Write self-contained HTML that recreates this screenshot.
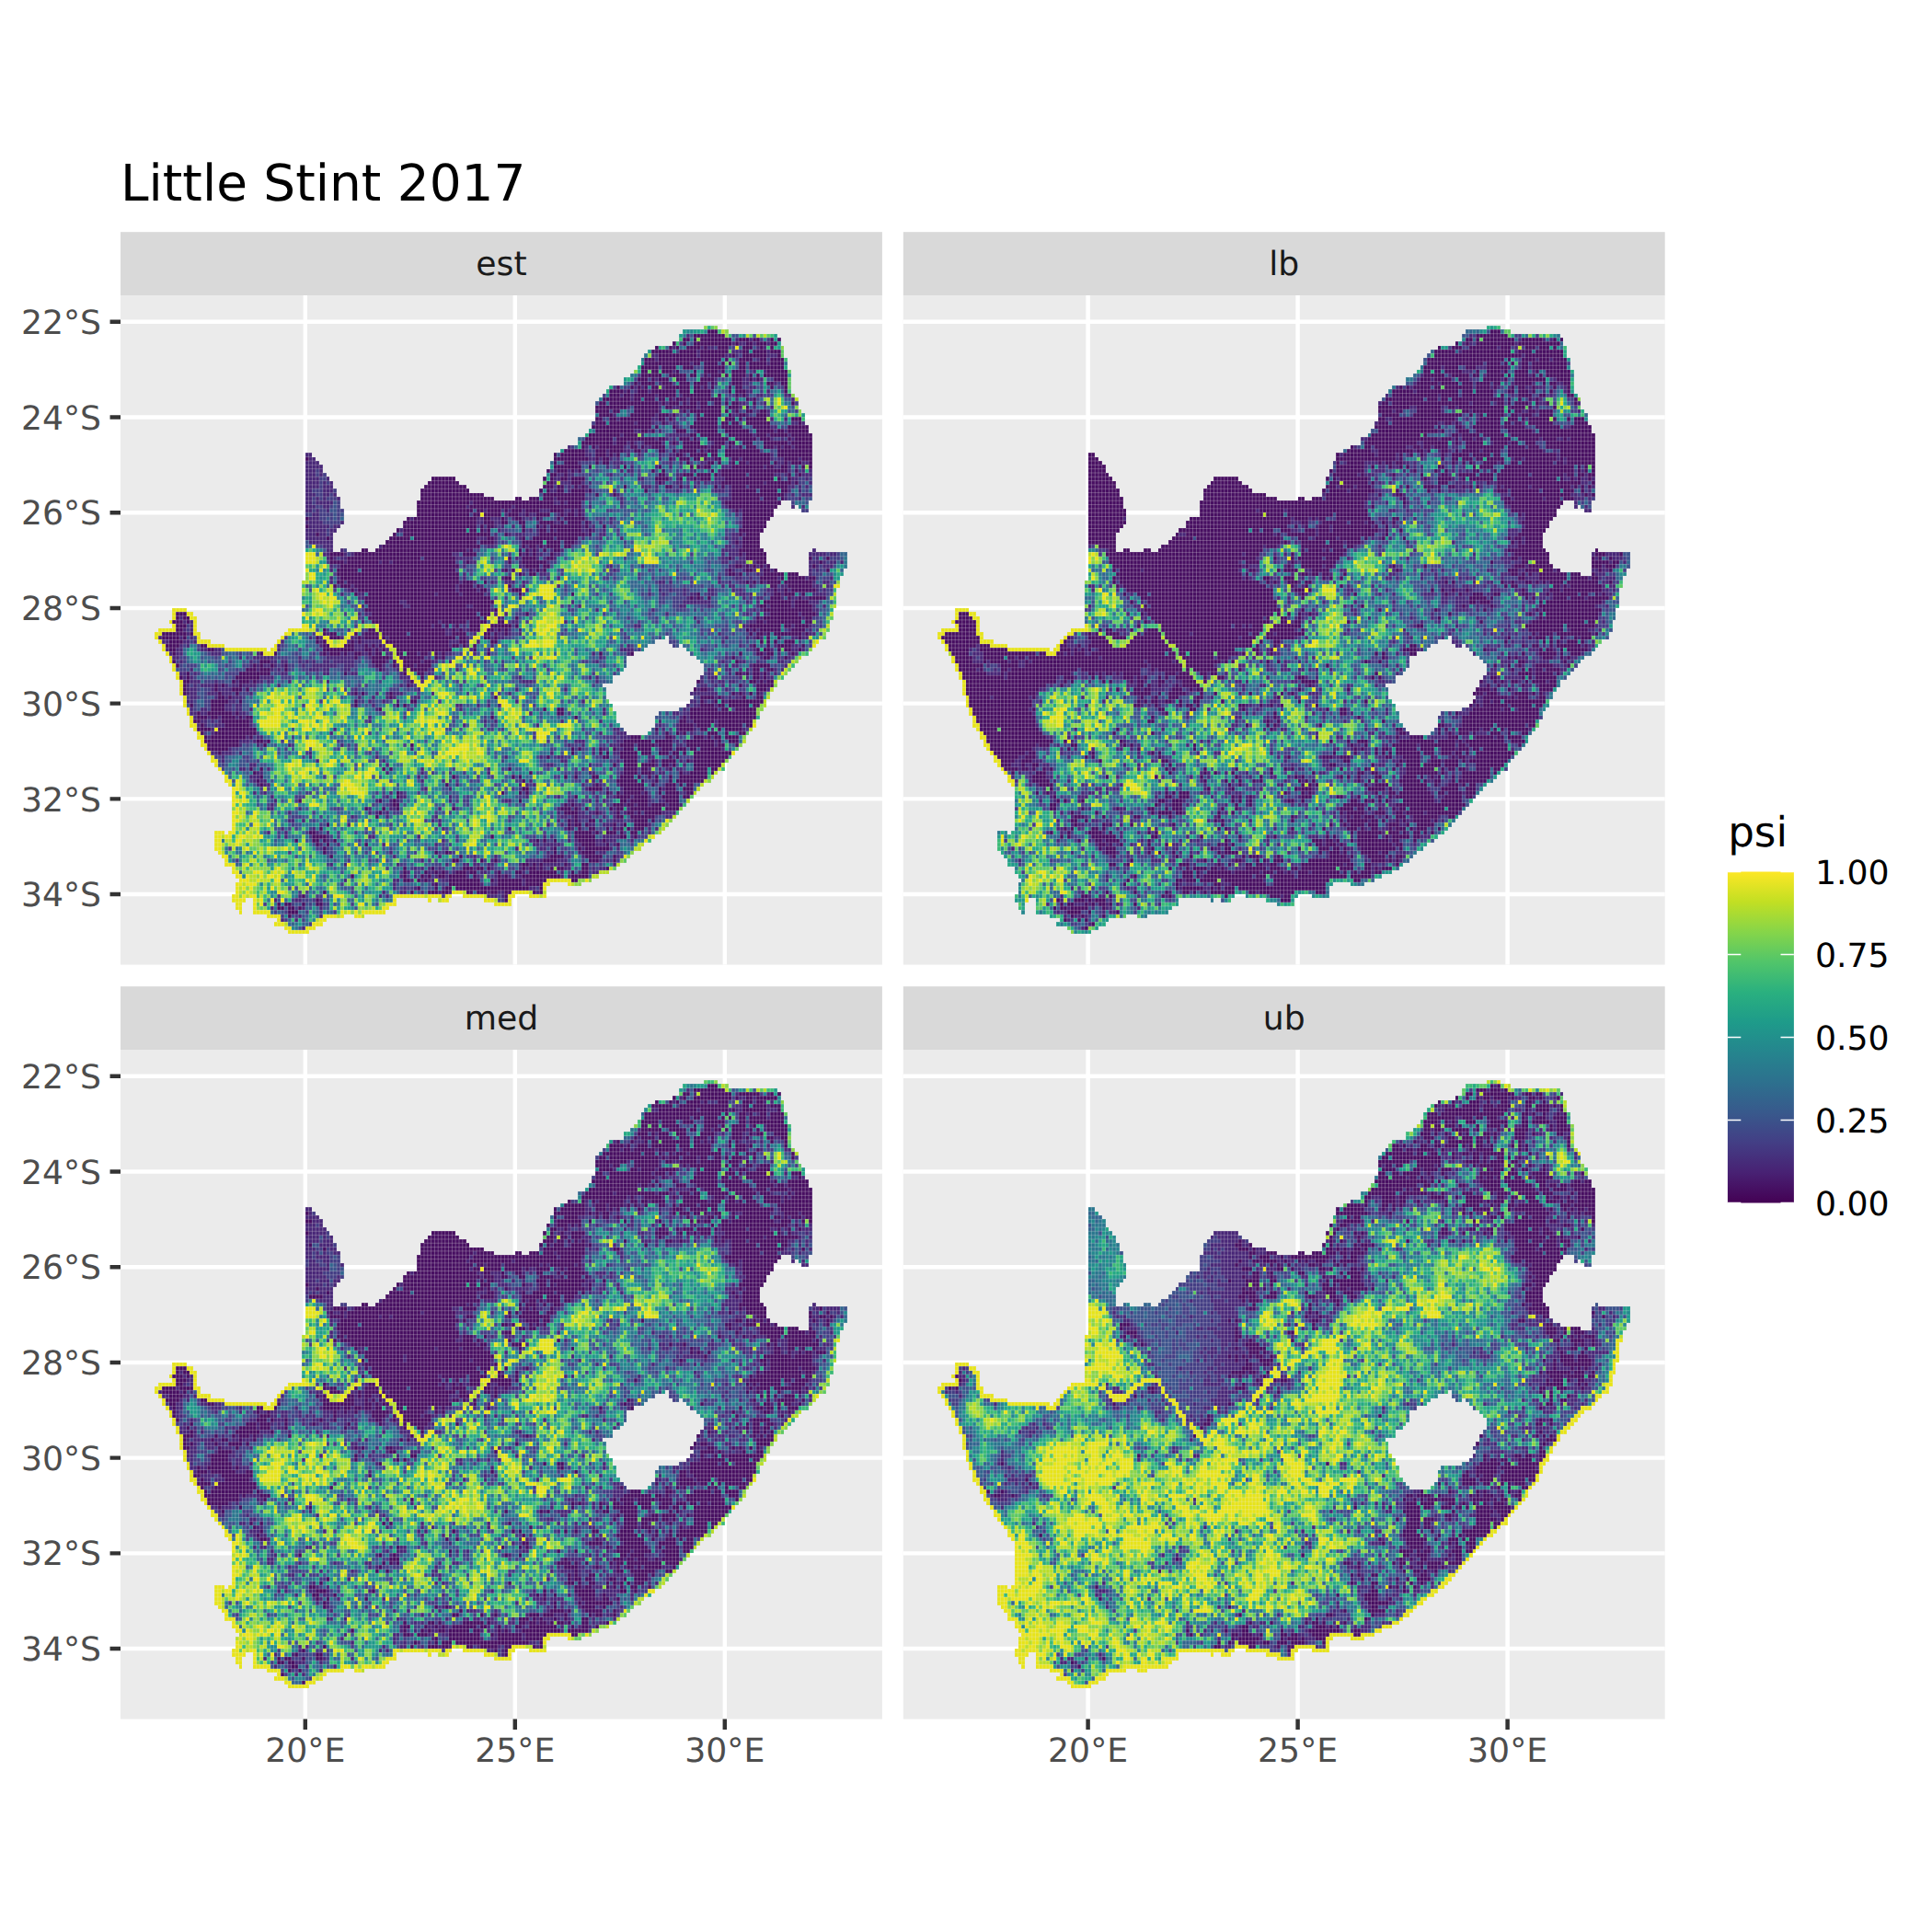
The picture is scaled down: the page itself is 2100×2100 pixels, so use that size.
<!DOCTYPE html>
<html><head><meta charset="utf-8"><title>Little Stint 2017</title>
<style>html,body{margin:0;padding:0;background:#fff}svg{display:block}text{font-family:'DejaVu Sans','Liberation Sans',sans-serif;text-rendering:geometricPrecision}</style></head>
<body>
<svg width="2100" height="2100" viewBox="0 0 2100 2100">
<rect x="0" y="0" width="2100" height="2100" fill="#fff"/>
<text x="131" y="218" font-size="54.9" fill="#000">Little Stint 2017</text>
<rect x="131.0" y="252.2" width="827.9" height="68.8" fill="#d9d9d9"/>
<text x="545.0" y="299.2" font-size="36.2" fill="#1a1a1a" text-anchor="middle">est</text>
<rect x="131.0" y="321.0" width="827.9" height="727.6" fill="#ebebeb"/>
<path d="M131.0 349.75h827.9M131.0 453.47h827.9M131.0 557.19h827.9M131.0 660.91h827.9M131.0 764.63h827.9M131.0 868.35h827.9M131.0 972.07h827.9M331.80 321.0v727.6M559.80 321.0v727.6M787.80 321.0v727.6" stroke="#fff" stroke-width="4.45" fill="none"/>
<defs><path id="mk" d="M162 1h4v1h-4zM156 2h13v1h-13zM155 3h28v1h-28zM155 4h29v1h-29zM153 5h31v1h-31zM148 6h37v1h-37zM146 7h39v1h-39zM145 8h40v1h-40zM144 9h42v1h-42zM144 10h42v1h-42zM143 11h43v1h-43zM142 12h45v1h-45zM141 13h46v1h-46zM139 14h48v1h-48zM139 15h48v1h-48zM135 16h52v1h-52zM134 17h53v1h-53zM133 18h55v1h-55zM132 19h57v1h-57zM131 20h58v1h-58zM131 21h58v1h-58zM131 22h59v1h-59zM131 23h60v1h-60zM131 24h60v1h-60zM130 25h61v1h-61zM130 26h62v1h-62zM129 27h63v1h-63zM128 28h65v1h-65zM126 29h67v1h-67zM126 30h67v1h-67zM123 31h70v1h-70zM121 32h72v1h-72zM48 33h2v1h-2zM119 33h74v1h-74zM48 34h3v1h-3zM119 34h74v1h-74zM48 35h4v1h-4zM118 35h75v1h-75zM48 36h5v1h-5zM118 36h75v1h-75zM48 37h5v1h-5zM117 37h76v1h-76zM48 38h6v1h-6zM117 38h76v1h-76zM48 39h7v1h-7zM84 39h7v1h-7zM116 39h77v1h-77zM48 40h8v1h-8zM83 40h9v1h-9zM116 40h77v1h-77zM48 41h8v1h-8zM82 41h12v1h-12zM116 41h77v1h-77zM48 42h9v1h-9zM81 42h14v1h-14zM115 42h78v1h-78zM48 43h9v1h-9zM81 43h18v1h-18zM115 43h78v1h-78zM48 44h10v1h-10zM81 44h21v1h-21zM108 44h2v1h-2zM112 44h81v1h-81zM48 45h10v1h-10zM80 45h104v1h-104zM187 45h5v1h-5zM48 46h10v1h-10zM80 46h103v1h-103zM187 46h1v1h-1zM189 46h3v1h-3zM48 47h11v1h-11zM80 47h102v1h-102zM190 47h2v1h-2zM48 48h11v1h-11zM80 48h102v1h-102zM48 49h11v1h-11zM77 49h104v1h-104zM48 50h11v1h-11zM76 50h104v1h-104zM48 51h10v1h-10zM76 51h104v1h-104zM48 52h9v1h-9zM74 52h105v1h-105zM48 53h8v1h-8zM73 53h105v1h-105zM48 54h8v1h-8zM72 54h106v1h-106zM48 55h8v1h-8zM71 55h107v1h-107zM48 56h8v1h-8zM69 56h109v1h-109zM48 57h8v1h-8zM58 57h2v1h-2zM64 57h2v1h-2zM68 57h111v1h-111zM193 57h1v1h-1zM48 58h132v1h-132zM192 58h11v1h-11zM48 59h132v1h-132zM192 59h11v1h-11zM48 60h132v1h-132zM192 60h11v1h-11zM48 61h133v1h-133zM192 61h11v1h-11zM48 62h135v1h-135zM192 62h10v1h-10zM48 63h141v1h-141zM192 63h10v1h-10zM48 64h153v1h-153zM47 65h154v1h-154zM47 66h154v1h-154zM47 67h153v1h-153zM47 68h153v1h-153zM47 69h153v1h-153zM47 70h153v1h-153zM47 71h153v1h-153zM10 72h4v1h-4zM47 72h152v1h-152zM10 73h6v1h-6zM47 73h152v1h-152zM10 74h7v1h-7zM47 74h152v1h-152zM9 75h8v1h-8zM47 75h151v1h-151zM10 76h7v1h-7zM47 76h151v1h-151zM6 77h11v1h-11zM43 77h155v1h-155zM5 78h13v1h-13zM42 78h155v1h-155zM5 79h13v1h-13zM41 79h110v1h-110zM152 79h45v1h-45zM6 80h15v1h-15zM40 80h108v1h-108zM152 80h43v1h-43zM7 81h18v1h-18zM39 81h107v1h-107zM153 81h2v1h-2zM156 81h38v1h-38zM7 82h30v1h-30zM38 82h107v1h-107zM157 82h36v1h-36zM8 83h134v1h-134zM158 83h34v1h-34zM9 84h131v1h-131zM160 84h30v1h-30zM9 85h131v1h-131zM161 85h28v1h-28zM10 86h130v1h-130zM162 86h26v1h-26zM10 87h129v1h-129zM162 87h25v1h-25zM11 88h127v1h-127zM162 88h24v1h-24zM11 89h125v1h-125zM161 89h24v1h-24zM12 90h124v1h-124zM160 90h23v1h-23zM12 91h121v1h-121zM160 91h23v1h-23zM12 92h122v1h-122zM159 92h23v1h-23zM12 93h122v1h-122zM158 93h23v1h-23zM13 94h121v1h-121zM159 94h22v1h-22zM13 95h122v1h-122zM158 95h22v1h-22zM13 96h123v1h-123zM157 96h23v1h-23zM14 97h122v1h-122zM155 97h24v1h-24zM14 98h123v1h-123zM149 98h29v1h-29zM15 99h122v1h-122zM148 99h30v1h-30zM15 100h122v1h-122zM148 100h29v1h-29zM15 101h123v1h-123zM148 101h29v1h-29zM16 102h123v1h-123zM147 102h29v1h-29zM17 103h123v1h-123zM146 103h29v1h-29zM17 104h157v1h-157zM18 105h156v1h-156zM18 106h155v1h-155zM19 107h153v1h-153zM20 108h151v1h-151zM21 109h149v1h-149zM21 110h148v1h-148zM22 111h146v1h-146zM23 112h145v1h-145zM24 113h142v1h-142zM25 114h140v1h-140zM25 115h139v1h-139zM26 116h136v1h-136zM27 117h134v1h-134zM27 118h133v1h-133zM27 119h132v1h-132zM27 120h131v1h-131zM27 121h130v1h-130zM27 122h129v1h-129zM27 123h128v1h-128zM27 124h127v1h-127zM27 125h126v1h-126zM27 126h125v1h-125zM27 127h124v1h-124zM22 128h3v1h-3zM26 128h124v1h-124zM22 129h126v1h-126zM22 130h125v1h-125zM22 131h123v1h-123zM22 132h122v1h-122zM23 133h119v1h-119zM24 134h117v1h-117zM25 135h115v1h-115zM25 136h113v1h-113zM27 137h110v1h-110zM27 138h108v1h-108zM28 139h104v1h-104zM29 140h101v1h-101zM28 141h90v1h-90zM123 141h4v1h-4zM28 142h89v1h-89zM28 143h89v1h-89zM27 144h63v1h-63zM93 144h15v1h-15zM112 144h5v1h-5zM27 145h4v1h-4zM33 145h41v1h-41zM83 145h1v1h-1zM86 145h3v1h-3zM99 145h8v1h-8zM28 146h2v1h-2zM33 146h41v1h-41zM102 146h5v1h-5zM28 147h2v1h-2zM33 147h39v1h-39zM29 148h1v1h-1zM33 148h38v1h-38zM37 149h22v1h-22zM62 149h3v1h-3zM40 150h14v1h-14zM39 151h14v1h-14zM42 152h9v1h-9zM43 153h6v1h-6z"/><clipPath id="cp"><use href="#mk"/></clipPath><g id="sm" clip-path="url(#cp)" stroke="#ebebeb" fill="none"><path stroke-opacity=".3" stroke-width=".24" d="M0 0v162M1 0v162M2 0v162M3 0v162M4 0v162M5 0v162M6 0v162M7 0v162M8 0v162M9 0v162M10 0v162M11 0v162M12 0v162M13 0v162M14 0v162M15 0v162M16 0v162M17 0v162M18 0v162M19 0v162M20 0v162M21 0v162M22 0v162M23 0v162M24 0v162M25 0v162M26 0v162M27 0v162M28 0v162M29 0v162M30 0v162M31 0v162M32 0v162M33 0v162M34 0v162M35 0v162M36 0v162M37 0v162M38 0v162M39 0v162M40 0v162M41 0v162M42 0v162M43 0v162M44 0v162M45 0v162M46 0v162M47 0v162M48 0v162M49 0v162M50 0v162M51 0v162M52 0v162M53 0v162M54 0v162M55 0v162M56 0v162M57 0v162M58 0v162M59 0v162M60 0v162M61 0v162M62 0v162M63 0v162M64 0v162M65 0v162M66 0v162M67 0v162M68 0v162M69 0v162M70 0v162M71 0v162M72 0v162M73 0v162M74 0v162M75 0v162M76 0v162M77 0v162M78 0v162M79 0v162M80 0v162M81 0v162M82 0v162M83 0v162M84 0v162M85 0v162M86 0v162M87 0v162M88 0v162M89 0v162M90 0v162M91 0v162M92 0v162M93 0v162M94 0v162M95 0v162M96 0v162M97 0v162M98 0v162M99 0v162M100 0v162M101 0v162M102 0v162M103 0v162M104 0v162M105 0v162M106 0v162M107 0v162M108 0v162M109 0v162M110 0v162M111 0v162M112 0v162M113 0v162M114 0v162M115 0v162M116 0v162M117 0v162M118 0v162M119 0v162M120 0v162M121 0v162M122 0v162M123 0v162M124 0v162M125 0v162M126 0v162M127 0v162M128 0v162M129 0v162M130 0v162M131 0v162M132 0v162M133 0v162M134 0v162M135 0v162M136 0v162M137 0v162M138 0v162M139 0v162M140 0v162M141 0v162M142 0v162M143 0v162M144 0v162M145 0v162M146 0v162M147 0v162M148 0v162M149 0v162M150 0v162M151 0v162M152 0v162M153 0v162M154 0v162M155 0v162M156 0v162M157 0v162M158 0v162M159 0v162M160 0v162M161 0v162M162 0v162M163 0v162M164 0v162M165 0v162M166 0v162M167 0v162M168 0v162M169 0v162M170 0v162M171 0v162M172 0v162M173 0v162M174 0v162M175 0v162M176 0v162M177 0v162M178 0v162M179 0v162M180 0v162M181 0v162M182 0v162M183 0v162M184 0v162M185 0v162M186 0v162M187 0v162M188 0v162M189 0v162M190 0v162M191 0v162M192 0v162M193 0v162M194 0v162M195 0v162M196 0v162M197 0v162M198 0v162M199 0v162M200 0v162M201 0v162M202 0v162M203 0v162M204 0v162M205 0v162M206 0v162M207 0v162M208 0v162M209 0v162M210 0v162"/><path stroke-opacity=".3" stroke-width=".21" d="M0 0h210M0 1h210M0 2h210M0 3h210M0 4h210M0 5h210M0 6h210M0 7h210M0 8h210M0 9h210M0 10h210M0 11h210M0 12h210M0 13h210M0 14h210M0 15h210M0 16h210M0 17h210M0 18h210M0 19h210M0 20h210M0 21h210M0 22h210M0 23h210M0 24h210M0 25h210M0 26h210M0 27h210M0 28h210M0 29h210M0 30h210M0 31h210M0 32h210M0 33h210M0 34h210M0 35h210M0 36h210M0 37h210M0 38h210M0 39h210M0 40h210M0 41h210M0 42h210M0 43h210M0 44h210M0 45h210M0 46h210M0 47h210M0 48h210M0 49h210M0 50h210M0 51h210M0 52h210M0 53h210M0 54h210M0 55h210M0 56h210M0 57h210M0 58h210M0 59h210M0 60h210M0 61h210M0 62h210M0 63h210M0 64h210M0 65h210M0 66h210M0 67h210M0 68h210M0 69h210M0 70h210M0 71h210M0 72h210M0 73h210M0 74h210M0 75h210M0 76h210M0 77h210M0 78h210M0 79h210M0 80h210M0 81h210M0 82h210M0 83h210M0 84h210M0 85h210M0 86h210M0 87h210M0 88h210M0 89h210M0 90h210M0 91h210M0 92h210M0 93h210M0 94h210M0 95h210M0 96h210M0 97h210M0 98h210M0 99h210M0 100h210M0 101h210M0 102h210M0 103h210M0 104h210M0 105h210M0 106h210M0 107h210M0 108h210M0 109h210M0 110h210M0 111h210M0 112h210M0 113h210M0 114h210M0 115h210M0 116h210M0 117h210M0 118h210M0 119h210M0 120h210M0 121h210M0 122h210M0 123h210M0 124h210M0 125h210M0 126h210M0 127h210M0 128h210M0 129h210M0 130h210M0 131h210M0 132h210M0 133h210M0 134h210M0 135h210M0 136h210M0 137h210M0 138h210M0 139h210M0 140h210M0 141h210M0 142h210M0 143h210M0 144h210M0 145h210M0 146h210M0 147h210M0 148h210M0 149h210M0 150h210M0 151h210M0 152h210M0 153h210M0 154h210M0 155h210M0 156h210M0 157h210M0 158h210M0 159h210M0 160h210M0 161h210M0 162h210"/></g></defs><g transform="translate(149.40 349.75) scale(3.8000 4.3217)">
<g fill="none" stroke-width="1" shape-rendering="crispEdges">
<use href="#mk" fill="#470e61"/>
<path stroke="#482677" d="M157 3.5h1m13 1h1m3 0h1m-6 1h1m1 0h2m2 0h1m3 0h1m-28 1h1m7 0h1m1 0h2m12 0h1m1 0h1m-20 1h1m9 0h3m7 0h1m-34 1h2m11 0h1m7 0h2m1 0h1m8 0h3m-35 1h1m28 0h1m-20 1h1m21 0h1m-28 2h1m12 0h1m9 0h1m2 0h1m-17 1h1m-16 1h1m16 0h1m7 0h2m1 0h1m1 0h1m-36 1h1m5 0h1m15 0h1m7 0h2m7 0h1m-41 1h1m1 0h1m5 0h1m10 0h1m13 0h2m-38 1h1m2 0h1m3 0h1m27 0h2m4 0h1m-43 1h1m2 0h1m6 0h1m6 0h1m16 0h1m1 0h1m2 0h2m6 0h2m-46 1h1m11 0h1m3 0h1m10 0h1m2 0h1m3 0h1m11 0h1m-39 1h1m1 0h1m5 0h1m2 0h1m11 0h2m5 0h1m-40 1h1m8 0h1m3 0h2m5 0h1m11 0h1m3 0h1m4 0h1m-33 1h1m5 0h1m14 0h1m6 0h1m2 0h1m-45 1h1m11 0h1m3 0h1m4 0h1m12 0h2m2 0h1m5 0h1m-44 1h1m9 0h2m4 0h1m27 0h1m3 0h1m-44 1h1m4 0h1m3 0h1m1 0h1m33 0h2m1 0h1m-37 1h1m26 0h2m-41 1h2m2 0h1m2 0h1m9 0h1m22 0h1m2 0h1m-48 1h1m5 0h1m7 0h6m18 0h1m3 0h1m5 0h1m-39 1h1m2 0h1m1 0h1m6 0h1m20 0h1m2 0h1m2 0h1m-52 1h1m3 0h1m1 0h1m1 0h1m5 0h1m1 0h1m1 0h1m9 0h1m21 0h1m-64 1h1m4 0h1m2 0h1m7 0h1m5 0h2m16 0h1m6 0h2m10 0h1m1 0h1m2 0h1m-60 1h1m5 0h1m4 0h2m4 0h1m16 0h1m-115 1h2m78 0h2m4 0h1m1 0h1m3 0h1m2 0h1m5 0h1m2 0h2m2 0h1m24 0h1m-133 1h2m78 0h2m1 0h1m2 0h1m1 0h1m11 0h1m3 0h1m9 0h2m7 0h1m8 0h1m1 0h2m4 0h1m-142 1h4m74 0h1m9 0h3m13 0h1m2 0h1m5 0h2m6 0h1m4 0h1m8 0h2m1 0h1m3 0h2m-144 1h5m81 0h1m2 0h1m3 0h1m6 0h1m3 0h1m8 0h1m5 0h3m9 0h1m2 0h2m2 0h1m1 0h1m-141 1h3m1 0h1m66 0h1m3 0h1m1 0h1m12 0h1m1 0h2m16 0h2m6 0h1m19 0h1m3 0h1m1 0h1m-145 1h3m1 0h1m67 0h2m1 0h2m10 0h1m18 0h2m10 0h1m15 0h2m1 0h1m2 0h1m1 0h3m-145 1h4m2 0h1m64 0h2m2 0h1m19 0h2m9 0h1m2 0h2m1 0h1m4 0h3m19 0h2m2 0h1m-144 1h4m1 0h1m1 0h1m63 0h1m1 0h3m3 0h1m1 0h1m18 0h1m1 0h1m3 0h2m4 0h1m1 0h1m2 0h2m12 0h1m7 0h1m4 0h1m-145 1h4m1 0h3m67 0h1m2 0h1m1 0h1m15 0h3m1 0h1m8 0h1m1 0h1m9 0h1m16 0h2m1 0h1m1 0h1m-144 1h2m3 0h3m62 0h2m3 0h1m4 0h1m7 0h1m11 0h1m5 0h1m10 0h3m1 0h1m16 0h1m2 0h1m-142 1h3m2 0h2m1 0h1m80 0h1m31 0h1m15 0h1m1 0h1m2 0h3m-145 1h2m1 0h1m1 0h1m3 0h1m61 0h1m18 0h1m28 0h3m15 0h1m3 0h1m-142 1h2m1 0h5m39 0h1m23 0h2m1 0h1m15 0h1m28 0h1m-120 1h3m2 0h2m39 0h1m12 0h1m21 0h1m38 0h1m18 0h1m2 0h1m-143 1h2m1 0h1m2 0h1m44 0h1m6 0h1m3 0h1m4 0h3m4 0h2m1 0h1m1 0h1m42 0h1m1 0h1m-123 1h2m53 0h1m3 0h2m1 0h2m6 0h1m1 0h1m2 0h1m1 0h1m43 0h1m-123 1h3m26 0h1m18 0h2m2 0h3m1 0h1m1 0h1m2 0h1m1 0h1m2 0h1m19 0h1m-88 1h5m5 0h1m38 0h2m3 0h2m15 0h2m8 0h1m2 0h1m2 0h1m36 0h1m-124 1h6m1 0h2m44 0h1m1 0h1m2 0h1m7 0h1m11 0h1m2 0h1m-83 1h6m1 0h2m18 0h1m23 0h1m3 0h1m8 0h1m1 0h1m4 0h1m7 0h2m1 0h1m2 0h1m-86 1h3m1 0h2m1 0h1m46 0h1m3 0h1m1 0h3m3 0h1m13 0h1m3 0h2m36 0h2m1 0h1m-126 1h6m1 0h1m41 0h3m2 0h1m6 0h1m17 0h1m4 0h1m5 0h1m29 0h1m1 0h2m-123 1h7m46 0h1m22 0h1m44 0h1m1 0h1m-120 1h3m13 0h1m30 0h2m9 0h1m2 0h1m1 0h1m51 0h2m1 0h2m-119 1h2m2 0h1m35 0h1m17 0h1m1 0h1m3 0h1m2 0h1m45 0h5m21 0h1m-141 1h2m4 0h1m1 0h1m28 0h2m18 0h1m1 0h1m1 0h2m3 0h2m46 0h1m1 0h3m1 0h1m18 0h5m1 0h2m-146 1h1m1 0h1m1 0h2m31 0h5m12 0h1m5 0h1m1 0h1m2 0h1m47 0h2m1 0h1m1 0h2m20 0h1m-136 1h1m9 0h1m2 0h1m20 0h1m1 0h2m12 0h1m7 0h1m49 0h2m2 0h3m2 0h1m15 0h3m1 0h1m1 0h2m1 0h1m-147 1h1m1 0h1m35 0h1m15 0h2m24 0h1m8 0h1m24 0h2m2 0h1m1 0h1m1 0h1m1 0h1m12 0h1m1 0h1m1 0h3m-144 1h1m48 0h1m8 0h1m1 0h1m20 0h1m31 0h1m1 0h1m2 0h1m2 0h1m1 0h1m2 0h1m10 0h1m1 0h1m-102 1h1m16 0h1m4 0h2m51 0h1m2 0h1m2 0h1m2 0h2m13 0h1m-138 1h1m1 0h1m35 0h1m10 0h1m12 0h1m2 0h1m45 0h1m4 0h2m2 0h1m7 0h1m7 0h1m6 0h1m-144 1h1m36 0h1m3 0h1m4 0h1m3 0h3m2 0h1m38 0h2m1 0h1m13 0h1m2 0h1m2 0h2m1 0h1m3 0h1m13 0h1m2 0h2m-137 1h1m29 0h1m6 0h1m11 0h1m9 0h1m46 0h1m1 0h2m4 0h1m8 0h2m7 0h2m2 0h1m-138 1h1m1 0h1m28 0h1m5 0h1m13 0h1m37 0h1m2 0h1m3 0h1m6 0h2m5 0h1m1 0h1m7 0h2m1 0h2m1 0h1m7 0h1m1 0h1m-139 1h1m4 0h2m20 0h1m6 0h1m7 0h1m45 0h1m3 0h1m5 0h1m1 0h2m3 0h2m7 0h2m1 0h1m3 0h1m1 0h1m2 0h1m8 0h4m-134 1h2m44 0h1m47 0h1m1 0h1m1 0h1m11 0h1m1 0h1m1 0h2m5 0h1m2 0h2m1 0h2m-117 1h2m47 0h1m31 0h8m10 0h1m2 0h1m9 0h1m4 0h3m-131 1h1m11 0h2m16 0h2m30 0h1m28 0h2m6 0h1m13 0h1m2 0h1m6 0h1m5 0h1m2 0h1m-96 1h1m29 0h1m15 0h1m28 0h1m1 0h1m14 0h2m-132 1h1m1 0h2m35 0h1m2 0h1m45 0h1m22 0h1m2 0h1m1 0h2m8 0h1m4 0h1m-183 1h1m90 0h2m54 0h1m18 0h1m11 0h1m-178 1h1m1 0h1m48 0h1m21 0h1m20 0h2m13 0h1m37 0h1m14 0h2m2 0h1m-165 1h1m68 0h1m5 0h1m2 0h1m48 0h2m29 0h2m12 0h1m4 0h1m-180 1h1m1 0h1m72 0h2m1 0h1m1 0h2m7 0h1m1 0h1m1 0h1m2 0h1m65 0h1m1 0h1m8 0h1m5 0h1m-179 1h1m39 0h1m9 0h1m23 0h2m6 0h1m6 0h2m1 0h1m2 0h1m56 0h1m12 0h1m10 0h1m1 0h2m-188 1h1m5 0h1m2 0h1m33 0h1m2 0h1m5 0h1m2 0h2m1 0h1m6 0h1m22 0h1m6 0h1m1 0h2m63 0h1m5 0h1m1 0h1m1 0h1m8 0h2m1 0h2m-185 1h2m4 0h2m1 0h1m24 0h1m10 0h1m7 0h1m1 0h1m1 0h6m19 0h3m2 0h1m2 0h1m69 0h1m-156 1h1m1 0h1m25 0h1m11 0h1m9 0h3m1 0h1m1 0h1m1 0h1m18 0h1m4 0h1m6 0h1m38 0h1m31 0h1m2 0h1m6 0h1m4 0h2m-181 1h1m2 0h2m5 0h2m2 0h2m16 0h1m21 0h3m2 0h1m1 0h1m1 0h1m23 0h1m4 0h1m37 0h4m19 0h1m14 0h1m4 0h1m5 0h2m1 0h1m-182 1h1m1 0h2m8 0h3m10 0h1m17 0h1m1 0h1m3 0h1m1 0h2m2 0h2m1 0h1m3 0h2m7 0h1m2 0h1m2 0h1m1 0h2m6 0h1m33 0h1m9 0h1m38 0h1m3 0h1m2 0h1m1 0h1m-179 1h2m17 0h1m3 0h6m7 0h1m7 0h8m4 0h1m5 0h1m10 0h1m2 0h1m45 0h1m35 0h1m9 0h1m4 0h1m2 0h1m-175 1h1m19 0h1m5 0h2m1 0h2m3 0h1m1 0h1m1 0h1m2 0h2m1 0h6m9 0h1m9 0h1m2 0h2m3 0h1m41 0h1m35 0h1m4 0h2m3 0h1m5 0h2m-153 1h1m1 0h1m1 0h2m1 0h1m1 0h1m5 0h1m2 0h7m2 0h3m5 0h1m2 0h1m3 0h1m4 0h1m88 0h1m1 0h2m3 0h1m9 0h1m-171 1h1m18 0h1m3 0h1m1 0h1m8 0h3m1 0h2m4 0h2m9 0h1m3 0h1m8 0h2m6 0h1m71 0h1m4 0h2m2 0h1m1 0h1m4 0h1m2 0h1m1 0h1m-173 1h2m2 0h1m24 0h2m10 0h2m6 0h2m12 0h1m7 0h1m79 0h1m5 0h1m3 0h1m4 0h1m1 0h1m1 0h1m-170 1h1m1 0h1m19 0h4m36 0h3m7 0h1m23 0h1m19 0h1m1 0h1m29 0h1m1 0h3m6 0h1m1 0h1m3 0h1m1 0h2m-167 1h3m4 0h1m5 0h1m3 0h1m1 0h2m1 0h1m5 0h1m10 0h1m22 0h1m3 0h1m28 0h3m18 0h1m29 0h1m2 0h1m1 0h2m1 0h2m6 0h1m1 0h1m-166 1h1m1 0h1m1 0h4m1 0h1m1 0h1m1 0h2m1 0h4m6 0h1m34 0h1m2 0h1m82 0h2m2 0h1m1 0h1m-154 1h3m4 0h1m1 0h4m35 0h1m17 0h1m27 0h1m13 0h1m37 0h1m2 0h2m3 0h1m11 0h1m-167 1h3m3 0h3m1 0h3m5 0h1m28 0h1m6 0h1m2 0h1m1 0h3m8 0h1m21 0h1m51 0h8m5 0h1m1 0h1m4 0h1m-164 1h2m5 0h1m2 0h1m1 0h3m33 0h1m3 0h1m3 0h1m1 0h1m5 0h2m84 0h1m1 0h1m1 0h1m1 0h2m-159 1h2m10 0h2m38 0h1m3 0h1m3 0h1m33 0h1m18 0h1m30 0h2m2 0h1m1 0h1m3 0h1m-144 1h2m1 0h2m37 0h1m23 0h2m4 0h1m2 0h1m2 0h1m53 0h1m1 0h2m4 0h1m-151 1h1m2 0h2m5 0h2m1 0h2m2 0h1m35 0h1m23 0h1m40 0h1m22 0h1m-142 1h2m1 0h2m7 0h1m1 0h2m81 0h1m20 0h1m19 0h2m1 0h2m-142 1h1m3 0h1m2 0h1m4 0h1m1 0h1m35 0h1m88 0h1m1 0h1m-140 1h2m1 0h1m1 0h1m8 0h1m33 0h1m32 0h1m2 0h1m18 0h1m10 0h1m16 0h1m7 0h2m6 0h1m-149 1h1m1 0h1m2 0h3m7 0h1m60 0h1m20 0h1m34 0h1m4 0h1m4 0h1m5 0h1m-145 1h1m34 0h1m79 0h2m12 0h1m3 0h1m4 0h1m4 0h1m8 0h1m-153 1h1m33 0h1m76 0h1m4 0h3m8 0h1m6 0h1m2 0h1m-139 1h1m10 0h1m2 0h2m100 0h1m1 0h3m12 0h1m8 0h1m-134 1h3m1 0h1m2 0h1m88 0h3m9 0h2m15 0h1m1 0h1m8 0h1m-137 1h1m4 0h1m8 0h1m14 0h1m64 0h1m3 0h1m7 0h3m10 0h1m5 0h2m9 0h1m-140 1h1m51 0h1m51 0h1m2 0h1m3 0h2m10 0h1m17 0h1m-147 1h2m1 0h3m2 0h1m19 0h1m68 0h1m11 0h1m5 0h2m-114 1h1m24 0h1m18 0h1m36 0h1m9 0h1m4 0h2m24 0h2m-124 1h1m26 0h1m18 0h1m50 0h2m14 0h1m8 0h1m1 0h1m6 0h1m2 0h1m-127 1h2m37 0h1m45 0h2m10 0h1m18 0h1m3 0h1m3 0h1m-128 1h2m6 0h1m43 0h1m18 0h1m19 0h1m6 0h1m7 0h1m10 0h1m2 0h1m1 0h1m2 0h2m-122 1h2m35 0h1m9 0h1m18 0h1m24 0h1m3 0h2m7 0h1m8 0h1m1 0h2m5 0h2m-126 1h3m45 0h1m-48 1h1m1 0h2m44 0h1m5 0h1m24 0h1m15 0h1m1 0h1m1 0h1m14 0h1m-114 1h1m1 0h2m53 0h1m17 0h1m1 0h1m1 0h1m13 0h1m2 0h1m1 0h1m4 0h1m-56 1h1m6 0h1m38 0h1m5 0h1m3 0h1m11 0h1m-118 1h1m2 0h1m35 0h1m2 0h1m54 0h1m4 0h1m2 0h1m5 0h1m11 0h1m-119 1h1m32 0h1m3 0h2m12 0h1m21 0h1m8 0h1m10 0h1m2 0h1m1 0h1m4 0h1m4 0h1m-108 1h1m28 0h1m3 0h1m1 0h1m14 0h1m15 0h2m16 0h2m4 0h1m1 0h1m1 0h1m6 0h1m5 0h1m2 0h2m-113 1h1m33 0h1m50 0h1m1 0h2m12 0h1m2 0h1m3 0h1m4 0h1m3 0h1m-119 1h2m7 0h1m19 0h1m5 0h2m12 0h1m33 0h1m5 0h1m4 0h1m4 0h1m3 0h1m-98 1h1m22 0h1m1 0h1m2 0h1m48 0h1m5 0h2m1 0h2m1 0h1m3 0h1m2 0h1m2 0h1m7 0h4m-93 1h1m9 0h1m13 0h1m35 0h2m1 0h1m1 0h4m3 0h1m2 0h1m14 0h2m-110 1h2m2 0h1m36 0h1m1 0h1m33 0h1m3 0h1m1 0h1m5 0h1m3 0h3m2 0h1m-82 1h1m25 0h1m30 0h1m3 0h1m2 0h1m4 0h2m2 0h3m2 0h1m7 0h1m-106 1h1m8 0h1m36 0h1m34 0h1m1 0h1m12 0h1m8 0h1m1 0h1m-112 1h1m4 0h1m8 0h1m2 0h1m75 0h1m13 0h1m1 0h1m-105 1h1m11 0h1m11 0h2m12 0h1m35 0h1m1 0h1m14 0h5m3 0h1m-88 1h1m32 0h1m24 0h2m9 0h1m1 0h1m5 0h2m1 0h3m4 0h1m-90 1h1m4 0h1m12 0h1m14 0h1m27 0h2m1 0h5m4 0h2m4 0h3m2 0h1m-29 1h1m6 0h2m1 0h1m8 0h1m7 0h1m1 0h1m-66 1h1m16 0h1m27 0h1m3 0h1m4 0h1m5 0h2m-61 1h1m12 0h1m9 0h1m5 0h1m14 0h1m5 0h1m3 0h1m9 0h1m-57 1h1m14 0h1m4 0h1m9 0h5m4 0h3m9 0h1m1 0h1m-80 1h1m3 0h1m14 0h1m13 0h1m4 0h2m1 0h2m2 0h2m7 0h1m2 0h1m1 0h1m1 0h5m2 0h1m12 0h1m-58 1h1m1 0h1m1 0h1m2 0h1m9 0h1m4 0h1m7 0h1m1 0h1m2 0h1m1 0h1m5 0h2m6 0h1m1 0h2m-57 1h1m5 0h2m1 0h1m1 0h1m1 0h1m3 0h1m3 0h2m2 0h1m7 0h1m10 0h1m4 0h1m3 0h2m-57 1h1m3 0h1m2 0h1m2 0h1m2 0h1m5 0h1m2 0h1m4 0h1m1 0h1m1 0h1m1 0h2m11 0h1m1 0h1m-65 1h1m13 0h2m3 0h1m2 0h1m1 0h2m2 0h2m13 0h1m7 0h1m-38 1h1m10 0h1m13 0h1m2 0h2m7 0h1m-38 1h1m2 0h1m2 0h1m7 0h1m24 0h2m-44 1h1m4 0h2m4 0h1m4 0h1m2 0h1m10 0h1m2 0h2m9 0h1m-69 1h1m22 0h1m1 0h1m28 0h3m1 0h1m-66 1h1m5 0h2m5 0h1m-15 2h1m8 0h1m4 0h1m-7 2h1m5 0h1m-12 1h1m3 0h1m1 2h1"/>
<path stroke="#433d84" d="M178 4.5h1m1 0h1m-26 1h1m9 1h1m4 0h1m-17 1h1m17 1h1m-2 1h1m4 0h1m3 0h1m-22 2h2m14 1h1m-33 1h1m17 0h1m12 0h1m-33 1h1m3 0h1m20 0h1m13 0h1m-41 1h1m11 0h1m9 0h1m5 0h1m5 0h1m2 0h1m4 0h1m-48 1h1m2 0h2m22 0h1m9 0h2m3 0h1m4 0h2m-44 1h1m22 0h1m3 0h1m9 0h1m-46 1h1m35 0h2m9 0h2m-5 1h1m-23 1h1m8 0h1m9 0h1m3 0h1m9 0h1m-10 1h1m-45 1h1m21 0h1m14 0h1m3 0h1m11 0h1m-35 1h2m3 0h1m15 0h1m-43 1h1m17 0h1m3 0h2m2 0h1m-30 1h1m17 0h2m2 0h1m1 0h1m0 1h1m28 0h1m-32 1h1m4 0h1m16 0h1m-25 1h1m-16 1h1m15 0h1m5 0h1m18 0h1m4 0h2m1 0h1m-43 1h1m19 0h1m4 0h1m-45 1h1m15 0h1m2 0h1m8 0h2m14 0h1m-40 1h2m10 0h1m2 0h1m6 0h1m2 0h1m5 0h1m17 0h1m2 0h1m-52 1h1m13 0h1m5 0h1m-15 1h1m6 0h1m25 0h1m12 0h1m-56 1h3m2 0h1m2 0h1m3 0h1m1 0h1m8 0h2m6 0h1m-23 1h1m18 0h1m-105 1h1m79 0h1m11 0h1m10 0h1m1 0h1m32 0h1m-139 1h1m1 0h1m72 0h2m1 0h1m4 0h1m4 0h1m1 0h1m1 0h1m4 0h1m2 0h1m32 0h1m-133 1h2m84 0h1m13 0h1m31 0h1m4 0h2m1 0h1m-141 1h1m1 0h1m79 0h1m9 0h1m8 0h1m3 0h1m1 0h1m3 0h2m24 0h2m-139 1h1m66 0h1m2 0h1m1 0h1m28 0h2m1 0h1m3 0h1m5 0h1m1 0h1m5 0h1m-125 1h3m3 0h1m73 0h1m20 0h3m1 0h1m1 0h1m6 0h1m3 0h1m22 0h1m-141 1h2m2 0h1m73 0h1m5 0h1m50 0h1m2 0h1m-140 1h1m1 0h1m1 0h3m71 0h2m7 0h1m28 0h1m11 0h1m7 0h3m2 0h1m-142 1h1m6 0h1m69 0h1m1 0h1m57 0h1m-137 1h2m2 0h1m1 0h1m69 0h1m10 0h1m28 0h1m-118 1h1m1 0h2m3 0h2m45 0h1m29 0h2m33 0h1m20 0h2m-144 1h2m2 0h4m1 0h1m37 0h1m23 0h1m52 0h1m-121 1h2m1 0h1m1 0h1m53 0h1m7 0h1m1 0h1m6 0h1m2 0h3m2 0h1m35 0h1m-120 1h5m56 0h1m12 0h1m43 0h1m-117 1h1m41 0h1m1 0h1m3 0h1m13 0h1m11 0h1m6 0h1m35 0h1m-119 1h1m49 0h2m5 0h1m5 0h1m14 0h1m4 0h1m30 0h1m1 0h1m-117 1h1m52 0h1m3 0h3m23 0h1m30 0h2m-62 1h1m3 0h1m6 0h1m9 0h1m1 0h1m37 0h1m2 0h1m-76 1h1m6 0h1m4 0h1m16 0h1m12 0h1m29 0h1m-119 1h2m46 0h1m2 0h1m6 0h1m14 0h1m6 0h1m38 0h1m-112 1h1m36 0h2m-38 1h1m45 0h1m9 0h2m13 0h1m26 0h1m38 0h1m2 0h1m-144 1h1m23 0h1m19 0h1m7 0h1m29 0h1m26 0h1m26 0h1m2 0h1m1 0h3m-147 1h1m36 0h1m13 0h1m12 0h2m38 0h1m4 0h1m6 0h1m26 0h1m-142 1h1m48 0h2m8 0h1m18 0h1m60 0h1m-105 1h1m2 0h2m6 0h1m3 0h1m3 0h2m9 0h1m13 0h1m1 0h1m8 0h1m2 0h1m4 0h1m8 0h1m7 0h2m20 0h1m1 0h2m-141 1h1m38 0h1m10 0h1m10 0h1m3 0h1m13 0h1m7 0h1m22 0h1m8 0h2m16 0h3m-98 1h2m15 0h1m17 0h2m1 0h1m6 0h1m3 0h1m2 0h1m1 0h1m1 0h1m1 0h1m1 0h1m11 0h1m2 0h2m1 0h2m16 0h1m1 0h2m-139 1h1m42 0h1m8 0h1m36 0h1m9 0h1m8 0h2m2 0h1m5 0h1m-121 1h1m38 0h1m25 0h1m26 0h4m3 0h1m1 0h1m2 0h1m2 0h1m11 0h1m6 0h1m11 0h1m2 0h1m-143 1h1m2 0h1m40 0h1m5 0h1m15 0h1m23 0h1m3 0h2m1 0h3m1 0h1m7 0h1m5 0h1m1 0h1m5 0h1m15 0h1m1 0h2m-100 1h1m10 0h1m20 0h1m3 0h1m8 0h1m4 0h1m1 0h1m2 0h2m1 0h1m4 0h1m2 0h1m5 0h1m2 0h1m5 0h1m8 0h1m7 0h1m-96 1h1m2 0h1m43 0h2m2 0h4m-97 1h1m74 0h1m13 0h2m2 0h3m19 0h1m-75 1h1m19 0h1m1 0h1m29 0h2m6 0h2m1 0h1m5 0h1m1 0h1m-109 1h1m44 0h1m13 0h2m10 0h1m18 0h3m2 0h1m1 0h1m10 0h1m1 0h2m1 0h1m-119 1h1m48 0h3m22 0h1m12 0h1m26 0h1m1 0h1m-113 1h2m75 0h1m7 0h1m18 0h1m8 0h1m16 0h2m-101 1h1m11 0h1m4 0h1m12 0h1m18 0h1m4 0h1m22 0h2m1 0h1m20 0h1m-182 1h1m47 0h1m24 0h1m4 0h1m14 0h1m60 0h1m24 0h1m1 0h1m-182 1h1m39 0h1m5 0h1m3 0h2m56 0h1m15 0h1m22 0h1m1 0h1m3 0h2m3 0h1m12 0h1m5 0h1m2 0h1m-145 1h1m44 0h1m5 0h1m5 0h2m12 0h1m17 0h1m11 0h1m9 0h1m1 0h1m3 0h1m2 0h1m3 0h1m1 0h1m-161 1h1m25 0h1m52 0h1m9 0h2m32 0h2m8 0h1m17 0h1m7 0h1m-161 1h1m136 0h2m18 0h1m1 0h1m14 0h1m2 0h1m-180 1h1m3 0h1m23 0h1m50 0h1m45 0h1m2 0h1m11 0h1m8 0h1m2 0h1m2 0h1m4 0h1m4 0h1m10 0h1m2 0h1m-176 1h1m28 0h1m4 0h1m91 0h1m18 0h1m11 0h2m-156 1h1m8 0h1m2 0h1m12 0h1m4 0h1m39 0h1m1 0h1m75 0h1m1 0h1m5 0h1m-165 1h2m8 0h1m8 0h1m7 0h4m6 0h1m3 0h1m9 0h1m1 0h1m16 0h1m24 0h1m4 0h1m20 0h1m35 0h1m1 0h2m8 0h1m2 0h1m2 0h1m-177 1h1m1 0h1m12 0h1m6 0h2m12 0h1m1 0h1m5 0h1m6 0h2m2 0h1m20 0h1m11 0h1m2 0h1m1 0h1m22 0h2m1 0h1m35 0h1m1 0h1m9 0h2m5 0h2m-175 1h1m1 0h3m8 0h1m4 0h2m8 0h1m2 0h2m1 0h1m1 0h2m7 0h2m3 0h1m3 0h1m5 0h1m31 0h1m11 0h1m16 0h1m30 0h1m1 0h1m15 0h1m1 0h1m-173 1h2m9 0h1m4 0h1m10 0h1m1 0h1m1 0h1m3 0h2m3 0h1m5 0h1m3 0h1m5 0h1m2 0h1m1 0h1m30 0h1m8 0h1m3 0h1m19 0h1m26 0h1m10 0h1m-161 1h1m1 0h1m7 0h4m10 0h2m7 0h1m2 0h1m8 0h1m10 0h1m10 0h1m1 0h1m45 0h1m5 0h1m25 0h1m1 0h1m10 0h1m-160 1h1m8 0h1m1 0h1m13 0h3m5 0h1m1 0h1m18 0h1m15 0h1m12 0h1m8 0h1m58 0h5m-153 1h3m1 0h2m13 0h1m30 0h1m6 0h1m14 0h1m1 0h1m15 0h1m3 0h1m49 0h1m1 0h1m5 0h1m1 0h1m-159 1h1m1 0h1m8 0h1m36 0h1m1 0h1m10 0h1m2 0h1m12 0h1m5 0h1m12 0h1m18 0h1m29 0h1m3 0h1m4 0h1m3 0h2m1 0h1m-160 1h1m1 0h2m9 0h1m2 0h1m22 0h1m2 0h1m1 0h1m10 0h3m2 0h1m1 0h1m89 0h1m2 0h2m-155 1h1m7 0h1m1 0h3m31 0h1m1 0h1m14 0h1m13 0h1m6 0h1m1 0h1m65 0h1m-156 1h1m2 0h1m1 0h1m10 0h1m47 0h1m34 0h1m45 0h2m7 0h1m1 0h1m5 0h1m-161 1h1m2 0h2m7 0h1m23 0h1m10 0h2m2 0h1m3 0h1m14 0h1m13 0h1m59 0h1m2 0h1m-148 1h1m2 0h2m6 0h1m19 0h1m13 0h1m11 0h1m3 0h1m1 0h1m33 0h1m44 0h1m-143 1h1m3 0h1m6 0h1m49 0h2m50 0h1m27 0h1m8 0h1m3 0h1m-140 1h1m38 0h1m30 0h1m21 0h1m27 0h1m3 0h1m-80 1h1m22 0h1m53 0h1m-134 1h1m1 0h1m42 0h1m24 0h1m-71 1h2m77 0h1m1 0h1m33 0h1m12 0h1m1 0h1m-62 1h1m10 0h2m2 0h1m22 0h1m24 0h1m7 0h1m13 0h1m-156 1h1m14 0h1m31 0h1m46 0h1m14 0h1m7 0h1m13 0h1m1 0h1m6 0h1m1 0h1m-129 1h1m10 0h1m68 0h1m6 0h1m12 0h3m1 0h1m8 0h5m4 0h1m2 0h1m5 0h1m-133 1h1m8 0h1m15 0h1m59 0h1m4 0h1m11 0h1m1 0h1m16 0h1m-123 1h1m3 0h1m8 0h1m15 0h1m1 0h1m13 0h1m45 0h1m1 0h2m6 0h2m8 0h1m13 0h1m-130 1h2m6 0h1m6 0h1m14 0h1m4 0h1m55 0h1m6 0h1m1 0h1m6 0h1m-108 1h1m20 0h1m17 0h1m1 0h1m83 0h1m-131 1h2m6 0h2m15 0h1m68 0h1m2 0h1m2 0h2m7 0h2m3 0h2m15 0h1m1 0h4m-136 1h1m7 0h1m2 0h1m69 0h1m30 0h2m1 0h1m17 0h1m-133 1h1m91 0h1m5 0h1m8 0h2m4 0h1m-114 1h1m65 0h1m13 0h1m12 0h1m7 0h1m11 0h1m5 0h1m12 0h1m-73 1h1m4 0h1m3 0h1m28 0h1m3 0h1m10 0h1m5 0h1m8 0h1m-100 1h1m28 0h1m8 0h1m5 0h1m3 0h1m17 0h2m14 0h1m1 0h1m7 0h1m1 0h1m2 0h1m-119 1h1m56 0h1m1 0h1m3 0h1m1 0h1m10 0h2m15 0h2m18 0h2m4 0h1m-50 1h1m9 0h1m20 0h1m14 0h1m1 0h1m-116 1h1m1 0h1m43 0h1m25 0h1m1 0h1m35 0h1m-111 1h1m12 0h2m18 0h1m1 0h1m5 0h1m3 0h1m29 0h1m12 0h1m8 0h1m13 0h1m1 0h1m6 0h1m-111 1h3m22 0h1m20 0h1m2 0h1m14 0h2m8 0h1m3 0h1m4 0h1m6 0h1m12 0h2m-105 1h1m29 0h1m15 0h1m1 0h2m9 0h1m20 0h1m1 0h2m5 0h1m12 0h1m-111 1h1m29 0h1m3 0h1m18 0h1m3 0h1m15 0h1m10 0h1m5 0h1m3 0h2m1 0h2m-80 1h2m33 0h1m32 0h1m-75 1h1m19 0h1m2 0h2m10 0h1m3 0h1m31 0h1m11 0h1m1 0h1m2 0h1m5 0h1m-101 1h3m5 0h1m9 0h1m43 0h1m11 0h1m1 0h1m2 0h1m7 0h1m16 0h1m-99 1h1m31 0h1m23 0h1m15 0h1m4 0h2m5 0h2m4 0h1m8 0h1m-106 1h1m7 0h1m19 0h1m64 0h1m-95 1h1m1 0h1m3 0h1m35 0h1m2 0h1m26 0h1m11 0h1m4 0h1m8 0h1m-102 1h1m7 0h1m3 0h1m4 0h1m4 0h1m2 0h1m1 0h1m48 0h1m6 0h1m8 0h1m6 0h1m-100 1h1m8 0h1m5 0h1m1 0h1m33 0h1m19 0h1m1 0h1m9 0h1m19 0h3m-91 1h1m7 0h1m27 0h1m23 0h1m1 0h2m-32 1h1m1 0h1m25 0h1m5 0h1m13 0h1m5 0h1m-116 1h1m24 0h2m1 0h2m10 0h1m5 0h1m10 0h1m1 0h1m1 0h2m25 0h1m6 0h2m2 0h1m-83 1h1m10 0h2m6 0h1m2 0h1m2 0h1m10 0h1m6 0h2m2 0h1m23 0h1m3 0h1m4 0h1m7 0h1m5 0h2m-62 1h1m16 0h2m20 0h1m5 0h1m11 0h1m3 0h1m-111 1h1m31 0h1m5 0h1m1 0h1m14 0h1m15 0h1m3 0h1m23 0h1m5 0h1m1 0h1m1 0h1m-84 1h1m20 0h2m8 0h2m34 0h1m8 0h1m1 0h1m-62 1h1m6 0h1m1 0h1m4 0h1m1 0h1m2 0h1m1 0h1m9 0h1m3 0h2m9 0h1m11 0h1m1 0h1m-57 1h1m3 0h2m19 0h1m4 0h2m22 0h1m-53 1h1m6 0h1m13 0h1m1 0h2m-16 1h1m-29 1h1m28 0h1m-27 1h1m13 0h1m1 0h2m4 0h1m30 0h1m-69 1h1m1 0h1m12 0h1m-22 1h1m10 0h2m34 0h1m15 0h1m-60 1h1m2 0h2m1 0h1m52 0h2m-69 1h1m7 0h1m4 0h1m3 0h2m6 0h1m-17 1h1m-7 1h1m2 0h1m5 0h1m3 0h1m3 0h1m-16 1h1m3 0h1m-4 1h1m4 0h1m1 1h1"/>
<path stroke="#3b528b" d="M158 3.5h1m11 0h2m4 0h1m-19 2h1m10 1h1m6 0h1m-11 4h1m4 0h1m-23 1h1m11 0h1m9 0h1m2 0h1m-20 1h3m-7 1h1m5 1h3m6 0h1m13 0h1m-33 1h1m16 1h1m2 0h1m8 0h1m-11 1h1m16 0h1m-21 1h1m3 0h1m6 0h2m2 0h1m-32 1h1m20 0h1m15 0h2m-56 1h1m45 0h1m-37 1h1m26 0h1m6 0h1m11 0h1m-48 1h1m32 0h1m12 0h1m-47 1h1m35 0h1m-43 1h1m38 0h1m-17 1h1m14 0h1m8 0h2m2 0h1m-36 1h1m6 0h1m8 0h1m8 0h1m9 0h1m-38 1h1m1 0h1m-24 2h1m49 1h1m-1 1h1m-30 1h1m3 0h1m29 0h1m-63 1h1m18 0h1m2 0h1m4 0h1m3 0h1m5 0h1m24 0h1m-39 1h1m-24 1h1m8 0h1m9 0h1m12 0h1m6 0h1m-34 1h1m3 0h1m3 0h1m7 0h1m-26 1h1m8 0h1m2 0h1m1 0h1m15 0h1m3 0h1m8 0h1m1 0h1m23 0h1m-63 1h1m2 0h1m7 0h2m8 0h1m27 0h1m-47 1h1m1 0h1m4 0h1m9 0h2m38 0h1m-58 1h1m2 0h2m12 0h2m5 0h1m-24 1h1m7 0h1m9 0h1m14 0h1m25 0h1m1 0h1m1 0h1m-71 1h1m8 0h2m1 0h1m4 0h1m1 0h1m4 0h2m12 0h1m16 0h1m12 0h1m-76 1h1m12 0h1m1 0h1m7 0h1m7 0h1m19 0h3m-39 1h1m8 0h1m1 0h2m3 0h2m2 0h2m40 0h1m-137 1h1m76 0h1m5 0h1m2 0h1m2 0h1m45 0h1m-136 1h1m82 0h1m-85 1h2m39 0h1m39 0h2m1 0h4m2 0h1m-90 1h1m1 0h1m80 0h1m15 0h1m13 0h1m-116 1h1m1 0h1m49 0h1m6 0h1m4 0h1m19 0h1m2 0h1m29 0h1m-66 1h1m1 0h1m13 0h1m7 0h1m2 0h2m1 0h2m5 0h1m24 0h1m-60 1h1m25 0h1m9 0h1m-40 1h2m5 0h1m17 0h1m37 0h1m-96 1h2m25 0h1m29 0h1m13 0h1m-43 1h1m22 0h1m3 0h1m3 0h1m-87 1h1m54 0h1m1 0h1m1 0h2m12 0h1m10 0h1m8 0h1m-94 1h1m49 0h1m26 0h1m13 0h1m25 0h1m-113 1h1m61 0h1m1 0h1m6 0h1m6 0h2m8 0h1m11 0h1m-62 1h1m11 0h1m16 0h1m-26 1h1m25 0h1m39 0h1m1 0h1m6 0h1m29 0h1m-101 1h1m5 0h1m57 0h2m2 0h1m-78 1h1m1 0h3m21 0h1m18 0h1m3 0h1m5 0h1m6 0h1m8 0h1m3 0h2m30 0h1m-80 1h1m12 0h1m7 0h1m5 0h1m14 0h1m1 0h1m2 0h1m-60 1h1m2 0h1m22 0h1m1 0h1m7 0h1m2 0h1m7 0h2m2 0h1m4 0h1m2 0h1m29 0h2m-107 1h1m7 0h3m6 0h1m6 0h1m32 0h1m1 0h1m3 0h1m1 0h1m10 0h2m25 0h1m-96 1h1m44 0h1m8 0h1m8 0h1m6 0h1m24 0h1m2 0h2m-152 1h1m51 0h1m6 0h1m1 0h1m19 0h1m1 0h1m14 0h1m6 0h1m1 0h1m1 0h1m1 0h2m2 0h1m8 0h2m-125 1h1m83 0h1m10 0h1m13 0h3m5 0h2m10 0h1m-119 1h1m61 0h1m22 0h1m1 0h1m4 0h1m24 0h2m19 0h1m-140 1h1m85 0h2m4 0h2m21 0h1m4 0h2m4 0h1m11 0h1m-135 1h1m51 0h1m23 0h1m24 0h2m29 0h1m-148 1h1m12 0h2m41 0h1m20 0h1m16 0h1m6 0h1m9 0h2m4 0h1m10 0h1m17 0h1m-133 1h2m48 0h1m33 0h1m1 0h1m4 0h1m3 0h1m5 0h1m31 0h2m-133 1h1m32 0h1m14 0h2m10 0h1m12 0h1m9 0h1m5 0h1m8 0h1m4 0h1m28 0h1m-99 1h1m8 0h1m1 0h1m2 0h1m15 0h1m17 0h2m12 0h2m33 0h1m-134 1h1m37 0h1m40 0h1m5 0h1m20 0h1m1 0h1m23 0h1m-101 1h1m40 0h1m4 0h2m8 0h1m2 0h1m5 0h1m1 0h1m3 0h3m3 0h1m22 0h1m-144 1h1m5 0h2m48 0h1m17 0h1m16 0h1m9 0h1m1 0h1m7 0h1m2 0h1m5 0h1m1 0h1m-126 1h1m9 0h1m18 0h1m44 0h1m15 0h1m13 0h1m11 0h1m3 0h2m3 0h1m21 0h1m-182 1h1m35 0h1m40 0h1m15 0h1m2 0h1m24 0h1m11 0h1m4 0h1m9 0h1m2 0h1m6 0h1m11 0h1m-77 1h1m26 0h1m3 0h1m14 0h1m14 0h2m5 0h1m6 0h1m-142 1h1m2 0h1m2 0h1m2 0h1m102 0h1m6 0h1m1 0h1m3 0h1m23 0h1m-168 1h1m16 0h1m10 0h1m46 0h1m25 0h1m16 0h1m20 0h2m26 0h1m-173 1h1m4 0h2m2 0h1m2 0h1m8 0h1m3 0h1m1 0h1m2 0h1m41 0h1m5 0h1m1 0h1m1 0h2m22 0h1m10 0h1m1 0h2m18 0h1m7 0h1m-149 1h1m2 0h1m1 0h1m2 0h1m5 0h1m10 0h3m4 0h1m1 0h1m35 0h2m40 0h1m34 0h3m9 0h1m-158 1h1m1 0h2m6 0h1m13 0h2m5 0h2m12 0h1m31 0h1m2 0h1m7 0h1m23 0h1m6 0h1m29 0h1m5 0h1m-163 1h1m9 0h1m2 0h1m44 0h1m12 0h1m6 0h2m6 0h1m32 0h1m3 0h1m25 0h1m9 0h1m8 0h1m1 0h1m-173 1h1m2 0h1m9 0h1m1 0h2m1 0h2m13 0h1m1 0h1m9 0h2m3 0h1m10 0h1m26 0h2m2 0h1m1 0h1m2 0h2m1 0h1m71 0h1m-161 1h1m14 0h1m10 0h1m6 0h1m1 0h1m11 0h1m3 0h1m12 0h1m78 0h1m1 0h1m14 0h1m-166 1h1m1 0h1m1 0h1m3 0h1m19 0h1m5 0h1m5 0h2m2 0h1m44 0h1m5 0h1m13 0h2m33 0h1m-138 1h2m9 0h1m4 0h1m10 0h1m7 0h1m2 0h1m43 0h1m24 0h2m28 0h1m9 0h1m-139 1h2m1 0h1m22 0h1m1 0h1m10 0h2m22 0h1m10 0h1m3 0h1m9 0h1m40 0h1m2 0h1m-149 1h1m13 0h1m2 0h1m18 0h1m8 0h2m11 0h1m1 0h1m13 0h1m11 0h1m9 0h1m52 0h1m2 0h1m-154 1h2m41 0h1m15 0h1m28 0h1m5 0h4m52 0h1m6 0h1m-157 1h1m1 0h2m10 0h1m13 0h1m11 0h1m3 0h1m38 0h1m5 0h1m17 0h1m-96 1h1m37 0h2m2 0h1m38 0h1m9 0h1m1 0h1m-110 1h1m2 0h1m12 0h2m31 0h1m1 0h1m2 0h1m25 0h1m15 0h1m-94 1h1m12 0h2m59 0h1m4 0h1m17 0h1m40 0h1m-87 1h1m6 0h1m16 0h1m21 0h1m14 0h1m18 0h1m-60 1h2m18 0h1m4 0h1m4 0h1m27 0h2m2 0h1m-55 1h1m1 0h2m24 0h1m27 0h1m-122 1h1m55 0h2m11 0h1m48 0h1m1 0h1m19 0h1m-130 1h1m43 0h1m3 0h1m5 0h1m4 0h1m26 0h1m7 0h1m8 0h1m-128 1h1m108 0h1m17 0h1m12 0h1m-30 1h2m23 0h1m-99 1h1m23 0h1m49 0h1m22 0h1m11 0h1m-138 1h1m1 0h1m6 0h1m76 0h1m9 0h1m43 0h1m-142 1h3m8 0h1m3 0h1m4 0h1m6 0h1m3 0h1m6 0h1m51 0h1m3 0h1m4 0h1m19 0h1m4 0h1m3 0h1m11 0h1m-142 1h1m3 0h1m7 0h1m2 0h1m18 0h1m2 0h1m6 0h1m6 0h1m4 0h1m17 0h1m18 0h1m3 0h1m1 0h1m-103 1h1m6 0h1m9 0h1m59 0h1m1 0h1m9 0h1m3 0h1m8 0h1m15 0h1m7 0h1m-127 1h2m2 0h2m1 0h2m32 0h2m1 0h1m45 0h2m15 0h2m11 0h1m3 0h1m-127 1h1m1 0h1m3 0h2m4 0h2m21 0h1m3 0h1m6 0h1m36 0h1m8 0h1m3 0h1m10 0h1m23 0h1m-128 1h1m3 0h1m1 0h1m28 0h1m42 0h1m2 0h2m6 0h1m5 0h1m5 0h1m4 0h1m4 0h1m11 0h1m-125 1h1m4 0h1m50 0h1m31 0h2m7 0h1m8 0h2m14 0h1m5 0h1m-99 1h1m10 0h1m1 0h1m7 0h1m16 0h1m5 0h1m4 0h1m2 0h1m15 0h1m1 0h1m17 0h1m6 0h1m2 0h1m-128 1h1m10 0h1m33 0h1m7 0h1m15 0h1m7 0h1m19 0h1m10 0h2m12 0h2m-120 1h1m1 0h1m12 0h1m27 0h1m6 0h1m21 0h1m17 0h1m6 0h2m16 0h1m2 0h1m4 0h1m4 0h2m-111 1h1m4 0h2m13 0h1m16 0h2m6 0h1m1 0h1m7 0h1m6 0h1m14 0h1m5 0h1m12 0h1m1 0h1m5 0h1m-109 1h1m4 0h1m1 0h1m28 0h1m5 0h1m1 0h1m14 0h1m6 0h1m14 0h1m1 0h1m3 0h1m-100 1h1m32 0h1m22 0h1m2 0h1m1 0h1m7 0h1m4 0h1m8 0h1m6 0h1m5 0h1m-93 1h1m2 0h1m28 0h1m64 0h1m12 0h1m-115 1h1m4 0h1m28 0h1m1 0h1m5 0h1m8 0h1m1 0h1m5 0h1m12 0h1m1 0h1m-61 1h1m6 0h1m2 0h1m54 0h1m5 0h1m12 0h2m-89 1h1m11 0h1m9 0h1m7 0h1m11 0h1m20 0h1m6 0h1m2 0h1m9 0h1m-86 1h1m3 0h1m36 0h1m22 0h1m2 0h1m19 0h1m3 0h1m5 0h1m8 0h2m-102 1h1m3 0h1m6 0h1m1 0h1m22 0h1m8 0h1m44 0h1m6 0h1m1 0h1m-104 1h2m6 0h1m66 0h1m1 0h1m4 0h1m4 0h1m14 0h1m-109 1h2m24 0h1m6 0h1m28 0h1m9 0h1m16 0h1m2 0h1m1 0h1m1 0h1m-100 1h1m51 0h1m16 0h3m29 0h1m7 0h1m-34 1h1m6 0h1m12 0h1m-94 1h1m8 0h1m3 0h1m12 0h1m8 0h1m2 0h1m1 0h2m7 0h1m32 0h1m18 0h1m-91 1h1m2 0h1m2 0h1m6 0h1m9 0h1m8 0h1m3 0h1m15 0h1m8 0h1m-66 1h1m23 0h1m13 0h1m6 0h1m25 0h1m5 0h1m-68 1h1m14 0h1m5 0h1m27 0h1m10 0h1m3 0h1m3 0h1m11 0h1m-92 1h1m3 0h1m4 0h1m4 0h1m6 0h1m30 0h1m5 0h1m9 0h1m21 0h1m-99 1h1m18 0h1m14 0h1m4 0h1m2 0h2m4 0h1m6 0h1m12 0h1m17 0h1m-46 1h1m3 0h1m1 0h1m6 0h1m7 0h1m2 0h1m3 0h1m22 0h1m-74 1h1m16 0h1m17 0h1m11 0h2m20 0h1m-68 1h1m30 0h1m7 0h1m13 0h1m11 0h1m-71 1h1m26 0h1m48 0h1m-32 1h1m-25 1h1m1 0h2m3 0h1m1 0h1m2 0h1m1 0h1m-46 1h1m1 0h1m13 0h1m14 0h1m6 0h1m2 0h1m-5 1h1m-33 1h1m5 0h1m7 0h1m-23 1h1m8 0h1m4 0h1m-10 1h2m1 0h1m7 0h1m11 0h1m-27 1h1m6 0h1m3 0h2m7 0h1m-22 1h1m2 1h1m2 0h1m-2 3h1"/>
<path stroke="#32658e" d="M157 5.5h1m-7 1h1m3 0h1m16 0h1m-12 4h1m12 0h1m-20 1h1m12 0h1m-12 2h1m-6 1h1m15 0h1m-29 1h1m17 0h1m-21 1h1m41 0h1m1 0h1m-17 1h1m14 0h1m-28 1h1m23 1h1m2 0h1m-48 1h1m28 0h1m3 0h1m13 0h1m-32 1h1m26 0h1m2 0h1m-40 1h1m10 0h1m34 0h1m-32 1h1m28 0h1m-31 2h1m27 0h1m-37 1h1m8 0h1m16 0h2m-24 1h1m5 0h1m9 0h1m-22 1h1m21 0h1m-43 1h1m27 0h1m0 1h1m16 0h1m3 0h1m1 0h1m-54 1h1m3 0h1m43 0h1m-8 1h1m-29 1h1m7 0h1m-9 1h1m11 0h1m7 0h1m-41 1h1m1 0h1m28 0h1m4 0h1m1 0h1m8 0h1m15 0h1m-54 1h1m3 0h2m16 0h1m3 0h1m34 0h1m-61 1h1m3 0h2m7 0h1m3 0h1m4 0h1m-22 1h2m1 0h1m6 0h1m12 0h1m-7 1h1m-18 1h1m4 0h1m2 0h2m3 0h1m12 0h1m4 0h1m29 0h1m-62 1h1m9 0h1m20 0h1m2 0h1m-32 1h1m3 0h1m11 0h1m8 0h1m28 0h1m4 0h1m-61 1h1m11 0h1m9 0h1m33 0h1m-58 1h1m51 0h1m6 0h1m-59 1h1m7 0h1m5 0h1m3 0h1m38 0h2m-63 1h1m7 0h1m6 0h1m-15 1h1m8 0h1m5 0h1m1 0h1m-14 1h2m5 0h1m3 0h1m13 0h1m9 0h1m-111 1h1m57 0h1m13 0h1m8 0h1m-33 1h1m3 0h2m18 0h1m10 0h1m1 0h1m25 0h1m-58 1h1m18 0h1m11 0h1m-37 1h1m27 0h1m7 0h1m5 0h1m4 0h1m15 0h1m-69 1h2m30 0h1m10 0h1m8 0h1m-50 1h1m4 0h1m16 0h1m38 0h1m-35 1h1m18 0h1m11 0h1m-44 1h1m4 0h1m3 0h1m1 0h1m7 0h1m14 0h1m1 0h1m-59 1h1m10 0h1m-60 1h1m45 0h2m2 0h1m38 0h2m9 0h1m11 0h2m3 0h1m32 0h2m-106 1h1m4 0h1m12 0h1m41 0h2m4 0h1m-56 1h1m53 0h1m1 0h1m35 0h1m-65 1h1m6 0h1m1 0h2m1 0h1m3 0h1m2 0h1m6 0h1m-100 1h1m29 0h1m2 0h1m47 0h1m5 0h1m5 0h1m3 0h1m5 0h1m34 0h1m-88 1h1m17 0h1m12 0h1m5 0h1m2 0h1m2 0h1m15 0h1m-118 1h1m37 0h1m16 0h2m24 0h1m6 0h1m3 0h1m15 0h2m1 0h1m-112 1h1m47 0h1m3 0h1m9 0h1m5 0h2m10 0h1m4 0h2m3 0h2m3 0h1m3 0h1m5 0h2m31 0h1m-146 1h1m4 0h1m46 0h1m21 0h1m17 0h4m3 0h1m5 0h1m7 0h1m16 0h1m-122 1h1m62 0h1m1 0h1m6 0h1m10 0h1m1 0h1m17 0h1m6 0h1m-110 1h1m47 0h2m12 0h1m8 0h1m12 0h1m9 0h1m7 0h1m6 0h1m-55 1h1m6 0h1m7 0h1m6 0h1m7 0h1m17 0h1m1 0h2m10 0h1m-72 1h1m39 0h1m5 0h2m19 0h2m23 0h2m-141 1h1m6 0h1m43 0h2m24 0h2m3 0h1m11 0h1m13 0h1m7 0h1m20 0h1m-149 1h1m60 0h1m16 0h1m10 0h2m3 0h1m7 0h1m2 0h1m9 0h1m2 0h1m2 0h1m28 0h1m-91 1h1m32 0h1m3 0h2m4 0h1m1 0h1m3 0h2m2 0h2m1 0h1m2 0h1m5 0h1m-36 1h1m1 0h1m1 0h1m9 0h1m11 0h1m4 0h1m2 0h1m24 0h1m-132 1h1m43 0h1m29 0h1m4 0h1m7 0h2m7 0h1m5 0h1m-47 1h1m11 0h1m5 0h1m15 0h1m4 0h1m2 0h1m32 0h1m-141 1h1m51 0h1m12 0h1m18 0h1m2 0h2m6 0h1m17 0h1m23 0h1m-147 1h1m46 0h1m28 0h2m21 0h2m1 0h2m9 0h1m10 0h2m-125 1h1m59 0h1m16 0h1m12 0h1m9 0h1m4 0h1m6 0h2m2 0h1m1 0h1m2 0h3m1 0h1m11 0h2m-138 1h2m52 0h1m32 0h1m10 0h1m12 0h1m2 0h1m4 0h1m2 0h1m1 0h1m1 0h1m14 0h1m-142 1h2m49 0h1m1 0h1m1 0h2m28 0h1m7 0h1m13 0h2m6 0h1m4 0h1m4 0h1m4 0h1m1 0h1m-169 1h1m28 0h1m5 0h1m53 0h1m2 0h1m22 0h1m4 0h1m3 0h1m33 0h1m10 0h1m-170 1h1m4 0h1m7 0h2m2 0h1m12 0h1m7 0h1m53 0h1m13 0h1m11 0h1m1 0h2m27 0h1m6 0h1m4 0h1m10 0h1m-172 1h1m4 0h2m7 0h1m18 0h2m15 0h1m25 0h1m2 0h1m1 0h1m14 0h1m18 0h1m1 0h1m7 0h1m33 0h1m1 0h2m5 0h1m-169 1h1m3 0h1m2 0h1m5 0h1m3 0h1m8 0h1m2 0h1m28 0h1m13 0h1m7 0h1m31 0h1m2 0h1m3 0h1m40 0h1m1 0h1m-160 1h1m6 0h1m2 0h1m17 0h1m17 0h2m31 0h1m3 0h1m10 0h1m12 0h1m14 0h1m23 0h1m3 0h1m-151 1h1m37 0h1m33 0h1m2 0h1m8 0h1m22 0h1m5 0h1m31 0h1m7 0h1m-153 1h1m2 0h1m28 0h1m1 0h1m2 0h1m16 0h1m20 0h1m7 0h1m6 0h1m4 0h1m11 0h1m44 0h1m10 0h1m-165 1h1m1 0h1m1 0h1m1 0h2m14 0h1m4 0h1m2 0h1m7 0h2m3 0h2m1 0h2m8 0h2m7 0h1m4 0h1m1 0h1m20 0h1m13 0h1m7 0h2m41 0h1m-158 1h1m21 0h1m7 0h1m10 0h1m2 0h1m5 0h1m6 0h1m12 0h1m1 0h1m11 0h1m3 0h1m1 0h1m21 0h1m3 0h1m33 0h1m-122 1h1m11 0h1m8 0h1m41 0h1m2 0h1m17 0h2m38 0h1m-107 1h1m2 0h2m51 0h1m43 0h1m-75 1h1m30 0h1m53 0h1m2 0h1m-127 1h1m10 0h1m17 0h2m24 0h1m3 0h1m15 0h1m4 0h1m41 0h1m-159 1h2m12 0h1m2 0h1m26 0h1m18 0h1m16 0h1m3 0h2m9 0h1m13 0h1m-109 1h1m47 0h1m2 0h1m23 0h1m1 0h1m2 0h2m2 0h1m24 0h1m4 0h1m-66 1h1m14 0h1m10 0h1m1 0h1m1 0h1m5 0h1m7 0h1m1 0h1m8 0h1m-91 1h1m23 0h1m9 0h1m1 0h1m21 0h1m4 0h1m21 0h1m4 0h1m3 0h1m-29 1h1m1 0h1m1 0h1m15 0h1m3 0h1m1 0h1m1 0h1m2 0h1m20 0h2m2 0h1m-45 1h1m4 0h1m-54 1h1m31 0h1m18 0h1m13 0h1m5 0h1m-65 1h1m4 0h1m54 0h1m5 0h1m13 0h1m-91 1h1m8 0h1m8 0h1m28 0h1m12 0h1m4 0h1m6 0h1m25 0h1m8 0h1m4 0h1m-136 1h2m10 0h1m7 0h1m1 0h1m1 0h1m58 0h1m6 0h1m1 0h1m16 0h1m-103 1h2m16 0h1m8 0h1m64 0h1m36 0h1m-135 1h1m18 0h1m60 0h1m34 0h1m15 0h1m-138 1h1m36 0h1m10 0h1m19 0h1m4 0h2m14 0h2m37 0h1m-130 1h1m10 0h1m42 0h1m14 0h1m3 0h1m2 0h1m7 0h2m-91 1h2m7 0h1m26 0h1m4 0h1m1 0h3m58 0h1m4 0h1m14 0h1m-33 1h3m10 0h1m11 0h1m-113 1h1m2 0h1m39 0h2m31 0h1m12 0h1m14 0h1m13 0h1m8 0h1m-134 1h2m9 0h1m1 0h1m85 0h1m5 0h1m17 0h1m9 0h1m-131 1h1m1 0h1m5 0h1m43 0h1m4 0h1m1 0h1m8 0h1m10 0h1m1 0h1m11 0h1m2 0h1m2 0h2m2 0h1m4 0h1m16 0h1m-128 1h1m4 0h1m4 0h2m68 0h1m4 0h2m14 0h1m1 0h1m23 0h1m-123 1h1m10 0h1m62 0h1m11 0h1m2 0h1m1 0h1m11 0h1m-83 1h1m3 0h2m31 0h1m2 0h1m24 0h1m17 0h1m20 0h1m-110 1h1m3 0h1m1 0h1m20 0h1m26 0h1m6 0h1m4 0h1m21 0h2m10 0h1m11 0h1m-123 1h2m28 0h1m19 0h1m1 0h1m1 0h1m4 0h1m31 0h1m7 0h1m13 0h1m-114 1h1m12 0h1m21 0h1m10 0h1m14 0h1m3 0h1m18 0h1m10 0h1m14 0h1m7 0h1m-122 1h1m2 0h1m19 0h1m13 0h1m5 0h1m1 0h1m10 0h1m16 0h1m8 0h1m5 0h1m32 0h2m-122 1h1m73 0h1m20 0h1m-96 1h1m9 0h1m1 0h1m13 0h1m6 0h1m6 0h1m16 0h1m2 0h1m14 0h1m4 0h1m11 0h1m1 0h1m-99 1h1m6 0h1m1 0h1m1 0h1m1 0h1m13 0h1m1 0h1m11 0h1m13 0h1m8 0h1m21 0h1m-70 1h1m5 0h1m8 0h1m8 0h1m20 0h1m38 0h1m-94 1h1m2 0h1m8 0h1m9 0h1m4 0h1m7 0h1m42 0h1m3 0h1m28 0h1m-119 1h1m6 0h1m3 0h1m13 0h1m11 0h1m1 0h1m4 0h1m13 0h1m21 0h1m-71 1h1m3 0h1m9 0h1m1 0h1m8 0h1m22 0h1m4 0h1m9 0h1m3 0h1m11 0h1m3 0h1m19 0h1m-105 1h1m5 0h1m5 0h1m36 0h1m18 0h1m9 0h1m4 0h1m22 0h1m-105 1h2m31 0h1m10 0h1m11 0h2m3 0h1m26 0h1m-83 1h1m8 0h1m3 0h1m3 0h1m1 0h1m29 0h2m24 0h1m12 0h1m5 0h1m-105 1h1m15 0h1m4 0h1m11 0h1m1 0h1m4 0h1m8 0h1m10 0h1m38 0h3m-77 1h2m7 0h1m3 0h1m19 0h1m22 0h1m15 0h1m4 0h1m-113 1h1m22 0h1m6 0h1m14 0h1m17 0h1m18 0h1m22 0h2m3 0h1m-80 1h1m3 0h1m4 0h1m2 0h1m11 0h1m6 0h1m9 0h1m10 0h1m20 0h1m-107 1h1m11 0h1m2 0h1m11 0h1m4 0h1m7 0h1m20 0h2m38 0h1m-101 1h2m16 0h1m19 0h1m5 0h1m10 0h1m5 0h1m2 0h1m5 0h1m8 0h2m15 0h1m6 0h1m1 0h1m-76 1h2m14 0h1m2 0h1m21 0h1m8 0h1m-80 1h1m43 0h1m30 0h1m15 0h1m4 0h1m-66 1h1m34 0h1m11 0h1m-67 1h1m11 0h1m21 0h1m-28 1h1m13 0h1m15 0h1m21 0h1m-52 1h1m2 0h1m5 0h1m1 0h1m4 0h1m16 0h1m-33 1h1m1 0h1m11 0h1m6 0h1m2 0h1m2 0h1m4 0h1m13 0h1m-27 1h1m1 0h1m-31 1h1m10 0h1m6 0h2m9 0h1m-22 1h1m-3 1h1m2 0h1m-14 1h1m1 0h1m5 0h2m3 0h1m2 0h2m-8 1h1m-6 1h1m-1 1h2m2 0h2"/>
<path stroke="#2a768e" d="M156 3.5h1m1 1h1m11 0h1m-15 2h1m-12 2h1m-2 1h1m25 0h1m14 1h1m-28 2h1m2 0h1m12 0h1m-34 1h2m7 0h1m25 0h1m-8 1h1m-3 1h1m9 0h1m-32 1h1m19 0h1m3 0h1m-17 1h1m22 0h1m4 0h1m-51 2h1m11 0h1m6 0h1m21 0h1m-5 1h1m15 0h2m-9 1h1m7 0h1m-49 1h1m42 0h1m-51 1h1m5 0h2m28 0h1m-11 1h1m11 1h1m14 0h1m-36 1h1m2 0h1m-23 1h1m21 0h1m13 0h1m9 0h1m-29 1h1m2 3h1m26 0h1m0 1h2m-33 1h1m2 1h1m-10 1h1m16 0h1m-20 1h1m1 0h1m8 0h1m13 0h1m21 0h1m-51 1h1m7 0h1m9 0h1m1 0h1m2 0h1m-23 1h1m8 0h1m39 0h1m-52 1h2m3 0h1m-2 1h1m6 0h1m3 0h1m-21 1h1m6 0h1m10 0h2m-1 1h1m5 0h1m31 0h1m-55 1h1m5 0h1m9 0h1m-15 1h1m-7 1h2m9 0h1m6 0h1m2 0h1m1 0h1m34 0h1m-59 1h1m1 0h1m8 0h2m3 0h1m21 1h1m-51 1h1m9 0h1m1 0h3m3 0h1m1 0h1m3 0h1m27 0h1m-54 1h1m11 0h1m4 0h1m9 0h1m1 0h1m22 0h2m-31 1h1m-36 1h1m5 0h2m18 0h1m5 0h1m4 0h1m-42 1h1m7 0h1m35 0h1m7 0h1m-24 1h1m3 0h1m3 0h2m14 0h1m4 0h1m2 0h1m3 0h1m-32 1h1m17 0h3m2 0h1m3 0h1m-36 1h1m2 0h2m8 0h1m14 0h1m4 0h1m7 0h1m-120 1h1m79 0h1m23 0h1m2 0h1m5 0h1m3 0h2m-116 1h1m45 0h1m23 0h1m4 0h1m2 0h1m-29 1h1m2 0h1m37 0h1m16 0h1m-54 1h1m32 0h2m7 0h1m2 0h1m2 0h1m5 0h1m3 0h1m29 0h1m6 0h1m-111 1h1m27 0h1m11 0h1m6 0h1m2 0h1m7 0h1m2 0h1m1 0h3m44 0h1m-99 1h1m28 0h1m8 0h1m16 0h3m3 0h2m35 0h1m-147 1h1m60 0h1m33 0h1m3 0h1m5 0h1m3 0h1m-65 1h1m3 0h1m14 0h1m9 0h1m6 0h1m1 0h1m1 0h1m4 0h1m2 0h1m13 0h1m32 0h1m-102 1h1m12 0h1m26 0h1m2 0h1m6 0h1m-49 1h1m14 0h1m3 0h1m5 0h1m7 0h1m3 0h1m5 0h1m2 0h1m9 0h1m-55 1h1m2 0h1m30 0h1m1 0h1m9 0h1m19 0h2m4 0h1m5 0h1m-59 1h1m4 0h1m4 0h1m2 0h1m1 0h1m10 0h1m2 0h1m26 0h1m-119 1h1m7 0h1m82 0h1m18 0h1m23 0h1m-91 1h1m13 0h1m16 0h1m1 0h2m12 0h1m20 0h2m-112 1h1m1 0h1m2 0h1m46 0h1m4 0h1m9 0h1m1 0h1m11 0h1m7 0h1m19 0h1m-110 1h1m45 0h1m7 0h1m8 0h1m6 0h4m5 0h1m6 0h2m1 0h1m1 0h1m7 0h1m10 0h1m27 0h1m-150 1h1m9 0h1m45 0h1m2 0h1m7 0h1m14 0h1m13 0h1m5 0h2m6 0h1m1 0h1m3 0h1m4 0h1m-49 1h2m11 0h1m3 0h1m2 0h1m6 0h2m4 0h2m2 0h2m4 0h1m5 0h1m5 0h1m-67 1h1m19 0h1m7 0h1m3 0h1m13 0h1m7 0h1m4 0h2m4 0h1m-122 1h1m11 0h1m60 0h1m2 0h1m11 0h1m2 0h1m13 0h1m5 0h1m7 0h1m22 0h1m-145 1h2m5 0h1m29 0h1m22 0h1m12 0h1m18 0h1m3 0h1m5 0h1m3 0h1m3 0h1m1 0h1m4 0h1m-46 1h1m25 0h1m9 0h1m-117 1h1m1 0h1m2 0h1m13 0h1m49 0h1m6 0h1m4 0h1m9 0h1m4 0h2m1 0h1m14 0h2m2 0h1m18 0h1m-84 1h1m44 0h1m-102 1h1m5 0h1m51 0h1m33 0h1m3 0h1m1 0h2m1 0h1m2 0h1m18 0h1m18 0h1m-170 1h2m26 0h2m52 0h2m38 0h1m6 0h2m13 0h1m10 0h2m5 0h1m-134 1h1m2 0h1m2 0h1m41 0h1m4 0h1m70 0h3m1 0h2m-132 1h1m51 0h1m11 0h1m3 0h1m18 0h1m7 0h1m23 0h1m9 0h1m1 0h1m1 0h1m6 0h1m-156 1h1m56 0h1m77 0h1m-148 1h1m8 0h1m80 0h2m3 0h1m8 0h1m60 0h1m-116 1h1m19 0h1m15 0h1m1 0h1m30 0h2m29 0h1m7 0h2m-159 1h1m49 0h2m44 0h1m12 0h1m9 0h1m31 0h1m3 0h1m6 0h1m-159 1h1m1 0h1m1 0h1m18 0h1m2 0h1m10 0h1m10 0h1m4 0h1m5 0h1m20 0h1m6 0h1m9 0h1m19 0h1m-81 1h1m10 0h1m61 0h1m-89 1h1m3 0h1m14 0h1m4 0h1m7 0h1m25 0h1m3 0h1m30 0h1m38 0h1m-134 1h1m19 0h1m4 0h2m1 0h1m18 0h1m2 0h1m12 0h1m4 0h1m13 0h1m46 0h1m-137 1h1m11 0h1m19 0h2m3 0h1m3 0h1m20 0h1m10 0h1m1 0h1m21 0h1m1 0h1m-101 1h1m32 0h2m2 0h1m6 0h2m2 0h1m10 0h1m14 0h1m58 0h1m1 0h1m-138 1h1m27 0h1m1 0h1m4 0h1m2 0h1m4 0h2m48 0h1m5 0h1m43 0h1m-143 1h2m31 0h1m9 0h2m36 0h1m10 0h1m-61 1h1m5 0h1m4 0h1m2 0h1m22 0h1m9 0h1m9 0h1m4 0h1m7 0h1m33 0h1m-103 1h1m6 0h1m27 0h1m8 0h1m4 0h1m-63 1h1m7 0h1m29 0h1m7 0h1m32 0h1m1 0h1m17 0h1m-86 1h1m46 0h1m6 0h1m9 0h1m-40 1h1m19 0h1m4 0h1m1 0h2m6 0h1m23 0h3m-96 1h2m7 0h3m21 0h1m8 0h1m-41 1h1m59 0h1m7 0h1m5 0h1m16 0h1m15 0h1m-126 1h1m30 0h1m14 0h1m1 0h2m1 0h1m17 0h2m12 0h2m22 0h1m3 0h1m8 0h1m4 0h1m-126 1h1m3 0h1m8 0h1m15 0h1m1 0h2m30 0h1m11 0h1m4 0h1m7 0h1m23 0h1m17 0h1m-114 1h1m20 0h1m4 0h1m15 0h1m11 0h1m5 0h3m1 0h2m3 0h1m18 0h1m20 0h1m-136 1h1m3 0h1m3 0h2m16 0h1m1 0h1m9 0h1m12 0h2m29 0h1m1 0h1m16 0h1m-101 1h1m1 0h1m24 0h1m42 0h1m26 0h1m10 0h1m-113 1h1m5 0h1m8 0h1m59 0h1m11 0h1m5 0h1m4 0h1m2 0h1m1 0h1m13 0h2m6 0h1m-128 1h1m55 0h1m21 0h1m19 0h1m-77 1h1m20 0h1m18 0h1m14 0h1m11 0h1m9 0h2m5 0h1m19 0h1m-127 1h1m8 0h2m25 0h1m8 0h1m23 0h1m7 0h1m18 0h1m1 0h2m29 0h1m-124 1h1m24 0h1m13 0h1m15 0h1m9 0h1m7 0h1m3 0h1m24 0h1m16 0h1m3 0h1m-126 1h1m4 0h1m14 0h1m4 0h1m14 0h1m18 0h2m5 0h1m5 0h1m46 0h1m-122 1h1m8 0h1m41 0h1m7 0h1m2 0h2m29 0h1m4 0h1m13 0h1m-75 1h1m42 0h1m4 0h1m6 0h1m7 0h1m-91 1h1m5 0h1m1 0h1m37 0h1m2 0h1m4 0h2m1 0h1m7 0h1m29 0h1m-94 1h1m10 0h1m18 0h1m11 0h1m7 0h2m1 0h1m6 0h1m51 0h1m-109 1h1m8 0h1m27 0h1m17 0h1m4 0h1m23 0h1m-97 1h1m5 0h1m35 0h1m9 0h1m17 0h1m1 0h1m-66 1h1m11 0h1m12 0h1m16 0h1m18 0h1m4 0h1m1 0h2m14 0h1m3 0h1m1 0h1m-87 1h2m38 0h1m8 0h1m23 0h1m-49 1h1m13 0h1m16 0h1m27 0h1m3 0h1m-82 1h1m8 0h2m1 0h1m25 0h1m-42 1h1m6 0h1m2 0h1m4 0h1m4 0h1m3 0h1m41 0h1m-72 1h1m8 0h1m1 0h2m13 0h1m11 0h1m3 0h1m17 0h1m27 0h1m-93 1h1m6 0h3m23 0h1m9 0h1m33 0h1m12 0h1m9 0h1m6 0h1m-98 1h1m60 0h1m4 0h1m1 0h2m26 0h1m-105 1h1m20 0h1m1 0h1m10 0h2m6 0h1m27 0h1m4 0h1m-74 1h2m1 0h1m57 0h1m3 0h1m3 0h2m1 0h1m6 0h1m-101 1h1m15 0h2m2 0h1m12 0h1m24 0h1m10 0h1m26 0h1m1 0h1m15 0h2m2 0h1m1 0h1m-104 1h1m25 0h2m11 0h2m1 0h1m-59 1h1m2 0h1m27 0h3m3 0h1m8 0h1m8 0h1m1 0h1m7 0h1m2 0h1m30 0h1m13 0h1m1 0h1m-113 1h1m2 0h1m32 0h1m1 0h1m3 0h1m7 0h1m5 0h1m8 0h1m1 0h1m13 0h1m2 0h2m8 0h1m-97 1h1m9 0h1m10 0h1m9 0h1m4 0h2m10 0h1m15 0h1m2 0h1m4 0h1m11 0h1m3 0h2m8 0h1m1 0h1m-89 1h1m16 0h1m1 0h1m5 0h1m8 0h1m2 0h1m1 0h1m9 0h1m7 0h1m8 0h1m4 0h1m16 0h1m-69 1h1m18 0h1m57 0h1m-92 1h1m9 0h2m10 0h1m8 0h1m6 0h1m5 0h1m37 0h1m-46 1h1m19 0h1m5 0h1m-66 1h1m9 0h1m4 0h1m15 0h1m-16 1h1m2 0h1m8 0h1m-14 1h1m10 0h1m3 0h1m2 0h1m3 0h1m2 0h1m-32 1h1m34 0h1m-43 1h1m17 0h1m-18 1h1m9 0h1m-19 1h1m30 0h1m3 0h1m-34 1h1m1 0h1m15 0h1m9 0h1m-29 1h1m10 1h1m0 1h1m-4 1h1m-4 1h1m-1 1h1"/>
<path stroke="#24878e" d="M157 2.5h2m3 0h1m10 1h1m5 1h1m-27 3h1m21 0h1m-9 2h1m-14 2h1m15 0h1m-11 1h1m7 0h2m8 1h1m-40 2h1m36 0h1m-19 1h1m6 1h1m10 0h1m-43 1h1m49 0h1m-18 1h1m4 0h1m-34 3h1m-1 1h1m18 0h1m2 0h1m22 0h1m-31 1h1m3 0h1m7 0h1m4 0h1m-38 1h1m51 0h1m-36 1h1m31 0h1m-39 2h1m1 0h1m2 0h1m9 0h1m0 1h1m7 0h1m-16 2h1m-8 1h1m19 0h1m-23 1h1m-1 1h1m1 1h1m19 0h2m-24 1h1m7 0h1m10 0h1m-30 1h1m3 0h1m4 0h1m8 0h1m-37 1h1m24 0h1m16 0h1m-28 1h1m6 0h1m2 0h1m10 0h1m-13 1h1m0 1h1m15 0h1m4 0h1m-48 1h1m27 0h1m16 0h1m21 0h1m-45 1h1m2 0h2m1 0h1m1 0h1m5 0h1m1 0h1m4 0h1m3 0h2m-51 1h1m17 0h1m20 0h1m-19 1h2m5 0h1m3 0h1m16 0h1m1 0h1m-32 1h1m8 0h1m2 0h1m3 0h1m7 0h1m29 0h1m1 0h1m-61 1h1m11 0h1m7 0h1m15 0h1m-64 1h1m32 1h1m2 0h1m4 0h1m4 0h1m8 0h1m8 0h1m-56 1h1m31 0h2m13 0h1m-55 1h1m1 0h1m25 0h1m3 0h1m7 0h1m7 0h1m13 0h1m2 0h1m-75 1h1m4 0h1m31 0h1m11 0h1m4 0h2m1 0h1m3 0h1m-15 1h1m7 0h1m8 0h1m-84 1h1m26 0h1m1 0h1m29 0h1m3 0h1m17 0h1m1 0h1m3 0h2m-39 1h1m8 0h2m7 0h1m6 0h2m8 0h1m-29 1h1m5 0h1m19 0h1m-111 1h1m52 0h1m24 0h1m31 0h2m3 0h1m-68 1h1m22 0h1m7 0h1m11 0h1m5 0h1m12 0h1m4 0h1m-64 1h2m15 0h1m2 0h1m13 0h1m12 0h1m2 0h1m6 0h1m-59 1h1m1 0h1m31 0h1m4 0h1m9 0h1m2 0h1m5 0h2m-13 1h2m2 0h1m4 0h1m5 0h1m35 0h1m-150 1h1m1 0h1m49 0h1m35 0h1m5 0h1m2 0h1m8 0h2m-67 1h1m1 0h1m1 0h1m41 0h1m1 0h1m7 0h1m1 0h1m9 0h1m4 0h1m33 0h1m-81 1h1m3 0h1m8 0h1m8 0h1m19 0h2m-109 1h1m54 0h1m4 0h1m14 0h1m5 0h1m24 0h1m23 0h1m-134 1h1m52 0h1m27 0h1m3 0h1m10 0h1m20 0h1m9 0h1m-44 1h1m6 0h1m4 0h1m14 0h1m6 0h1m4 0h1m1 0h2m-73 1h1m17 0h1m5 0h1m2 0h1m1 0h1m7 0h1m23 0h1m21 0h1m3 0h1m-146 1h1m9 0h1m3 0h1m46 0h1m16 0h1m1 0h1m9 0h1m9 0h1m18 0h1m5 0h1m-115 1h1m47 0h1m1 0h1m25 0h1m1 0h1m6 0h2m1 0h1m20 0h1m28 0h1m-148 1h1m10 0h1m41 0h1m8 0h2m2 0h2m11 0h1m4 0h1m5 0h1m3 0h1m27 0h1m-62 1h2m1 0h1m24 0h3m4 0h1m21 0h1m-45 1h1m1 0h1m4 0h1m4 0h1m3 0h1m55 0h1m1 0h1m-149 1h1m10 0h1m44 0h1m16 0h1m3 0h1m9 0h1m8 0h1m3 0h1m22 0h1m-121 1h2m7 0h1m61 0h1m10 0h1m3 0h1m1 0h1m8 0h1m6 0h1m5 0h1m3 0h1m2 0h1m20 0h1m-140 1h1m3 0h1m1 0h1m64 0h1m23 0h1m4 0h1m4 0h1m13 0h1m13 0h1m-130 1h1m3 0h1m50 0h1m1 0h1m42 0h2m1 0h1m7 0h1m17 0h1m-128 1h1m1 0h1m51 0h1m14 0h3m8 0h1m4 0h1m1 0h1m8 0h2m10 0h1m-123 1h1m3 0h1m61 0h1m10 0h1m2 0h2m20 0h2m9 0h3m4 0h1m17 0h2m11 0h1m-152 1h1m79 0h1m18 0h1m2 0h1m15 0h2m3 0h1m14 0h1m-73 1h1m25 0h2m23 0h1m5 0h1m-153 1h1m1 0h1m26 0h1m1 0h1m52 0h1m27 0h1m2 0h1m2 0h1m11 0h1m12 0h1m2 0h1m4 0h1m1 0h1m-127 1h1m5 0h2m55 0h1m10 0h1m47 0h3m18 0h1m-170 1h1m1 0h1m7 0h1m25 0h1m46 0h1m3 0h1m6 0h1m25 0h2m23 0h2m-145 1h1m1 0h1m5 0h1m2 0h1m35 0h1m30 0h1m28 0h1m36 0h1m19 0h2m-161 1h1m5 0h1m65 0h1m14 0h1m7 0h1m5 0h1m1 0h1m2 0h4m-107 1h1m19 0h1m17 0h2m53 0h1m12 0h2m32 0h1m-147 1h1m45 0h2m19 0h1m2 0h2m15 0h1m4 0h2m11 0h1m7 0h2m1 0h1m31 0h1m-128 1h1m7 0h1m51 0h1m10 0h1m22 0h2m46 0h1m-132 1h1m4 0h1m7 0h1m8 0h1m12 0h1m14 0h1m1 0h1m1 0h1m10 0h1m11 0h2m-94 1h1m2 0h1m2 0h1m6 0h1m4 0h1m15 0h1m1 0h1m21 0h1m6 0h1m12 0h1m2 0h1m3 0h1m-84 1h1m51 0h2m8 0h1m5 0h1m6 0h1m9 0h1m50 0h1m-122 1h1m28 0h1m13 0h1m7 0h1m-37 1h1m35 0h1m22 0h1m3 0h1m-51 1h1m17 0h1m10 0h1m18 0h1m3 0h1m-102 1h1m1 0h1m61 0h1m25 0h1m10 0h1m41 0h1m-131 1h1m15 0h2m2 0h1m10 0h1m23 0h1m29 0h1m1 0h1m-71 1h1m2 0h1m1 0h1m29 0h1m2 0h1m15 0h1m2 0h1m8 0h2m20 0h1m-90 1h2m23 0h1m1 0h1m28 0h1m1 0h1m12 0h1m-71 1h1m13 0h1m14 0h1m26 0h1m3 0h1m12 0h1m-71 1h1m6 0h1m31 0h1m3 0h1m27 0h1m15 0h1m-44 1h1m-75 1h1m16 0h1m46 0h1m34 0h2m-85 1h1m5 0h1m10 0h1m13 0h2m8 0h1m5 0h1m68 0h1m-130 1h1m21 0h1m7 0h1m8 0h1m25 0h1m29 0h1m-81 1h1m44 0h1m1 0h1m2 0h1m4 0h1m1 0h1m1 0h2m7 0h1m6 0h1m-88 1h1m41 0h1m25 0h1m6 0h2m11 0h1m40 0h1m-130 1h1m2 0h1m22 0h1m1 0h1m7 0h1m25 0h1m4 0h1m17 0h1m8 0h1m21 0h1m-129 1h1m3 0h1m6 0h1m7 0h1m11 0h1m2 0h1m43 0h1m36 0h2m3 0h1m-123 1h2m20 0h1m11 0h1m17 0h1m28 0h1m5 0h1m8 0h1m6 0h1m13 0h1m-119 1h2m51 0h1m18 0h1m4 0h2m3 0h1m5 0h1m6 0h1m11 0h1m-106 1h1m42 0h1m3 0h1m4 0h1m2 0h1m1 0h1m9 0h1m22 0h1m-94 1h1m3 0h1m43 0h1m36 0h1m5 0h1m-75 1h1m9 0h1m19 0h1m6 0h1m30 0h1m7 0h1m-82 1h1m38 0h1m17 0h1m18 0h1m13 0h1m25 0h1m-127 1h1m2 0h1m1 0h1m5 0h1m47 0h1m6 0h1m32 0h1m-94 1h2m4 0h1m6 0h1m37 0h1m1 0h1m3 0h1m9 0h1m24 0h1m11 0h1m-104 1h1m8 0h1m1 0h1m9 0h1m10 0h1m4 0h1m1 0h1m3 0h3m1 0h1m18 0h1m14 0h1m6 0h1m1 0h3m20 0h1m-115 1h1m6 0h1m10 0h1m5 0h1m2 0h2m22 0h1m1 0h1m9 0h1m7 0h1m1 0h1m11 0h1m-56 1h1m2 0h1m9 0h1m11 0h1m6 0h1m24 0h1m15 0h1m-82 1h1m2 0h1m6 0h1m3 0h1m5 0h1m31 0h1m6 0h1m5 0h1m-85 1h1m2 0h1m22 0h1m1 0h1m2 0h1m25 0h1m-62 1h1m13 0h1m4 0h1m3 0h2m2 0h1m23 0h1m50 0h1m-97 1h1m2 0h1m45 0h1m1 0h2m12 0h1m4 0h2m3 0h1m5 0h1m15 0h1m-95 1h1m10 0h1m11 0h1m10 0h1m12 0h1m18 0h1m1 0h1m1 0h1m3 0h1m15 0h1m-85 1h1m14 0h1m7 0h1m23 0h1m6 0h1m4 0h1m42 0h1m-119 1h1m16 0h1m4 0h1m19 0h1m15 0h1m26 0h1m-82 1h1m27 0h1m5 0h1m14 0h1m15 0h1m19 0h1m1 0h1m17 0h1m2 0h1m-107 1h1m1 0h1m23 0h1m4 0h1m10 0h1m3 0h1m2 0h1m18 0h1m14 0h1m19 0h1m-69 1h1m5 0h1m5 0h2m6 0h1m-55 1h1m1 0h1m8 0h1m11 0h1m15 0h1m26 0h1m5 0h1m31 0h1m-114 1h1m20 0h1m10 0h1m12 0h1m11 0h1m5 0h1m2 0h1m2 0h1m-74 1h1m6 0h1m18 0h1m21 0h1m34 0h1m6 0h1m9 0h1m14 0h1m-112 1h1m3 0h1m19 0h1m2 0h1m1 0h1m12 0h1m37 0h1m1 0h1m-83 1h1m11 0h1m5 0h1m5 0h1m28 0h1m10 0h1m30 0h2m-94 1h1m4 0h1m25 0h1m3 0h1m3 0h1m15 0h1m16 0h1m-48 1h1m31 0h1m-47 1h1m19 0h1m10 0h1m-45 1h1m23 0h1m17 0h1m5 0h1m-27 1h1m2 0h1m13 0h1m-35 1h1m63 0h1m-47 1h1m3 0h1m-20 1h2m5 0h1m3 0h1m4 0h1m5 0h1m5 0h1m6 0h1m5 0h1m-42 1h1m5 0h1m19 0h1m-8 1h1m12 0h1m-6 1h1m-5 1h1m-20 2h1m7 1h1m-7 2h1"/>
<path stroke="#1f998a" d="M156 2.5h1m2 0h2m-6 1h1m26 0h1m-1 1h1m0 1h1m-1 1h1m-38 1h1m-3 3h1m33 2h1m-19 1h1m25 0h1m-48 1h1m1 0h1m12 1h1m13 0h1m10 1h1m-10 1h1m12 0h1m-2 1h1m-13 1h1m4 1h1m-25 2h1m33 0h1m-18 1h1m12 0h1m8 0h1m-5 1h1m-31 1h1m1 0h1m7 0h1m-38 2h1m32 2h1m-37 1h1m24 0h1m10 0h1m-8 1h1m-35 1h1m19 1h1m21 0h1m2 0h1m-28 1h2m5 0h1m-3 1h1m26 0h1m-54 1h1m19 0h1m23 1h1m2 0h1m-2 1h1m-36 1h1m1 0h1m1 0h2m5 0h1m23 0h1m-28 1h1m3 1h1m-2 1h1m2 0h1m18 0h1m-22 1h1m6 0h1m2 0h2m3 0h4m-28 1h1m7 0h1m7 0h1m3 0h1m4 0h3m-32 1h1m23 0h1m12 0h1m-33 1h2m28 0h1m1 0h2m-35 1h2m13 0h2m6 0h1m1 0h1m-23 1h1m1 0h1m7 0h2m-5 1h1m24 0h1m-29 1h1m3 1h1m7 0h1m3 0h1m2 0h1m11 0h1m-77 1h1m43 0h1m2 0h2m4 0h1m12 0h1m5 0h2m-1 1h1m-29 1h1m17 0h1m5 0h1m-58 1h1m29 0h1m-4 1h1m2 0h1m1 0h1m15 0h1m3 0h1m5 0h1m-64 1h1m6 0h1m16 0h1m28 0h1m3 0h1m4 0h1m-57 1h1m46 0h1m10 0h1m-42 1h1m8 0h2m1 0h1m1 0h1m12 0h1m2 0h1m-103 1h2m49 0h1m30 0h1m5 0h1m11 0h1m6 0h1m-109 1h1m46 0h1m40 0h2m15 0h2m43 0h1m-83 1h1m18 0h1m13 0h2m5 0h1m38 0h2m-147 1h1m45 0h1m3 0h1m19 0h1m77 0h1m-150 1h1m44 0h1m12 0h1m3 0h1m11 0h1m2 0h1m12 0h1m3 0h1m6 0h1m5 0h1m39 0h2m-149 1h1m45 0h1m16 0h1m10 0h1m4 0h1m1 0h1m10 0h1m19 0h2m-58 1h1m12 0h1m2 0h1m2 0h1m11 0h2m33 0h1m-71 1h1m7 0h1m7 0h1m4 0h1m-65 1h1m74 0h1m32 0h1m-121 1h1m8 0h1m3 0h1m56 0h1m2 0h1m8 0h1m10 0h2m-95 1h1m57 0h1m10 0h2m5 0h1m3 0h2m38 0h3m4 0h1m-53 1h1m12 0h1m3 0h1m2 0h1m6 0h1m5 0h1m-98 1h1m66 0h2m3 0h1m38 0h1m-43 1h1m1 0h1m10 0h2m24 0h2m-105 1h1m40 0h1m36 0h1m8 0h2m4 0h1m6 0h2m7 0h1m-125 1h1m8 0h1m3 0h1m62 0h1m37 0h1m-104 1h1m47 0h1m14 0h1m2 0h1m8 0h2m14 0h1m-23 1h1m8 0h1m1 0h1m5 0h1m9 0h1m-22 1h1m8 0h1m9 0h1m38 0h1m-151 1h1m81 0h1m6 0h1m16 0h1m3 0h1m4 0h1m19 0h1m13 0h1m-148 1h2m51 0h1m4 0h1m1 0h1m4 0h1m9 0h1m6 0h1m2 0h2m11 0h1m32 0h1m10 0h1m2 0h1m-145 1h1m76 0h3m6 0h1m5 0h1m-50 1h1m12 0h2m18 0h1m3 0h1m2 0h1m35 0h1m-151 1h2m85 0h1m8 0h1m9 0h1m1 0h1m1 0h3m31 0h1m6 0h1m-138 1h1m73 0h1m1 0h1m21 0h1m5 0h1m28 0h2m-149 1h1m12 0h1m66 0h1m1 0h1m8 0h1m9 0h1m2 0h1m4 0h1m9 0h1m27 0h2m-146 1h1m9 0h1m68 0h1m16 0h1m21 0h1m31 0h1m-149 1h2m42 0h1m36 0h1m23 0h1m7 0h1m3 0h1m-94 1h1m1 0h1m21 0h1m15 0h1m11 0h1m6 0h1m15 0h1m5 0h1m2 0h1m-85 1h1m8 0h1m14 0h1m1 0h1m8 0h1m31 0h1m10 0h1m2 0h1m-88 1h1m15 0h1m1 0h1m9 0h1m2 0h2m-1 1h1m11 0h1m9 0h1m22 0h1m3 0h1m47 0h1m6 0h1m-140 1h1m58 0h1m14 0h1m19 0h1m40 0h1m4 0h1m-94 1h1m26 0h1m10 0h1m1 0h1m6 0h1m-98 1h1m31 0h1m4 0h1m5 0h1m4 0h1m18 0h1m4 0h1m5 0h1m2 0h1m64 0h1m-143 1h1m44 0h1m11 0h1m71 0h1m-87 1h1m33 0h1m-71 1h1m10 0h1m18 0h1m4 0h1m9 0h1m4 0h1m24 0h1m7 0h1m3 0h1m2 0h1m-90 1h1m29 0h1m2 0h1m10 0h1m4 0h1m1 0h1m16 0h2m9 0h1m6 0h1m-99 1h2m25 0h1m3 0h1m10 0h1m2 0h1m14 0h1m17 0h1m4 0h1m6 0h1m-80 1h1m6 0h1m15 0h1m29 0h1m5 0h1m7 0h1m2 0h1m9 0h1m3 0h1m4 0h2m1 0h1m13 0h1m-95 1h2m2 0h1m3 0h1m8 0h2m10 0h1m46 0h1m4 0h1m-104 1h1m20 0h1m6 0h1m4 0h1m34 0h1m2 0h1m26 0h1m30 0h1m-116 1h1m5 0h1m5 0h1m13 0h1m27 0h1m17 0h1m6 0h1m18 0h1m23 0h1m-133 1h1m6 0h1m7 0h1m7 0h1m13 0h1m2 0h1m45 0h1m-59 1h1m14 0h1m4 0h1m19 0h1m1 0h1m-69 1h1m25 0h1m3 0h1m11 0h1m18 0h1m9 0h1m19 0h1m-99 1h1m34 0h1m16 0h1m15 0h1m10 0h1m7 0h1m-88 1h1m16 0h1m5 0h1m3 0h1m17 0h1m35 0h1m4 0h1m9 0h1m13 0h1m-103 1h1m4 0h1m19 0h1m14 0h1m19 0h1m11 0h1m10 0h1m-90 1h1m5 0h1m1 0h1m3 0h2m8 0h1m14 0h1m33 0h2m-57 1h1m44 0h1m12 0h2m12 0h1m10 0h1m20 0h1m-104 1h1m3 0h3m5 0h1m9 0h1m11 0h1m44 0h2m1 0h1m28 0h1m-115 1h1m8 0h1m10 0h1m5 0h1m14 0h1m4 0h1m3 0h1m3 0h1m4 0h1m2 0h1m1 0h1m4 0h3m42 0h1m-113 1h1m24 0h1m6 0h1m3 0h1m7 0h1m3 0h1m21 0h1m10 0h1m16 0h1m-111 1h1m33 0h1m5 0h1m3 0h1m2 0h1m3 0h1m1 0h1m8 0h1m4 0h1m12 0h1m1 0h1m21 0h1m-91 1h1m25 0h2m16 0h1m9 0h1m11 0h1m5 0h1m19 0h1m-115 1h1m6 0h1m3 0h1m33 0h1m3 0h1m11 0h1m-65 1h1m3 0h1m11 0h1m24 0h1m22 0h1m1 0h1m11 0h1m1 0h1m4 0h1m-83 1h1m10 0h1m12 0h2m-5 1h1m2 0h1m5 0h1m3 0h1m-33 1h1m2 0h1m17 0h1m1 0h1m3 0h1m3 0h1m13 0h1m10 0h1m25 0h1m-74 1h2m7 0h1m2 0h1m5 0h1m8 0h1m24 0h1m14 0h1m2 0h1m5 0h1m-72 1h1m6 0h1m42 0h1m4 0h1m6 0h1m6 0h1m2 0h1m-80 1h1m14 0h1m8 0h1m4 0h1m6 0h1m38 0h1m23 0h1m-94 1h1m21 0h1m4 0h1m15 0h1m9 0h1m3 0h1m4 0h1m-58 1h1m3 0h1m12 0h1m9 0h1m9 0h1m2 0h1m13 0h1m2 0h1m2 0h1m3 0h1m24 0h1m-105 1h1m18 0h1m3 0h1m15 0h1m23 0h1m3 0h1m14 0h1m-63 1h1m4 0h1m13 0h1m10 0h1m4 0h1m25 0h1m-82 1h1m4 0h1m14 0h1m15 0h4m13 0h2m1 0h1m1 0h1m7 0h1m-68 1h1m2 0h1m7 0h1m17 0h1m5 0h1m12 0h1m17 0h2m-72 1h1m13 0h1m18 0h1m1 0h1m9 0h1m1 0h1m5 0h1m6 0h1m5 0h1m3 0h1m22 0h1m-24 1h1m5 0h1m5 0h1m25 0h1m-100 1h1m16 0h1m3 0h1m21 0h1m17 0h1m4 0h1m-70 1h1m2 0h1m5 0h1m4 0h2m12 0h1m1 0h1m19 0h2m19 0h1m-83 1h1m13 0h1m8 0h1m2 0h1m9 0h1m6 0h1m-32 1h1m8 0h1m8 0h1m11 0h1m1 0h1m8 0h1m15 0h1m38 0h1m-97 1h1m7 0h1m17 0h1m-12 1h1m2 0h1m10 0h1m1 0h1m52 0h1m-80 1h2m14 0h1m2 0h1m3 0h2m6 0h1m47 0h1m-80 1h1m7 0h1m19 0h1m-30 1h3m7 0h1m11 0h1m15 0h1m-44 1h1m32 0h3m-8 1h1m1 0h3m-21 1h1m18 0h1m-14 1h1m8 0h1m2 0h1m-31 2h1m12 0h1m6 0h1m2 0h1m-8 1h1m-5 1h1m-4 2h1"/>
<path stroke="#24aa83" d="M163 1.5h1m-3 1h1m10 1h1m-24 3h1m32 0h1m-40 5h1m25 0h1m15 0h1m-43 1h1m33 0h1m-38 2h1m19 0h1m18 1h1m-45 1h1m31 0h1m-34 1h1m23 0h1m20 0h1m-13 1h1m-18 4h1m18 0h1m12 0h1m1 0h1m3 1h1m-7 1h1m1 0h1m-57 4h1m20 0h1m20 1h1m-45 2h1m40 0h1m-22 1h1m20 1h1m-27 1h1m5 0h2m5 0h1m13 0h1m-26 1h1m1 0h1m1 1h1m18 0h1m-18 1h1m41 0h1m-60 1h1m-16 1h1m38 0h1m25 0h1m-25 1h1m-23 1h1m5 1h1m20 0h1m-31 1h1m15 0h1m-15 1h1m7 0h3m7 0h1m-5 1h1m11 0h1m-31 1h1m5 0h1m15 0h1m1 0h1m1 0h1m-6 1h1m3 0h1m1 0h1m5 0h2m-37 1h1m13 0h1m3 0h2m4 0h1m13 0h1m-25 1h1m7 0h1m5 0h1m2 0h2m-15 1h1m2 0h3m1 0h1m1 0h1m9 0h1m2 0h1m-23 1h1m4 0h1m3 0h2m11 0h1m-30 1h1m2 0h1m13 0h1m1 0h1m-24 1h1m19 0h1m3 0h1m4 0h1m-62 1h1m28 0h1m10 0h1m-29 1h1m17 0h1m21 0h1m2 0h1m1 0h2m2 0h1m1 0h1m-65 1h1m4 0h1m50 0h2m2 0h1m-116 1h1m1 0h1m49 0h1m22 0h1m11 0h2m1 0h1m11 0h1m13 0h2m-66 1h1m49 0h1m6 0h1m-37 1h1m20 0h1m-43 1h1m32 0h1m3 0h2m-37 1h1m16 0h2m11 0h1m18 0h1m-103 1h2m3 0h1m42 0h1m20 0h1m21 0h1m2 0h1m-93 1h2m49 0h1m19 0h1m10 0h1m18 0h1m8 0h2m22 0h1m14 0h1m-150 1h1m1 0h1m67 0h1m2 0h2m14 0h1m44 0h1m-135 1h1m71 0h1m13 0h1m18 0h2m-105 1h1m57 0h1m1 0h1m12 0h1m7 0h1m3 0h1m-87 1h1m60 0h1m-58 1h1m44 0h1m9 0h1m8 0h1m12 0h1m6 0h1m-93 1h1m55 0h1m62 0h1m-64 1h1m7 0h1m1 0h1m16 0h1m9 0h2m35 0h1m-65 1h1m52 0h1m5 0h1m1 0h1m-120 1h1m4 0h1m60 0h1m3 0h1m15 0h1m23 0h1m3 0h1m2 0h1m24 0h1m-144 1h1m5 0h1m52 0h1m11 0h1m9 0h1m28 0h1m12 0h1m-132 1h1m63 0h1m11 0h1m5 0h1m3 0h1m10 0h1m12 0h1m4 0h1m-116 1h1m1 0h1m8 0h1m76 0h1m10 0h1m3 0h1m4 0h1m1 0h2m4 0h1m-115 1h1m76 0h1m7 0h1m3 0h1m10 0h1m7 0h1m-35 1h1m10 0h2m9 0h2m6 0h1m-20 1h1m22 0h1m-113 1h1m67 0h1m13 0h1m1 0h1m2 0h1m9 0h1m12 0h1m-58 1h1m6 0h1m14 0h1m5 0h1m6 0h1m3 0h1m17 0h1m2 0h2m4 0h1m-59 1h1m13 0h2m1 0h1m3 0h1m3 0h2m-118 1h1m33 0h1m41 0h1m22 0h1m4 0h1m1 0h1m14 0h1m22 0h1m18 0h1m-165 1h2m91 0h1m1 0h1m1 0h1m9 0h1m13 0h1m23 0h1m29 0h1m-174 1h1m84 0h1m3 0h1m2 0h1m13 0h1m3 0h1m11 0h1m35 0h1m-87 1h1m4 0h1m9 0h1m5 0h1m1 0h3m20 0h1m1 0h1m33 0h1m-150 1h1m80 0h1m16 0h1m-102 1h1m1 0h1m65 0h1m6 0h1m21 0h1m3 0h1m9 0h1m6 0h1m36 0h1m-111 1h2m38 0h1m6 0h1m12 0h1m-74 1h1m2 0h1m18 0h1m20 0h1m7 0h3m1 0h1m13 0h1m-71 1h1m22 0h1m11 0h1m10 0h1m1 0h1m26 0h1m-87 1h1m4 0h1m1 0h1m2 0h1m38 0h1m2 0h1m5 0h1m5 0h1m26 0h1m-60 1h1m11 0h1m5 0h2m3 0h1m7 0h1m3 0h1m60 0h1m-130 1h1m9 0h1m6 0h1m2 0h1m21 0h1m13 0h1m3 0h1m2 0h1m7 0h1m17 0h2m5 0h1m-100 1h1m20 0h1m4 0h1m24 0h1m5 0h1m5 0h1m1 0h1m16 0h1m3 0h2m-79 1h1m10 0h1m3 0h2m23 0h1m23 0h1m9 0h1m4 0h1m-71 1h1m19 0h1m43 0h1m3 0h1m7 0h1m6 0h1m-89 1h1m32 0h1m17 0h1m18 0h1m-63 1h1m23 0h1m2 0h1m35 0h1m17 0h1m-68 1h1m7 0h1m16 0h1m1 0h1m7 0h1m7 0h1m21 0h2m41 0h1m-145 1h1m11 0h1m23 0h2m6 0h2m69 0h1m-115 1h1m35 0h1m5 0h1m5 0h1m4 0h1m15 0h1m14 0h2m5 0h1m3 0h1m4 0h1m29 0h1m-122 1h1m13 0h1m1 0h1m18 0h1m2 0h1m17 0h1m25 0h2m4 0h1m21 0h1m-118 1h1m1 0h1m1 0h1m12 0h1m10 0h1m2 0h1m1 0h1m8 0h1m5 0h1m4 0h1m2 0h1m7 0h1m3 0h1m4 0h1m8 0h1m11 0h1m38 0h1m-118 1h1m10 0h1m3 0h1m16 0h1m26 0h1m13 0h1m1 0h1m-89 1h1m15 0h1m13 0h1m30 0h1m-27 1h1m32 0h1m6 0h1m-51 1h1m12 0h1m29 0h1m39 0h1m20 0h1m-134 1h1m25 0h1m2 0h1m36 0h1m4 0h1m6 0h1m-69 1h1m4 0h1m4 0h2m1 0h1m32 0h1m56 0h1m-112 1h2m3 0h1m30 0h1m28 0h1m10 0h1m-57 1h1m12 0h1m9 0h2m46 0h1m9 0h1m-100 1h1m28 0h1m18 0h1m15 0h1m6 0h1m3 0h1m11 0h1m-71 1h1m20 0h1m16 0h1m11 0h1m-79 1h1m14 0h1m26 0h1m3 0h2m22 0h1m15 0h1m18 0h2m1 0h1m-90 1h1m8 0h1m17 0h1m9 0h1m13 0h1m3 0h2m-62 1h1m12 0h1m10 0h1m9 0h1m5 0h1m21 0h1m3 0h1m-60 1h1m18 0h1m6 0h1m1 0h1m21 0h1m16 0h1m-32 1h1m7 0h1m-55 1h1m3 0h1m10 0h1m13 0h2m3 0h1m4 0h1m9 0h1m3 0h1m8 0h1m20 0h1m3 0h1m2 0h1m-98 1h1m45 0h1m6 0h1m11 0h1m16 0h1m2 0h3m1 0h1m15 0h1m-107 1h2m10 0h1m4 0h1m12 0h1m15 0h1m13 0h1m11 0h1m1 0h1m22 0h1m-89 1h1m43 0h1m18 0h1m7 0h1m27 0h1m-99 1h1m6 0h1m12 0h1m22 0h1m5 0h1m3 0h1m-44 1h1m1 0h1m38 0h1m1 0h1m17 0h1m-58 1h1m11 0h1m8 0h1m21 0h1m20 0h1m-78 1h1m23 0h1m20 0h1m11 0h1m3 0h1m3 0h1m6 0h1m-58 1h1m3 0h1m14 0h3m7 0h1m21 0h1m4 0h1m25 0h1m-101 1h1m6 0h1m8 0h1m4 0h1m20 0h1m28 0h1m-84 1h1m10 0h1m23 0h1m1 0h1m20 0h1m7 0h1m9 0h1m17 0h1m-86 1h1m5 0h2m29 0h1m7 0h1m8 0h1m9 0h1m10 0h1m-76 1h1m5 0h1m1 0h1m13 0h1m31 0h1m1 0h1m19 0h1m-68 1h1m29 0h1m24 0h1m3 0h1m1 0h1m-68 1h1m1 0h2m1 0h1m2 0h1m1 0h1m8 0h1m10 0h1m28 0h1m-69 1h1m13 0h1m30 0h2m8 0h1m14 0h1m-51 1h2m6 0h1m19 0h1m7 0h1m-52 1h1m7 0h1m6 0h1m14 0h1m37 0h1m21 0h2m-84 1h1m3 0h1m76 0h1m-77 1h1m1 0h1m1 0h1m1 0h1m2 0h1m1 0h2m7 0h1m9 0h1m-28 1h1m17 0h1m-26 1h1m2 0h1m9 0h1m9 0h1m31 0h2m-64 1h1m9 0h1m6 0h1m6 0h1m5 0h1m-4 1h1m1 0h2m-31 1h1m21 0h1m3 1h1m-21 1h1m19 0h1m-9 1h1m-1 1h1m3 0h1m8 0h1m-23 3h1"/>
<path stroke="#3aba76" d="M166 2.5h1m2 1h1m11 0h1m-27 1h1m-2 1h1m-5 1h1m29 0h1m-12 3h1m15 0h1m-37 3h1m19 1h1m9 1h1m-14 1h1m19 2h1m-22 1h1m17 0h1m0 1h1m-1 1h1m-2 3h1m6 1h1m-24 4h1m-7 2h1m9 0h1m-5 4h1m-22 1h1m-17 1h1m13 0h1m1 0h1m9 0h1m-24 4h1m9 1h1m-10 3h1m21 0h1m5 0h1m-29 1h1m9 0h1m12 0h3m-20 1h1m11 0h1m3 0h1m-29 1h1m24 0h1m5 0h1m-11 1h1m6 0h1m2 0h1m6 0h1m-20 1h3m3 0h1m2 0h1m1 0h1m7 0h1m-14 1h1m4 0h2m2 0h1m-13 1h1m2 0h1m5 0h2m3 0h2m-10 1h1m4 0h2m2 0h1m-19 1h1m5 0h1m3 0h2m4 0h1m-28 1h1m3 0h1m1 0h2m2 0h2m3 0h2m3 0h1m3 0h1m3 0h1m-36 1h1m5 0h1m21 0h2m-52 1h1m29 0h1m14 0h1m-27 1h1m6 0h1m3 0h1m17 0h1m4 0h1m-38 1h1m3 0h1m21 0h1m5 0h1m6 0h1m-110 1h1m102 0h1m2 0h1m-39 1h2m21 0h1m4 0h1m-101 1h1m57 0h2m14 0h1m6 0h1m1 1h1m-79 1h1m42 0h2m5 0h1m14 0h1m5 0h1m1 0h1m3 0h1m10 0h1m15 0h1m-105 1h1m72 0h1m2 0h1m32 0h1m-61 1h1m28 0h1m6 0h1m-93 1h1m2 0h1m52 0h1m10 0h1m-58 1h1m43 0h1m34 0h1m62 0h1m-151 1h1m4 0h1m47 0h1m3 0h1m18 0h1m1 0h1m9 0h1m3 0h1m-36 1h1m6 0h1m10 0h1m1 0h1m1 0h1m1 0h1m2 0h1m4 0h1m29 0h1m-122 1h2m73 0h1m14 0h2m8 0h1m18 0h1m32 0h1m-143 1h1m89 0h1m20 0h1m-120 1h1m9 0h1m61 0h1m12 0h1m8 0h1m-12 1h1m-83 1h1m1 0h1m6 0h1m54 0h1m9 0h1m25 0h1m4 0h1m17 0h1m-126 1h1m79 0h2m1 0h1m5 0h1m16 0h1m42 0h1m-144 1h1m58 0h1m31 0h1m1 0h1m-96 1h1m75 0h1m4 0h1m15 0h1m9 0h1m-27 1h1m14 0h1m7 0h1m-45 1h1m24 0h1m-94 1h2m78 0h1m54 0h1m-134 1h1m75 0h1m5 0h1m29 0h1m-50 1h1m5 0h1m1 0h1m4 0h1m35 0h1m-89 1h1m5 0h1m40 0h1m73 0h1m-89 1h1m16 0h2m1 0h1m-23 1h1m14 0h1m4 0h1m16 0h1m23 0h1m-145 1h1m1 0h1m89 0h1m3 0h1m23 0h1m48 0h1m-169 1h1m70 0h1m7 0h1m7 0h2m2 0h1m9 0h2m-78 1h1m22 0h1m30 0h2m14 0h1m1 0h1m5 0h1m5 0h1m5 0h1m-70 1h3m29 0h1m8 0h1m15 0h1m43 0h1m17 0h1m-141 1h1m20 0h1m21 0h1m1 0h1m6 0h1m18 0h1m2 0h1m3 0h2m1 0h1m1 0h1m-77 1h2m3 0h1m38 0h1m3 0h1m24 0h3m-86 1h1m1 0h1m13 0h1m2 0h1m33 0h1m2 0h2m3 0h1m8 0h1m3 0h1m11 0h3m2 0h1m42 0h1m-133 1h1m11 0h1m2 0h1m10 0h1m29 0h1m16 0h1m2 0h1m9 0h1m1 0h1m-97 1h1m9 0h1m44 0h1m28 0h1m6 0h1m-86 1h1m3 0h1m2 0h1m2 0h1m8 0h1m16 0h1m9 0h1m1 0h1m5 0h1m2 0h1m7 0h1m7 0h1m3 0h1m6 0h1m-81 1h1m37 0h1m1 0h1m21 0h1m15 0h1m1 0h1m3 0h1m1 0h1m-99 1h1m3 0h1m13 0h1m4 0h1m18 0h1m23 0h1m2 0h1m9 0h1m11 0h2m43 0h1m-136 1h1m19 0h1m37 0h1m5 0h1m3 0h1m2 0h1m4 0h1m14 0h1m1 0h1m-73 1h1m12 0h1m10 0h1m15 0h1m31 0h1m2 0h1m5 0h1m-77 1h2m1 0h1m9 0h1m1 0h1m12 0h1m5 0h1m10 0h1m7 0h1m17 0h1m-91 1h2m18 0h1m1 0h1m28 0h1m4 0h2m13 0h1m2 0h1m12 0h1m-83 1h1m3 0h1m39 0h1m2 0h1m16 0h1m10 0h1m11 0h1m31 0h1m-120 1h1m2 0h1m1 0h1m4 0h1m5 0h1m7 0h1m5 0h1m33 0h1m22 0h1m-91 1h1m21 0h2m2 0h1m2 0h1m14 0h1m13 0h1m6 0h1m35 0h1m12 0h1m-112 1h1m7 0h1m7 0h1m13 0h1m2 0h1m3 0h1m14 0h1m8 0h1m1 0h1m2 0h1m16 0h1m1 0h1m-87 1h1m23 0h1m9 0h1m10 0h1m18 0h1m9 0h1m10 0h1m37 0h1m-130 1h1m3 0h1m1 0h1m9 0h1m14 0h2m3 0h1m3 0h1m2 0h1m27 0h2m1 0h1m1 0h1m19 0h1m-99 1h2m8 0h1m9 0h1m1 0h1m10 0h1m12 0h1m25 0h1m10 0h1m37 0h1m-121 1h1m4 0h1m21 0h1m8 0h1m34 0h1m59 0h1m-134 1h1m17 0h1m7 0h1m24 0h1m3 0h1m8 0h2m1 0h1m22 0h1m2 0h1m-91 1h1m1 0h1m5 0h1m11 0h1m5 0h1m6 0h1m5 0h1m7 0h2m13 0h1m9 0h1m1 0h1m11 0h1m-85 1h1m12 0h2m4 0h1m8 0h1m7 0h1m10 0h1m12 0h1m10 0h2m9 0h1m43 0h1m-141 1h1m10 0h1m2 0h1m28 0h1m7 0h1m7 0h1m48 0h1m-109 1h1m29 0h1m13 0h1m31 0h2m11 0h2m45 0h1m-134 1h1m9 0h2m1 0h1m22 0h2m7 0h1m6 0h1m32 0h1m-73 1h1m6 0h1m13 0h1m2 0h1m2 0h1m13 0h1m35 0h1m-89 1h1m12 0h1m2 0h1m17 0h2m3 0h1m6 0h2m11 0h1m29 0h1m1 0h2m1 0h1m-88 1h3m10 0h1m30 0h1m11 0h1m2 0h1m-70 1h1m2 0h1m3 0h1m7 0h1m17 0h1m3 0h1m14 0h2m29 0h1m3 0h1m10 0h1m5 0h1m-101 1h1m1 0h1m4 0h1m3 0h1m6 0h1m6 0h2m26 0h1m5 0h1m8 0h1m13 0h1m-88 1h1m1 0h1m10 0h1m17 0h1m2 0h2m17 0h2m9 0h1m4 0h1m1 0h1m4 0h1m7 0h1m43 0h1m-125 1h2m10 0h1m5 0h1m29 0h1m6 0h1m18 0h1m7 0h1m2 0h1m32 0h1m-102 1h1m2 0h1m53 0h1m5 0h1m41 0h1m-124 1h1m7 0h1m27 0h1m5 0h1m8 0h2m4 0h1m2 0h1m12 0h2m-71 1h1m12 0h1m14 0h1m49 0h1m-85 1h2m7 0h1m20 0h1m7 0h1m5 0h1m11 0h1m12 0h1m-64 1h1m1 0h1m6 0h1m9 0h1m5 0h1m1 0h1m20 0h1m8 0h1m7 0h1m1 0h1m7 0h1m-83 1h1m15 0h1m13 0h1m40 0h1m2 0h1m5 0h1m2 0h2m-55 1h1m11 0h1m13 0h1m3 0h1m18 0h1m1 0h1m-83 1h1m31 0h1m1 0h1m5 0h1m7 0h1m21 0h1m6 0h2m1 0h2m37 0h1m-110 1h1m10 0h1m10 0h1m38 0h1m6 0h1m2 0h1m13 0h2m-75 1h1m17 0h3m26 0h1m5 0h2m6 0h1m-84 1h1m6 0h1m10 0h1m30 0h1m5 0h1m14 0h1m9 0h1m-77 1h1m6 0h1m4 0h1m17 0h1m21 0h1m20 0h1m-74 1h1m2 0h1m8 0h2m16 0h1m2 0h2m28 0h1m2 0h1m2 0h1m5 0h1m3 0h1m-71 1h1m3 0h1m7 0h1m9 0h1m10 0h1m6 0h2m-51 1h1m21 0h1m7 0h1m10 0h1m32 0h1m-69 1h1m11 0h1m5 0h1m16 0h1m-25 1h2m6 0h1m6 0h1m-26 1h1m7 0h1m9 0h1m11 0h1m3 0h1m6 0h1m-39 1h1m9 0h1m17 0h1m-35 1h1m14 0h1m39 0h1m-57 1h1m16 0h1m5 0h2m-25 1h1m1 0h1m2 0h1m21 0h1m-26 1h1m0 1h1m22 0h1m1 0h1m-14 2h1m7 0h1m-8 1h1m-7 1h1m4 0h1"/>
<path stroke="#5ec962" d="M164 1.5h1m10 2h1m2 0h1m1 0h1m-12 4h1m14 0h1m-1 1h1m-17 2h1m1 0h1m-25 2h1m39 0h1m-20 1h1m-15 1h1m32 0h1m-1 1h1m-1 1h1m-20 5h1m15 0h1m-17 1h1m14 1h1m4 0h1m-5 1h1m-11 1h1m-17 11h1m1 0h1m-32 1h1m7 0h1m7 1h1m7 0h1m-37 2h1m19 0h1m-5 1h1m28 2h3m-15 1h1m5 0h1m5 0h1m1 0h1m1 0h1m-31 1h1m27 0h1m-19 1h1m2 0h1m1 0h1m7 0h1m2 0h2m-33 1h1m23 0h1m7 0h2m2 0h1m-26 1h1m8 0h1m3 0h1m-1 1h1m7 0h1m1 0h2m-18 1h1m6 0h1m1 0h1m3 0h1m3 0h1m1 0h1m-29 1h1m9 0h1m12 0h1m3 0h2m-33 1h1m3 0h1m23 0h1m-15 1h3m12 0h1m-20 1h1m2 0h1m-6 1h1m1 0h1m20 0h1m-33 1h1m15 0h2m-103 1h1m52 0h1m2 0h1m28 0h1m9 0h2m1 0h1m3 0h1m4 0h1m-54 1h1m4 0h1m15 0h1m1 0h1m8 0h1m11 0h1m4 0h2m5 0h1m-60 1h1m28 0h1m2 0h1m2 0h1m8 0h1m-48 1h1m25 0h1m-76 1h1m5 0h1m48 0h1m18 0h1m8 0h1m6 0h1m-47 1h1m5 0h1m1 0h1m30 0h1m68 0h1m-146 1h1m62 0h1m5 0h1m3 0h1m-33 1h1m6 0h1m9 0h1m4 0h1m20 0h1m20 0h1m-112 1h1m63 0h1m13 0h1m0 1h1m1 0h1m49 0h1m-133 1h1m4 0h1m72 0h1m4 0h1m5 0h1m1 0h2m-93 1h1m54 0h1m34 0h1m-79 1h1m42 0h1m19 0h1m17 0h1m57 0h1m-138 1h1m58 0h1m1 0h1m3 0h1m4 0h2m-83 1h2m3 0h1m77 0h1m-82 1h1m75 0h1m-72 1h1m1 0h1m59 0h1m6 0h2m-74 1h2m1 0h1m54 0h1m1 0h1m11 0h1m3 0h1m2 0h2m62 0h1m-86 1h1m22 0h1m14 0h1m-94 1h1m1 0h1m3 0h1m46 0h1m8 0h1m2 0h1m4 0h3m17 1h1m48 0h1m-67 1h1m-21 1h1m3 0h1m25 0h1m54 0h1m-90 1h1m1 0h1m15 0h1m1 0h1m2 0h1m25 0h1m-49 1h1m10 0h1m9 0h1m-20 1h4m10 0h1m9 0h1m49 0h1m-152 1h1m89 0h1m66 0h1m-66 1h1m1 0h1m9 0h1m50 0h1m-97 1h1m22 0h1m2 0h1m3 0h2m41 0h1m-69 1h1m8 0h2m4 0h1m5 0h1m1 0h1m1 0h1m-27 1h1m17 0h1m1 0h1m6 0h1m9 0h1m52 0h1m-95 1h1m12 0h1m-15 1h1m3 0h1m21 0h1m7 0h1m47 0h1m-127 1h1m2 0h1m7 0h1m33 0h1m1 0h1m26 0h1m-78 1h1m5 0h1m4 0h1m8 0h1m19 0h1m22 0h1m7 0h1m2 0h1m9 0h1m-92 1h1m2 0h1m3 0h2m1 0h1m4 0h1m2 0h1m27 0h1m2 0h1m39 0h1m-92 1h1m9 0h1m5 0h2m3 0h1m38 0h1m13 0h1m5 0h1m4 0h1m11 0h1m-81 1h1m4 0h1m26 0h1m3 0h1m5 0h1m11 0h1m16 0h1m5 0h1m2 0h1m-98 1h1m11 0h1m25 0h1m10 0h1m6 0h2m23 0h1m17 0h1m-97 1h1m7 0h1m9 0h1m33 0h1m17 0h1m6 0h1m1 0h1m-83 1h2m5 0h2m26 0h1m1 0h1m11 0h1m19 0h1m21 0h1m1 0h1m-96 1h1m7 0h1m6 0h1m1 0h1m13 0h1m8 0h1m9 0h2m50 0h1m-94 1h1m4 0h1m1 0h1m15 0h1m26 0h1m10 0h1m5 0h1m3 0h1m14 0h1m4 0h1m-91 1h1m8 0h1m2 0h1m2 0h1m5 0h1m24 0h1m39 0h2m-85 1h1m24 0h1m5 0h1m1 0h2m25 0h1m19 0h1m-92 1h1m9 0h1m15 0h1m6 0h1m1 0h2m3 0h1m6 0h1m13 0h2m18 0h1m-67 1h1m7 0h1m12 0h1m3 0h1m4 0h1m1 0h1m11 0h2m5 0h1m3 0h1m15 0h1m52 0h1m-125 1h1m8 0h1m19 0h2m8 0h1m1 0h1m5 0h1m1 0h2m5 0h1m-55 1h2m9 0h1m24 0h2m2 0h1m12 0h1m4 0h2m-65 1h1m6 0h1m1 0h1m10 0h2m4 0h1m1 0h1m1 0h1m3 0h1m4 0h1m15 0h1m3 0h1m13 0h1m-75 1h1m7 0h1m4 0h1m5 0h1m8 0h1m1 0h1m7 0h1m1 0h1m1 0h1m25 0h1m56 0h1m-138 1h1m16 0h1m11 0h1m7 0h1m1 0h2m7 0h1m16 0h1m-66 1h1m9 0h1m12 0h1m3 0h1m2 0h1m8 0h1m6 0h1m8 0h1m9 0h2m2 0h1m4 0h1m2 0h1m17 0h1m-90 1h1m12 0h1m9 0h1m14 0h1m6 0h1m9 0h1m16 0h1m11 0h2m-86 1h1m19 0h1m5 0h1m10 0h1m12 0h1m2 0h1m49 0h1m-104 1h1m22 0h1m1 0h1m16 0h1m32 0h1m3 0h1m1 0h1m-80 1h1m2 0h1m9 0h1m6 0h1m11 0h1m42 0h1m16 0h1m-97 1h1m1 0h2m18 0h2m2 0h1m13 0h1m5 0h2m29 0h1m-68 1h2m2 0h1m40 0h1m13 0h1m6 0h1m3 0h1m-79 1h1m3 0h1m6 0h1m23 0h1m7 0h1m17 0h1m20 0h2m10 0h1m-78 1h1m11 0h1m2 0h1m29 0h1m19 0h1m-81 1h1m43 0h1m14 0h1m12 0h1m-66 1h1m9 0h1m5 0h1m13 0h1m34 0h2m42 0h1m-123 1h1m11 0h2m6 0h1m25 0h1m13 0h1m15 0h1m-69 1h1m7 0h1m4 0h1m8 0h1m21 0h1m7 0h1m4 0h2m10 0h1m4 0h1m14 0h1m-103 1h1m17 0h1m13 0h1m12 0h2m3 0h2m6 0h1m6 0h1m2 0h2m4 0h1m1 0h2m-74 1h2m2 0h1m39 0h1m13 0h1m2 0h1m1 0h2m-66 1h2m6 0h1m13 0h1m9 0h1m8 0h1m2 0h1m1 0h1m5 0h1m8 0h1m1 0h1m13 0h1m5 0h1m-87 1h1m4 0h2m2 0h1m29 0h1m1 0h1m18 0h3m10 0h1m5 0h1m1 0h1m3 0h1m-89 1h1m7 0h1m27 0h1m17 0h1m10 0h1m8 0h1m10 0h1m-85 1h1m17 0h1m15 0h2m3 0h2m10 0h1m16 0h1m6 0h1m2 0h1m-78 1h1m7 0h1m6 0h1m25 0h1m1 0h1m18 0h1m2 0h1m5 0h1m13 0h1m5 0h1m26 0h1m-90 1h1m1 0h1m7 0h1m1 0h1m5 0h2m3 0h1m15 0h1m-39 1h1m28 0h1m19 0h2m-86 1h1m9 0h1m33 0h1m-38 1h2m2 0h1m6 0h1m4 0h1m27 0h1m2 0h1m9 0h1m22 0h1m-87 1h1m9 0h1m11 0h1m1 0h1m12 0h1m11 0h1m4 0h1m-54 1h1m14 0h1m5 0h1m1 0h1m17 0h1m36 0h2m-77 1h1m5 0h1m9 0h1m26 0h1m10 0h1m22 0h1m31 0h1m-89 1h1m1 0h1m3 0h1m3 0h1m-33 1h1m12 0h1m2 0h1m6 0h1m7 0h1m2 0h1m1 0h1m2 0h1m67 0h1m-96 2h1m13 0h1m2 0h1m11 0h2m-27 1h1m8 0h1m7 0h1m-18 1h1m4 0h1m2 0h1m1 0h1m3 0h1m6 0h1m4 0h1m-38 1h1m4 0h1m1 0h1m12 0h1m7 0h2m4 0h1m-26 1h1m19 0h1m8 0h1m-32 1h1m8 0h1m8 0h2m6 0h1m1 1h1m-36 1h1m0 1h1m29 0h1m3 0h1"/>
<path stroke="#89d548" d="M162 1.5h1m2 0h1m2 1h1m-1 1h1m-9 1h1m23 2h1m-39 2h1m-5 4h1m6 4h1m37 2h1m-9 1h1m2 0h1m-3 1h1m1 0h1m-10 1h1m8 0h1m5 0h1m-36 1h2m34 0h1m-4 1h1m2 0h1m-23 1h1m12 0h1m-38 4h1m-2 6h1m18 0h1m29 2h1m-47 2h1m-4 2h1m-10 1h2m3 1h1m21 2h1m3 0h1m-9 1h1m3 0h1m-7 1h1m5 0h1m3 0h1m-16 1h2m10 0h1m-10 1h1m7 0h1m2 0h1m-12 1h1m2 0h1m-7 1h1m14 0h1m-25 1h2m19 0h1m1 0h1m-24 2h3m5 0h1m1 1h1m-9 1h1m1 0h1m3 0h1m-45 1h1m23 0h1m15 0h1m3 0h2m-2 1h2m2 0h1m6 0h1m-35 1h1m19 0h1m10 0h1m-105 1h1m45 0h1m26 0h2m-2 1h1m1 0h1m1 0h2m12 0h1m30 0h1m-125 1h1m1 0h1m44 0h1m3 0h1m19 0h1m1 1h1m1 0h1m1 0h1m14 0h1m-95 1h1m-1 1h1m79 0h1m-79 1h1m66 0h1m1 0h1m1 0h1m6 0h1m9 0h1m61 0h1m-149 1h1m59 0h1m24 0h1m58 0h1m-94 1h1m10 0h1m13 0h1m9 0h1m-92 1h1m2 0h1m53 0h1m21 0h1m1 0h1m10 0h1m-90 1h1m88 0h2m30 0h1m-122 1h2m65 0h1m-68 1h1m2 0h1m65 0h2m6 0h1m70 0h1m-145 1h2m1 0h1m56 0h1m2 0h4m-73 1h2m4 0h1m1 0h2m4 0h1m43 0h1m8 0h2m-66 1h1m1 0h2m65 0h1m33 0h1m42 0h1m-147 1h1m58 0h1m21 0h1m60 0h1m-138 1h1m10 0h1m64 0h1m-72 1h1m49 0h1m6 0h1m8 0h1m1 0h1m6 0h1m33 0h1m24 0h1m-151 1h1m51 0h1m12 0h1m6 0h1m14 0h1m63 0h1m-151 1h1m67 0h1m3 0h1m3 0h1m7 0h2m2 0h1m-79 1h1m53 0h1m18 0h1m27 0h1m-63 1h1m11 0h1m22 0h1m-25 1h1m9 0h1m1 0h1m1 0h1m10 0h1m3 0h1m56 0h1m-95 1h1m14 0h1m-20 1h1m16 0h1m2 0h1m9 0h1m-34 1h1m45 0h1m50 0h1m-103 1h1m18 0h1m15 0h1m4 0h2m-40 1h1m33 0h1m5 0h1m-38 1h1m2 0h1m14 0h1m9 0h1m1 0h1m5 0h1m3 0h1m53 0h1m-98 1h1m3 0h1m11 0h1m9 0h3m66 0h1m-139 1h1m7 0h1m31 0h1m12 0h1m18 0h1m2 0h1m5 0h1m-70 1h2m26 0h1m17 0h1m1 0h1m21 0h1m54 0h1m-96 1h1m29 0h1m1 0h1m4 0h1m-91 1h1m1 0h1m3 0h1m3 0h1m40 0h1m3 0h2m33 0h2m54 0h1m-145 1h1m14 0h1m65 0h1m4 0h1m-77 1h1m43 0h1m2 0h1m15 0h1m9 0h2m7 0h1m2 0h2m-97 1h2m5 0h1m27 0h1m15 0h2m20 0h1m9 0h1m4 0h1m53 0h1m-145 1h1m17 0h1m4 0h1m1 0h1m3 0h2m6 0h1m14 0h1m1 0h1m17 0h1m1 0h1m14 0h1m11 0h1m41 0h2m-122 1h1m5 0h1m7 0h1m8 0h1m23 0h1m72 0h1m-143 1h2m9 0h1m1 0h1m7 0h2m13 0h1m10 0h1m4 0h1m9 0h1m-57 1h1m14 0h1m11 0h1m2 0h2m35 0h1m7 0h1m-68 1h1m2 0h1m1 0h1m11 0h1m11 0h1m45 0h1m6 0h1m-91 1h1m12 0h1m9 0h1m1 0h1m5 0h1m3 0h2m1 0h1m11 0h1m2 0h1m11 0h1m15 0h1m1 0h1m-81 1h1m2 0h1m13 0h1m1 0h1m43 0h1m-69 1h1m9 0h1m26 0h1m4 0h1m4 0h1m8 0h1m6 0h1m1 0h1m2 0h1m2 0h1m7 0h1m2 0h1m7 0h1m43 0h1m-134 1h1m23 0h2m8 0h2m8 0h1m10 0h1m6 0h1m1 0h1m9 0h1m3 0h1m11 0h1m-85 1h1m16 0h1m1 0h1m6 0h1m10 0h1m3 0h1m7 0h1m1 0h1m1 0h1m4 0h1m24 0h1m42 0h1m-136 1h2m8 0h1m10 0h1m14 0h1m21 0h1m3 0h1m2 0h1m5 0h1m-55 1h1m32 0h1m24 0h1m-76 1h1m13 0h1m1 0h2m17 0h1m4 0h1m4 0h2m13 0h1m12 0h1m-72 1h1m24 0h1m9 0h1m13 0h1m3 0h1m5 0h1m69 0h1m-121 1h2m2 0h1m3 0h1m4 0h1m5 0h1m8 0h1m7 0h2m6 0h1m2 0h1m3 0h1m2 0h1m9 0h1m-71 1h1m1 0h3m6 0h1m22 0h1m2 0h1m11 0h2m1 0h1m3 0h1m3 0h1m44 0h1m-109 1h2m9 0h1m13 0h1m14 0h1m8 0h1m13 0h1m2 0h1m-60 1h1m3 0h1m3 0h1m3 0h2m13 0h1m12 0h1m1 0h1m7 0h1m5 0h1m-58 1h2m4 0h1m1 0h2m2 0h1m3 0h2m1 0h2m19 0h1m2 0h1m74 0h1m-91 1h1m11 0h1m8 0h1m4 0h1m24 0h1m-95 1h1m21 0h1m6 0h1m23 0h1m14 0h1m5 0h1m1 0h1m8 0h1m2 0h2m-89 1h1m18 0h1m3 0h1m42 0h1m1 0h1m16 0h1m2 0h3m-94 1h1m19 0h1m9 0h1m26 0h1m11 0h1m-51 1h1m5 0h1m6 0h1m1 0h1m17 0h1m2 0h1m3 0h1m10 0h2m2 0h1m-63 1h1m1 0h1m10 0h1m26 0h1m3 0h1m26 0h1m4 0h1m12 0h1m-103 1h1m1 0h1m4 0h1m6 0h1m10 0h2m5 0h1m23 0h1m4 0h1m27 0h1m38 0h1m-119 1h1m26 0h1m12 0h1m4 0h1m9 0h1m8 0h1m5 0h1m3 0h1m1 0h2m-87 1h1m7 0h2m11 0h1m29 0h1m22 0h1m11 0h1m-85 1h1m46 0h1m12 0h1m4 0h1m6 0h1m11 0h1m3 0h1m33 0h1m-118 1h1m4 0h1m17 0h1m18 0h1m3 0h1m7 0h1m5 0h1m8 0h1m4 0h2m5 0h1m2 0h1m31 0h1m-124 1h1m9 0h1m35 0h1m6 0h1m9 0h1m2 0h1m1 0h1m1 0h1m15 0h1m34 0h1m-117 1h1m25 0h1m10 0h1m3 0h1m4 0h1m2 0h1m6 0h1m3 0h2m2 0h1m6 0h1m9 0h1m18 0h1m-87 1h1m12 0h1m4 0h1m56 0h1m-93 1h1m2 0h2m2 0h1m33 0h1m22 0h1m8 0h1m2 0h1m-77 1h1m2 0h2m8 0h1m3 0h1m-24 1h1m9 0h1m5 0h1m18 0h2m17 0h1m26 0h1m-76 1h1m7 0h1m63 0h3m5 0h1m30 0h1m-114 1h1m3 0h1m1 0h2m5 0h1m28 0h1m7 0h3m1 0h1m6 0h1m17 0h1m17 0h1m14 0h1m-106 1h1m9 0h1m28 0h1m33 0h1m29 0h1m-106 1h1m2 0h1m2 0h1m1 0h2m2 0h1m18 0h1m-37 1h1m4 0h5m3 0h1m6 0h1m13 0h1m6 0h2m48 0h1m-90 1h3m3 0h1m5 0h1m3 0h1m4 0h1m9 0h1m2 0h3m-33 1h1m1 0h1m27 0h1m34 0h1m-51 1h1m10 0h1m2 0h1m2 0h1m59 0h2m1 0h1m-96 1h1m1 0h1m1 0h1m7 0h1m9 0h1m3 0h1m64 0h2m-96 1h1m1 0h1m8 0h1m3 0h2m8 0h1m12 0h1m-40 1h1m2 0h1m1 0h1m11 0h1m7 0h2m-28 1h1m7 0h1m4 0h2m22 0h1m-9 1h2m2 0h1m2 0h2m-8 1h1m6 0h1m2 0h2m-37 1h1m1 0h1m21 0h1m4 0h2m1 0h1m-6 1h1m1 0h1"/>
<path stroke="#b8de29" d="M167 2.5h1m6 1h1m2 0h1m1 0h1m0 16h1m7 0h1m-5 2h1m-2 1h1m-64 18h1m33 5h2m6 0h1m-14 1h1m1 2h1m5 0h1m3 0h2m2 0h1m-3 2h1m-16 1h1m-1 1h2m14 0h1m-22 1h1m5 1h1m-3 1h1m1 0h3m-46 1h1m20 0h1m15 0h1m1 0h3m-45 1h1m2 0h2m20 0h1m10 0h2m5 0h1m-95 1h1m75 0h2m3 0h2m1 0h1m1 0h2m-89 1h1m47 0h1m30 0h2m11 0h1m3 0h2m-98 1h1m46 0h1m29 0h1m46 0h1m-77 1h2m23 0h1m1 0h4m-29 1h1m6 0h1m13 0h1m1 0h1m3 0h1m5 0h1m-35 1h1m6 0h1m18 0h1m2 0h1m-23 1h1m23 0h1m-85 1h2m4 0h1m66 0h1m-66 1h1m63 0h1m-73 1h1m2 0h1m3 0h2m71 0h1m-77 1h1m60 0h1m1 0h1m4 0h1m50 0h1m5 0h1m22 0h1m-149 1h1m1 0h2m52 0h1m2 0h1m9 0h1m77 0h1m-147 1h1m1 0h1m1 0h2m44 0h1m6 0h2m2 0h1m6 0h1m-74 1h1m6 0h1m48 0h1m4 0h1m8 0h1m81 0h1m-150 1h1m55 0h1m-56 1h1m1 0h1m47 0h1m2 0h1m12 0h1m1 0h1m51 0h1m26 0h1m-142 1h1m3 0h2m38 0h1m15 0h3m12 0h1m-78 1h3m2 0h1m41 0h1m9 0h1m4 0h2m1 0h1m4 0h1m7 0h1m-71 1h1m1 0h2m31 0h1m11 0h1m4 0h2m14 0h1m40 0h1m24 0h1m-149 1h2m12 0h1m4 0h1m29 0h1m14 0h1m1 0h1m3 0h2m10 0h2m4 0h1m58 0h1m-145 1h1m16 0h1m42 0h1m1 0h1m4 0h1m9 0h2m-72 1h1m56 0h2m1 0h1m1 0h1m6 0h1m63 0h1m2 0h1m-139 1h1m38 0h1m17 0h2m3 0h1m2 0h1m70 0h1m-138 1h1m42 0h1m10 0h1m4 0h1m-44 1h2m19 0h2m-22 1h1m10 0h1m31 0h1m1 0h1m1 0h1m-97 1h1m48 0h1m22 0h2m17 0h2m72 0h1m-76 1h1m72 0h1m-100 1h1m6 0h1m90 0h1m-112 1h1m1 0h1m16 0h1m32 0h1m38 0h1m18 0h1m-108 1h1m9 0h1m13 0h1m12 0h1m-37 1h1m10 0h1m3 0h1m1 0h1m1 0h1m19 0h1m1 0h1m-22 1h1m14 0h1m67 0h1m-137 1h1m6 0h1m32 0h1m19 0h1m12 0h1m-81 1h1m2 0h1m5 0h1m2 0h1m32 0h2m13 0h1m3 0h1m12 0h1m1 0h1m1 0h1m4 0h1m55 0h1m-143 1h1m2 0h1m3 0h1m1 0h3m77 0h1m-90 1h5m3 0h4m3 0h1m1 0h1m20 0h1m8 0h1m6 0h1m1 0h1m2 0h1m4 0h1m11 0h1m64 0h1m-143 1h1m16 0h1m29 0h1m2 0h1m7 0h1m18 0h1m14 0h1m48 0h1m-145 1h1m3 0h1m2 0h1m1 0h1m5 0h2m1 0h1m1 0h1m1 0h1m1 0h2m20 0h2m3 0h1m2 0h1m89 0h1m-134 1h1m1 0h1m4 0h1m4 0h1m1 0h1m20 0h1m1 0h1m3 0h1m2 0h1m18 0h1m8 0h1m-82 1h2m3 0h1m1 0h1m1 0h2m4 0h1m5 0h3m11 0h1m1 0h1m10 0h1m2 0h1m17 0h1m1 0h1m2 0h1m-71 1h1m2 0h1m5 0h1m2 0h2m4 0h1m3 0h1m6 0h1m1 0h2m6 0h1m2 0h3m20 0h2m-74 1h1m7 0h1m6 0h1m7 0h1m16 0h1m5 0h1m1 0h1m3 0h2m5 0h1m1 0h2m7 0h1m1 0h2m1 0h1m15 0h1m50 0h1m-134 1h1m1 0h1m1 0h1m7 0h1m28 0h1m3 0h1m6 0h2m8 0h1m1 0h1m1 0h1m1 0h1m4 0h2m2 0h1m9 0h1m-95 1h5m1 0h1m8 0h2m5 0h1m4 0h1m9 0h1m6 0h1m2 0h1m1 0h2m8 0h1m11 0h2m2 0h1m1 0h2m2 0h1m1 0h1m3 0h1m51 0h1m-139 1h1m1 0h1m3 0h1m13 0h1m14 0h1m6 0h1m1 0h1m5 0h1m8 0h3m4 0h1m18 0h1m-83 1h1m6 0h1m6 0h1m30 0h1m2 0h1m4 0h2m8 0h1m8 0h1m10 0h1m-79 1h1m1 0h1m3 0h1m4 0h1m10 0h1m3 0h3m4 0h1m12 0h1m1 0h2m1 0h2m18 0h1m56 0h1m-123 1h1m3 0h1m8 0h1m15 0h1m7 0h2m1 0h1m13 0h1m-56 1h4m9 0h1m2 0h1m5 0h1m8 0h1m5 0h1m8 0h1m1 0h1m-60 1h1m12 0h2m1 0h1m2 0h1m16 0h1m4 0h1m11 0h1m1 0h3m13 0h2m-76 1h1m15 0h1m22 0h2m1 0h1m6 0h2m1 0h1m3 0h1m1 0h3m1 0h1m13 0h1m12 0h1m2 0h1m-85 1h2m6 0h1m5 0h3m4 0h1m2 0h1m6 0h3m2 0h1m1 0h2m2 0h1m2 0h1m3 0h1m2 0h2m1 0h1m-58 1h1m2 0h1m4 0h1m2 0h1m14 0h1m13 0h1m5 0h1m2 0h1m2 0h1m5 0h1m66 0h1m-121 1h1m1 0h1m1 0h1m9 0h1m16 0h1m5 0h1m11 0h2m68 0h1m-124 1h1m4 0h1m4 0h2m4 0h3m5 0h2m7 0h1m6 0h1m13 0h1m3 0h1m63 0h1m-137 1h1m14 0h2m2 0h2m5 0h1m12 0h1m44 0h1m50 0h1m-136 1h1m20 0h1m4 0h1m2 0h1m4 0h1m5 0h3m6 0h1m20 0h2m28 0h1m3 0h1m28 0h1m-134 1h1m15 0h1m16 0h2m1 0h1m2 0h1m2 0h1m5 0h1m22 0h1m4 0h1m8 0h2m2 0h1m42 0h1m-133 1h1m6 0h1m3 0h1m3 0h1m18 0h3m54 0h1m39 0h1m-104 1h4m4 0h1m52 0h1m40 0h1m-108 1h2m9 0h1m16 0h1m32 0h1m-85 1h1m1 0h1m11 0h1m6 0h1m13 0h1m92 0h1m-113 1h1m33 0h1m37 0h1m-88 1h1m47 0h1m18 0h2m2 0h1m-73 1h2m3 0h1m41 0h1m4 0h1m6 0h1m14 0h3m4 0h1m-81 1h1m1 0h1m25 0h1m18 0h1m3 0h1m14 0h1m2 0h1m1 0h1m51 0h1m-125 1h1m2 0h3m24 0h1m9 0h1m11 0h1m15 0h1m3 0h1m-71 1h1m24 0h1m4 0h1m13 0h1m3 0h2m2 0h1m13 0h1m2 0h1m49 0h1m-121 1h1m1 0h3m35 0h2m7 0h1m4 0h1m8 0h1m56 0h1m-122 1h1m2 0h1m35 0h1m7 0h1m3 0h1m2 0h1m12 0h1m6 0h1m45 0h1m-126 1h1m3 0h1m2 0h2m1 0h1m46 0h1m13 0h3m10 0h1m37 0h1m-122 1h2m4 0h2m14 0h1m21 0h1m6 0h1m9 0h1m8 0h1m-72 1h1m1 0h2m1 0h1m2 0h1m13 0h1m28 0h1m17 0h2m5 0h1m2 0h1m2 0h2m1 0h1m33 0h2m-118 1h1m2 0h1m4 0h1m2 0h2m1 0h1m2 0h1m2 0h1m15 0h1m17 0h1m17 0h1m9 0h1m1 0h1m30 0h2m-120 1h1m10 0h1m1 0h1m8 0h1m13 0h1m20 0h1m9 0h1m2 0h1m4 0h1m-19 1h1m17 0h1m-68 1h2m14 0h1m-19 1h1m3 0h1m14 0h1m19 0h1m20 0h1m46 0h1m-108 1h1m1 0h1m6 0h1m10 0h2m83 0h1m-98 1h1m1 0h1m4 0h1m1 0h1m14 0h1m8 0h1m60 0h3m-103 1h2m5 0h1m5 0h3m17 0h1m2 0h1m61 0h2m-100 1h2m1 0h3m4 0h1m7 0h1m13 0h2m19 0h1m-56 1h1m8 0h2m22 0h1m1 0h1m4 0h1m53 0h1m-96 1h1m6 0h1m3 0h1m3 0h1m3 0h1m-20 1h1m2 0h1m3 0h1m5 0h1m50 0h1m18 0h1m3 0h1m-86 1h1m3 0h1m17 0h1m11 0h1m16 0h1m16 0h1m15 0h1m-82 1h1m21 0h1m29 0h1m15 0h1m-65 1h1m19 0h1m-3 1h1m10 0h1m-9 1h1m-3 1h1m6 0h1m-14 1h1m-10 1h1"/>
<path stroke="#e7e419" d="M171 6.5h1m11 13h1m-1 1h1m1 1h1m-38 14h1m-14 6h1m-1 1h1m23 0h1m0 5h1m-63 1h1m65 0h1m-2 1h1m-26 1h1m2 0h1m-92 6h1m54 0h1m36 0h1m-1 1h2m13 0h1m-110 1h3m81 0h1m4 0h1m6 0h1m1 0h1m-99 1h3m54 0h1m21 0h2m16 0h2m-99 1h3m48 0h1m24 0h1m1 0h1m4 0h1m3 0h1m9 0h4m-96 1h1m71 0h1m-78 1h1m3 0h1m46 0h1m9 0h1m16 0h1m2 0h2m46 0h1m-129 1h2m102 0h1m-105 1h2m71 0h1m36 1h1m-55 1h1m9 0h4m6 0h1m73 0h2m-150 1h1m50 0h1m2 0h1m4 0h1m4 0h4m-67 1h2m1 0h1m57 0h1m1 0h4m-67 1h1m2 0h2m54 0h2m3 0h3m-66 1h1m1 0h1m47 0h1m-49 1h1m7 0h1m42 0h2m10 0h1m-109 1h4m37 0h2m50 0h1m1 0h1m10 0h1m16 0h1m-124 1h1m3 0h2m31 0h1m2 0h1m1 0h1m50 0h1m14 0h1m-109 1h1m4 0h2m31 0h1m51 0h1m1 0h1m13 0h1m4 0h1m3 0h1m-117 1h1m6 0h1m84 0h1m3 0h1m8 0h3m2 0h1m1 0h1m-112 1h1m5 0h1m30 0h2m1 0h1m17 0h1m30 0h2m13 0h1m2 0h3m-114 1h5m5 0h1m26 0h6m13 0h1m36 0h1m14 0h1m1 0h2m8 0h1m37 0h1m-160 1h2m9 0h2m24 0h2m7 0h1m8 0h2m36 0h1m16 0h2m1 0h1m-114 1h1m11 0h1m23 0h1m11 0h2m5 0h1m8 0h1m26 0h2m38 0h1m7 0h1m-139 1h1m10 0h4m19 0h1m13 0h2m2 0h2m10 0h1m24 0h1m16 0h2m2 0h3m75 0h1m-188 1h1m12 0h5m14 0h1m15 0h1m1 0h2m12 0h2m30 0h1m7 0h4m1 0h3m24 0h1m49 0h1m-187 1h1m17 0h12m1 0h2m61 0h1m5 0h2m-101 1h1m27 0h3m54 0h1m1 0h1m12 0h1m5 0h1m-106 1h1m64 0h1m16 0h2m6 0h2m12 0h1m3 0h3m-111 1h1m64 0h2m14 0h1m-81 1h1m64 0h1m11 0h1m1 0h2m2 0h1m14 0h1m4 0h1m-104 1h1m74 0h1m1 0h1m7 0h1m1 0h1m-87 1h1m65 0h1m17 0h2m21 0h1m46 0h1m18 0h1m-174 1h1m66 0h1m4 0h2m36 0h1m-110 1h1m66 0h2m1 0h2m35 0h1m-108 1h1m67 0h3m6 0h1m10 0h1m-89 1h1m36 0h2m2 0h1m4 0h1m22 0h1m30 0h1m-101 1h1m25 0h1m2 0h1m17 0h1m26 0h3m9 0h1m3 0h1m14 0h2m-106 1h1m23 0h2m5 0h1m42 0h1m1 0h1m2 0h1m3 0h1m12 0h2m7 0h1m-106 1h1m22 0h1m2 0h2m1 0h1m1 0h1m4 0h2m2 0h1m2 0h2m45 0h3m-93 1h1m19 0h1m6 0h2m6 0h2m4 0h1m3 0h1m25 0h1m19 0h3m5 0h1m5 0h1m11 0h1m-117 1h1m23 0h4m7 0h2m3 0h1m30 0h1m19 0h1m1 0h1m-94 1h1m20 0h2m2 0h2m2 0h1m5 0h1m1 0h1m25 0h1m3 0h1m4 0h2m15 0h1m3 0h1m1 0h1m-95 1h1m21 0h4m2 0h1m1 0h1m5 0h2m5 0h1m15 0h1m6 0h1m7 0h1m15 0h1m2 0h1m-94 1h1m19 0h6m5 0h3m1 0h1m2 0h2m4 0h1m19 0h1m1 0h1m1 0h3m37 0h1m-109 1h2m18 0h6m3 0h1m3 0h1m1 0h2m1 0h1m21 0h1m5 0h1m1 0h1m2 0h1m23 0h1m10 0h3m52 0h1m-161 1h1m5 0h1m24 0h3m3 0h1m11 0h1m18 0h1m2 0h1m24 0h1m2 0h1m2 0h1m-102 1h1m23 0h1m3 0h1m19 0h1m17 0h1m1 0h2m21 0h1m5 0h4m5 0h1m-107 1h2m22 0h1m20 0h1m1 0h1m5 0h1m6 0h1m12 0h1m5 0h1m12 0h1m4 0h3m-99 1h1m23 0h1m5 0h3m36 0h1m2 0h1m8 0h1m15 0h1m-98 1h2m28 0h3m1 0h1m39 0h3m1 0h1m-78 1h1m28 0h1m40 0h6m2 0h1m5 0h1m-84 1h1m25 0h1m29 0h1m4 0h1m4 0h1m1 0h4m1 0h1m3 0h2m23 0h1m47 0h1m-150 1h1m17 0h1m19 0h1m19 0h1m7 0h1m2 0h1m2 0h1m-73 1h2m23 0h1m8 0h2m24 0h1m2 0h1m9 0h1m14 0h3m-90 1h1m20 0h2m1 0h1m7 0h2m7 0h1m19 0h1m5 0h1m-67 1h1m19 0h1m4 0h1m1 0h1m15 0h2m25 0h1m35 0h1m-106 1h1m19 0h1m1 0h2m3 0h1m11 0h1m1 0h2m-42 1h1m21 0h1m14 0h2m1 0h2m-42 1h2m1 0h1m15 0h1m14 0h2m16 0h1m-52 1h1m1 0h1m10 0h1m8 0h1m5 0h1m3 0h4m7 0h1m2 0h1m5 0h1m31 0h1m5 0h1m-90 1h2m12 0h1m16 0h1m1 0h3m51 0h1m2 0h1m-91 1h1m1 0h2m30 0h4m38 0h1m13 0h1m-91 1h1m2 0h1m33 0h1m34 0h2m-74 1h2m1 0h1m50 0h1m18 0h1m12 0h1m-87 1h1m1 0h1m19 0h3m31 0h1m14 0h1m1 0h1m-73 1h1m50 0h1m24 0h1m-78 1h2m4 0h1m44 0h1m1 0h1m19 0h1m-74 1h1m1 0h1m3 0h1m25 0h1m38 0h1m1 0h1m-74 1h2m9 0h1m19 0h1m6 0h1m12 0h3m15 0h1m3 0h1m50 0h1m-125 1h1m5 0h2m2 0h1m25 0h1m1 0h1m26 0h1m3 0h1m-70 1h1m38 0h1m15 0h1m-61 1h3m1 0h2m3 0h1m2 0h1m37 0h1m14 0h1m10 0h1m-77 1h2m1 0h2m2 0h2m2 0h1m1 0h1m111 0h1m-126 1h2m4 0h2m66 0h1m48 0h1m-124 1h2m4 0h1m33 0h1m8 0h1m23 0h2m-75 1h2m7 0h1m5 0h1m4 0h1m51 0h1m-72 1h1m9 0h1m33 0h1m28 0h1m3 0h1m-77 1h2m13 0h1m99 0h1m-115 1h1m44 0h1m-46 1h3m3 0h1m16 0h1m11 0h1m44 0h1m-79 1h1m12 0h1m8 0h1m17 0h1m-41 1h2m4 0h3m3 0h1m1 0h1m2 0h1m25 0h1m-43 1h2m1 0h1m3 0h1m1 0h2m1 0h1m9 0h1m-22 1h3m2 0h1m4 0h2m7 0h1m68 0h7m4 0h1m-101 1h2m1 0h3m15 0h1m66 0h2m5 0h1m-96 1h1m1 0h1m1 0h1m5 0h1m16 0h1m60 0h1m-89 1h1m2 0h1m8 0h2m48 0h3m14 0h5m-85 1h2m1 0h1m1 0h2m22 0h3m14 0h9m1 0h4m1 0h2m3 0h6m7 0h2m4 0h3m1 0h1m-90 1h4m2 0h1m1 0h1m2 0h1m2 0h1m31 0h1m9 0h1m3 0h2m10 0h3m4 0h1m-79 1h2m3 0h1m1 0h1m27 0h2m6 0h3m28 0h5m-79 1h2m3 0h1m36 0h2m-43 1h1m3 0h5m20 0h1m1 0h1m1 0h1m1 0h7m-34 1h4m12 0h4m1 0h1m3 0h2m-24 1h1m11 0h2m-15 1h3m8 0h3m-11 1h2m4 0h3m-8 1h6"/>
</g><use href="#sm"/>
</g>
<text x="110.0" y="362.9" font-size="36.2" fill="#4d4d4d" text-anchor="end">22°S</text>
<text x="110.0" y="466.6" font-size="36.2" fill="#4d4d4d" text-anchor="end">24°S</text>
<text x="110.0" y="570.3" font-size="36.2" fill="#4d4d4d" text-anchor="end">26°S</text>
<text x="110.0" y="674.0" font-size="36.2" fill="#4d4d4d" text-anchor="end">28°S</text>
<text x="110.0" y="777.7" font-size="36.2" fill="#4d4d4d" text-anchor="end">30°S</text>
<text x="110.0" y="881.5" font-size="36.2" fill="#4d4d4d" text-anchor="end">32°S</text>
<text x="110.0" y="985.2" font-size="36.2" fill="#4d4d4d" text-anchor="end">34°S</text>
<path d="M119.54 349.75h11.46M119.54 453.47h11.46M119.54 557.19h11.46M119.54 660.91h11.46M119.54 764.63h11.46M119.54 868.35h11.46M119.54 972.07h11.46" stroke="#333" stroke-width="4.45" fill="none"/>
<rect x="981.8" y="252.2" width="827.9" height="68.8" fill="#d9d9d9"/>
<text x="1395.8" y="299.2" font-size="36.2" fill="#1a1a1a" text-anchor="middle">lb</text>
<rect x="981.8" y="321.0" width="827.9" height="727.6" fill="#ebebeb"/>
<path d="M981.8 349.75h827.9M981.8 453.47h827.9M981.8 557.19h827.9M981.8 660.91h827.9M981.8 764.63h827.9M981.8 868.35h827.9M981.8 972.07h827.9M1182.60 321.0v727.6M1410.60 321.0v727.6M1638.60 321.0v727.6" stroke="#fff" stroke-width="4.45" fill="none"/>
<g transform="translate(1000.20 349.75) scale(3.8000 4.3217)">
<g fill="none" stroke-width="1" shape-rendering="crispEdges">
<use href="#mk" fill="#470e61"/>
<path stroke="#482677" d="M157 3.5h1m13 1h1m6 0h1m1 0h1m-26 1h1m1 0h1m12 0h1m-6 1h1m4 0h1m-17 1h1m15 0h1m1 1h1m3 1h1m3 0h1m-10 1h1m-23 1h1m9 0h3m6 0h1m2 0h1m2 0h1m-20 1h3m8 0h1m8 0h1m-33 1h1m7 0h1m9 0h1m12 0h1m-33 1h1m3 0h1m10 0h1m8 0h1m14 0h1m-41 1h1m6 0h1m20 0h1m5 0h1m6 0h2m-48 1h1m3 0h1m22 0h1m1 0h1m2 0h1m4 0h2m1 0h3m5 0h1m-44 1h1m22 0h1m9 0h1m3 0h1m5 0h1m-52 1h1m14 0h1m20 0h1m10 0h1m-6 1h1m1 0h1m-47 1h1m25 0h1m6 0h1m9 0h1m2 0h2m9 0h1m-49 1h2m7 0h1m3 0h1m14 0h1m7 0h1m-42 1h1m13 0h1m7 0h1m14 0h2m2 0h1m11 0h1m-30 1h1m11 0h1m3 0h1m-43 1h2m18 0h1m2 0h1m2 0h1m-30 1h1m17 0h2m2 0h1m1 0h1m17 0h1m-18 1h1m10 0h1m17 0h2m-38 1h1m4 0h1m21 0h1m-22 1h1m-29 1h2m20 0h1m3 0h1m5 0h1m18 0h1m4 0h2m1 0h1m-44 1h2m8 0h1m1 0h1m8 0h1m4 0h1m-45 1h1m14 0h2m2 0h1m2 0h1m5 0h2m-25 1h2m10 0h1m2 0h1m3 0h1m2 0h1m8 0h1m17 0h1m2 0h1m-62 1h1m9 0h1m5 0h1m2 0h1m4 0h1m5 0h1m31 0h1m-47 1h1m6 0h1m25 0h1m2 0h1m9 0h1m1 0h1m-64 1h1m5 0h4m1 0h1m2 0h1m2 0h2m1 0h1m8 0h1m2 0h1m4 0h1m6 0h1m18 0h1m-58 1h1m3 0h2m2 0h2m4 0h1m1 0h1m8 0h1m2 0h1m-26 1h3m5 0h1m1 0h1m7 0h1m3 0h1m1 0h1m1 0h1m4 0h1m1 0h1m25 0h1m-65 1h1m1 0h3m4 0h1m4 0h1m8 0h1m2 0h1m32 0h1m5 0h1m-72 1h1m8 0h1m1 0h1m4 0h1m7 0h1m1 0h1m6 0h1m1 0h1m29 0h2m1 0h1m1 0h2m1 0h1m-62 1h1m2 0h1m9 0h2m7 0h3m1 0h1m1 0h2m2 0h2m24 0h2m-72 1h1m4 0h1m4 0h1m7 0h1m9 0h1m5 0h2m1 0h1m3 0h1m5 0h1m7 0h1m11 0h1m5 0h1m-71 1h1m7 0h2m19 0h1m1 0h3m1 0h1m6 0h1m26 0h1m-77 1h1m12 0h2m5 0h1m2 0h1m27 0h2m18 0h2m1 0h1m1 0h1m-64 1h3m6 0h1m28 0h1m2 0h1m8 0h1m8 0h3m1 0h1m-65 1h1m1 0h1m3 0h1m5 0h1m5 0h1m41 0h1m-61 1h1m10 0h1m28 0h2m18 0h1m2 0h1m-95 1h1m7 0h1m29 0h2m3 0h1m50 0h2m-20 1h1m-115 1h1m47 0h1m4 0h1m1 0h1m17 0h3m4 0h1m2 0h1m29 0h2m-67 1h3m5 0h1m12 0h1m5 0h1m37 0h1m-63 1h1m3 0h1m3 0h1m11 0h1m5 0h2m35 0h1m-67 1h2m5 0h1m3 0h1m13 0h2m35 0h3m-97 1h2m25 0h1m11 0h1m18 0h1m35 0h3m-68 1h1m8 0h1m6 0h1m9 0h1m1 0h1m2 0h1m34 0h1m2 0h1m-70 1h1m1 0h1m1 0h1m13 0h1m4 0h1m12 0h1m12 0h1m17 0h1m1 0h1m-125 1h1m49 0h1m3 0h1m21 0h1m6 0h1m36 0h3m-118 1h1m61 0h1m25 0h1m25 0h1m-76 1h1m8 0h1m2 0h1m16 0h1m9 0h1m26 0h1m8 0h1m1 0h1m22 0h1m3 0h4m-104 1h1m25 0h1m16 0h1m26 0h3m2 0h1m21 0h1m4 0h3m-110 1h1m9 0h1m3 0h1m1 0h1m59 0h2m1 0h2m25 0h1m3 0h1m-110 1h1m1 0h3m7 0h1m1 0h1m8 0h1m2 0h1m15 0h1m34 0h1m3 0h1m21 0h1m-133 1h1m27 0h1m4 0h1m13 0h2m8 0h2m13 0h1m1 0h1m8 0h1m2 0h1m12 0h2m7 0h2m8 0h1m10 0h2m1 0h2m-102 1h1m10 0h1m1 0h1m2 0h1m5 0h1m16 0h2m7 0h1m3 0h1m18 0h3m2 0h1m3 0h2m16 0h3m-140 1h1m35 0h1m1 0h1m5 0h1m1 0h1m6 0h1m6 0h1m16 0h2m1 0h1m6 0h1m3 0h1m1 0h2m3 0h1m1 0h1m1 0h1m7 0h1m6 0h4m14 0h1m2 0h1m1 0h3m-99 1h1m1 0h1m5 0h1m39 0h2m8 0h1m3 0h2m3 0h2m1 0h3m2 0h1m1 0h1m1 0h1m15 0h2m-149 1h2m7 0h1m42 0h1m6 0h1m1 0h1m12 0h1m6 0h1m19 0h4m2 0h2m1 0h1m2 0h1m2 0h1m10 0h1m7 0h1m1 0h1m9 0h1m1 0h2m-150 1h1m6 0h1m49 0h1m15 0h2m9 0h1m16 0h2m1 0h3m1 0h1m5 0h3m4 0h2m1 0h1m4 0h2m3 0h1m11 0h2m1 0h1m-139 1h1m47 0h1m1 0h1m11 0h1m8 0h1m3 0h1m8 0h3m2 0h1m1 0h2m2 0h3m4 0h2m7 0h1m2 0h2m1 0h2m1 0h1m13 0h1m1 0h2m-139 1h1m42 0h1m2 0h1m43 0h2m2 0h3m21 0h2m1 0h1m9 0h1m-128 1h1m41 0h1m9 0h1m8 0h1m10 0h1m13 0h2m2 0h4m2 0h1m3 0h1m10 0h2m19 0h1m-148 1h1m12 0h2m58 0h1m1 0h1m29 0h2m1 0h1m2 0h1m1 0h2m1 0h1m7 0h1m20 0h1m2 0h1m-135 1h2m48 0h1m10 0h2m10 0h1m12 0h1m4 0h4m2 0h1m3 0h1m8 0h1m2 0h1m1 0h1m-119 1h1m4 0h1m44 0h2m1 0h2m10 0h1m21 0h1m26 0h1m1 0h1m18 0h1m-132 1h2m42 0h1m1 0h1m2 0h1m15 0h1m11 0h1m5 0h1m12 0h1m7 0h1m8 0h1m1 0h1m-117 1h1m2 0h1m40 0h1m4 0h1m12 0h1m18 0h1m4 0h1m21 0h2m2 0h1m20 0h1m-104 1h1m1 0h1m46 0h1m11 0h1m14 0h1m24 0h1m-138 1h3m5 0h1m42 0h1m14 0h1m15 0h1m13 0h1m8 0h1m5 0h1m4 0h1m12 0h1m5 0h2m1 0h1m-148 1h1m1 0h1m8 0h1m18 0h1m23 0h1m19 0h1m17 0h1m11 0h1m9 0h1m1 0h1m2 0h1m1 0h1m1 0h1m5 0h1m15 0h1m-150 1h1m47 0h1m15 0h1m2 0h1m29 0h1m8 0h1m17 0h1m4 0h1m2 0h1m8 0h1m3 0h1m-147 1h2m3 0h2m86 0h1m16 0h2m15 0h1m2 0h1m3 0h1m6 0h1m8 0h1m-177 1h1m25 0h3m2 0h1m54 0h1m1 0h1m33 0h1m14 0h2m7 0h1m2 0h1m1 0h2m4 0h1m4 0h1m10 0h1m1 0h2m-179 1h1m1 0h1m26 0h1m1 0h1m1 0h1m2 0h1m48 0h1m42 0h2m18 0h3m9 0h3m4 0h1m9 0h1m-177 1h3m23 0h1m1 0h1m3 0h2m42 0h1m5 0h1m1 0h1m1 0h2m33 0h1m1 0h1m19 0h1m7 0h1m1 0h1m1 0h1m5 0h1m12 0h1m-175 1h1m1 0h1m9 0h1m23 0h1m36 0h1m6 0h1m11 0h1m4 0h1m20 0h1m31 0h1m3 0h1m1 0h3m3 0h1m3 0h1m2 0h1m1 0h2m-173 1h3m1 0h1m5 0h1m2 0h2m1 0h1m32 0h1m7 0h1m13 0h1m10 0h1m6 0h1m3 0h1m19 0h1m37 0h3m4 0h1m1 0h1m1 0h3m3 0h1m2 0h1m-168 1h1m2 0h1m5 0h2m35 0h1m18 0h1m6 0h2m6 0h1m4 0h1m28 0h1m2 0h1m29 0h1m3 0h1m1 0h1m2 0h1m5 0h2m1 0h1m-169 1h1m4 0h1m3 0h1m39 0h1m1 0h1m31 0h2m2 0h3m2 0h2m1 0h1m1 0h1m3 0h1m19 0h1m25 0h2m3 0h1m6 0h1m7 0h2m-166 1h4m1 0h1m18 0h1m2 0h1m3 0h1m1 0h1m2 0h1m1 0h1m7 0h2m1 0h1m4 0h1m8 0h1m4 0h1m48 0h1m25 0h3m4 0h1m5 0h1m-152 1h1m14 0h1m4 0h1m1 0h2m4 0h1m2 0h3m3 0h1m1 0h1m35 0h1m7 0h1m2 0h1m2 0h1m47 0h1m3 0h1m1 0h5m-132 1h1m7 0h1m10 0h1m1 0h1m2 0h1m1 0h2m3 0h1m1 0h2m15 0h2m1 0h1m12 0h2m5 0h1m17 0h2m28 0h1m3 0h1m1 0h1m3 0h1m7 0h1m-143 1h1m21 0h3m4 0h2m1 0h2m1 0h1m1 0h1m17 0h1m4 0h2m9 0h1m1 0h1m1 0h1m9 0h1m7 0h1m29 0h2m5 0h1m1 0h1m3 0h2m1 0h1m-143 1h2m23 0h1m3 0h1m2 0h4m1 0h1m4 0h1m1 0h1m13 0h1m11 0h1m9 0h1m48 0h1m5 0h1m2 0h2m-141 1h1m26 0h1m15 0h1m14 0h1m9 0h1m3 0h1m5 0h3m47 0h1m3 0h1m3 0h1m4 0h1m3 0h1m-159 1h1m10 0h1m14 0h1m6 0h1m4 0h1m3 0h1m3 0h1m11 0h1m4 0h1m17 0h1m5 0h1m5 0h1m45 0h2m7 0h1m1 0h1m5 0h1m-143 1h1m17 0h1m10 0h1m4 0h2m2 0h1m27 0h2m19 0h1m37 0h2m2 0h1m-117 1h1m15 0h1m1 0h1m2 0h1m4 0h1m19 0h2m4 0h1m2 0h1m7 0h1m47 0h1m1 0h1m-130 1h1m50 0h1m8 0h1m4 0h1m17 0h1m14 0h1m3 0h1m22 0h2m8 0h1m3 0h1m-139 1h1m36 0h1m6 0h1m16 0h1m1 0h1m16 0h1m2 0h1m7 0h1m9 0h1m17 0h1m2 0h3m-81 1h1m13 0h2m7 0h1m2 0h1m7 0h1m4 0h1m36 0h2m-64 1h1m7 0h1m1 0h1m20 0h1m4 0h1m22 0h1m-117 1h1m55 0h2m11 0h1m32 0h1m14 0h2m2 0h1m-111 1h1m24 0h1m18 0h2m8 0h1m2 0h1m1 0h2m22 0h1m2 0h1m21 0h1m7 0h1m13 0h1m-62 1h1m14 0h2m2 0h1m3 0h1m2 0h1m10 0h1m1 0h1m6 0h3m-126 1h2m4 0h1m1 0h1m68 0h1m5 0h2m10 0h1m1 0h2m2 0h3m6 0h5m4 0h2m1 0h1m5 0h1m-122 1h1m14 0h1m21 0h1m1 0h1m51 0h1m1 0h1m16 0h1m1 0h1m-123 1h1m5 0h1m17 0h1m4 0h1m13 0h1m45 0h1m1 0h2m6 0h2m8 0h1m13 0h1m-125 1h1m2 0h1m4 0h1m3 0h1m4 0h1m6 0h2m2 0h1m57 0h2m3 0h1m1 0h1m1 0h1m6 0h1m18 0h1m15 0h1m-140 1h1m9 0h1m7 0h1m13 0h1m2 0h1m6 0h1m6 0h1m4 0h2m14 0h1m26 0h1m24 0h1m-125 1h2m12 0h1m19 0h1m6 0h1m32 0h1m1 0h1m9 0h1m3 0h2m3 0h1m7 0h2m3 0h2m9 0h1m3 0h1m1 0h1m2 0h3m-132 1h2m3 0h3m31 0h1m37 0h1m10 0h2m15 0h1m2 0h2m1 0h1m6 0h1m3 0h1m6 0h1m-131 1h3m1 0h2m3 0h2m21 0h1m3 0h1m6 0h1m36 0h1m8 0h2m5 0h1m8 0h2m4 0h1m18 0h1m-129 1h1m2 0h1m4 0h1m25 0h1m42 0h1m2 0h2m6 0h2m7 0h1m2 0h1m8 0h2m17 0h1m-129 1h1m2 0h1m48 0h1m1 0h1m4 0h1m5 0h1m20 0h2m21 0h2m11 0h1m1 0h1m-127 1h1m4 0h1m4 0h2m18 0h1m12 0h1m7 0h1m4 0h1m8 0h1m2 0h1m5 0h2m3 0h1m2 0h1m10 0h1m15 0h1m1 0h1m7 0h1m1 0h1m2 0h1m3 0h1m-128 1h1m3 0h1m6 0h1m3 0h1m29 0h1m7 0h1m8 0h1m6 0h1m7 0h1m4 0h1m14 0h1m1 0h1m5 0h1m12 0h2m4 0h1m-121 1h1m1 0h1m12 0h1m10 0h1m16 0h1m6 0h1m20 0h2m8 0h1m16 0h1m7 0h1m10 0h1m1 0h1m3 0h1m-120 1h1m14 0h2m1 0h1m1 0h2m13 0h1m10 0h1m6 0h1m6 0h1m1 0h1m10 0h1m3 0h1m32 0h1m-111 1h1m1 0h2m7 0h1m1 0h2m1 0h1m1 0h1m14 0h1m11 0h1m1 0h1m4 0h2m1 0h2m13 0h1m4 0h1m1 0h1m10 0h1m3 0h1m1 0h1m2 0h1m13 0h1m8 0h1m-119 1h1m7 0h3m19 0h1m15 0h1m6 0h1m2 0h1m1 0h1m2 0h1m4 0h1m4 0h1m14 0h1m4 0h1m6 0h1m12 0h2m-116 1h1m3 0h1m6 0h1m24 0h1m4 0h1m17 0h1m10 0h1m20 0h1m2 0h1m5 0h1m12 0h1m-80 1h1m1 0h2m4 0h1m10 0h1m5 0h1m12 0h1m1 0h1m1 0h1m16 0h1m3 0h2m1 0h2m-88 1h1m6 0h1m1 0h2m32 0h1m21 0h1m5 0h1m12 0h1m3 0h1m-97 1h1m4 0h1m11 0h1m2 0h1m14 0h1m11 0h1m27 0h1m2 0h1m2 0h1m5 0h1m1 0h1m5 0h1m2 0h1m5 0h1m-102 1h1m3 0h1m36 0h1m22 0h1m2 0h1m7 0h1m1 0h2m1 0h1m2 0h1m4 0h1m8 0h1m7 0h1m-110 1h1m9 0h2m2 0h1m6 0h1m21 0h1m2 0h1m8 0h1m33 0h1m5 0h2m1 0h1m1 0h2m5 0h1m2 0h1m-107 1h1m1 0h2m6 0h1m3 0h1m13 0h1m40 0h1m7 0h1m1 0h1m10 0h1m3 0h2m-100 1h2m4 0h1m10 0h1m8 0h1m1 0h1m4 0h1m15 0h1m6 0h1m5 0h1m9 0h1m15 0h1m4 0h2m1 0h1m5 0h1m4 0h1m-111 1h1m3 0h1m11 0h1m4 0h1m4 0h1m25 0h1m1 0h1m14 0h2m9 0h1m15 0h1m6 0h1m-83 1h1m18 0h1m22 0h1m11 0h3m9 0h1m8 0h1m1 0h1m8 0h3m-107 1h1m8 0h1m3 0h1m10 0h1m10 0h1m2 0h1m1 0h1m8 0h1m2 0h1m7 0h1m15 0h1m2 0h1m15 0h1m-85 1h1m2 0h1m2 0h1m3 0h1m11 0h2m8 0h1m3 0h1m12 0h1m2 0h1m8 0h1m3 0h1m3 0h1m1 0h1m13 0h1m5 0h1m-116 1h1m19 0h1m5 0h1m12 0h1m4 0h1m1 0h2m10 0h2m5 0h1m30 0h2m1 0h1m-83 1h1m8 0h1m3 0h1m2 0h1m2 0h1m11 0h1m2 0h1m1 0h1m6 0h1m18 0h1m10 0h1m3 0h1m2 0h1m7 0h1m4 0h3m-90 1h1m4 0h1m4 0h1m6 0h1m5 0h1m24 0h1m3 0h1m11 0h1m2 0h1m5 0h1m4 0h1m10 0h1m-111 1h1m37 0h3m2 0h2m3 0h1m2 0h2m2 0h1m1 0h1m3 0h1m2 0h1m6 0h1m5 0h1m21 0h1m5 0h1m1 0h1m1 0h1m-80 1h1m19 0h1m5 0h1m1 0h1m4 0h1m6 0h2m6 0h1m14 0h1m7 0h2m1 0h1m-77 1h1m17 0h1m10 0h1m1 0h1m2 0h3m10 0h2m24 0h1m1 0h1m-74 1h1m21 0h1m8 0h1m7 0h1m6 0h1m1 0h1m4 0h1m11 0h1m5 0h1m-77 1h1m6 0h1m19 0h1m19 0h1m-48 1h1m21 0h1m10 0h1m11 0h1m-25 1h1m1 0h2m3 0h1m4 0h3m-46 1h1m15 0h1m1 0h1m12 0h1m6 0h2m1 0h1m-39 1h1m1 0h1m22 0h1m8 0h1m15 0h1m-57 1h1m7 0h1m2 0h2m9 0h1m7 0h1m32 0h1m-64 1h1m6 0h1m1 0h1m4 0h1m-19 1h1m7 0h3m1 0h1m4 0h1m2 0h1m11 0h1m-27 1h1m6 0h1m3 0h2m7 0h1m-24 1h1m1 0h1m10 0h1m1 0h2m-15 1h1m2 0h2m1 0h1m-6 1h1m5 1h1m-3 1h1"/>
<path stroke="#433d84" d="M158 3.5h1m11 0h2m4 0h1m-19 2h1m-8 1h1m3 0h2m12 0h1m2 0h1m3 0h1m-6 3h1m-11 1h1m4 0h1m7 0h1m10 0h1m-31 1h1m1 2h1m-6 1h1m5 0h2m20 0h1m-23 1h1m4 0h1m3 0h1m-30 1h1m19 0h1m7 0h1m13 0h1m2 0h1m-17 1h1m13 0h1m-28 1h1m9 0h1m3 0h1m1 0h1m4 0h2m2 0h1m1 0h1m-34 1h1m24 0h1m11 0h2m-53 1h1m32 0h1m13 0h1m4 0h1m-37 1h1m24 0h1m3 0h1m7 0h1m-48 1h2m10 0h1m33 0h2m-57 1h1m6 0h1m1 0h1m14 0h1m11 0h1m8 0h1m-22 1h1m17 0h1m-17 1h1m11 0h1m11 0h2m2 0h1m-36 1h1m6 0h1m15 0h2m-24 1h1m6 0h1m-8 1h1m16 0h1m-15 1h1m6 0h1m14 1h2m-53 1h1m3 0h1m43 0h1m3 0h1m-26 1h1m1 0h1m11 0h1m15 0h1m-41 1h1m4 0h2m2 0h1m5 0h1m-14 1h1m-27 1h1m1 0h1m19 0h1m8 0h1m1 0h1m8 0h1m20 0h1m-42 1h1m9 0h1m3 0h1m34 0h1m-72 1h1m8 0h1m1 0h1m13 0h1m7 0h1m3 0h1m1 0h1m29 0h1m-71 1h1m12 0h1m2 0h1m2 0h2m3 0h1m4 0h1m6 0h1m20 0h1m-37 1h1m7 0h1m-19 1h1m1 0h1m1 0h1m5 0h1m7 0h1m5 0h1m3 0h1m4 0h1m29 0h1m-30 1h1m1 0h1m23 0h1m1 0h1m-75 1h1m15 0h3m4 0h1m1 0h1m4 0h2m1 0h1m2 0h1m7 0h1m7 0h1m8 0h1m12 0h1m-61 1h1m15 0h1m21 0h1m19 0h1m-74 1h1m15 0h1m7 0h1m1 0h2m3 0h1m3 0h2m40 0h1m-62 1h1m10 0h1m46 0h1m1 0h1m-64 1h1m10 0h1m3 0h1m-8 1h1m3 0h3m1 0h3m-8 1h2m3 0h1m10 0h1m12 0h2m-53 1h2m-8 1h2m9 0h1m7 0h2m2 0h1m1 0h2m5 0h1m24 0h1m-64 1h1m26 0h1m12 0h1m-38 1h1m62 0h1m-69 1h2m26 0h1m3 0h1m1 0h1m7 0h1m9 0h1m-50 1h1m4 0h1m18 0h1m36 0h1m-60 1h1m23 0h2m7 0h1m-93 1h1m75 0h1m13 0h2m14 0h1m9 0h1m-115 1h2m46 0h1m10 0h1m6 0h1m6 0h1m6 0h2m20 0h1m-103 1h1m45 0h2m41 0h1m-44 1h1m4 0h1m12 0h1m41 0h2m2 0h1m2 0h1m31 0h1m4 0h1m-100 1h1m5 0h1m10 0h1m38 0h1m5 0h3m2 0h1m-34 1h2m3 0h1m4 0h3m3 0h1m10 0h1m3 0h2m30 0h1m-144 1h1m36 0h1m39 0h1m7 0h1m2 0h1m2 0h1m6 0h1m1 0h1m7 0h1m36 0h1m-101 1h1m12 0h1m21 0h1m7 0h2m8 0h3m2 0h1m4 0h1m8 0h1m23 0h2m-104 1h1m5 0h1m6 0h1m2 0h2m38 0h2m2 0h1m1 0h1m9 0h4m24 0h1m-140 1h1m40 0h1m6 0h1m13 0h1m6 0h1m19 0h1m1 0h1m6 0h1m6 0h1m36 0h2m-149 1h1m2 0h1m47 0h1m28 0h1m11 0h1m2 0h1m1 0h1m4 0h1m3 0h1m1 0h2m2 0h1m8 0h2m2 0h1m2 0h1m-122 1h1m62 0h1m8 0h1m13 0h1m13 0h3m5 0h2m29 0h1m-139 1h1m47 0h1m13 0h1m8 0h1m12 0h1m3 0h1m13 0h1m6 0h1m22 0h1m-63 1h1m14 0h3m4 0h2m3 0h1m5 0h1m11 0h1m4 0h1m5 0h1m11 0h1m-137 1h1m2 0h1m74 0h1m5 0h1m6 0h1m11 0h2m6 0h1m-114 1h1m5 0h1m38 0h1m4 0h2m2 0h1m11 0h1m9 0h1m4 0h1m1 0h1m6 0h1m10 0h1m4 0h1m4 0h1m5 0h1m17 0h2m-149 1h2m9 0h1m49 0h1m37 0h1m5 0h1m4 0h1m4 0h1m11 0h1m21 0h1m-76 1h1m11 0h1m3 0h1m2 0h1m7 0h1m4 0h1m3 0h1m4 0h1m3 0h2m-108 1h1m37 0h1m6 0h1m4 0h1m30 0h1m5 0h1m12 0h2m6 0h1m2 0h1m22 0h2m-96 1h1m8 0h1m31 0h1m5 0h1m5 0h1m13 0h2m3 0h1m21 0h1m-143 1h2m5 0h1m29 0h1m43 0h1m1 0h1m4 0h1m9 0h1m4 0h1m3 0h1m1 0h1m3 0h3m3 0h1m22 0h3m-72 1h1m18 0h1m6 0h1m2 0h1m7 0h2m4 0h2m1 0h1m1 0h1m-130 1h1m1 0h1m10 0h1m1 0h1m34 0h1m27 0h1m15 0h1m10 0h1m14 0h1m2 0h1m1 0h1m2 0h3m6 0h1m13 0h1m-152 1h1m2 0h1m60 0h1m16 0h1m9 0h1m3 0h1m7 0h1m4 0h2m10 0h3m3 0h1m2 0h1m11 0h1m-141 1h2m53 0h1m2 0h1m4 0h1m25 0h1m4 0h1m14 0h1m15 0h2m1 0h3m8 0h1m5 0h1m-145 1h1m58 0h1m28 0h1m21 0h1m4 0h1m1 0h2m4 0h1m11 0h1m-167 1h1m33 0h1m47 0h1m4 0h1m2 0h1m19 0h1m7 0h1m3 0h1m33 0h1m-158 1h1m95 0h1m8 0h1m5 0h1m7 0h1m5 0h1m22 0h1m6 0h1m4 0h1m7 0h1m2 0h1m-170 1h1m13 0h1m53 0h1m4 0h2m2 0h1m16 0h1m18 0h2m35 0h2m7 0h2m5 0h1m-89 1h1m5 0h1m4 0h1m4 0h1m15 0h1m2 0h2m2 0h1m5 0h1m29 0h1m4 0h1m1 0h1m8 0h1m-166 1h2m74 0h1m3 0h1m2 0h1m28 0h1m29 0h1m4 0h1m15 0h1m3 0h1m-170 1h1m1 0h1m1 0h1m22 0h1m17 0h2m24 0h1m2 0h1m8 0h1m10 0h1m11 0h1m10 0h1m34 0h2m6 0h1m-134 1h1m1 0h1m15 0h2m2 0h1m1 0h1m23 0h1m7 0h1m6 0h1m4 0h1m11 0h1m40 0h1m1 0h1m1 0h1m10 0h1m1 0h1m-144 1h1m24 0h1m1 0h1m1 0h1m1 0h2m9 0h1m4 0h1m1 0h1m34 0h1m2 0h2m3 0h1m29 0h1m12 0h1m-137 1h1m2 0h1m13 0h1m13 0h1m1 0h1m15 0h1m11 0h1m1 0h1m1 0h1m25 0h1m2 0h2m27 0h2m8 0h1m-137 1h1m2 0h1m1 0h2m28 0h1m19 0h1m21 0h1m3 0h1m5 0h1m8 0h1m30 0h2m1 0h1m4 0h1m-118 1h1m15 0h1m4 0h1m31 0h1m1 0h1m60 0h1m-105 1h2m2 0h1m6 0h1m29 0h1m6 0h1m7 0h1m44 0h1m8 0h1m2 0h1m-147 1h1m30 0h1m4 0h1m4 0h1m7 0h1m25 0h1m3 0h1m12 0h1m2 0h1m45 0h1m-143 1h2m27 0h1m3 0h1m10 0h1m20 0h1m4 0h1m8 0h3m9 0h1m-92 1h1m33 0h1m2 0h1m25 0h2m1 0h1m2 0h1m25 0h1m40 0h1m-124 1h1m16 0h1m4 0h1m5 0h1m19 0h1m1 0h1m1 0h1m5 0h1m7 0h1m1 0h1m1 0h1m6 0h1m32 0h1m-91 1h2m1 0h1m21 0h2m7 0h1m17 0h1m4 0h1m7 0h1m18 0h1m-52 1h1m1 0h1m17 0h1m1 0h1m1 0h1m1 0h1m1 0h1m2 0h1m18 0h2m4 0h1m22 0h1m-86 1h1m8 0h1m8 0h1m4 0h1m38 0h1m-93 1h1m6 0h1m24 0h1m18 0h1m13 0h1m25 0h1m19 0h1m-140 1h1m25 0h1m31 0h1m45 0h1m8 0h1m19 0h1m-126 1h1m16 0h1m8 0h1m8 0h1m12 0h1m15 0h1m4 0h1m19 0h1m15 0h1m9 0h1m8 0h2m3 0h1m-126 1h1m1 0h1m7 0h1m1 0h1m1 0h1m12 0h2m47 0h1m3 0h1m1 0h1m3 0h1m2 0h1m9 0h1m-87 1h1m1 0h1m8 0h1m30 0h1m30 0h1m34 0h1m-130 1h1m2 0h1m17 0h1m1 0h1m9 0h1m13 0h1m14 0h1m15 0h1m1 0h1m7 0h1m26 0h1m15 0h2m-138 1h2m1 0h1m30 0h1m1 0h1m10 0h1m19 0h1m4 0h2m14 0h2m5 0h1m19 0h1m8 0h1m-122 1h1m4 0h3m58 0h1m1 0h2m9 0h2m4 0h1m3 0h1m2 0h1m19 0h1m-116 1h1m1 0h1m31 0h1m2 0h2m55 0h1m2 0h1m12 0h1m-94 1h1m16 0h1m3 0h1m18 0h1m28 0h2m10 0h1m1 0h1m20 0h1m-121 1h1m38 0h3m27 0h3m1 0h1m11 0h2m9 0h1m18 0h1m7 0h2m-126 1h1m25 0h1m11 0h1m17 0h1m21 0h1m10 0h1m7 0h1m2 0h1m16 0h1m16 0h1m-139 1h2m1 0h1m3 0h2m47 0h1m5 0h2m3 0h1m1 0h1m5 0h1m2 0h1m13 0h3m3 0h2m2 0h3m14 0h1m5 0h1m-125 1h1m8 0h1m53 0h1m12 0h1m4 0h2m11 0h1m1 0h2m23 0h1m-84 1h1m17 0h1m18 0h1m11 0h1m2 0h1m1 0h1m12 0h2m12 0h2m-104 1h1m1 0h1m2 0h1m3 0h1m32 0h2m1 0h1m2 0h1m2 0h1m18 0h1m10 0h1m6 0h1m10 0h1m2 0h1m9 0h2m-128 1h1m9 0h1m3 0h1m6 0h1m19 0h1m10 0h1m1 0h1m5 0h2m10 0h1m7 0h1m13 0h1m5 0h1m1 0h2m9 0h3m5 0h1m4 0h1m-113 1h1m19 0h1m3 0h1m9 0h1m2 0h1m4 0h1m6 0h1m5 0h1m25 0h1m4 0h1m2 0h1m13 0h1m-117 1h1m5 0h1m9 0h1m21 0h1m14 0h1m14 0h1m2 0h1m1 0h1m9 0h1m3 0h1m2 0h1m5 0h1m1 0h1m22 0h1m2 0h1m-122 1h1m4 0h1m14 0h1m9 0h1m3 0h1m5 0h1m1 0h1m4 0h1m5 0h1m16 0h1m8 0h1m5 0h1m12 0h1m12 0h1m6 0h1m-122 1h2m3 0h1m6 0h1m38 0h2m22 0h1m20 0h1m-104 1h1m7 0h1m9 0h1m1 0h1m14 0h1m5 0h1m6 0h1m9 0h1m9 0h1m14 0h1m4 0h1m8 0h1m8 0h1m-96 1h1m3 0h1m1 0h1m20 0h1m1 0h1m4 0h1m13 0h1m4 0h1m3 0h1m12 0h1m8 0h1m10 0h1m4 0h1m20 0h1m-101 1h1m2 0h1m14 0h1m20 0h1m36 0h1m1 0h1m1 0h1m14 0h2m-109 1h1m8 0h1m2 0h1m2 0h1m3 0h2m8 0h1m2 0h1m13 0h1m28 0h1m3 0h1m26 0h1m-117 1h1m6 0h1m8 0h1m1 0h1m18 0h1m6 0h1m13 0h1m36 0h1m-86 1h1m3 0h1m11 0h1m31 0h1m14 0h1m3 0h1m7 0h1m2 0h2m3 0h1m2 0h1m2 0h1m-91 1h1m1 0h1m3 0h1m18 0h1m10 0h1m29 0h1m1 0h1m27 0h1m7 0h1m-103 1h2m42 0h1m12 0h1m5 0h1m8 0h1m3 0h1m-96 1h1m19 0h1m4 0h1m8 0h1m3 0h1m3 0h1m1 0h1m9 0h1m1 0h1m17 0h1m22 0h1m2 0h1m12 0h1m5 0h1m-89 1h1m5 0h1m1 0h1m4 0h1m5 0h1m4 0h2m7 0h1m51 0h1m-79 1h1m1 0h1m12 0h1m2 0h1m16 0h1m19 0h1m2 0h1m15 0h1m4 0h1m-113 1h1m34 0h1m6 0h1m20 0h2m1 0h1m15 0h1m12 0h1m14 0h1m-95 1h1m11 0h1m2 0h1m1 0h3m4 0h1m4 0h1m9 0h1m5 0h2m11 0h1m5 0h1m2 0h1m1 0h1m20 0h1m-99 1h1m16 0h4m1 0h1m15 0h1m1 0h1m10 0h1m6 0h1m27 0h1m4 0h1m-101 1h1m17 0h1m19 0h1m5 0h1m4 0h1m4 0h2m5 0h1m2 0h1m9 0h1m4 0h2m22 0h1m3 0h1m-82 1h1m3 0h2m13 0h1m3 0h1m4 0h1m16 0h1m8 0h1m16 0h1m-97 1h1m43 0h1m27 0h1m5 0h1m12 0h1m4 0h1m-53 1h1m21 0h1m11 0h1m21 0h1m-89 1h1m19 0h1m7 0h2m-23 1h1m13 0h1m5 0h1m3 0h1m2 0h1m2 0h1m4 0h1m16 0h1m-56 1h1m3 0h1m1 0h2m5 0h1m1 0h1m4 0h1m20 0h1m-42 1h1m4 0h1m1 0h1m11 0h1m9 0h1m2 0h1m4 0h1m-28 1h1m16 0h1m-31 1h1m10 0h1m7 0h1m9 0h1m-22 1h1m6 0h1m-7 1h1m-14 1h1m1 0h1m5 0h2m3 0h1m9 0h1m-14 1h1m2 0h1m-9 1h1m-1 1h2m2 0h1"/>
<path stroke="#3b528b" d="M162 2.5h1m-8 1h2m-12 5h1m-2 1h1m9 2h1m15 0h1m-13 1h1m-17 1h1m7 0h1m-10 1h1m26 0h2m-31 1h2m36 0h1m-32 1h1m23 0h1m11 0h1m-29 1h1m11 0h1m10 0h1m-44 1h1m-3 1h1m11 0h1m22 0h1m1 0h1m8 0h1m2 0h1m-19 1h1m5 0h1m7 1h2m1 0h1m-43 1h1m42 0h1m-45 1h1m18 0h1m27 0h2m-29 1h1m-24 1h1m20 0h1m27 0h2m-38 1h1m4 0h1m22 0h1m-47 1h2m19 0h1m1 0h1m4 0h1m8 0h2m-23 1h2m1 0h1m1 0h1m-25 2h1m28 0h1m16 0h1m5 0h1m-28 1h1m2 0h1m23 0h1m-12 1h1m11 0h2m-43 1h1m7 0h1m-9 1h1m11 0h2m6 0h1m-17 1h1m11 0h1m1 0h1m2 0h1m8 0h1m-51 1h1m9 0h1m4 0h1m8 0h1m21 0h1m-32 1h2m7 0h1m3 0h1m-16 1h1m8 0h1m46 0h1m-52 1h1m4 0h1m5 0h1m5 0h1m-19 1h1m3 0h1m11 0h1m-22 1h2m8 0h1m8 0h1m11 0h1m-25 1h1m12 0h1m5 0h1m1 0h1m28 0h1m-56 1h1m7 0h1m2 0h2m9 0h1m9 0h1m-29 1h1m10 0h1m35 0h1m6 0h1m-61 1h1m1 0h1m3 0h1m3 0h2m4 0h3m1 0h1m2 0h1m-18 1h1m4 0h1m49 0h1m-63 1h1m7 0h2m29 0h1m-51 1h1m9 0h1m2 0h1m1 0h2m3 0h1m19 0h1m-43 1h1m12 0h2m8 0h1m4 0h1m1 0h1m23 0h1m-31 1h1m1 0h1m1 0h1m-39 1h1m1 0h1m3 0h1m18 0h1m2 0h1m9 0h1m-48 1h1m3 0h2m6 0h1m24 0h1m1 0h1m7 0h2m4 0h1m4 0h1m-26 1h1m8 0h1m6 0h1m7 0h1m4 0h1m-82 1h1m28 0h1m18 0h1m1 0h1m25 0h2m-29 1h1m3 0h1m32 0h1m-44 1h1m4 0h1m3 0h1m22 0h1m2 0h2m8 0h1m-69 1h1m2 0h1m20 0h1m7 0h1m-29 1h1m38 0h1m9 0h1m11 0h2m3 0h1m32 0h2m-100 1h2m2 0h1m15 0h1m13 0h1m11 0h1m5 0h1m6 0h1m2 0h1m36 0h1m-151 1h1m39 0h1m27 0h1m18 0h1m13 0h1m2 0h2m42 0h1m-59 1h2m1 0h1m3 0h1m4 0h2m3 0h2m1 0h1m2 0h1m36 0h1m-86 1h1m32 0h2m8 0h1m6 0h1m-76 1h1m3 0h1m23 0h1m9 0h1m1 0h1m4 0h1m1 0h1m1 0h1m4 0h1m2 0h1m1 0h1m11 0h1m-50 1h1m8 0h1m2 0h1m10 0h2m5 0h1m3 0h1m12 0h1m2 0h2m-68 1h1m13 0h1m3 0h1m5 0h1m1 0h1m5 0h1m5 0h1m3 0h3m3 0h1m4 0h1m1 0h1m1 0h1m38 0h1m-96 1h1m1 0h1m6 0h1m14 0h1m17 0h2m1 0h1m9 0h1m7 0h1m2 0h1m5 0h1m5 0h2m-75 1h1m14 0h1m4 0h1m4 0h1m4 0h1m6 0h1m1 0h1m4 0h1m12 0h1m6 0h1m6 0h1m23 0h1m-143 1h1m7 0h1m39 0h1m47 0h1m34 0h1m3 0h1m5 0h1m-142 1h2m42 0h1m12 0h1m6 0h1m12 0h3m27 0h2m3 0h2m1 0h1m3 0h1m-128 1h1m8 0h2m46 0h1m4 0h1m4 0h1m9 0h1m13 0h1m10 0h1m21 0h1m24 0h2m-151 1h1m8 0h1m1 0h1m41 0h1m2 0h1m16 0h1m7 0h3m3 0h1m8 0h1m2 0h1m1 0h1m1 0h1m5 0h1m7 0h1m2 0h1m4 0h1m-71 1h1m2 0h1m7 0h1m9 0h1m4 0h1m5 0h2m3 0h1m2 0h1m4 0h2m9 0h1m3 0h1m3 0h1m26 0h1m1 0h2m-92 1h1m14 0h2m1 0h1m8 0h1m6 0h1m2 0h2m1 0h1m4 0h1m3 0h1m1 0h2m3 0h1m6 0h1m5 0h1m19 0h1m-148 1h1m80 0h1m6 0h3m11 0h1m11 0h1m6 0h1m4 0h1m20 0h1m-145 1h1m1 0h1m6 0h1m4 0h1m63 0h1m7 0h2m2 0h1m1 0h1m7 0h1m6 0h1m1 0h1m3 0h2m6 0h1m22 0h1m-142 1h1m1 0h1m3 0h1m50 0h1m8 0h1m17 0h1m14 0h1m1 0h1m3 0h1m3 0h1m-110 1h1m3 0h1m48 0h1m1 0h1m10 0h1m2 0h1m17 0h2m21 0h1m27 0h1m3 0h1m-135 1h1m49 0h1m9 0h2m21 0h1m3 0h1m1 0h1m6 0h1m2 0h1m8 0h1m-127 1h1m92 0h1m4 0h1m4 0h1m11 0h1m1 0h1m6 0h1m1 0h1m14 0h1m9 0h1m-91 1h1m29 0h1m1 0h1m1 0h1m2 0h1m3 0h1m12 0h1m2 0h1m4 0h1m12 0h1m-85 1h2m1 0h1m8 0h1m27 0h1m4 0h1m2 0h1m13 0h1m14 0h1m2 0h1m1 0h1m-88 1h1m35 0h1m40 0h2m1 0h1m9 0h1m-150 1h1m69 0h1m1 0h1m9 0h1m45 0h1m3 0h1m5 0h1m1 0h1m1 0h1m-74 1h1m28 0h1m2 0h2m3 0h1m-34 1h1m25 0h1m48 0h1m-164 1h1m66 0h1m8 0h1m6 0h1m7 0h1m1 0h1m12 0h1m14 0h1m25 0h1m8 0h1m-156 1h1m105 0h1m4 0h1m36 0h1m18 0h1m-108 1h1m6 0h1m2 0h2m6 0h1m8 0h2m9 0h1m19 0h1m29 0h1m-123 1h1m2 0h1m4 0h2m11 0h1m44 0h1m18 0h1m2 0h1m1 0h1m48 0h1m-139 1h1m4 0h1m3 0h1m1 0h1m28 0h1m16 0h1m1 0h1m2 0h1m7 0h1m11 0h1m6 0h1m32 0h1m5 0h1m-137 1h1m8 0h1m1 0h1m14 0h1m23 0h1m1 0h1m2 0h1m15 0h1m21 0h1m-96 1h1m9 0h1m43 0h1m5 0h1m9 0h1m6 0h1m7 0h1m9 0h1m33 0h1m1 0h1m6 0h1m-122 1h1m24 0h1m2 0h1m10 0h1m3 0h1m69 0h1m-108 1h1m1 0h1m3 0h1m2 0h1m6 0h2m4 0h1m22 0h1m19 0h1m5 0h1m2 0h1m41 0h1m3 0h1m-105 1h1m4 0h3m16 0h1m10 0h1m13 0h1m1 0h1m-93 1h1m29 0h1m5 0h1m4 0h1m2 0h1m32 0h1m9 0h1m10 0h1m-68 1h2m34 0h1m8 0h1m-58 1h1m2 0h1m4 0h2m26 0h1m6 0h2m2 0h1m25 0h1m2 0h1m2 0h1m-72 1h2m4 0h1m7 0h1m10 0h1m27 0h1m6 0h1m9 0h1m19 0h1m-119 1h1m28 0h1m13 0h1m14 0h1m25 0h1m1 0h2m1 0h1m13 0h1m15 0h2m-96 1h3m7 0h1m1 0h1m1 0h1m18 0h1m8 0h1m3 0h1m28 0h1m-60 1h1m34 0h1m10 0h1m8 0h1m5 0h1m13 0h1m1 0h1m-117 1h1m31 0h1m5 0h2m13 0h1m2 0h1m1 0h1m5 0h1m12 0h1m6 0h1m4 0h2m23 0h1m3 0h1m8 0h1m-125 1h1m6 0h1m7 0h1m1 0h1m1 0h1m3 0h1m6 0h1m2 0h1m11 0h1m8 0h1m5 0h1m6 0h1m61 0h1m4 0h1m-129 1h1m15 0h1m16 0h1m25 0h1m9 0h1m5 0h3m2 0h1m3 0h1m6 0h1m11 0h1m20 0h1m-132 1h1m4 0h1m39 0h1m1 0h1m13 0h1m16 0h1m18 0h1m-74 1h1m42 0h1m26 0h1m10 0h1m17 0h1m9 0h2m-139 1h1m10 0h2m14 0h1m6 0h1m9 0h1m29 0h2m8 0h1m5 0h1m7 0h1m23 0h1m1 0h1m-110 1h1m11 0h1m2 0h1m2 0h1m17 0h1m21 0h2m18 0h1m8 0h1m13 0h2m18 0h1m-135 1h1m13 0h1m11 0h1m10 0h1m6 0h1m25 0h1m2 0h1m8 0h2m9 0h1m14 0h1m-107 1h2m25 0h1m14 0h1m17 0h2m9 0h1m12 0h1m5 0h1m7 0h1m18 0h1m-121 1h1m3 0h1m13 0h1m20 0h1m1 0h1m7 0h1m11 0h1m3 0h1m7 0h1m10 0h1m5 0h1m23 0h1m8 0h2m-134 1h1m23 0h1m2 0h1m4 0h1m14 0h1m2 0h1m19 0h1m3 0h1m9 0h1m6 0h1m7 0h1m11 0h1m14 0h1m1 0h1m-112 1h1m9 0h1m19 0h1m3 0h1m4 0h1m10 0h1m17 0h1m7 0h1m9 0h2m12 0h1m1 0h1m8 0h1m9 0h1m-127 1h1m38 0h1m34 0h1m4 0h1m-90 1h1m2 0h1m1 0h1m8 0h1m44 0h2m5 0h1m2 0h2m8 0h1m14 0h1m4 0h1m9 0h1m19 0h1m-123 1h1m4 0h1m2 0h1m3 0h1m26 0h1m22 0h1m3 0h1m2 0h1m51 0h1m-124 1h1m22 0h2m21 0h2m12 0h1m14 0h1m-75 1h1m1 0h1m5 0h2m8 0h1m5 0h1m3 0h1m15 0h1m8 0h1m9 0h1m9 0h1m11 0h1m28 0h1m-94 1h1m11 0h1m9 0h1m18 0h1m7 0h1m4 0h1m1 0h2m18 0h1m5 0h1m19 0h1m-110 1h1m7 0h1m19 0h1m2 0h1m16 0h1m18 0h1m4 0h1m36 0h1m-121 1h1m2 0h1m21 0h1m2 0h1m2 0h1m3 0h1m20 0h2m8 0h1m24 0h1m1 0h1m-99 1h1m19 0h1m1 0h4m1 0h2m2 0h2m19 0h1m-46 1h1m2 0h1m6 0h1m1 0h1m9 0h1m2 0h1m1 0h1m4 0h1m3 0h1m14 0h2m12 0h1m4 0h1m10 0h1m-79 1h1m3 0h1m6 0h1m3 0h1m9 0h1m8 0h1m7 0h1m3 0h1m17 0h1m5 0h1m38 0h1m-110 1h1m5 0h1m1 0h1m12 0h1m5 0h1m1 0h1m3 0h1m9 0h1m6 0h1m2 0h1m6 0h1m16 0h1m13 0h1m8 0h1m5 0h1m-117 1h1m19 0h1m1 0h1m19 0h1m15 0h1m22 0h1m6 0h1m25 0h1m-82 1h1m13 0h1m6 0h1m14 0h1m12 0h1m5 0h1m4 0h1m22 0h1m-103 1h2m1 0h1m14 0h1m4 0h1m10 0h1m3 0h1m2 0h1m7 0h1m7 0h1m1 0h2m8 0h1m2 0h1m22 0h1m-101 1h2m15 0h1m6 0h1m7 0h1m9 0h2m1 0h1m6 0h1m29 0h1m15 0h1m1 0h1m3 0h1m1 0h1m-108 1h1m1 0h1m25 0h1m9 0h1m3 0h1m1 0h1m13 0h1m40 0h2m2 0h1m-118 1h1m2 0h1m21 0h1m5 0h3m2 0h1m9 0h1m10 0h1m3 0h1m3 0h1m1 0h2m1 0h1m2 0h1m41 0h1m-116 1h1m5 0h1m29 0h1m4 0h1m3 0h1m7 0h1m5 0h1m16 0h1m6 0h2m2 0h2m1 0h1m6 0h1m11 0h2m4 0h1m-115 1h1m20 0h1m5 0h1m4 0h1m6 0h1m5 0h1m15 0h1m5 0h1m4 0h1m11 0h1m4 0h1m8 0h1m1 0h1m6 0h1m-107 1h1m10 0h2m2 0h1m6 0h1m3 0h1m9 0h1m23 0h1m21 0h1m14 0h1m-96 1h1m17 0h1m15 0h1m40 0h1m19 0h1m8 0h1m-96 1h1m5 0h1m10 0h1m10 0h1m8 0h1m12 0h2m-37 1h1m20 0h1m6 0h1m-30 1h1m1 0h1m2 0h1m9 0h1m4 0h1m-21 1h1m2 0h1m2 0h1m-2 1h1m6 0h1m14 0h2m1 0h1m16 0h1m-47 1h1m3 0h1m13 0h1m-18 1h1m5 0h1m1 0h1m3 0h1m1 0h1m4 0h1m-30 1h1m19 0h1m-28 1h1m22 0h1m6 0h2m1 0h1m1 0h1m13 0h1m-48 1h1m1 0h1m23 0h1m1 0h1m-29 1h1m8 0h1m12 0h1m-12 1h1m-9 1h1m5 1h1m1 0h1m-6 1h1m-1 1h1"/>
<path stroke="#32658e" d="M156 2.5h2m1 0h1m13 1h1m-16 1h1m11 0h1m8 0h1m3 1h1m-1 1h1m-38 1h1m6 0h1m16 2h1m-27 1h1m15 2h2m6 0h2m4 0h1m3 0h1m-38 1h1m34 0h1m1 0h1m-25 2h1m24 1h1m-15 1h1m4 0h1m5 0h1m5 0h1m-32 2h1m20 0h1m12 1h1m0 1h1m-48 1h1m10 0h1m-12 1h1m28 0h1m21 0h1m-25 1h1m4 0h1m14 1h1m-38 1h1m1 0h1m4 0h1m19 1h1m-30 1h1m12 0h1m1 1h1m6 0h1m-8 1h1m-42 2h1m23 1h1m17 0h1m2 0h1m-20 2h1m19 0h1m3 0h1m-21 1h1m1 0h1m11 0h1m21 0h1m-43 1h1m7 0h1m6 0h1m1 0h1m-25 1h1m3 0h1m4 0h1m11 0h1m4 0h1m-48 1h1m13 0h1m2 0h1m2 0h1m1 0h1m2 0h1m-3 1h1m2 0h1m3 0h1m-6 1h1m7 0h1m12 0h1m-20 1h1m16 0h1m26 0h1m3 0h1m-59 1h1m4 0h1m2 0h1m2 0h1m4 0h1m4 0h1m3 0h1m5 0h1m-23 2h1m7 0h1m14 0h1m21 0h1m1 0h1m-61 1h1m2 0h1m8 0h1m3 0h2m11 0h1m3 0h1m25 0h1m-58 1h1m10 0h1m7 0h1m3 0h1m11 0h1m-64 1h1m25 0h1m1 0h1m3 0h1m5 0h1m2 0h1m24 0h1m-37 1h1m10 0h1m4 0h1m-38 1h1m46 0h1m9 0h1m-60 1h1m25 0h1m4 0h1m3 0h1m7 0h2m12 0h1m-16 1h2m-17 1h1m22 0h2m3 0h1m-32 1h1m1 0h1m15 0h1m5 0h1m1 0h1m3 0h2m-61 1h1m21 0h1m1 0h1m7 0h1m1 0h1m5 0h1m6 0h2m13 0h1m-66 1h1m25 0h1m2 0h1m29 0h1m1 0h1m2 0h1m-118 1h1m53 0h1m3 0h1m20 0h1m32 0h1m3 0h1m-68 1h1m5 0h1m1 0h1m14 0h1m7 0h1m11 0h2m4 0h1m17 0h1m-47 1h1m20 0h1m8 0h1m1 0h2m6 0h1m2 0h1m31 0h1m-143 1h1m49 0h2m27 0h1m8 0h2m7 0h1m4 0h1m4 0h3m39 0h1m-152 1h1m81 0h1m19 0h1m4 0h1m5 0h1m1 0h1m-118 1h1m1 0h1m1 0h1m43 0h1m5 0h1m15 0h1m25 0h1m9 0h1m2 0h1m2 0h1m3 0h2m-115 1h1m41 0h1m8 0h1m1 0h1m17 0h1m16 0h1m7 0h1m8 0h1m2 0h1m35 0h1m2 0h1m-148 1h2m43 0h1m21 0h1m12 0h1m2 0h1m9 0h1m16 0h1m36 0h1m-146 1h1m54 0h1m4 0h2m13 0h1m4 0h1m8 0h1m16 0h1m23 0h1m-81 1h1m16 0h1m10 0h2m1 0h2m8 0h1m20 0h1m-42 1h1m6 0h1m2 0h1m6 0h1m2 0h1m30 0h1m-121 1h1m4 0h1m61 0h1m8 0h1m1 0h1m7 0h1m5 0h1m18 0h1m-121 1h3m11 0h2m45 0h1m6 0h1m6 0h1m2 0h1m6 0h1m4 0h1m61 0h1m-92 1h1m9 0h2m5 0h1m2 0h2m4 0h1m1 0h1m6 0h2m3 0h1m18 0h4m25 0h2m-87 1h2m2 0h1m17 0h1m3 0h3m3 0h1m2 0h1m50 0h2m-143 1h1m3 0h1m49 0h1m2 0h1m24 0h3m4 0h1m12 0h1m6 0h1m3 0h1m1 0h1m-111 1h1m68 0h1m7 0h1m10 0h2m3 0h1m5 0h2m2 0h1m7 0h1m-51 1h1m3 0h1m15 0h1m2 0h1m3 0h1m3 0h1m2 0h1m7 0h1m4 0h1m2 0h1m25 0h1m-152 1h1m2 0h1m2 0h1m4 0h2m67 0h1m12 0h1m4 0h1m16 0h1m6 0h1m27 0h1m-149 1h1m1 0h1m70 0h1m2 0h1m1 0h1m16 0h1m1 0h1m1 0h1m2 0h1m6 0h1m4 0h1m5 0h2m-119 1h1m59 0h1m27 0h1m9 0h1m7 0h1m1 0h1m23 0h1m-74 1h1m8 0h1m4 0h1m1 0h1m7 0h1m4 0h2m1 0h2m2 0h1m5 0h2m3 0h1m1 0h1m4 0h1m28 0h1m-149 1h1m51 0h1m10 0h1m13 0h1m2 0h1m18 0h1m11 0h1m3 0h1m17 0h1m1 0h2m10 0h2m-151 1h1m54 0h1m4 0h2m5 0h1m11 0h1m21 0h2m18 0h2m24 0h1m-71 1h1m3 0h1m9 0h1m8 0h1m12 0h1m8 0h1m4 0h1m-74 1h1m4 0h2m18 0h1m8 0h1m24 0h1m7 0h1m1 0h2m-75 1h1m9 0h1m1 0h1m17 0h1m1 0h1m2 0h1m1 0h1m2 0h1m2 0h1m26 0h1m19 0h1m5 0h2m-94 1h1m5 0h1m1 0h1m2 0h1m26 0h1m23 0h4m24 0h1m-94 1h2m1 0h1m8 0h1m4 0h1m4 0h1m1 0h1m5 0h1m35 0h1m2 0h1m15 0h1m1 0h1m-85 1h1m16 0h1m1 0h1m1 0h1m3 0h1m1 0h1m3 0h3m2 0h1m28 0h1m9 0h1m-59 1h1m2 0h1m12 0h2m1 0h1m27 0h1m2 0h1m-122 1h1m40 0h1m14 0h1m10 0h2m7 0h1m3 0h1m7 0h1m2 0h1m-31 1h1m6 0h1m21 0h1m47 0h1m-134 1h1m15 0h1m29 0h1m1 0h1m3 0h1m27 0h1m-76 1h1m28 0h1m3 0h1m6 0h1m1 0h1m4 0h2m1 0h1m16 0h1m48 0h1m-133 1h1m52 0h1m1 0h1m1 0h1m4 0h1m32 0h1m42 0h1m-95 1h2m20 0h1m18 0h1m44 0h1m-135 1h1m25 0h1m9 0h1m26 0h1m1 0h1m5 0h1m8 0h1m12 0h1m3 0h1m-73 1h1m34 0h1m34 0h1m-58 1h1m7 0h1m45 0h1m7 0h1m-91 1h1m10 0h1m5 0h1m12 0h1m1 0h1m2 0h1m14 0h1m3 0h1m1 0h1m18 0h1m10 0h1m3 0h1m42 0h1m-133 1h1m21 0h1m7 0h1m18 0h1m21 0h1m2 0h1m8 0h1m2 0h1m2 0h1m17 0h1m-120 1h2m25 0h1m3 0h1m12 0h1m10 0h1m27 0h1m15 0h1m17 0h1m-107 1h2m5 0h1m18 0h1m17 0h1m14 0h1m8 0h1m5 0h1m8 0h2m5 0h2m15 0h1m-96 1h2m7 0h1m1 0h1m5 0h2m1 0h1m31 0h1m43 0h1m-98 1h1m6 0h1m30 0h1m8 0h1m25 0h1m5 0h1m28 0h1m-128 1h1m11 0h1m4 0h2m9 0h1m39 0h1m21 0h1m8 0h1m10 0h1m23 0h1m3 0h1m-124 1h1m11 0h1m14 0h1m3 0h1m28 0h1m5 0h1m6 0h1m29 0h1m-117 1h1m29 0h1m12 0h1m3 0h2m13 0h1m22 0h1m9 0h1m-81 1h1m12 0h1m3 0h1m30 0h1m1 0h1m4 0h1m1 0h1m1 0h2m3 0h1m3 0h1m-81 1h1m26 0h1m38 0h1m1 0h1m6 0h1m-67 1h1m18 0h1m8 0h1m24 0h1m10 0h1m11 0h1m6 0h1m9 0h1m3 0h1m-108 1h2m4 0h1m34 0h1m63 0h1m-108 1h1m2 0h3m3 0h1m58 0h1m7 0h1m12 0h1m6 0h1m9 0h1m-94 1h1m18 0h1m25 0h1m12 0h2m12 0h2m1 0h1m7 0h1m-77 1h1m5 0h1m9 0h1m5 0h1m55 0h1m16 0h1m9 0h1m-108 1h1m1 0h1m10 0h1m3 0h1m34 0h1m1 0h1m8 0h1m43 0h1m-136 1h1m22 0h1m5 0h1m21 0h1m7 0h1m1 0h1m5 0h1m3 0h1m14 0h1m8 0h1m-85 1h1m33 0h1m5 0h1m3 0h1m8 0h1m1 0h1m7 0h2m2 0h1m6 0h1m9 0h1m3 0h1m3 0h1m2 0h1m18 0h1m-116 1h1m14 0h1m25 0h2m26 0h1m-70 1h1m37 0h1m7 0h1m1 0h1m3 0h1m1 0h1m8 0h1m23 0h1m11 0h1m-95 1h3m20 0h1m2 0h1m7 0h1m16 0h1m5 0h1m5 0h1m6 0h1m1 0h1m6 0h1m2 0h2m4 0h1m15 0h1m-117 1h1m22 0h1m1 0h1m3 0h1m7 0h2m3 0h1m10 0h1m7 0h1m11 0h1m-50 1h1m5 0h1m1 0h1m1 0h1m22 0h1m31 0h1m5 0h1m5 0h1m-100 1h1m14 0h1m5 0h1m1 0h1m1 0h1m5 0h1m4 0h1m19 0h1m15 0h1m1 0h1m-54 1h1m5 0h1m33 0h1m23 0h1m11 0h1m3 0h1m-103 1h1m13 0h1m14 0h1m35 0h1m11 0h1m6 0h1m2 0h1m14 0h1m-95 1h1m14 0h1m8 0h1m4 0h1m6 0h1m10 0h1m4 0h1m16 0h1m3 0h1m2 0h1m22 0h1m-76 1h1m2 0h1m5 0h1m29 0h1m3 0h1m1 0h1m21 0h1m1 0h1m-83 1h1m26 0h1m8 0h1m17 0h2m1 0h1m2 0h1m3 0h1m32 0h2m-102 1h1m6 0h1m3 0h1m39 0h1m3 0h1m12 0h1m1 0h1m28 0h1m1 0h1m-115 1h1m17 0h1m2 0h1m6 0h1m5 0h1m5 0h1m8 0h1m33 0h1m1 0h1m1 0h1m17 0h1m2 0h1m4 0h1m-112 1h3m16 0h1m15 0h2m15 0h2m1 0h1m17 0h1m9 0h1m3 0h1m6 0h1m-62 1h1m13 0h1m5 0h1m2 0h1m8 0h1m17 0h1m21 0h1m-107 1h1m8 0h1m3 0h1m14 0h1m11 0h1m1 0h1m5 0h1m16 0h1m2 0h1m5 0h1m-36 1h1m25 0h1m2 0h1m19 0h1m13 0h1m-115 1h1m3 0h1m3 0h1m7 0h1m8 0h1m1 0h1m5 0h1m15 0h1m24 0h1m7 0h1m18 0h1m-97 1h1m6 0h1m3 0h1m5 0h1m5 0h1m3 0h1m10 0h1m8 0h1m11 0h1m19 0h1m2 0h1m28 0h1m-112 1h1m10 0h1m6 0h1m2 0h1m11 0h1m1 0h1m4 0h1m12 0h1m3 0h1m6 0h1m10 0h1m21 0h1m11 0h2m-108 1h1m4 0h1m18 0h1m10 0h2m1 0h2m15 0h1m-31 1h1m68 0h1m9 0h1m-94 1h1m12 0h1m6 0h1m-34 1h1m11 0h3m21 0h1m7 0h1m3 0h1m-35 1h1m6 0h1m74 0h2m1 0h1m-95 1h1m1 0h1m4 0h1m4 0h1m6 0h1m70 0h1m-89 1h1m32 0h1m1 0h1m-35 1h2m4 0h1m22 0h1m1 0h1m9 0h1m13 0h1m18 0h1m3 0h1m-86 1h1m6 0h1m6 0h1m3 0h1m13 0h1m4 0h1m13 0h1m16 0h1m-57 1h1m11 0h1m1 0h1m44 0h1m-66 2h1m12 0h1m4 0h1m4 0h1m-4 2h1m-12 2h1m-3 1h1"/>
<path stroke="#2a768e" d="M158 2.5h1m7 0h1m15 1h1m-8 4h1m-9 2h1m-25 2h1m-1 1h1m5 0h1m27 0h1m-18 1h1m25 0h1m-48 1h2m27 1h1m7 0h1m2 0h1m-45 1h1m31 0h1m-34 1h1m44 0h1m-13 1h1m14 0h1m1 0h1m-27 5h1m22 0h1m6 0h1m-35 1h1m3 0h1m27 0h1m-21 1h1m16 1h1m-56 2h1m42 2h1m-46 1h1m28 0h1m11 0h1m-21 1h1m-7 1h1m25 0h1m-29 1h3m4 0h1m-3 1h1m-7 1h1m6 0h1m20 0h1m-32 1h1m1 0h1m1 0h1m4 0h1m20 0h1m-37 2h1m2 0h1m31 0h1m17 0h1m-42 1h1m-4 1h1m19 0h1m-19 1h1m42 0h1m-43 1h1m5 0h2m4 0h1m2 0h1m1 0h1m1 0h1m-13 1h1m3 0h1m-16 1h1m14 0h1m11 0h2m-34 1h1m2 0h1m1 0h1m6 0h1m6 0h1m1 0h1m3 0h1m7 0h2m-36 1h1m1 0h1m13 0h1m10 0h1m-22 1h1m-1 1h1m2 0h1m1 0h2m15 0h1m9 0h1m-31 1h1m5 0h2m-9 1h1m12 0h1m6 0h1m12 0h1m-34 1h1m3 0h1m9 0h1m4 0h2m1 0h1m6 0h1m-34 1h1m9 0h1m7 0h1m14 0h1m-63 1h1m51 0h2m3 0h1m-47 1h1m20 0h1m17 0h1m4 0h1m2 0h1m-56 1h1m26 0h2m4 0h1m19 0h1m-62 1h1m24 0h1m1 0h1m26 0h1m6 0h1m1 0h1m-64 1h1m49 0h1m9 0h2m-29 1h2m3 0h1m1 0h1m10 0h1m2 0h1m-55 1h1m35 0h1m14 0h2m6 0h1m-111 1h1m48 0h1m3 0h1m17 0h1m18 0h2m9 0h1m5 0h1m4 0h1m38 0h2m-152 1h1m3 0h1m84 0h1m8 0h1m3 0h1m4 0h1m40 0h1m-148 1h1m1 0h1m45 0h1m38 0h1m22 0h1m3 0h1m19 0h1m-76 1h1m30 0h1m4 0h1m6 0h1m31 0h1m14 0h1m-149 1h1m73 0h1m4 0h1m3 0h1m8 0h1m19 0h1m-112 1h1m57 0h1m1 0h1m13 0h1m19 0h1m20 0h1m-117 1h1m59 0h2m33 0h1m14 0h1m6 0h1m4 0h1m2 0h1m-129 1h1m51 0h1m9 0h1m8 0h1m8 0h1m3 0h1m2 0h1m29 0h1m2 0h1m-51 1h1m7 0h1m3 0h1m10 0h2m3 0h2m17 0h1m-63 1h1m2 0h1m6 1h1m1 0h1m7 0h1m3 0h2m11 0h1m2 0h1m22 0h1m3 0h1m-123 1h1m9 0h1m1 0h1m49 0h1m9 0h2m4 0h1m4 0h1m18 0h1m15 0h1m-113 1h1m58 0h1m14 0h1m1 0h1m7 0h1m2 0h1m12 0h1m12 0h2m27 0h2m-152 1h1m17 0h1m40 0h1m29 0h1m25 0h1m2 0h2m6 0h2m-112 1h1m59 0h1m2 0h1m7 0h1m11 0h1m9 0h1m6 0h1m26 0h1m-82 1h1m16 0h1m7 0h1m27 0h1m21 0h1m-62 1h1m15 0h1m15 0h2m9 0h1m29 0h1m-71 1h1m1 0h1m7 0h2m4 0h1m2 0h1m11 0h1m-38 1h1m3 0h1m8 0h1m12 0h1m7 0h1m1 0h1m1 0h2m3 0h1m-43 1h1m6 0h1m2 0h2m8 0h1m2 0h1m10 0h1m2 0h1m2 0h1m15 0h1m-52 1h1m6 0h1m2 0h1m23 0h1m9 0h1m-81 1h1m23 0h1m2 0h1m8 0h1m2 0h2m13 0h1m15 0h1m5 0h1m11 0h1m13 0h1m-123 1h1m36 0h1m3 0h2m9 0h1m4 0h2m31 0h1m2 0h1m-63 1h1m24 0h1m1 0h1m35 0h1m24 0h1m-102 1h1m4 0h1m7 0h1m1 0h1m5 0h1m3 0h1m6 0h1m3 0h1m10 0h1m52 0h1m-87 1h1m25 0h1m6 0h1m1 0h1m31 0h1m-84 1h1m11 0h1m3 0h1m23 0h1m11 0h1m-36 1h2m21 0h1m2 0h1m3 0h1m51 0h1m-136 1h1m46 0h1m2 0h2m1 0h1m19 0h1m2 0h1m56 0h1m-140 1h1m39 0h1m4 0h1m34 0h1m57 0h1m-140 1h1m4 0h1m2 0h1m4 0h1m38 0h1m18 0h1m5 0h1m47 0h1m6 0h1m6 0h1m-126 1h1m2 0h1m21 0h1m5 0h2m4 0h1m15 0h1m-57 1h1m2 0h1m11 0h1m9 0h1m30 0h1m15 0h1m53 0h1m-126 1h1m1 0h1m42 0h1m10 0h1m4 0h1m63 0h1m-144 1h1m16 0h1m3 0h1m1 0h1m16 0h1m5 0h1m5 0h1m17 0h1m9 0h1m15 0h1m32 0h1m-53 1h1m7 0h1m10 0h1m41 0h1m-143 1h1m13 0h1m41 0h1m9 0h1m12 0h1m18 0h2m-78 1h1m22 0h1m13 0h1m9 0h1m10 0h2m3 0h1m17 0h1m13 0h1m26 0h1m-109 1h1m8 0h1m14 0h1m10 0h1m6 0h1m5 0h1m1 0h1m3 0h1m-63 1h1m5 0h1m1 0h1m3 0h1m1 0h1m2 0h1m18 0h1m13 0h1m2 0h1m18 0h1m16 0h1m-117 1h1m29 0h1m17 0h1m2 0h1m6 0h1m10 0h1m8 0h1m19 0h1m31 0h1m-122 1h1m15 0h1m7 0h1m10 0h1m2 0h1m17 0h1m5 0h1m25 0h1m-94 1h1m1 0h1m5 0h1m5 0h1m3 0h1m3 0h1m1 0h1m6 0h1m8 0h1m23 0h1m7 0h1m9 0h1m13 0h1m-70 1h1m1 0h1m4 0h1m2 0h1m8 0h1m45 0h1m-92 1h1m15 0h1m6 0h1m3 0h1m2 0h1m36 0h1m1 0h1m-69 1h1m4 0h1m65 0h1m16 0h1m2 0h1m40 0h1m-130 1h1m1 0h1m24 0h1m6 0h1m4 0h2m1 0h1m15 0h1m10 0h1m4 0h1m2 0h1m8 0h1m-95 1h1m20 0h1m4 0h1m2 0h1m36 0h1m11 0h1m-64 1h1m4 0h2m1 0h1m32 0h1m9 0h1m7 0h1m3 0h1m10 0h1m19 0h1m-108 1h1m10 0h1m42 0h1m10 0h1m4 0h1m15 0h1m44 0h1m-112 1h1m23 0h1m19 0h1m12 0h1m13 0h1m4 0h1m21 0h1m-101 1h2m3 0h1m7 0h2m15 0h2m23 0h1m3 0h1m16 0h1m2 0h1m-108 1h1m62 0h1m3 0h1m8 0h1m2 0h1m6 0h1m4 0h1m1 0h1m-94 1h1m42 0h2m11 0h1m14 0h1m22 0h1m10 0h1m16 0h1m-103 1h1m8 0h1m17 0h1m9 0h1m16 0h1m17 0h1m1 0h1m21 0h1m19 0h1m-122 1h1m12 0h1m26 0h1m1 0h1m19 0h1m3 0h1m36 0h1m-115 1h1m13 0h1m2 0h2m16 0h1m10 0h1m21 0h1m16 0h1m-89 1h1m5 0h1m38 0h1m34 0h1m15 0h1m34 0h1m-124 1h1m2 0h1m3 0h1m11 0h1m6 0h1m15 0h1m2 0h1m6 0h1m12 0h1m-75 1h1m4 0h1m7 0h1m10 0h2m25 0h1m6 0h2m-56 1h2m3 0h1m6 0h1m16 0h1m4 0h1m25 0h2m11 0h1m10 0h1m4 0h1m-79 1h2m7 0h1m17 0h1m33 0h1m5 0h1m2 0h1m1 0h1m24 0h1m15 0h1m-115 1h1m5 0h2m35 0h1m9 0h1m7 0h1m-52 1h1m21 0h1m30 0h2m6 0h1m2 0h1m19 0h1m-90 1h1m8 0h1m12 0h1m20 0h1m8 0h2m8 0h1m6 0h1m3 0h1m32 0h1m-124 1h1m25 0h1m10 0h2m5 0h1m14 0h1m10 0h1m3 0h1m10 0h1m16 0h1m8 0h1m10 0h1m-125 1h1m8 0h1m20 0h1m3 0h1m13 0h1m2 0h1m60 0h1m-118 1h1m16 0h1m6 0h1m8 0h1m5 0h1m19 0h1m4 0h1m4 0h1m25 0h1m-94 1h1m2 0h1m8 0h1m4 0h1m32 0h2m9 0h1m7 0h1m9 0h1m-69 1h2m1 0h1m4 0h1m2 0h1m34 0h1m19 0h1m37 0h1m-109 1h1m6 0h1m1 0h1m1 0h1m5 0h1m17 0h1m23 0h2m20 0h1m11 0h1m-96 1h1m15 0h1m23 0h1m4 0h1m25 0h1m5 0h2m5 0h1m-75 1h1m1 0h1m2 0h1m2 0h1m35 0h1m57 0h1m-112 1h1m2 0h1m3 0h1m6 0h1m6 0h1m48 0h1m-75 1h1m14 0h1m10 0h1m12 0h1m12 0h1m15 0h1m30 0h1m-88 1h1m11 0h1m14 0h1m13 0h3m13 0h1m7 0h1m21 0h1m-99 1h1m19 0h1m16 0h1m59 0h1m-77 1h1m1 0h1m1 0h1m1 0h1m2 0h1m1 0h1m9 0h1m2 0h1m5 0h1m43 0h1m-72 1h1m4 0h1m2 0h1m2 0h1m6 0h1m-41 1h1m17 0h1m9 0h1m9 0h1m3 0h2m26 0h1m-72 1h1m14 0h2m7 0h1m8 0h1m5 0h1m58 0h1m-63 1h1m51 0h1m-89 1h1m8 0h1m11 0h1m15 0h1m45 0h1m-84 1h1m10 0h1m21 0h1m13 0h1m39 0h1m-53 1h2m18 0h1m-29 1h1m1 1h1m10 0h1m-35 1h1m18 0h1m6 0h1m4 0h1m1 0h1m-19 1h1m3 0h1m10 0h1m-19 1h1m-7 1h1m1 0h1"/>
<path stroke="#24878e" d="M160 2.5h1m20 1h1m-27 1h1m26 0h1m-29 1h1m27 1h1m2 5h1m-33 3h1m6 0h1m-3 3h1m11 2h1m-20 3h1m17 0h1m12 0h1m1 0h1m-24 1h1m20 1h1m1 0h1m5 0h1m-35 1h1m1 0h1m-10 3h1m20 1h1m-26 5h1m8 0h1m12 0h2m-26 1h1m1 0h2m-17 1h1m18 1h1m41 0h1m-60 1h1m0 1h1m6 0h1m-25 1h1m20 0h1m3 1h1m1 1h1m18 0h1m-12 1h2m4 0h1m-26 1h2m6 0h1m2 0h3m8 0h1m2 0h3m-32 1h1m2 1h1m2 0h1m13 1h1m7 0h2m6 0h1m-22 1h1m2 0h1m4 1h1m5 0h2m7 0h1m1 0h1m-22 1h1m4 0h1m3 0h1m12 0h1m-17 1h1m2 0h2m12 0h1m-77 1h1m45 0h2m1 0h1m2 0h2m3 0h1m7 0h1m-24 1h1m19 0h1m3 0h1m4 0h1m-62 1h1m34 0h1m1 0h1m10 0h1m10 0h1m-30 1h1m1 0h1m25 0h1m-30 1h1m4 0h1m15 0h1m3 0h1m-111 1h2m73 0h1m2 0h1m9 0h3m11 0h2m6 0h1m6 0h1m-43 1h1m30 0h1m10 0h1m-113 1h1m67 0h1m20 0h1m-9 1h1m5 0h1m13 0h1m-48 1h2m42 0h1m5 0h1m-40 1h1m19 0h1m4 0h1m9 0h1m5 0h1m39 0h1m-146 1h1m42 0h1m4 0h1m1 0h1m17 0h1m2 0h1m1 0h1m3 0h1m1 0h1m8 0h1m7 0h1m1 0h1m9 0h1m37 0h2m-151 1h1m69 0h1m2 0h1m2 0h1m1 0h2m9 0h1m1 0h1m16 0h1m-109 1h1m71 0h1m9 0h1m3 0h1m18 0h1m8 0h1m-119 1h1m2 0h1m52 0h1m20 0h1m1 0h1m7 0h1m3 0h2m34 0h1m-122 1h1m3 0h1m43 0h1m18 0h1m-15 1h1m33 0h1m-37 1h1m1 0h1m19 0h1m11 0h1m-92 1h1m64 0h1m1 0h1m16 0h1m9 0h1m4 0h1m24 0h1m4 0h1m1 0h1m-122 1h1m93 0h1m5 0h1m10 0h1m4 0h1m-121 1h1m74 0h1m5 0h1m7 0h1m23 0h1m3 0h1m2 0h1m-48 1h1m8 0h1m59 0h1m-146 1h1m1 0h1m58 0h1m12 0h1m4 0h1m3 0h1m9 0h1m8 0h1m4 0h2m38 0h1m-149 1h1m78 0h2m5 0h1m13 0h1m5 0h1m2 0h1m5 0h1m-54 1h1m1 0h1m10 0h1m11 0h2m11 0h1m2 0h1m4 0h1m-28 1h1m3 0h1m6 0h1m5 0h1m9 0h1m-3 1h1m40 0h1m-85 1h1m16 0h1m12 0h1m7 0h1m4 0h1m39 0h1m-98 1h1m21 0h1m5 0h1m15 0h1m16 0h1m2 0h1m25 0h1m-83 1h1m15 0h1m1 0h1m6 0h2m6 0h1m-49 1h1m17 0h2m8 0h1m7 0h1m8 0h1m22 0h1m13 0h1m-65 1h1m7 0h1m3 0h1m13 0h1m23 0h1m-136 1h1m78 0h1m1 0h1m2 0h1m11 0h3m51 0h1m-39 1h1m26 0h1m6 0h1m16 0h1m-78 1h1m3 0h1m-9 1h2m2 0h1m8 0h2m8 0h1m6 0h1m-39 1h2m10 0h1m12 0h1m-44 1h1m10 0h1m1 0h1m8 0h1m16 0h1m-24 1h1m-52 1h1m4 0h1m1 0h1m46 0h1m16 0h1m8 0h1m3 0h1m-90 1h2m55 0h1m3 0h2m2 0h1m17 0h1m6 0h1m1 0h1m33 0h1m4 0h1m-137 1h1m1 0h1m5 0h1m3 0h1m45 0h1m1 0h1m1 0h1m2 0h1m7 0h1m7 0h1m2 0h1m1 0h1m8 0h2m-97 1h1m49 0h1m4 0h2m27 0h1m1 0h1m-79 1h1m4 0h1m2 0h1m54 0h1m7 0h1m3 0h1m3 0h1m-78 1h1m6 0h1m30 0h1m23 0h1m15 0h1m54 0h2m-145 1h1m15 0h1m4 0h1m18 0h1m4 0h1m43 0h2m1 0h1m41 0h1m8 0h1m-131 1h1m5 0h1m18 0h1m5 0h1m2 0h1m1 0h1m13 0h1m11 0h1m13 0h1m-83 1h1m12 0h1m9 0h1m2 0h1m25 0h1m1 0h1m15 0h1m14 0h1m7 0h1m-78 1h1m4 0h1m13 0h1m16 0h1m10 0h1m18 0h1m-84 1h1m21 0h1m16 0h1m6 0h1m9 0h2m19 0h2m5 0h1m2 0h2m4 0h1m1 0h2m-88 1h1m6 0h1m17 0h1m14 0h1m19 0h1m14 0h2m5 0h1m-63 1h1m5 0h1m7 0h1m4 0h1m2 0h1m7 0h1m8 0h1m8 0h1m8 0h1m41 0h1m-118 1h1m34 0h1m13 0h1m23 0h1m1 0h1m-82 1h1m7 0h1m21 0h1m2 0h1m3 0h1m25 0h1m2 0h1m-59 1h1m1 0h1m10 0h1m6 0h1m4 0h1m10 0h1m16 0h1m-62 1h1m17 0h1m9 0h1m4 0h1m30 0h2m-78 1h1m2 0h2m18 0h1m1 0h1m23 0h1m35 0h2m8 0h1m5 0h1m22 0h1m-125 1h1m3 0h1m4 0h1m1 0h1m28 0h1m33 0h1m39 0h1m-113 1h1m20 0h1m4 0h1m10 0h1m26 0h2m1 0h1m9 0h1m16 0h1m-92 1h3m5 0h1m11 0h1m5 0h1m12 0h1m1 0h1m5 0h1m24 0h1m26 0h1m-100 1h1m1 0h1m12 0h1m2 0h1m29 0h2m12 0h1m1 0h1m8 0h1m2 0h1m10 0h1m5 0h1m-92 1h1m35 0h1m33 0h1m-69 1h1m30 0h2m40 0h1m16 0h2m1 0h1m-97 1h2m25 0h1m7 0h1m6 0h1m7 0h1m7 0h1m16 0h1m-66 1h2m12 0h1m1 0h1m3 0h1m5 0h1m42 0h1m5 0h1m-94 1h1m24 0h1m9 0h2m6 0h1m4 0h1m10 0h1m29 0h1m2 0h1m35 0h1m-120 1h1m10 0h1m32 0h1m7 0h1m-65 1h1m19 0h1m16 0h1m45 0h1m9 0h1m3 0h1m2 0h1m3 0h1m-99 1h1m23 0h1m32 0h1m4 0h1m3 0h1m12 0h1m2 0h2m2 0h1m15 0h1m-79 1h1m2 0h1m14 0h1m3 0h1m15 0h1m1 0h1m3 0h1m8 0h1m15 0h1m-89 1h1m3 0h1m5 0h1m12 0h1m16 0h1m1 0h1m1 0h1m2 0h1m18 0h1m4 0h1m5 0h1m-28 1h1m15 0h1m-80 1h1m25 0h1m13 0h1m14 0h1m3 0h1m4 0h1m2 0h1m-47 1h1m23 0h1m3 0h1m15 0h1m-51 1h1m42 0h1m21 0h1m-71 1h1m16 0h1m5 0h1m1 0h1m13 0h2m5 0h1m2 0h1m5 0h1m7 0h1m1 0h1m7 0h1m2 0h1m-90 1h1m19 0h1m13 0h1m40 0h1m2 0h1m7 0h2m-51 1h2m7 0h1m17 0h1m18 0h1m-81 1h1m14 0h1m16 0h1m1 0h1m11 0h1m26 0h1m4 0h1m5 0h1m-54 1h2m32 0h1m-70 1h1m65 0h1m6 0h1m5 0h1m40 0h1m-118 1h1m18 0h1m12 0h1m10 0h1m6 0h1m20 0h1m9 0h1m-47 1h1m13 0h1m9 0h1m-55 1h1m11 0h1m7 0h1m6 0h1m2 0h1m35 0h1m2 0h1m5 0h1m3 0h1m-68 1h2m7 0h1m20 0h1m60 0h1m-92 1h1m2 0h1m2 1h1m5 0h1m4 0h1m6 0h2m63 0h1m-11 1h1m-80 1h1m35 0h1m20 0h1m17 0h1m-3 1h1m7 0h1m-35 1h1m-40 1h1m7 0h1m31 0h1m16 0h1m-76 1h1m25 0h1m7 0h1m9 0h2m1 0h1m5 0h1m6 0h1m18 0h1m3 0h1m-44 1h1m13 0h1m12 0h2m-42 1h1m41 0h1m-44 1h1m5 0h1m-37 1h1m19 0h1m7 0h1m1 0h1m4 0h1m3 0h1m1 0h1m-21 1h1m12 0h1m-15 1h1m-6 3h1m2 0h1"/>
<path stroke="#1f998a" d="M163 1.5h1m-3 1h1m10 1h1m-24 3h2m29 0h1m4 3h1m-18 1h1m0 1h1m-3 2h1m1 0h1m9 1h1m-14 1h1m16 2h1m2 0h1m-22 1h1m17 0h1m3 0h1m-13 2h1m9 2h1m-4 1h1m-32 7h1m-6 2h1m0 2h2m-5 2h1m2 0h1m8 0h2m-30 1h1m27 2h1m-24 1h1m24 0h1m-23 1h1m5 1h1m20 0h1m-31 1h1m15 0h1m-16 1h2m17 0h1m-20 1h1m9 0h1m4 0h1m7 0h1m3 0h1m-22 1h1m9 0h1m1 0h1m2 0h2m4 0h1m-34 1h1m23 0h1m6 0h1m5 0h1m-37 1h1m5 0h1m5 0h1m5 0h3m3 0h1m2 0h1m2 0h1m7 0h1m-21 1h1m1 0h1m6 0h1m3 0h3m4 0h1m-18 1h2m2 0h1m3 0h1m7 0h2m-29 1h1m3 0h1m3 0h1m4 0h1m11 0h2m-5 1h1m3 0h2m-4 1h1m-31 1h1m9 0h2m1 0h2m12 0h1m-32 1h1m26 0h1m2 0h1m1 0h1m3 0h1m-29 1h1m14 0h1m6 0h1m-58 1h1m2 0h1m29 0h1m19 0h1m4 0h1m3 0h1m-8 1h1m4 0h1m-63 1h1m23 0h1m11 0h1m-40 1h1m23 0h3m9 0h1m3 0h2m5 0h1m4 0h1m-31 1h1m3 0h1m8 0h1m-41 1h1m7 0h1m31 0h1m7 0h1m-93 1h1m6 0h1m42 0h1m20 0h1m4 0h1m33 0h1m-105 1h1m41 0h1m6 1h1m9 0h1m25 0h1m17 0h1m-44 1h1m4 0h1m10 0h1m9 0h1m39 0h1m-45 1h1m-90 1h2m5 0h1m47 0h1m22 0h1m1 0h1m9 0h1m3 0h1m-82 1h1m42 0h1m9 0h1m14 0h1m1 0h1m2 0h1m33 0h1m-120 1h1m2 0h1m10 0h1m67 0h1m6 0h2m3 0h1m4 0h1m18 0h1m-33 1h1m12 0h1m27 0h1m-50 1h1m-79 1h1m11 0h1m75 0h1m6 0h1m21 0h1m12 0h1m-124 1h2m1 0h2m54 0h2m7 0h1m3 0h1m16 0h1m-8 1h1m12 0h1m-97 1h1m9 0h1m55 0h1m7 0h1m9 0h1m6 0h1m1 0h1m49 0h1m-137 1h1m66 0h1m6 0h1m9 0h2m6 0h1m-20 1h1m13 0h1m7 0h1m-44 1h1m13 0h1m4 0h1m4 0h1m-5 1h1m3 0h1m26 0h1m14 0h1m-60 1h1m2 0h1m3 0h3m28 0h1m-48 1h2m2 0h1m5 0h1m62 0h1m-18 1h1m-45 1h1m3 0h1m9 0h2m-28 1h1m3 0h2m17 0h1m27 0h1m-66 1h1m8 0h1m-17 1h1m2 0h1m22 0h1m4 0h1m51 0h1m11 0h1m-94 1h1m12 0h1m8 0h1m7 0h1m5 0h1m-34 1h1m26 0h1m43 0h1m6 0h1m-129 1h1m1 0h1m2 0h1m2 0h1m4 0h1m28 0h1m4 0h1m22 0h1m2 0h1m2 0h3m-80 1h1m10 0h1m28 0h1m22 0h1m16 0h1m1 0h1m-84 1h2m41 0h1m24 0h1m3 0h1m12 0h2m51 0h1m-131 1h1m3 0h2m1 0h1m40 0h1m27 0h1m-83 1h1m5 0h2m31 0h1m3 0h1m17 0h1m13 0h1m5 0h1m-92 1h1m5 0h1m3 0h1m27 0h1m13 0h1m3 0h1m3 0h1m2 0h1m-53 1h1m9 0h1m28 0h1m1 0h1m20 0h1m6 0h2m8 0h1m2 0h1m6 0h1m-100 1h2m64 0h1m1 0h1m12 0h1m-85 1h2m6 0h1m8 0h1m13 0h1m18 0h1m21 0h1m19 0h1m1 0h1m-79 1h1m42 0h1m2 0h1m17 0h1m14 0h1m1 0h1m3 0h1m1 0h1m-94 1h1m8 0h1m7 0h1m10 0h1m17 0h1m23 0h1m2 0h1m14 0h1m16 0h1m27 0h1m-135 1h1m18 0h1m4 0h1m39 0h1m-61 1h1m24 0h1m24 0h1m24 0h1m11 0h1m19 0h1m11 0h1m-117 1h1m1 0h1m28 0h1m13 0h2m9 0h1m24 0h1m2 0h1m-91 1h1m6 0h1m15 0h1m2 0h1m9 0h2m8 0h1m7 0h1m1 0h1m6 0h1m37 0h1m28 0h1m-86 1h1m3 0h1m2 0h1m2 0h1m8 0h1m3 0h1m17 0h1m43 0h1m-128 1h2m20 0h2m5 0h1m5 0h1m24 0h1m2 0h1m4 0h1m4 0h1m10 0h1m37 0h1m-132 1h1m17 0h1m15 0h1m3 0h2m7 0h1m1 0h1m12 0h1m13 0h3m19 0h1m11 0h1m-101 1h1m3 0h1m18 0h2m2 0h1m31 0h1m2 0h1m-73 1h1m6 0h1m12 0h1m3 0h1m2 0h2m14 0h1m8 0h1m-36 1h1m8 0h1m14 0h1m6 0h1m1 0h1m7 0h1m30 0h1m-55 1h1m4 0h1m9 0h1m2 0h1m2 0h1m31 0h1m41 0h1m-91 1h1m35 0h1m-75 1h1m5 0h1m9 0h1m6 0h1m7 0h1m15 0h1m48 0h1m29 0h1m-125 1h1m16 0h1m26 0h1m10 0h1m6 0h2m10 0h1m1 0h1m46 0h1m-135 1h1m12 0h1m4 0h1m17 0h1m40 0h1m6 0h1m47 0h1m-120 1h1m23 0h1m7 0h1m25 0h1m20 0h2m37 0h1m-93 1h1m1 0h1m6 0h2m24 0h1m-66 1h2m42 0h1m11 0h1m5 0h1m12 0h1m-83 1h1m11 0h1m37 0h1m31 0h1m1 0h1m-84 1h1m2 0h1m7 0h1m4 0h1m3 0h1m2 0h1m1 0h1m23 0h1m4 0h1m8 0h1m15 0h1m-86 1h2m1 0h1m10 0h1m2 0h1m16 0h1m1 0h1m18 0h1m13 0h1m5 0h1m-72 1h3m15 0h1m2 0h1m46 0h1m5 0h1m1 0h2m41 0h1m-102 1h1m46 0h1m1 0h2m-69 1h1m2 0h1m4 0h1m26 0h1m16 0h1m4 0h1m22 0h1m41 0h1m-119 1h2m26 0h1m6 0h1m39 0h1m2 0h1m-86 1h1m1 0h1m7 0h1m19 0h2m22 0h1m15 0h1m3 0h1m10 0h1m-79 1h1m8 0h1m19 0h1m4 0h1m10 0h1m27 0h1m5 0h1m-88 1h2m16 0h1m13 0h2m9 0h2m1 0h1m21 0h1m12 0h1m3 0h1m2 0h1m-94 1h1m35 0h2m4 0h1m6 0h1m6 0h1m3 0h1m26 0h1m11 0h1m-62 1h1m6 0h1m7 0h1m13 0h1m7 0h1m6 0h1m3 0h2m-85 1h1m11 0h1m6 0h1m53 0h1m6 0h1m2 0h1m13 0h2m20 0h1m-105 1h1m7 0h2m17 0h2m10 0h1m23 0h1m6 0h1m28 0h1m-113 1h1m6 0h1m7 0h1m37 0h1m1 0h1m-59 1h1m13 0h1m4 0h1m4 0h1m31 0h1m2 0h1m21 0h1m-81 1h1m4 0h1m77 0h1m-83 1h2m7 0h1m4 0h1m10 0h1m74 0h1m10 0h1m-86 1h2m7 0h1m6 0h1m3 0h1m32 0h1m27 1h2m-106 1h1m18 0h2m5 0h1m7 0h1m67 0h1m-94 1h1m7 0h1m9 0h1m11 0h1m51 0h1m1 0h1m-82 1h1m9 0h1m1 0h1m1 0h1m4 0h1m10 0h1m45 0h1m5 0h1m-96 1h1m21 0h1m3 0h1m8 0h1m2 0h3m-35 1h1m22 0h2m4 0h1m8 0h1m-39 1h1m1 0h1m23 0h1m20 0h1m7 0h1m5 0h1m1 0h1m9 0h1m6 0h1m-88 1h3m3 0h1m2 0h1m69 0h1m-78 1h1m7 0h1m24 0h1m10 0h1m30 0h1m-70 1h1m34 0h2m-37 1h1m26 0h1m3 0h1m2 0h1m-33 1h1m17 0h1m-12 1h1m7 0h2m-15 1h1m1 0h1m9 0h1m-2 1h1m-5 1h1"/>
<path stroke="#24aa83" d="M162 1.5h1m1 0h1m4 2h1m5 0h1m2 0h1m1 0h1m-12 4h1m14 0h1m-1 1h1m-16 1h1m-28 3h1m3 0h1m39 0h1m-1 2h1m-1 2h1m-3 3h1m-1 1h1m-2 1h1m-17 1h1m21 0h1m-7 1h1m2 0h1m-4 1h1m-11 1h1m-7 3h1m-7 2h1m-1 4h1m-16 2h1m-3 2h1m-2 3h1m17 2h1m1 0h1m-15 1h1m12 0h1m1 0h2m-10 1h1m1 0h2m-15 1h1m12 0h1m3 0h1m-33 1h1m22 0h1m9 0h1m-14 1h1m15 0h1m-19 1h1m4 0h2m10 0h1m-18 1h1m4 0h1m1 0h1m1 0h1m4 0h1m-13 1h1m8 0h1m7 0h1m1 0h1m-14 1h1m5 0h2m-17 1h1m1 0h2m2 0h1m3 0h2m-23 1h1m3 0h1m1 0h1m5 0h1m2 0h1m4 0h1m7 0h1m-30 1h1m7 0h1m13 0h2m7 0h2m-61 1h1m20 0h1m22 0h1m8 0h1m2 0h1m-31 1h2m-32 1h1m20 0h1m1 0h2m16 1h1m11 0h1m-109 2h1m5 0h1m42 0h1m3 0h1m1 0h1m17 0h1m8 0h1m-33 1h1m29 1h1m-16 1h1m11 0h1m37 0h1m-115 1h1m69 0h1m12 0h1m-5 1h1m67 0h1m-149 1h1m54 0h1m27 0h1m5 0h1m1 0h1m-90 1h1m52 0h1m95 0h1m-76 1h1m43 0h1m-47 1h2m-73 1h3m2 0h1m51 0h1m90 0h1m-146 1h1m74 0h1m-73 1h1m4 0h1m41 0h1m1 0h1m8 0h1m12 0h1m3 0h1m-82 1h1m79 0h1m2 0h1m15 0h1m-103 1h1m82 0h1m4 0h1m17 0h1m2 0h1m-100 1h1m70 0h1m3 1h1m14 0h2m9 0h1m-115 1h1m51 0h1m35 0h1m-23 1h1m2 0h2m2 0h1m22 0h1m-35 1h1m1 0h1m14 0h1m2 0h1m2 0h1m-36 1h1m12 0h1m10 0h1m73 0h1m-81 1h1m4 0h1m3 0h1m12 0h1m22 0h1m-83 1h1m46 0h1m-10 1h1m10 0h1m-34 1h1m25 0h1m2 0h3m14 0h1m-32 1h1m4 0h1m5 0h1m1 0h1m1 0h1m3 0h1m11 0h1m-43 1h1m17 0h1m8 0h1m4 0h1m4 0h1m-40 1h1m21 0h1m67 0h1m-106 1h1m12 0h1m11 0h1m1 0h1m7 0h4m7 0h1m-32 1h1m3 0h1m26 0h1m1 0h1m-71 1h1m57 0h1m2 0h1m-82 1h1m14 0h1m2 0h1m27 0h1m3 0h1m10 0h1m18 0h1m8 0h2m47 0h1m-142 1h1m5 0h1m3 0h2m6 0h1m37 0h1m18 0h1m5 0h1m4 0h1m8 0h1m3 0h1m-40 1h1m28 0h1m8 0h1m-87 1h2m36 0h1m5 0h1m18 0h1m6 0h1m2 0h1m5 0h1m8 0h1m-97 1h1m4 0h1m27 0h1m48 0h1m10 0h1m-90 1h2m13 0h1m12 0h1m1 0h1m11 0h1m21 0h1m19 0h1m-64 1h1m7 0h1m32 0h1m30 0h1m-101 1h2m9 0h2m8 0h2m21 0h1m17 0h1m5 0h1m-63 1h1m13 0h1m8 0h1m7 0h1m56 0h1m-76 1h1m16 0h1m5 0h3m35 0h1m10 0h1m-86 1h1m3 0h1m8 0h1m11 0h1m1 0h1m1 0h1m8 0h1m2 0h1m11 0h1m2 0h1m18 0h2m57 0h1m-132 1h1m18 0h1m7 0h1m3 0h1m6 0h1m18 0h1m19 0h1m-83 1h1m19 0h1m31 0h1m8 0h1m7 0h1m48 0h1m-106 1h2m9 0h1m25 0h1m15 0h1m4 0h1m20 0h1m-69 1h1m1 0h1m7 0h1m3 0h1m8 0h1m12 0h1m2 0h1m1 0h1m-67 1h2m14 0h1m4 0h1m5 0h1m22 0h1m79 0h1m-115 1h1m8 0h1m9 0h1m8 0h1m4 0h1m11 0h1m12 0h1m-41 1h2m25 0h2m2 0h1m7 0h1m-72 1h1m33 0h1m13 0h1m3 0h1m19 0h1m11 0h2m3 0h1m-74 1h1m3 0h1m24 0h1m6 0h1m6 0h1m13 0h1m29 0h1m-104 1h1m3 0h1m18 0h1m1 0h1m13 0h1m2 0h1m11 0h1m3 0h1m20 0h1m1 0h1m1 0h1m42 0h1m-129 1h1m3 0h1m31 0h1m3 0h1m38 0h1m-80 1h1m1 0h1m9 0h1m8 0h3m2 0h1m13 0h1m5 0h1m3 0h1m13 0h1m-58 1h1m3 0h1m2 0h1m1 0h1m10 0h1m22 0h1m4 0h1m-54 1h1m3 0h1m38 0h1m1 0h1m13 0h1m20 0h1m-62 1h1m12 0h1m29 0h1m3 0h1m16 0h1m2 0h1m-100 1h1m58 0h1m11 0h1m-72 1h1m31 0h1m19 0h1m35 0h1m11 0h1m-80 1h1m66 0h1m3 0h1m37 0h1m-116 1h1m9 0h1m4 0h1m8 0h1m21 0h1m12 0h1m11 0h1m-85 1h1m4 0h1m6 0h1m17 0h1m16 0h1m4 0h1m14 0h1m3 0h1m-74 1h1m7 0h2m2 0h1m24 0h1m14 0h1m13 0h1m7 0h1m10 0h1m-78 1h2m5 0h1m13 0h1m18 0h1m2 0h1m1 0h1m14 0h1m1 0h1m4 0h1m-73 1h2m8 0h1m36 0h1m13 0h1m1 0h1m1 0h1m8 0h1m7 0h1m3 0h1m-90 1h1m8 0h1m27 0h1m24 0h1m5 0h1m14 0h1m-64 1h1m15 0h1m4 0h1m5 0h1m22 0h2m5 0h1m2 0h1m42 0h1m-128 1h1m2 0h1m3 0h1m7 0h1m53 0h1m4 0h1m3 0h1m2 0h1m44 0h1m-125 1h1m21 0h1m21 0h1m7 0h1m6 0h1m13 0h1m48 0h1m-41 1h1m2 0h1m-76 1h1m107 0h1m-112 1h2m2 0h1m6 0h1m32 0h1m1 0h1m33 0h1m29 0h1m-120 1h1m24 0h1m1 0h1m12 0h1m11 0h1m26 0h1m-76 1h1m3 0h1m10 0h1m7 0h1m17 0h1m1 0h1m33 0h1m1 0h1m-73 1h1m1 0h1m7 0h1m1 0h1m26 0h1m10 0h1m22 0h1m-83 1h1m10 0h1m16 0h1m3 0h1m3 0h2m-34 1h1m1 0h1m10 0h1m2 0h1m14 0h1m1 0h2m1 0h1m69 0h1m-109 1h1m18 0h1m4 0h1m9 0h1m-34 1h1m12 0h1m16 0h1m11 0h2m58 0h1m-86 1h1m16 0h1m3 0h1m52 0h1m3 0h1m-74 1h1m5 0h1m9 0h1m2 0h1m-35 1h1m5 0h2m19 0h1m6 0h1m-27 1h1m46 0h1m16 0h1m1 0h1m-78 1h1m8 0h1m8 0h1m28 0h1m3 0h1m4 0h1m17 0h1m6 0h1m-55 1h1m5 0h2m2 0h1m29 0h1m-29 1h1m33 0h1m-77 1h1m33 0h1m2 0h1m2 0h1m-37 1h1m3 0h1m20 0h1m-21 1h1m1 0h1m13 0h1m-15 1h1m11 1h1m-10 1h1m1 1h1m2 0h1"/>
<path stroke="#3aba76" d="M165 1.5h1m18 5h1m-39 2h1m23 2h1m15 5h1m-5 4h1m-16 2h1m19 2h1m1 0h1m-23 1h1m-25 4h1m15 8h1m-24 1h1m15 1h1m-17 2h1m-5 1h1m5 1h1m23 1h1m-8 1h2m6 0h1m-29 1h1m12 1h1m0 1h1m4 0h1m7 0h1m3 0h1m-15 1h1m1 0h1m5 0h1m3 1h1m-6 1h1m1 0h1m2 0h2m-17 1h1m10 0h1m1 0h1m3 0h1m-32 1h1m3 0h1m0 1h1m10 0h1m12 0h1m-20 2h1m-40 1h1m27 0h1m15 0h1m-7 1h2m1 0h3m6 0h1m-49 1h1m16 0h1m7 0h1m2 0h1m1 0h1m8 0h1m1 0h1m2 0h2m1 0h1m3 0h1m-108 1h1m72 0h1m5 0h2m2 0h1m23 0h1m-33 1h1m1 0h2m-81 1h1m1 0h1m69 0h1m8 0h1m6 0h1m-16 1h2m6 0h1m10 0h1m57 0h1m-83 1h1m-71 1h1m54 0h1m14 0h1m20 0h1m-90 1h1m66 0h1m2 0h2m5 0h1m10 0h1m61 0h1m-149 1h1m84 0h1m61 0h1m-74 1h1m13 0h1m-90 1h1m52 0h1m7 0h1m6 0h1m6 0h1m11 0h1m-89 1h1m88 0h1m1 0h1m-32 1h1m6 0h1m3 0h1m5 0h1m4 0h2m-84 1h1m66 1h2m1 0h1m22 0h1m-95 1h1m4 0h1m46 0h1m14 0h1m10 0h1m-75 1h2m58 0h1m21 0h1m19 0h1m-46 1h1m2 0h1m37 0h1m-96 1h1m3 0h1m4 0h3m47 0h1m7 0h1m6 0h1m-81 1h1m47 0h1m12 0h1m1 0h1m4 0h1m8 0h1m8 0h1m33 0h1m-119 1h1m57 0h1m6 0h1m13 0h2m-74 1h1m56 0h1m4 0h2m-67 1h1m36 2h1m12 0h1m13 0h1m3 0h1m6 0h1m2 0h1m-37 1h1m14 0h1m-20 1h1m16 0h1m-21 1h1m45 0h1m27 0h1m-80 1h1m18 0h1m21 0h1m-40 1h1m5 0h1m27 0h1m-32 1h1m17 0h1m9 0h1m1 0h1m12 0h1m-39 1h1m23 1h1m5 0h1m-69 1h1m26 0h1m17 0h1m1 0h1m22 0h1m-84 1h1m1 0h1m55 0h1m-68 1h1m48 0h1m38 0h1m7 0h1m-97 1h1m4 0h1m75 0h1m4 0h1m-31 1h2m85 0h1m-144 1h1m51 0h1m1 0h1m18 0h1m7 0h1m1 0h1m9 0h1m-78 1h1m6 0h1m3 0h1m7 0h1m14 0h1m21 0h1m14 0h1m4 0h1m6 0h1m-90 1h1m10 0h1m22 0h1m-33 1h1m22 0h1m8 0h1m1 0h1m4 0h1m21 0h1m23 0h1m-100 1h1m21 0h1m25 0h1m47 0h1m-85 1h1m2 0h1m2 0h1m35 0h1m22 0h1m8 0h1m-86 1h1m25 0h1m2 0h1m7 0h2m2 0h2m13 0h1m14 0h1m7 0h1m9 0h1m-78 1h1m2 0h1m7 0h1m2 0h1m25 0h1m19 0h1m-59 1h1m26 0h1m4 0h1m13 0h1m8 0h1m5 0h1m7 0h1m2 0h1m-82 1h1m24 0h1m8 0h2m8 0h1m8 0h1m8 0h1m1 0h1m9 0h1m1 0h1m1 0h1m-32 1h2m31 0h1m-74 1h1m2 0h1m7 0h1m14 0h1m21 0h1m6 0h1m5 0h1m-54 1h1m114 0h1m-135 1h1m17 0h1m22 0h1m7 0h1m9 0h1m14 0h1m18 0h1m-91 1h1m13 0h1m5 0h1m4 0h1m11 0h1m21 0h1m-51 1h3m10 0h1m4 0h3m7 0h1m18 0h1m6 0h1m9 0h1m-71 1h1m2 0h1m7 0h1m22 0h1m15 0h1m9 0h1m-53 1h1m9 0h1m15 0h1m6 0h1m17 0h2m2 0h1m28 0h1m-89 1h1m7 0h1m18 0h1m12 0h1m-36 1h1m1 0h1m3 0h1m3 0h1m56 0h1m-90 1h1m64 0h1m39 0h1m-105 1h1m21 0h1m11 0h1m18 0h1m31 0h1m2 0h1m3 0h1m-81 1h1m11 0h1m61 0h1m4 0h1m-94 1h1m19 0h1m16 0h1m19 0h1m-26 1h1m1 0h1m1 0h1m15 0h1m2 0h1m14 0h2m2 0h1m-63 1h1m12 0h1m30 0h1m26 0h1m6 0h1m10 0h1m3 0h1m-81 1h1m23 0h1m5 0h1m5 0h1m26 0h1m-65 1h1m24 0h1m4 0h1m9 0h1m18 0h1m1 0h2m-85 1h1m83 0h1m2 0h1m-81 1h1m52 0h1m11 0h1m11 0h1m3 0h1m32 0h1m-117 1h1m41 0h1m3 0h1m1 0h1m9 0h1m10 0h1m4 0h1m9 0h1m-91 1h1m8 0h1m52 0h1m2 0h1m1 0h1m-23 1h1m14 0h1m3 0h1m2 0h1m17 0h1m6 0h1m-96 1h1m38 0h1m80 0h1m-125 1h1m10 0h1m37 0h1m22 0h1m8 0h1m2 0h1m38 0h1m-124 1h1m7 0h1m2 0h2m8 0h1m25 0h1m24 0h1m-73 1h1m11 0h1m12 0h1m11 0h1m39 0h1m-70 1h1m5 0h1m67 0h1m5 0h1m-83 1h1m5 0h1m43 0h2m2 0h1m6 0h1m17 0h1m17 0h1m-91 1h1m9 0h1m28 0h1m-34 1h1m3 0h1m18 0h1m-17 1h1m20 0h2m48 0h1m-92 1h1m2 0h1m5 0h1m26 0h3m-3 1h1m34 0h1m-50 1h1m3 0h1m5 0h1m56 0h1m3 0h1m-93 1h1m8 0h1m6 0h2m12 0h1m3 0h1m-18 1h1m9 0h1m-27 1h1m2 0h1m13 0h1m7 0h1m36 0h1m17 0h1m-84 1h1m1 0h1m13 0h1m22 0h1m6 0h1m2 0h1m7 0h1m9 0h1m3 0h1m-41 1h1m29 0h1m-56 1h1m25 0h1m9 0h2m1 0h1m30 0h1m2 0h1m-79 1h1m7 0h1m21 0h1m-23 1h1m26 0h1m-14 3h1"/>
<path stroke="#5ec962" d="M167 2.5h2m-1 1h1m8 0h1m-18 1h1m-12 12h1m29 3h2m-1 1h1m1 0h1m-10 1h1m14 0h1m-36 1h2m-13 12h1m48 2h1m-59 5h1m26 3h2m-2 1h1m-7 1h1m5 0h1m-11 1h1m10 0h1m1 1h1m-12 1h1m2 0h1m-7 1h1m-10 1h2m21 0h1m-23 2h1m1 0h1m4 0h1m-4 1h1m4 0h1m-9 1h1m1 0h1m3 0h1m-45 1h1m39 0h1m3 0h2m-43 1h1m32 0h1m11 0h1m6 0h1m-108 1h1m81 0h2m3 0h1m5 0h1m10 0h1m-59 1h1m27 0h1m1 0h3m16 0h1m-20 1h1m14 0h1m30 0h1m-51 1h1m-24 1h1m6 0h1m16 0h1m1 0h1m-78 1h1m49 0h1m6 0h1m-1 1h1m20 0h1m31 0h1m-33 1h1m-74 1h1m56 0h1m87 0h1m-154 1h1m6 0h1m59 0h1m12 0h1m10 0h1m-25 1h1m13 0h1m10 0h1m-89 1h1m2 0h1m55 0h1m12 0h1m16 0h1m30 0h1m-122 1h1m3 0h1m1 0h1m52 0h1m10 0h1m-18 1h1m15 0h2m6 0h1m-78 1h1m4 0h1m1 0h1m48 0h1m7 0h1m4 0h1m-64 1h1m1 0h1m61 0h1m-20 1h1m17 0h2m33 0h1m-104 1h1m3 0h3m44 0h1m14 0h1m14 0h1m-70 1h1m34 0h1m17 0h1m-68 1h1m12 0h1m5 0h1m62 0h1m63 0h1m-127 1h1m44 0h1m-19 1h1m22 0h1m10 0h2m2 0h1m57 0h1m-97 1h1m13 0h1m3 0h2m1 0h1m1 0h1m5 0h1m30 0h2m36 0h1m-139 1h1m15 1h2m20 0h1m21 0h1m-44 1h1m10 0h1m14 1h1m16 0h1m7 0h1m-37 2h1m6 0h1m25 0h1m64 0h1m-112 1h1m1 0h1m88 0h1m-89 1h1m9 0h1m13 0h1m24 0h1m-40 1h1m1 0h1m3 0h1m3 0h1m21 0h1m-36 1h1m13 0h1m17 0h1m-65 1h1m26 0h1m25 0h1m-68 1h1m45 0h1m30 0h1m2 0h2m3 0h1m-83 1h1m5 0h1m40 0h1m12 0h1m22 0h1m-87 1h2m2 0h1m4 0h1m7 0h1m20 0h1m20 0h1m30 0h1m-92 1h1m46 0h1m10 0h1m18 0h1m4 0h1m7 0h1m2 0h2m-98 1h1m1 0h1m12 0h1m8 0h1m22 0h1m41 0h1m-91 1h1m11 0h1m1 0h1m4 0h1m4 0h1m24 0h1m4 0h1m1 0h1m18 0h1m8 0h1m-82 1h1m6 0h1m13 0h1m15 0h1m36 0h1m-68 1h1m5 0h1m2 0h1m9 0h1m21 0h1m21 0h1m-66 1h1m14 0h1m10 0h1m5 0h1m11 0h2m7 0h2m7 0h1m3 0h2m15 0h1m-71 1h1m49 0h1m1 0h1m16 0h1m6 0h1m44 0h1m-155 1h1m16 0h1m2 0h1m15 0h1m21 0h1m5 0h1m8 0h1m11 0h1m5 0h1m5 0h1m2 0h1m-86 1h1m1 0h1m3 0h1m13 0h1m23 0h1m16 0h1m-52 1h1m37 0h2m1 0h1m5 0h1m7 0h1m4 0h1m15 0h1m5 0h1m-79 1h1m12 0h1m2 0h1m3 0h1m58 0h1m-67 1h1m7 0h1m10 0h1m11 0h1m1 0h1m-46 1h1m13 0h1m5 0h1m8 0h1m5 0h1m-36 1h1m5 0h1m16 0h1m16 0h1m2 0h1m15 0h1m-61 1h1m1 0h1m28 0h2m8 0h1m4 0h1m30 0h1m-84 1h1m6 0h1m5 0h1m-17 1h1m9 0h1m31 0h1m9 0h1m5 0h1m-55 1h2m1 0h1m1 0h1m32 0h1m6 0h1m55 0h1m-108 1h1m2 0h1m4 0h1m12 0h1m2 0h1m3 0h1m10 0h1m8 0h1m8 0h1m-69 1h1m15 0h1m9 0h1m-10 1h1m11 0h1m3 0h1m1 0h1m13 0h1m6 0h1m13 0h2m28 0h1m-57 1h1m50 0h1m-98 1h1m8 0h1m7 0h1m20 0h1m32 0h1m20 0h2m-90 1h1m18 0h1m6 0h1m7 0h1m31 0h1m1 0h1m19 0h2m-69 1h1m5 0h1m38 0h1m-69 1h1m17 0h1m31 1h2m35 0h1m-87 1h1m57 0h1m8 0h2m-70 1h1m7 0h1m43 0h1m6 0h1m14 0h3m1 0h1m2 0h1m-83 1h1m3 0h1m4 0h1m11 0h1m27 0h1m1 0h1m1 0h1m-1 1h1m19 0h1m-62 1h1m15 0h1m18 0h1m40 0h1m-89 1h1m1 0h1m3 0h1m35 0h2m7 0h1m1 0h1m11 0h1m-65 1h1m2 0h2m45 0h1m2 0h2m10 0h1m-67 1h1m3 0h1m1 0h1m25 0h1m35 0h2m24 0h1m-93 1h2m2 0h1m2 0h1m31 0h1m16 0h1m8 0h1m-72 1h1m21 0h2m45 0h1m6 0h1m5 0h2m1 0h1m-86 1h1m2 0h1m16 0h1m60 0h1m3 0h1m-72 1h1m64 0h1m-79 1h1m6 0h1m2 0h1m5 0h1m39 0h1m57 0h1m-108 1h1m15 0h1m-19 1h1m2 0h1m5 0h1m2 0h1m6 0h1m-22 1h1m4 0h4m4 0h1m8 0h2m-20 1h1m9 0h1m28 0h1m-38 1h1m1 0h1m10 0h1m-11 1h1m11 0h1m13 0h1m1 0h1m62 0h1m-95 1h1m1 0h1m33 0h1m-37 1h1m4 0h1m4 0h1m2 0h1m-13 1h1m20 0h1m-22 1h1m1 0h1m4 0h1m10 0h1m20 0h1m10 0h1m-24 1h1m-35 1h1m5 0h1m23 0h1m7 0h1m-34 1h2m21 0h1m7 0h1m2 0h1m-29 2h1m18 0h1m3 0h1m-12 1h1m-10 2h1m6 0h1"/>
<path stroke="#89d548" d="M174 3.5h1m4 0h1m8 16h1m-7 2h1m1 0h1m-5 3h1m-36 14h1m-4 2h1m-9 1h1m20 4h1m6 0h2m-15 1h1m14 0h1m-14 2h1m9 0h2m0 2h1m-16 1h1m12 0h1m-14 1h2m-8 1h1m4 2h1m2 0h2m-102 1h1m76 0h1m14 0h2m2 0h2m-42 1h1m21 0h1m10 0h1m2 0h2m2 0h1m-18 1h1m7 0h1m6 0h1m-96 1h1m1 0h1m91 0h1m4 0h1m-100 1h1m1 0h1m46 0h1m26 0h2m-28 1h2m25 0h4m-21 1h1m12 0h1m11 0h1m-9 1h1m2 0h1m-80 1h1m71 0h1m8 0h1m-85 1h2m4 0h1m63 1h1m-68 1h1m4 0h1m49 0h1m22 0h1m41 1h1m5 0h1m-124 1h1m2 0h1m50 0h1m3 0h1m8 0h1m-64 1h1m44 0h2m9 0h1m-67 1h1m6 0h1m51 0h2m9 0h1m-13 1h1m-59 1h1m5 0h1m49 0h1m13 0h1m1 0h1m51 0h1m-115 1h1m3 0h2m37 0h1m1 0h1m15 0h1m13 0h1m-73 1h1m51 0h1m1 0h2m3 0h1m5 0h1m7 0h1m59 0h1m-146 1h1m19 0h1m41 0h1m3 0h1m3 0h1m12 0h2m39 0h1m-110 1h1m50 0h2m1 0h1m2 0h1m8 0h1m2 0h1m-73 1h2m36 0h1m13 0h1m2 0h1m3 0h1m-67 1h2m62 0h1m-63 1h1m1 0h2m11 0h1m51 0h1m6 0h1m63 0h1m-139 1h1m43 0h1m7 0h1m6 0h2m2 0h1m11 0h1m-36 2h1m18 0h1m1 0h1m1 0h1m1 0h1m-48 1h1m17 0h2m3 0h2m2 0h1m14 0h1m-42 1h1m39 0h1m-28 1h1m1 0h1m3 0h1m-9 1h1m9 0h1m31 0h1m-51 1h1m37 0h1m15 0h1m-54 1h1m4 0h1m34 0h1m-37 1h1m31 0h1m-69 1h1m35 0h1m3 0h1m32 0h1m7 0h1m-86 1h1m5 0h1m2 0h1m6 0h1m22 0h1m2 0h1m14 0h1m18 0h1m-80 1h1m6 0h1m2 0h1m9 0h1m68 0h1m-87 1h1m4 0h1m1 0h1m4 0h1m31 0h1m6 0h1m1 0h1m7 0h1m11 0h1m-74 1h1m7 0h1m4 0h1m32 0h1m14 0h2m-72 1h1m5 0h2m3 0h1m3 0h1m2 0h1m1 0h1m1 0h1m1 0h1m2 0h1m20 0h1m4 0h1m2 0h1m14 0h3m-57 1h1m9 0h1m3 0h1m16 0h1m23 0h1m-68 1h1m3 0h1m4 0h1m4 0h1m6 0h2m24 0h1m22 0h2m-69 1h1m12 0h1m4 0h1m10 0h1m1 0h2m7 0h1m1 0h2m21 0h1m-61 1h1m2 0h1m29 0h2m3 0h2m7 0h1m12 0h1m16 0h1m-89 1h1m7 0h3m38 0h1m1 0h1m9 0h1m12 0h2m5 0h2m3 0h3m-88 1h3m1 0h1m11 0h1m10 0h1m21 0h1m22 0h1m2 0h1m11 0h1m-52 1h1m6 0h1m16 0h2m5 0h1m18 0h1m-83 1h1m13 0h1m9 0h1m28 0h1m9 0h1m-59 1h1m2 0h2m6 0h1m15 0h2m4 0h1m12 0h1m2 0h1m1 0h2m-47 1h1m3 0h1m24 0h1m10 0h1m13 0h1m23 0h1m-79 1h1m1 0h1m40 0h1m1 0h1m1 0h1m-60 1h1m13 0h1m22 0h1m3 0h1m9 0h1m5 0h1m-45 1h1m22 0h2m1 0h1m7 0h1m1 0h1m5 0h1m1 0h1m1 0h1m13 0h1m12 0h1m-82 1h1m10 0h1m4 0h1m4 0h1m2 0h1m8 0h1m2 0h4m2 0h1m2 0h1m6 0h2m1 0h1m-55 1h1m7 0h2m27 0h1m8 0h1m-31 1h1m16 0h1m17 0h2m-45 1h2m4 0h1m7 0h1m-24 1h1m3 0h2m15 0h1m2 0h1m44 0h1m-86 1h2m20 0h1m4 0h1m7 0h1m5 0h3m-33 1h1m5 0h1m16 0h2m1 0h1m2 0h1m2 0h1m5 0h1m22 0h1m4 0h1m8 0h2m2 0h1m-79 1h1m22 0h1m50 0h1m-57 1h3m-8 1h1m9 0h1m16 0h1m18 0h1m-69 1h1m11 0h1m6 0h1m30 0h1m18 0h1m-56 1h1m71 0h1m-40 1h1m22 0h1m-68 1h1m41 0h1m1 0h1m1 0h1m-23 1h1m37 0h1m4 0h1m-75 1h1m1 0h1m2 0h3m24 0h1m5 0h1m3 0h1m27 0h1m2 0h1m-70 1h1m29 0h1m3 0h1m13 0h2m16 0h1m2 0h1m-69 1h2m50 0h1m-9 1h1m26 0h1m29 0h1m-103 1h1m49 0h1m13 0h1m12 0h1m-84 1h2m5 0h1m14 0h1m28 0h1m-51 1h1m2 0h1m45 0h1m19 0h1m7 0h1m-74 1h1m8 0h1m1 0h1m18 0h1m2 0h1m17 0h1m29 0h1m-75 1h1m8 0h1m13 0h1m20 0h1m9 0h1m2 0h1m4 0h2m-2 1h1m-67 1h1m36 0h1m-37 1h1m34 0h1m20 0h1m14 0h1m-74 1h1m4 0h1m29 0h1m-38 1h1m5 0h1m1 0h1m1 0h1m4 0h1m1 0h1m14 0h1m-30 1h1m5 0h1m5 0h2m18 0h1m2 0h1m-37 1h1m2 0h1m6 0h1m5 0h1m15 0h1m20 0h1m-56 1h1m8 0h1m25 0h1m-37 1h1m1 0h1m1 0h1m21 0h1m-20 1h1m5 0h1m22 1h1m30 0h1m-63 1h1m3 1h1m25 0h1m-17 6h1m-6 1h1"/>
<path stroke="#b8de29" d="M171 6.5h1m11 13h1m1 2h1m-3 1h1m-64 18h1m14 2h1m23 0h1m-6 3h1m5 2h1m-63 1h1m58 0h1m6 0h2m-3 1h1m-23 1h1m22 2h1m-16 2h1m-1 1h1m-45 1h1m39 0h1m-43 1h1m-56 1h1m1 0h1m77 0h1m3 0h1m-34 1h1m45 0h2m-97 1h1m48 0h1m45 0h1m1 0h2m26 0h1m-123 1h1m71 0h1m-78 1h1m3 0h1m46 0h1m28 0h2m47 0h1m-129 1h1m55 3h1m10 0h1m8 0h1m-24 1h1m10 1h1m1 0h3m-63 1h1m56 0h1m3 0h3m79 0h1m-147 1h1m2 0h1m7 1h1m-13 1h2m50 0h1m12 0h1m-67 1h2m-4 1h1m68 0h1m3 0h1m-21 1h1m14 0h1m1 0h1m1 0h2m-23 1h2m-53 1h1m50 0h1m16 0h1m2 0h1m6 0h1m10 0h1m-87 1h1m64 0h1m1 0h1m10 0h2m-71 1h1m8 0h1m27 0h1m30 0h1m-75 1h1m4 0h1m35 0h1m20 0h1m1 0h1m-62 1h2m12 0h2m37 0h1m2 0h1m2 0h2m25 0h1m-37 1h2m-101 1h1m84 0h1m14 0h1m-35 1h1m38 0h1m3 0h1m1 0h1m-45 1h1m14 0h1m-16 1h1m14 0h1m17 0h1m-22 1h1m9 0h1m-3 1h2m21 0h1m-35 1h1m36 0h1m-43 1h2m0 1h1m18 0h1m-52 1h1m3 0h1m71 0h1m-88 1h1m2 0h1m8 0h1m35 0h3m28 0h1m-81 1h1m12 0h1m36 0h1m-52 1h1m2 0h1m4 0h1m8 0h1m2 0h2m47 0h1m24 0h1m-90 1h2m6 0h1m4 0h1m3 0h1m71 0h1m-92 1h1m45 0h1m1 0h1m19 0h1m-72 1h1m6 0h1m5 0h1m22 0h1m13 0h1m1 0h1m17 0h2m-65 1h1m30 0h1m30 0h1m2 0h1m-74 1h2m1 0h1m8 0h2m1 0h1m2 0h2m4 0h1m21 0h1m1 0h1m23 0h1m-72 1h3m8 0h2m2 0h1m1 0h1m27 0h1m1 0h1m11 0h1m34 0h1m-83 1h2m1 0h1m1 0h1m11 0h1m17 0h2m27 0h1m2 0h1m2 0h1m-78 1h1m23 0h1m17 0h1m2 0h1m21 0h1m5 0h4m5 0h1m-83 1h1m20 0h1m7 0h1m6 0h1m12 0h1m5 0h1m12 0h1m2 0h1m1 0h3m-70 1h1m2 0h1m39 0h1m24 0h1m-66 1h1m1 0h1m36 0h1m6 0h1m-34 1h1m25 0h1m2 0h2m9 0h1m-18 1h1m4 0h1m1 0h2m2 0h1m12 0h1m11 0h1m-84 1h1m47 0h1m5 0h1m-38 1h1m18 0h1m8 0h1m8 0h2m14 0h1m1 0h1m-69 1h2m1 0h1m8 0h1m7 0h1m19 0h1m4 0h2m-47 1h1m4 0h1m17 0h2m25 0h1m-50 1h1m1 0h1m4 0h1m11 0h1m1 0h1m-3 1h1m-4 1h1m16 0h1m55 0h1m-106 1h1m25 0h1m3 0h1m10 0h1m8 0h1m31 0h1m-83 1h2m11 0h1m-13 1h2m30 0h2m40 0h1m14 0h1m-89 1h1m33 0h1m35 0h1m12 0h1m-86 1h1m1 0h1m-2 1h1m20 0h2m31 0h1m14 0h1m1 0h1m-73 1h1m75 0h1m-75 1h1m69 0h1m-42 1h1m38 0h3m-43 1h1m19 0h1m17 0h1m-5 1h1m3 0h1m53 0h1m-85 1h1m15 0h1m-52 1h1m2 0h1m33 0h1m3 0h1m7 0h1m6 0h1m-58 1h1m-3 1h2m66 0h1m-74 1h1m3 0h1m4 0h1m63 0h1m-66 1h1m3 0h1m1 0h2m3 0h1m-10 1h1m1 0h1m3 1h1m8 2h1m-19 1h1m8 0h1m-7 1h1m5 0h1m1 0h1m28 0h1m-39 1h1m5 0h1m11 0h1m-21 1h1m2 0h1m2 0h1m-5 1h2m6 0h1m8 0h1m-20 1h1m1 0h1m3 0h1m1 0h1m1 0h1m7 0h1m-20 1h1m1 0h2m-3 1h1m25 0h3m-24 1h1m5 0h1m14 0h1m-22 1h1m27 0h1m-8 3h1"/>
<path stroke="#e7e419" d="M183 20.5h1m-36 15h1m-14 6h1m2 9h1m18 7h1m-109 1h1m96 0h1m-99 1h1m1 0h1m54 0h1m21 0h1m-80 1h1m75 0h1m6 0h1m3 0h1m10 0h1m-21 2h1m3 0h1m22 1h1m-105 1h1m109 1h1m-45 1h1m2 0h1m-68 1h1m58 0h1m4 0h4m-67 1h2m1 0h1m62 0h1m-67 1h1m0 1h1m1 1h1m62 0h1m-109 1h4m119 0h1m-124 1h1m3 0h2m36 0h1m65 0h1m-109 1h1m4 0h2m99 0h1m8 0h1m-117 1h1m6 0h1m88 0h1m-96 1h1m5 0h1m30 0h1m2 0h1m66 0h1m1 0h1m-114 1h5m5 0h1m26 0h5m116 0h1m-160 1h2m9 0h2m24 0h2m-39 1h1m11 0h1m23 0h1m94 0h1m7 0h1m-139 1h1m10 0h4m19 0h1m71 0h2m-107 1h1m12 0h5m14 0h1m63 0h1m7 0h2m-106 1h1m17 0h12m1 0h2m61 0h1m-66 1h3m-30 1h1m108 0h1m-110 1h1m0 1h1m102 0h1m-104 1h1m0 1h1m153 0h1m-155 1h1m0 1h1m70 0h1m35 0h1m-108 1h1m76 0h1m-78 1h1m37 0h1m61 0h1m-101 1h1m85 0h1m19 0h1m-106 1h1m24 0h1m5 0h1m44 0h1m2 0h1m3 0h1m12 0h2m7 0h1m-106 1h1m26 0h1m8 0h1m-37 1h1m70 0h1m27 0h1m5 0h1m-105 1h1m23 0h1m1 0h2m7 0h1m4 0h1m-41 1h1m20 0h1m3 0h2m10 0h1m25 0h1m3 0h1m5 0h1m15 0h1m-89 1h1m21 0h4m4 0h1m5 0h2m5 0h1m30 0h1m-75 1h1m21 0h1m1 0h2m-26 1h2m22 0h2m9 0h1m24 0h1m-60 1h1m30 0h1m39 0h1m-71 1h1m27 0h1m39 0h1m-69 1h2m-1 1h1m23 0h1m44 0h1m11 0h1m-82 1h2m28 0h2m42 0h3m-76 1h1m28 0h1m41 0h2m5 0h1m-78 1h1m25 0h1m34 0h1m6 0h2m8 0h1m-78 1h1m37 0h1m19 0h1m10 0h1m-70 1h2m23 0h1m63 0h1m-89 1h1m0 1h1m26 0h1m78 0h1m-106 1h1m22 0h1m18 0h1m-42 1h1m21 0h1m14 0h1m3 0h1m-42 1h2m17 0h1m14 0h1m-34 1h1m21 0h1m10 0h3m10 0h1m43 0h1m-59 1h1m1 0h3m54 0h1m-55 1h2m52 0h1m-5 2h1m-65 1h1m29 1h1m-52 1h1m4 0h1m-5 1h1m3 0h1m-6 1h1m9 0h1m40 0h2m-48 1h2m2 0h1m25 0h1m34 2h1m-76 1h1m5 0h1m3 0h1m1 0h1m-13 1h1m4 1h1m33 0h1m8 0h1m22 1h1m-28 1h1m28 0h1m-66 3h1m28 0h1m-21 1h1m8 0h1m-16 1h2m8 0h1m-14 1h1m3 0h1m1 0h1m2 0h1m-10 1h1m2 0h1m4 0h2m-10 1h1m8 2h2m-12 2h1m7 0h1"/>
</g><use href="#sm"/>
</g>
<rect x="131.0" y="1072.2" width="827.9" height="68.8" fill="#d9d9d9"/>
<text x="545.0" y="1119.2" font-size="36.2" fill="#1a1a1a" text-anchor="middle">med</text>
<rect x="131.0" y="1141.0" width="827.9" height="727.6" fill="#ebebeb"/>
<path d="M131.0 1169.75h827.9M131.0 1273.47h827.9M131.0 1377.19h827.9M131.0 1480.91h827.9M131.0 1584.63h827.9M131.0 1688.35h827.9M131.0 1792.07h827.9M331.80 1141.0v727.6M559.80 1141.0v727.6M787.80 1141.0v727.6" stroke="#fff" stroke-width="4.45" fill="none"/>
<g transform="translate(149.40 1169.75) scale(3.8000 4.3217)">
<g fill="none" stroke-width="1" shape-rendering="crispEdges">
<use href="#mk" fill="#470e61"/>
<path stroke="#482677" d="M157 3.5h1m1 1h1m11 0h1m8 0h1m-26 1h1m16 0h2m2 0h1m-24 1h1m7 0h1m2 0h1m14 0h1m1 0h1m-11 1h2m7 0h1m-34 1h2m11 0h1m8 0h1m1 0h2m7 0h3m-9 1h1m2 0h1m2 1h1m-6 2h1m3 0h1m-37 1h1m20 0h1m9 0h1m4 0h1m-32 1h1m16 0h1m1 0h1m5 0h1m2 0h1m-34 1h1m29 0h1m8 0h2m-48 1h1m5 0h3m16 0h1m1 0h1m8 0h1m1 0h3m1 0h1m-40 1h1m2 0h1m31 0h1m5 0h1m-43 1h1m2 0h1m6 0h1m6 0h1m18 0h1m3 0h1m6 0h2m-37 1h1m2 0h1m3 0h1m10 0h1m6 0h1m-27 1h1m1 0h1m8 0h1m12 0h2m4 0h1m-40 1h1m8 0h1m3 0h2m5 0h1m11 0h1m3 0h1m4 0h1m-47 1h1m13 0h1m5 0h1m1 0h1m19 0h1m-42 1h1m6 0h1m4 0h1m5 0h1m2 0h1m12 0h2m2 0h1m-28 1h1m5 0h1m5 0h1m25 0h1m-38 1h1m2 0h1m1 0h1m33 0h2m1 0h1m-37 1h1m26 0h1m-39 1h1m2 0h1m12 0h1m22 0h1m2 0h1m-42 1h1m8 0h5m3 0h1m14 0h1m9 0h1m-51 1h1m11 0h1m3 0h2m27 0h1m2 0h1m2 0h1m-48 1h1m1 0h1m1 0h1m5 0h1m1 0h1m1 0h1m9 0h1m19 0h1m1 0h1m-59 1h1m2 0h1m7 0h1m6 0h1m6 0h1m9 0h1m4 0h1m2 0h1m12 0h1m-57 1h1m1 0h1m3 0h1m4 0h1m3 0h1m-96 1h2m78 0h2m4 0h1m1 0h1m3 0h1m3 0h1m4 0h1m2 0h1m3 0h1m26 0h1m-135 1h1m78 0h1m1 0h1m1 0h1m2 0h1m1 0h1m5 0h1m5 0h1m2 0h1m10 0h2m6 0h2m8 0h1m1 0h2m4 0h1m-142 1h4m74 0h2m8 0h1m1 0h1m2 0h1m10 0h1m2 0h1m5 0h2m6 0h1m14 0h1m1 0h1m3 0h1m-141 1h3m66 0h1m14 0h1m2 0h1m3 0h1m6 0h1m3 0h1m8 0h1m7 0h1m12 0h2m4 0h1m-141 1h3m1 0h1m66 0h1m3 0h1m1 0h1m5 0h1m8 0h2m5 0h1m10 0h2m6 0h1m19 0h1m3 0h1m1 0h1m-145 1h6m66 0h2m1 0h1m2 0h1m8 0h1m3 0h1m8 0h1m2 0h1m3 0h1m10 0h1m14 0h2m2 0h1m2 0h1m1 0h3m-144 1h5m66 0h1m1 0h2m19 0h2m9 0h1m3 0h1m1 0h1m4 0h3m16 0h1m2 0h2m2 0h1m-144 1h4m1 0h1m1 0h1m63 0h1m7 0h3m14 0h1m3 0h1m1 0h1m3 0h2m1 0h1m2 0h1m1 0h1m3 0h1m12 0h1m9 0h1m2 0h1m-145 1h4m1 0h3m70 0h1m1 0h1m15 0h3m1 0h1m4 0h2m1 0h2m1 0h1m6 0h1m1 0h2m16 0h2m1 0h1m1 0h1m-144 1h1m3 0h4m62 0h1m4 0h1m4 0h1m7 0h1m11 0h1m2 0h1m13 0h3m1 0h1m16 0h1m2 0h1m1 0h1m-144 1h3m4 0h2m72 0h1m1 0h1m37 0h1m15 0h1m1 0h1m4 0h1m-145 1h2m1 0h1m1 0h1m2 0h2m38 0h1m22 0h1m17 0h2m28 0h1m1 0h1m14 0h3m2 0h1m-142 1h2m1 0h4m40 0h1m24 0h1m6 0h1m10 0h1m28 0h1m-119 1h2m2 0h2m39 0h1m12 0h1m21 0h1m38 0h1m3 0h1m14 0h1m2 0h1m-142 1h3m2 0h1m3 0h1m40 0h1m15 0h1m1 0h1m7 0h1m1 0h1m6 0h1m34 0h2m1 0h1m17 0h2m-144 1h7m40 0h1m14 0h1m1 0h2m5 0h2m1 0h1m4 0h1m43 0h2m-125 1h5m25 0h1m18 0h2m2 0h3m6 0h1m1 0h1m15 0h1m2 0h3m1 0h1m35 0h1m-124 1h6m3 0h1m40 0h1m3 0h2m15 0h2m8 0h1m2 0h1m2 0h1m36 0h2m-126 1h3m1 0h3m1 0h2m44 0h2m3 0h1m2 0h1m17 0h3m-82 1h4m1 0h1m1 0h1m18 0h1m27 0h3m5 0h2m1 0h1m4 0h1m7 0h2m4 0h1m3 0h1m32 0h1m-123 1h3m1 0h4m43 0h1m2 0h1m3 0h1m1 0h4m2 0h1m13 0h1m3 0h2m3 0h1m30 0h4m1 0h1m-126 1h1m1 0h1m1 0h2m1 0h1m41 0h3m2 0h1m6 0h1m19 0h1m2 0h1m5 0h1m30 0h1m1 0h1m-119 1h3m46 0h1m22 0h2m42 0h2m1 0h1m-121 1h4m13 0h1m29 0h4m8 0h1m4 0h1m7 0h1m43 0h5m-119 1h2m38 0h1m2 0h1m16 0h1m3 0h1m2 0h1m45 0h5m21 0h1m-140 1h2m5 0h1m28 0h2m18 0h1m1 0h1m1 0h2m3 0h2m46 0h1m1 0h3m1 0h1m19 0h2m2 0h4m-147 1h1m1 0h2m1 0h1m21 0h1m9 0h5m5 0h1m17 0h1m46 0h2m2 0h1m1 0h1m21 0h1m5 0h1m-142 1h1m9 0h1m2 0h1m20 0h1m2 0h1m8 0h1m65 0h3m2 0h1m16 0h2m2 0h1m1 0h1m1 0h1m-147 1h1m1 0h1m51 0h2m24 0h1m33 0h2m4 0h1m1 0h1m1 0h1m12 0h1m1 0h1m1 0h1m1 0h1m-144 1h1m38 0h1m11 0h1m6 0h1m1 0h1m21 0h1m32 0h2m1 0h1m7 0h1m10 0h1m1 0h1m1 0h1m-106 1h1m24 0h1m51 0h1m1 0h2m2 0h1m2 0h1m-123 1h1m1 0h1m35 0h1m10 0h1m15 0h1m26 0h1m18 0h1m5 0h1m1 0h2m1 0h1m13 0h1m6 0h1m-144 1h1m36 0h1m3 0h1m4 0h1m3 0h3m2 0h1m38 0h2m1 0h1m14 0h1m1 0h1m1 0h1m2 0h2m1 0h3m15 0h1m-105 1h2m5 0h1m11 0h1m11 0h1m41 0h1m2 0h1m1 0h2m4 0h1m7 0h3m7 0h1m-134 1h1m36 0h1m13 0h1m37 0h2m3 0h2m7 0h2m5 0h1m1 0h1m8 0h1m2 0h2m10 0h2m-140 1h1m4 0h2m20 0h1m6 0h1m6 0h2m45 0h1m3 0h2m3 0h2m2 0h2m3 0h1m7 0h2m1 0h1m2 0h1m1 0h2m2 0h2m3 0h1m4 0h3m-133 1h1m40 0h1m3 0h1m45 0h1m3 0h1m1 0h1m11 0h1m1 0h1m1 0h2m2 0h1m2 0h1m2 0h2m1 0h1m2 0h1m-134 1h1m15 0h1m47 0h1m10 0h1m18 0h1m1 0h6m15 0h1m9 0h1m5 0h2m-119 1h1m18 0h1m5 0h1m24 0h1m26 0h1m2 0h1m5 0h1m7 0h1m6 0h1m2 0h1m15 0h1m-133 1h1m36 0h1m29 0h1m15 0h1m7 0h1m3 0h1m1 0h1m10 0h1m3 0h1m1 0h1m1 0h1m12 0h2m-136 1h1m3 0h1m46 0h1m40 0h1m22 0h1m2 0h1m1 0h2m8 0h1m4 0h1m-183 1h1m91 0h1m54 0h1m18 0h1m11 0h1m2 0h1m-181 1h1m1 0h1m70 0h1m35 0h1m1 0h1m18 0h1m16 0h1m10 0h2m3 0h1m-163 1h2m46 0h1m27 0h1m2 0h1m79 0h2m17 0h1m-180 1h1m1 0h1m49 0h1m20 0h1m1 0h2m1 0h1m1 0h2m6 0h2m6 0h1m58 0h1m6 0h1m1 0h1m8 0h1m5 0h1m-182 1h1m42 0h1m33 0h2m6 0h1m4 0h1m1 0h2m1 0h3m65 0h1m1 0h1m13 0h1m2 0h1m-188 1h1m5 0h1m2 0h1m33 0h1m1 0h2m8 0h2m1 0h1m6 0h1m22 0h2m5 0h1m1 0h3m62 0h1m7 0h1m1 0h1m8 0h2m1 0h2m-185 1h2m4 0h2m1 0h1m24 0h1m10 0h1m9 0h1m1 0h1m2 0h2m20 0h3m5 0h1m3 0h1m65 0h1m21 0h1m2 0h1m-181 1h1m1 0h1m25 0h1m11 0h1m9 0h3m1 0h1m3 0h1m18 0h1m4 0h1m6 0h1m39 0h1m20 0h1m5 0h1m3 0h1m2 0h1m6 0h1m5 0h1m3 0h1m-182 1h2m5 0h2m2 0h2m38 0h3m2 0h1m1 0h1m25 0h1m4 0h1m37 0h1m1 0h2m34 0h2m3 0h1m5 0h2m-180 1h1m1 0h2m8 0h3m5 0h1m15 0h1m6 0h1m5 0h1m2 0h1m2 0h1m2 0h1m3 0h2m10 0h1m2 0h1m1 0h2m6 0h1m43 0h1m25 0h1m9 0h1m2 0h1m-169 1h1m10 0h1m6 0h1m3 0h1m1 0h2m1 0h2m1 0h2m3 0h1m2 0h1m3 0h3m1 0h2m1 0h2m3 0h2m5 0h1m9 0h1m3 0h1m45 0h1m35 0h1m3 0h1m5 0h1m2 0h1m1 0h3m1 0h1m-177 1h2m21 0h1m3 0h2m1 0h2m3 0h1m1 0h1m1 0h1m2 0h2m2 0h5m9 0h1m9 0h1m2 0h2m1 0h1m1 0h1m9 0h1m2 0h1m24 0h2m2 0h1m35 0h1m5 0h1m3 0h1m5 0h1m2 0h1m-172 1h1m16 0h2m5 0h3m5 0h1m2 0h2m1 0h1m1 0h1m3 0h1m1 0h2m3 0h2m2 0h1m1 0h1m1 0h1m41 0h1m16 0h1m36 0h2m3 0h1m9 0h1m-173 1h1m20 0h1m3 0h1m1 0h1m6 0h1m1 0h1m1 0h1m1 0h2m4 0h1m2 0h1m7 0h1m3 0h1m8 0h2m52 0h1m25 0h2m3 0h2m2 0h1m6 0h1m2 0h1m1 0h1m-173 1h2m2 0h1m8 0h1m1 0h1m6 0h1m5 0h2m11 0h2m6 0h2m12 0h1m6 0h2m52 0h1m25 0h3m4 0h1m2 0h2m4 0h1m3 0h1m-171 1h3m1 0h1m1 0h1m6 0h1m9 0h3m5 0h1m7 0h1m18 0h1m4 0h3m7 0h2m21 0h2m19 0h1m1 0h1m29 0h1m2 0h2m2 0h1m3 0h1m1 0h1m3 0h1m1 0h1m-165 1h1m7 0h1m3 0h1m3 0h1m1 0h2m18 0h1m22 0h1m3 0h1m28 0h1m1 0h1m48 0h1m1 0h2m1 0h2m1 0h2m2 0h1m1 0h1m1 0h1m-164 1h1m1 0h5m1 0h2m3 0h2m1 0h3m30 0h1m1 0h1m13 0h1m50 0h1m30 0h2m2 0h1m1 0h1m4 0h2m2 0h1m-163 1h1m1 0h1m2 0h3m1 0h2m36 0h2m59 0h1m37 0h1m2 0h2m3 0h2m-155 1h2m3 0h2m2 0h3m5 0h1m28 0h1m1 0h1m4 0h1m4 0h3m27 0h1m2 0h1m52 0h4m2 0h1m3 0h1m1 0h1m1 0h1m4 0h1m-165 1h3m5 0h1m4 0h1m35 0h1m3 0h1m3 0h1m6 0h3m84 0h1m1 0h1m1 0h1m1 0h2m-159 1h2m4 0h1m5 0h2m1 0h1m22 0h1m11 0h1m1 0h1m3 0h1m3 0h1m33 0h1m18 0h1m30 0h2m2 0h1m1 0h1m3 0h1m-154 1h1m10 0h1m1 0h2m17 0h1m19 0h1m5 0h1m17 0h2m4 0h1m2 0h1m2 0h1m53 0h1m1 0h2m-146 1h1m3 0h2m7 0h2m2 0h1m35 0h1m23 0h1m40 0h1m22 0h1m-142 1h2m1 0h2m7 0h1m1 0h3m69 0h1m10 0h1m7 0h1m12 0h1m19 0h2m1 0h2m-142 1h1m3 0h1m7 0h3m35 0h1m86 0h1m3 0h1m-140 1h4m1 0h1m75 0h1m2 0h1m18 0h1m10 0h1m16 0h1m7 0h2m-142 1h1m1 0h2m1 0h3m7 0h1m60 0h1m5 0h1m14 0h1m33 0h2m1 0h1m2 0h1m4 0h1m-104 1h1m79 0h2m12 0h1m1 0h1m1 0h1m5 0h1m13 0h1m-154 1h1m106 0h1m3 0h1m4 0h1m14 0h1m2 0h1m2 0h1m5 0h1m-130 1h1m100 0h3m1 0h1m5 0h1m1 0h1m4 0h1m-125 1h1m1 0h4m90 0h1m10 0h3m11 0h1m1 0h1m1 0h1m1 0h1m-128 1h1m4 0h2m7 0h2m15 0h1m62 0h2m2 0h1m7 0h1m6 0h1m5 0h1m5 0h2m-130 1h1m1 0h1m6 0h1m6 0h1m35 0h1m46 0h1m1 0h1m2 0h1m2 0h1m4 0h1m10 0h1m13 0h1m-143 1h2m1 0h3m39 0h1m51 0h1m11 0h1m-108 1h1m25 0h1m18 0h1m47 0h1m3 0h4m7 0h1m14 0h1m8 0h1m-133 1h2m6 0h1m19 0h1m18 0h1m50 0h2m13 0h1m9 0h1m8 0h1m2 0h1m-127 1h2m37 0h1m45 0h2m10 0h1m1 0h1m20 0h1m3 0h1m-128 1h2m50 0h1m18 0h1m19 0h1m4 0h1m1 0h1m7 0h1m1 0h1m8 0h1m2 0h1m1 0h1m3 0h2m-123 1h2m35 0h1m9 0h1m2 0h1m15 0h1m24 0h1m3 0h2m7 0h1m4 0h1m3 0h1m1 0h1m6 0h2m-126 1h3m18 0h1m26 0h1m1 0h1m37 0h1m22 0h1m6 0h1m3 0h1m-122 1h1m1 0h2m44 0h1m5 0h1m24 0h1m15 0h1m1 0h1m1 0h1m14 0h1m3 0h1m-118 1h1m2 0h1m71 0h1m1 0h1m15 0h1m2 0h1m1 0h2m-52 1h1m6 0h1m17 0h1m20 0h1m5 0h1m3 0h1m-106 1h1m1 0h2m11 0h2m22 0h1m2 0h2m53 0h1m1 0h1m2 0h1m12 0h1m-111 1h1m32 0h1m2 0h3m14 0h1m2 0h1m15 0h2m19 0h1m2 0h1m1 0h1m4 0h1m6 0h1m-110 1h1m28 0h1m3 0h1m1 0h1m14 0h1m16 0h1m22 0h1m1 0h1m1 0h1m6 0h1m4 0h2m2 0h2m-114 1h2m82 0h1m1 0h5m3 0h2m1 0h1m4 0h1m2 0h1m3 0h2m1 0h1m5 0h1m-119 1h2m7 0h1m9 0h1m8 0h2m6 0h1m12 0h1m3 0h2m34 0h1m4 0h1m4 0h1m-94 1h1m22 0h1m1 0h1m16 0h1m34 0h1m5 0h2m2 0h1m1 0h1m2 0h2m2 0h1m2 0h1m7 0h3m-101 1h1m8 0h1m23 0h1m32 0h1m2 0h4m1 0h1m1 0h2m3 0h1m2 0h1m-94 1h2m2 0h1m36 0h1m1 0h1m19 0h1m17 0h1m1 0h1m5 0h1m1 0h1m1 0h3m2 0h1m-82 1h1m25 0h1m30 0h1m6 0h1m5 0h1m3 0h1m3 0h1m7 0h1m-97 1h1m34 0h1m1 0h1m34 0h1m14 0h1m8 0h1m1 0h1m-112 1h1m4 0h1m8 0h1m2 0h1m72 0h1m2 0h3m2 0h1m8 0h1m-105 1h1m1 0h1m6 0h2m3 0h1m11 0h1m34 0h1m11 0h1m4 0h1m14 0h5m3 0h1m-97 1h1m7 0h2m32 0h1m24 0h2m9 0h1m1 0h1m6 0h1m1 0h3m4 0h1m-90 1h1m4 0h1m12 0h1m14 0h1m3 0h1m23 0h3m2 0h4m3 0h2m4 0h2m3 0h1m4 0h1m-91 1h1m2 0h1m53 0h1m6 0h2m1 0h1m2 0h1m5 0h1m9 0h1m-84 1h1m10 0h1m21 0h1m1 0h1m27 0h1m3 0h1m4 0h1m5 0h1m5 0h1m-84 1h1m17 0h1m3 0h1m8 0h1m7 0h3m5 0h1m14 0h1m4 0h1m4 0h1m6 0h1m2 0h1m-57 1h1m19 0h1m9 0h1m7 0h3m8 0h1m3 0h2m-82 1h2m3 0h1m14 0h1m13 0h1m4 0h2m1 0h2m2 0h2m5 0h1m6 0h1m1 0h3m1 0h1m2 0h1m6 0h1m5 0h1m-58 1h1m1 0h1m19 0h2m3 0h2m3 0h1m2 0h1m2 0h1m4 0h1m7 0h1m1 0h2m-59 1h1m7 0h2m1 0h1m1 0h1m11 0h1m1 0h1m2 0h1m4 0h1m10 0h1m4 0h1m2 0h1m-55 1h1m3 0h1m2 0h1m1 0h2m2 0h1m9 0h1m1 0h1m1 0h1m1 0h1m1 0h1m1 0h2m11 0h1m-63 1h1m13 0h2m3 0h1m4 0h2m2 0h2m13 0h1m7 0h1m-53 1h1m14 0h1m10 0h1m13 0h1m2 0h2m7 0h1m-50 1h1m11 0h1m2 0h1m3 0h1m2 0h1m28 0h2m-68 1h1m1 0h1m21 0h1m4 0h2m4 0h1m4 0h1m2 0h1m7 0h1m5 0h1m10 0h1m-69 1h1m22 0h1m1 0h1m28 0h2m2 0h1m-66 1h1m4 0h1m59 0h1m-69 1h1m16 0h1m7 0h1m-17 1h3m4 0h1m-14 1h1m3 0h1m4 0h1m7 0h1m-5 1h1m-8 1h1m1 0h1"/>
<path stroke="#433d84" d="M178 4.5h1m-9 1h1m-8 1h1m1 0h1m4 0h1m5 0h1m-23 1h1m15 0h1m0 2h1m4 0h1m3 0h1m-23 1h1m12 0h1m-17 1h1m4 0h2m12 0h1m-20 1h1m1 0h1m8 0h1m-6 1h1m-20 1h1m3 0h1m19 0h1m7 0h1m5 0h2m-41 1h1m6 0h1m4 0h1m9 0h1m1 0h1m3 0h1m5 0h1m2 0h1m-40 1h2m24 0h1m7 0h1m9 0h2m-44 1h1m4 0h1m17 0h1m3 0h1m9 0h1m-46 1h1m35 0h2m5 0h1m3 0h2m-13 1h1m8 0h1m-48 1h1m23 0h1m8 0h1m23 0h1m-10 1h1m-40 1h1m32 0h1m2 0h1m11 0h1m-34 1h1m19 0h2m-44 1h2m16 0h1m3 0h2m16 0h1m-44 1h1m18 0h1m2 0h1m1 0h1m17 0h1m8 0h1m-16 1h1m17 0h1m-35 1h1m2 0h1m4 0h1m16 0h1m4 1h1m-54 1h1m30 0h1m18 0h1m4 0h2m1 0h1m-43 1h1m19 0h1m4 0h1m8 0h1m-54 1h2m14 0h1m2 0h1m8 0h1m-12 1h1m2 0h1m6 0h1m8 0h1m17 0h1m2 0h1m-36 1h1m3 0h2m30 0h1m-133 1h1m85 0h1m7 0h1m24 0h1m12 0h1m-55 1h3m1 0h1m2 0h1m3 0h1m11 0h1m1 0h1m4 0h1m1 0h1m-28 1h1m1 0h2m-86 1h1m77 0h1m2 0h1m5 0h1m4 0h1m8 0h1m1 0h1m1 0h1m4 0h1m25 0h1m1 0h1m-66 1h2m1 0h1m1 0h1m4 0h1m6 0h1m1 0h1m2 0h1m27 0h1m9 0h1m-131 1h1m64 0h1m18 0h1m6 0h2m5 0h1m36 0h2m1 0h1m-139 1h1m68 0h1m7 0h1m2 0h1m11 0h1m5 0h2m5 0h1m4 0h1m25 0h1m-139 1h1m66 0h1m2 0h1m1 0h1m4 0h1m30 0h1m13 0h1m17 0h1m-137 1h1m65 0h1m7 0h2m20 0h4m8 0h1m3 0h1m-118 1h2m1 0h1m60 0h1m14 0h1m4 0h1m2 0h1m27 0h3m17 0h1m2 0h1m-140 1h1m3 0h2m72 0h2m36 0h1m1 0h1m9 0h1m8 0h1m2 0h2m-142 1h1m4 0h1m1 0h1m71 0h1m3 0h1m53 0h1m3 0h1m-144 1h1m2 0h2m2 0h3m69 0h1m10 0h1m28 0h1m-120 1h1m3 0h2m3 0h1m46 0h1m30 0h1m9 0h1m-89 1h1m82 0h1m-88 1h5m47 0h1m1 0h1m10 0h2m1 0h1m14 0h1m1 0h1m33 0h1m-119 1h3m1 0h1m47 0h1m7 0h1m19 0h1m1 0h1m34 0h1m-121 1h1m45 0h1m1 0h1m4 0h1m12 0h1m18 0h1m35 0h1m-120 1h1m1 0h1m50 0h1m23 0h1m1 0h1m-32 1h1m5 0h1m4 0h2m17 0h1m-83 1h1m1 0h1m51 0h1m4 0h1m2 0h2m6 0h1m10 0h2m2 0h1m33 0h1m3 0h1m-125 1h1m48 0h1m6 0h2m1 0h1m1 0h1m29 0h1m1 0h1m-94 1h1m2 0h1m57 0h1m4 0h1m10 0h1m5 0h1m-74 1h2m36 0h1m18 0h1m-63 1h1m6 0h1m43 0h1m11 0h2m3 0h1m36 0h1m5 0h1m27 0h1m3 0h1m-81 1h1m5 0h1m16 0h1m24 0h1m3 0h1m4 0h1m19 0h1m2 0h1m1 0h2m-146 1h1m36 0h1m26 0h1m39 0h1m4 0h1m3 0h2m1 0h1m-115 1h1m35 0h1m1 0h3m8 0h2m8 0h1m18 0h1m2 0h1m3 0h1m25 0h2m4 0h1m21 0h1m-105 1h1m3 0h1m6 0h1m8 0h1m9 0h1m13 0h2m9 0h1m2 0h1m4 0h1m8 0h1m8 0h1m20 0h1m-138 1h1m36 0h1m1 0h1m15 0h1m3 0h1m1 0h1m3 0h1m13 0h2m6 0h2m11 0h1m9 0h1m9 0h1m16 0h2m2 0h2m-101 1h3m1 0h1m12 0h3m15 0h1m9 0h1m6 0h2m2 0h1m1 0h1m1 0h1m8 0h2m4 0h1m2 0h1m17 0h1m1 0h2m-139 1h1m40 0h1m1 0h1m8 0h1m42 0h2m2 0h1m4 0h1m4 0h1m3 0h1m24 0h1m1 0h1m-146 1h1m2 0h1m38 0h1m3 0h1m8 0h1m36 0h1m3 0h3m2 0h2m1 0h1m1 0h2m10 0h1m3 0h1m18 0h1m1 0h2m-150 1h1m6 0h1m2 0h1m40 0h1m21 0h1m10 0h1m12 0h1m4 0h1m1 0h1m3 0h1m7 0h2m4 0h1m1 0h1m4 0h2m3 0h1m14 0h1m-89 1h1m20 0h1m12 0h1m4 0h1m2 0h1m1 0h1m2 0h1m4 0h2m1 0h1m8 0h1m4 0h1m18 0h1m-97 1h1m26 0h1m19 0h1m1 0h1m1 0h2m1 0h2m16 0h1m5 0h1m4 0h1m-71 1h1m33 0h2m4 0h1m7 0h1m10 0h2m-55 1h1m27 0h1m4 0h1m6 0h1m1 0h2m7 0h1m3 0h1m16 0h1m-131 1h1m45 0h1m2 0h1m10 0h2m10 0h2m17 0h1m1 0h2m17 0h1m1 0h1m-112 1h1m30 0h1m4 0h1m5 0h2m2 0h1m20 0h1m3 0h1m8 0h1m6 0h1m19 0h1m1 0h1m-113 1h2m63 0h1m11 0h1m7 0h1m11 0h1m15 0h1m-71 1h2m3 0h1m56 0h1m1 0h1m24 0h1m-109 1h1m19 0h1m32 0h1m2 0h1m21 0h1m1 0h2m2 0h1m15 0h1m5 0h3m-182 1h1m36 0h1m2 0h1m2 0h2m1 0h1m3 0h1m73 0h1m15 0h1m6 0h1m5 0h1m3 0h2m12 0h1m5 0h1m2 0h1m-147 1h1m15 0h1m30 0h1m13 0h1m11 0h1m17 0h1m9 0h1m1 0h1m12 0h1m1 0h2m1 0h2m2 0h1m18 0h1m2 0h1m-154 1h1m7 0h1m7 0h1m32 0h1m14 0h1m3 0h1m29 0h1m8 0h1m2 0h1m14 0h1m4 0h1m2 0h1m8 0h1m-77 1h1m26 0h1m3 0h1m12 0h2m15 0h1m2 0h1m1 0h1m1 0h1m7 0h1m-168 1h1m23 0h1m26 0h1m23 0h1m60 0h1m10 0h2m12 0h1m10 0h1m-182 1h1m8 0h1m6 0h1m26 0h1m47 0h1m43 0h1m18 0h3m9 0h2m14 0h1m-171 1h1m4 0h1m2 0h1m3 0h1m16 0h2m39 0h3m6 0h1m1 0h2m27 0h1m7 0h1m19 0h1m9 0h1m5 0h1m-163 1h1m8 0h1m9 0h1m8 0h1m2 0h1m1 0h1m17 0h1m19 0h1m23 0h1m4 0h1m20 0h1m31 0h1m3 0h1m1 0h1m5 0h1m-165 1h1m12 0h1m5 0h2m10 0h2m3 0h1m5 0h1m7 0h1m2 0h1m37 0h1m3 0h1m57 0h1m1 0h2m2 0h1m5 0h2m-168 1h1m1 0h1m1 0h1m8 0h2m3 0h2m5 0h1m5 0h2m1 0h1m1 0h2m4 0h1m3 0h1m1 0h1m30 0h2m3 0h1m2 0h1m4 0h1m59 0h1m1 0h1m1 0h1m12 0h2m1 0h1m-174 1h2m1 0h1m8 0h2m14 0h1m1 0h1m1 0h2m3 0h1m3 0h1m4 0h2m9 0h1m2 0h1m1 0h1m29 0h2m3 0h2m3 0h1m56 0h1m4 0h1m7 0h1m-169 1h1m2 0h1m7 0h1m1 0h1m9 0h2m8 0h1m6 0h2m3 0h1m10 0h1m2 0h1m9 0h1m45 0h1m44 0h1m-154 1h1m4 0h1m13 0h2m6 0h1m8 0h2m2 0h1m36 0h1m67 0h1m1 0h3m-155 1h1m2 0h2m1 0h1m1 0h2m10 0h2m13 0h1m16 0h1m6 0h1m14 0h1m1 0h1m15 0h1m3 0h1m17 0h2m32 0h1m5 0h1m7 0h1m-165 1h1m10 0h1m8 0h1m4 0h1m18 0h1m16 0h1m1 0h1m19 0h1m9 0h1m23 0h1m27 0h1m3 0h1m1 0h1m2 0h1m4 0h1m-158 1h1m7 0h1m4 0h1m23 0h1m1 0h1m2 0h1m14 0h1m2 0h4m91 0h1m-154 1h1m2 0h1m4 0h1m1 0h3m33 0h1m14 0h1m3 0h1m9 0h1m6 0h1m3 0h1m5 0h1m1 0h1m-97 1h3m8 0h3m15 0h1m60 0h1m5 0h1m11 0h1m33 0h2m7 0h1m1 0h1m5 0h1m-161 1h1m2 0h1m8 0h1m34 0h1m3 0h3m1 0h1m14 0h1m15 0h1m57 0h1m2 0h1m-150 1h1m1 0h2m1 0h2m6 0h1m33 0h1m15 0h1m1 0h1m15 0h1m17 0h1m44 0h1m-142 1h2m8 0h1m49 0h2m17 0h1m32 0h1m25 0h1m1 0h1m8 0h1m3 0h1m-101 1h1m52 0h1m27 0h1m3 0h1m-80 1h1m22 0h1m10 0h1m4 0h1m4 0h1m8 0h1m-108 1h1m67 0h1m9 0h1m14 0h1m10 0h1m27 0h1m-65 1h1m10 0h1m33 0h1m14 0h1m14 0h1m-145 1h1m67 0h1m2 0h1m7 0h2m1 0h2m22 0h1m2 0h1m7 0h1m-120 1h2m45 0h1m46 0h1m22 0h1m2 0h1m8 0h1m1 0h1m9 0h2m-142 1h1m23 0h1m68 0h1m6 0h1m12 0h3m3 0h1m7 0h1m1 0h2m4 0h2m1 0h1m5 0h1m-124 1h1m15 0h2m23 0h1m34 0h1m4 0h1m3 0h2m6 0h1m18 0h1m13 0h1m-138 1h2m26 0h1m3 0h1m13 0h1m39 0h1m5 0h1m2 0h1m7 0h1m3 0h1m18 0h1m-130 1h1m16 0h1m4 0h1m7 0h1m4 0h1m55 0h1m4 0h1m4 0h1m5 0h1m-108 1h1m20 0h1m19 0h1m10 0h1m47 0h1m24 0h1m-131 1h1m7 0h3m14 0h1m54 0h1m11 0h1m4 0h1m12 0h1m4 0h1m9 0h1m8 0h3m-129 1h1m38 0h1m34 0h1m10 0h1m16 0h1m2 0h1m2 0h1m6 0h1m3 0h1m6 0h1m-133 1h1m10 0h1m33 0h1m45 0h2m15 0h1m4 0h1m16 0h1m-118 1h1m24 0h1m27 0h1m14 0h1m3 0h1m7 0h1m4 0h1m5 0h1m14 0h1m10 0h1m-129 1h1m4 0h1m61 0h1m21 0h1m6 0h1m3 0h1m5 0h1m4 0h1m12 0h1m1 0h1m1 0h1m-99 1h1m34 0h1m5 0h1m3 0h1m17 0h1m4 0h1m1 0h1m10 0h1m7 0h1m1 0h1m-117 1h2m56 0h1m1 0h1m3 0h1m1 0h1m6 0h1m3 0h2m14 0h2m10 0h1m9 0h1m-116 1h1m1 0h1m40 0h1m6 0h1m21 0h1m8 0h2m14 0h1m8 0h1m10 0h3m9 0h1m-126 1h1m1 0h1m12 0h1m4 0h2m13 0h1m10 0h1m27 0h1m35 0h1m2 0h1m-96 1h1m14 0h1m1 0h1m9 0h1m29 0h1m1 0h1m16 0h1m3 0h1m12 0h1m8 0h1m-110 1h1m23 0h1m22 0h1m9 0h1m5 0h1m7 0h1m5 0h1m4 0h1m6 0h1m13 0h1m-112 1h1m2 0h1m3 0h1m11 0h1m33 0h1m1 0h2m9 0h1m18 0h3m1 0h2m5 0h1m12 0h1m-78 1h2m22 0h1m11 0h1m1 0h1m1 0h1m24 0h1m-79 1h1m61 0h1m-75 1h1m4 0h1m19 0h2m1 0h2m14 0h1m28 0h1m2 0h1m7 0h1m3 0h1m4 0h1m5 0h1m-101 1h3m15 0h1m21 0h1m21 0h2m12 0h1m6 0h1m3 0h1m16 0h1m-100 1h3m30 0h1m2 0h1m8 0h1m25 0h1m1 0h1m4 0h2m6 0h1m3 0h2m5 0h1m2 0h1m-106 1h1m7 0h2m18 0h1m48 0h1m11 0h1m3 0h1m-97 1h1m1 0h1m1 0h1m3 0h1m38 0h1m26 0h1m11 0h1m3 0h2m8 0h1m-102 1h2m10 0h1m4 0h1m4 0h1m2 0h1m1 0h1m55 0h1m15 0h1m5 0h1m-91 1h1m1 0h1m22 0h1m10 0h1m40 0h1m10 0h3m-107 1h1m15 0h1m9 0h1m11 0h1m1 0h1m11 0h1m23 0h1m15 0h1m-82 1h1m23 0h1m7 0h1m4 0h1m11 0h1m11 0h1m5 0h1m17 0h1m-110 1h1m19 0h1m19 0h1m5 0h1m10 0h3m1 0h2m25 0h1m7 0h1m2 0h1m-83 1h1m11 0h1m6 0h1m5 0h1m3 0h1m6 0h1m6 0h1m3 0h1m23 0h1m3 0h1m4 0h1m7 0h1m5 0h1m-54 1h1m12 0h1m18 0h1m21 0h1m-111 1h1m8 0h1m18 0h1m3 0h1m5 0h1m1 0h1m14 0h1m12 0h1m6 0h1m1 0h1m9 0h1m7 0h1m3 0h1m5 0h1m3 0h1m-63 1h2m8 0h2m25 0h1m8 0h1m2 0h1m7 0h1m-62 1h1m6 0h1m1 0h1m4 0h1m1 0h1m2 0h1m1 0h1m38 0h1m-53 1h2m8 0h1m7 0h1m8 0h1m4 0h1m11 0h1m6 0h1m-54 1h1m23 0h1m27 0h1m-44 1h1m-13 1h1m1 0h1m10 0h1m-37 1h1m23 0h1m2 0h1m5 0h1m29 0h1m-54 1h1m18 0h1m15 0h1m7 0h1m-65 1h1m10 0h2m1 0h1m32 0h1m15 0h1m-58 1h3m1 0h1m3 0h1m48 0h1m-60 1h3m2 0h1m4 0h1m-17 1h1m3 1h1m-2 1h1m2 0h2m-4 1h1m6 1h1"/>
<path stroke="#3b528b" d="M158 3.5h1m11 0h1m5 0h1m-20 2h2m-8 1h1m3 0h1m13 0h1m-21 5h1m9 0h1m8 0h1m-13 1h1m-6 1h1m5 1h3m7 1h1m9 1h1m4 0h1m-16 1h1m16 0h1m-21 1h1m3 0h1m6 0h1m-25 1h1m25 0h1m7 0h2m-53 1h1m28 0h1m3 0h1m9 0h2m2 0h1m-32 1h1m17 0h1m6 0h1m1 0h1m2 0h1m6 0h1m-47 1h1m30 0h1m13 0h1m-47 1h1m18 0h1m25 0h1m-31 2h1m26 0h1m2 0h1m-39 1h1m1 0h1m5 0h1m29 0h1m-38 1h1m8 0h1m-12 1h1m4 0h1m3 2h1m16 0h1m4 1h1m-49 1h1m18 0h1m3 0h1m1 0h1m27 0h1m-63 1h1m9 0h1m11 0h1m4 0h1m9 0h1m-20 1h1m11 0h1m7 0h1m-39 1h2m18 0h1m9 0h1m5 0h1m8 0h1m-39 1h1m3 0h2m10 0h1m6 0h1m4 0h1m33 0h1m-72 1h1m8 0h1m2 0h1m2 0h1m14 0h1m11 0h1m2 0h1m-36 1h1m1 0h1m2 0h1m19 0h1m-26 1h1m1 0h1m4 0h1m49 0h1m-134 1h1m79 0h1m5 0h1m24 0h1m-27 1h1m9 0h1m13 0h2m1 0h1m23 0h1m1 0h1m-141 1h2m80 0h1m1 0h1m2 0h1m1 0h1m17 0h1m2 0h1m16 0h1m9 0h1m4 0h1m-65 1h1m15 0h1m1 0h1m7 0h1m33 0h1m2 0h1m-140 1h1m77 0h2m9 0h2m4 0h1m2 0h2m31 0h1m4 0h1m3 0h1m-137 1h1m82 0h2m4 0h1m43 0h2m-63 1h1m14 0h1m-88 1h1m39 0h1m32 0h1m6 0h1m1 0h5m1 0h1m1 0h1m-92 1h2m1 0h1m74 0h1m5 0h1m4 0h1m10 0h1m-45 1h1m1 0h1m16 0h1m10 0h1m-35 1h2m13 0h1m4 0h1m2 0h2m1 0h1m3 0h1m5 0h1m24 0h1m-114 1h1m53 0h1m3 0h1m21 0h1m9 0h1m-39 1h2m4 0h1m3 0h1m13 0h1m4 0h1m18 0h1m12 0h2m-96 1h2m28 0h1m33 0h1m7 0h1m-41 1h1m19 0h1m1 0h1m24 0h1m-51 1h1m4 0h1m12 0h1m11 0h1m-36 1h1m22 0h1m17 0h2m14 0h1m9 0h1m1 0h1m-115 1h1m45 0h1m10 0h1m6 0h1m6 0h1m7 0h1m8 0h1m11 0h1m-62 1h1m4 0h1m3 0h2m3 0h1m24 0h1m19 0h1m50 0h1m-107 1h1m12 0h1m47 0h1m4 0h1m8 0h1m29 0h1m-101 1h1m5 0h2m10 0h1m33 0h1m8 0h1m2 0h2m2 0h1m30 0h1m-83 1h1m17 0h1m6 0h1m3 0h1m4 0h1m1 0h2m7 0h1m35 0h1m-107 1h1m16 0h1m22 0h1m7 0h1m3 0h1m14 0h1m1 0h1m1 0h1m1 0h2m27 0h1m-90 1h1m1 0h1m23 0h1m1 0h1m12 0h1m3 0h1m3 0h1m3 0h1m4 0h1m2 0h1m5 0h1m1 0h1m19 0h1m-140 1h1m35 0h1m1 0h1m14 0h1m1 0h1m22 0h1m1 0h1m7 0h1m3 0h2m2 0h1m2 0h1m9 0h1m3 0h2m24 0h1m-84 1h1m11 0h1m17 0h1m2 0h1m2 0h1m2 0h1m9 0h1m8 0h1m25 0h1m1 0h1m-151 1h1m58 0h1m15 0h1m5 0h1m1 0h1m12 0h2m3 0h1m3 0h1m3 0h1m1 0h1m2 0h2m-58 1h1m23 0h1m10 0h1m2 0h1m13 0h4m5 0h1m27 0h1m-137 1h2m47 0h1m12 0h2m7 0h1m4 0h1m9 0h1m25 0h1m5 0h1m19 0h1m-139 1h1m54 0h1m21 0h1m7 0h3m1 0h1m1 0h1m1 0h1m9 0h1m13 0h1m2 0h1m17 0h1m-137 1h1m1 0h1m41 0h1m33 0h1m12 0h2m10 0h1m30 0h1m2 0h1m-151 1h1m55 0h1m5 0h1m12 0h1m1 0h1m4 0h1m9 0h1m1 0h1m16 0h2m4 0h1m8 0h1m19 0h1m-133 1h1m74 0h1m8 0h1m1 0h1m4 0h1m8 0h2m10 0h1m20 0h2m-133 1h1m48 0h1m10 0h1m22 0h1m4 0h1m3 0h2m4 0h2m2 0h2m28 0h1m-99 1h1m8 0h1m1 0h1m2 0h1m26 0h1m1 0h1m4 0h2m3 0h1m9 0h1m5 0h1m3 0h1m22 0h2m-134 1h1m2 0h1m28 0h1m46 0h2m5 0h1m4 0h1m5 0h1m14 0h1m19 0h1m-103 1h1m1 0h1m26 0h1m13 0h1m5 0h1m11 0h1m1 0h1m5 0h1m4 0h1m29 0h1m-90 1h1m14 0h1m19 0h1m9 0h1m10 0h1m1 0h1m3 0h1m-120 1h1m7 0h1m18 0h1m44 0h1m15 0h1m13 0h1m7 0h2m1 0h1m4 0h1m2 0h2m-159 1h1m1 0h1m90 0h2m26 0h1m3 0h1m7 0h1m5 0h1m6 0h1m1 0h1m1 0h3m2 0h1m1 0h1m1 0h1m-159 1h1m33 0h1m53 0h1m39 0h1m3 0h1m6 0h1m13 0h1m1 0h2m3 0h1m7 0h1m6 0h1m-178 1h1m28 0h1m2 0h1m2 0h1m1 0h2m45 0h1m6 0h1m29 0h1m3 0h1m3 0h1m11 0h1m2 0h1m3 0h1m1 0h1m3 0h1m5 0h1m7 0h1m9 0h1m-151 1h2m3 0h1m5 0h1m49 0h1m2 0h1m19 0h1m7 0h1m3 0h1m4 0h1m25 0h1m-150 1h1m4 0h1m1 0h2m2 0h1m9 0h1m3 0h1m6 0h1m45 0h1m21 0h1m5 0h1m5 0h1m1 0h1m2 0h1m2 0h1m29 0h2m-157 1h1m5 0h1m5 0h1m5 0h1m11 0h1m5 0h1m1 0h1m31 0h1m3 0h1m4 0h1m1 0h1m43 0h1m26 0h2m5 0h1m2 0h1m-159 1h1m1 0h1m1 0h2m3 0h1m2 0h2m11 0h1m3 0h1m4 0h1m9 0h1m2 0h1m20 0h1m10 0h1m2 0h1m25 0h1m3 0h1m8 0h1m34 0h2m9 0h1m-169 1h1m5 0h1m33 0h1m5 0h1m7 0h1m12 0h1m39 0h1m10 0h2m2 0h1m22 0h2m8 0h1m10 0h1m-156 1h1m1 0h1m24 0h1m5 0h1m10 0h1m19 0h1m6 0h2m10 0h2m4 0h1m12 0h1m-114 1h1m5 0h1m25 0h4m5 0h1m11 0h1m16 0h1m29 0h1m7 0h1m40 0h1m3 0h1m-152 1h2m2 0h2m21 0h1m5 0h1m34 0h1m19 0h1m5 0h1m14 0h1m3 0h1m42 0h1m-157 1h1m16 0h1m4 0h1m6 0h1m11 0h1m2 0h1m4 0h1m21 0h1m16 0h1m25 0h1m34 0h1m3 0h1m-139 1h1m25 0h1m1 0h1m10 0h2m16 0h2m4 0h1m12 0h3m9 0h1m47 0h2m-140 1h2m1 0h1m27 0h3m3 0h1m2 0h2m2 0h1m15 0h1m11 0h1m9 0h1m52 0h1m2 0h1m2 0h1m-157 1h1m42 0h1m15 0h1m14 0h1m20 0h1m1 0h1m52 0h1m-147 1h1m10 0h1m20 0h1m8 0h1m6 0h1m31 0h1m10 0h1m-83 1h1m41 0h1m24 0h1m2 0h2m9 0h1m9 0h1m1 0h1m-93 1h1m31 0h1m1 0h2m1 0h1m29 0h2m2 0h1m7 0h1m21 0h1m-117 1h1m13 0h2m59 0h1m22 0h1m7 0h1m-91 1h1m33 0h1m1 0h2m6 0h1m38 0h1m6 0h1m3 0h1m3 0h1m-41 1h2m10 0h1m21 0h1m6 0h1m17 0h1m2 0h1m-88 1h1m26 0h1m5 0h1m2 0h1m-81 1h1m40 0h1m4 0h1m1 0h1m32 0h1m70 0h1m-130 1h1m24 0h1m4 0h1m13 0h1m9 0h1m36 0h1m11 0h1m-114 1h1m33 0h1m8 0h1m41 0h1m9 0h1m17 0h1m23 0h1m-139 1h1m2 0h1m21 0h1m60 0h1m8 0h1m2 0h2m-90 1h2m25 0h1m53 0h1m7 0h1m2 0h1m32 0h1m-137 1h1m5 0h2m21 0h1m70 0h1m36 0h2m-142 1h3m2 0h1m5 0h1m15 0h1m3 0h1m6 0h1m51 0h1m1 0h2m25 0h1m4 0h1m3 0h1m2 0h1m8 0h1m-142 1h1m3 0h1m9 0h1m19 0h1m2 0h1m6 0h1m11 0h2m14 0h1m1 0h1m2 0h1m9 0h2m8 0h1m-101 1h2m40 0h1m1 0h1m57 0h1m8 0h1m6 0h1m7 0h1m1 0h1m-129 1h2m2 0h1m2 0h3m31 0h2m50 0h2m8 0h1m4 0h1m-111 1h1m1 0h1m4 0h1m3 0h1m2 0h1m20 0h1m16 0h1m30 0h2m11 0h2m1 0h1m7 0h1m4 0h1m13 0h1m-126 1h1m1 0h2m3 0h1m1 0h1m4 0h1m65 0h1m3 0h1m21 0h1m2 0h1m4 0h1m9 0h1m1 0h1m2 0h1m-124 1h1m5 0h1m35 0h1m14 0h1m1 0h1m17 0h1m6 0h1m12 0h2m4 0h1m14 0h1m-118 1h1m4 0h1m30 0h1m1 0h1m24 0h1m5 0h1m4 0h1m2 0h1m26 0h1m15 0h1m-125 1h1m10 0h1m3 0h1m29 0h1m7 0h1m15 0h1m8 0h1m16 0h1m3 0h1m18 0h1m4 0h1m-105 1h1m51 0h1m3 0h1m14 0h1m11 0h1m5 0h1m10 0h1m7 0h1m1 0h1m-104 1h1m33 0h2m8 0h1m10 0h1m3 0h1m14 0h1m5 0h1m1 0h2m9 0h1m7 0h1m-117 1h1m12 0h1m15 0h1m14 0h1m4 0h2m1 0h2m13 0h1m17 0h1m3 0h1m3 0h1m18 0h1m-117 1h1m10 0h1m1 0h1m2 0h1m16 0h1m30 0h1m9 0h1m10 0h1m10 0h1m1 0h1m22 0h1m-119 1h1m32 0h1m4 0h1m3 0h1m27 0h1m8 0h1m5 0h1m12 0h1m12 0h1m6 0h2m-122 1h1m31 0h2m7 0h1m10 0h1m2 0h1m2 0h1m36 0h1m-96 1h1m9 0h1m1 0h2m6 0h1m2 0h1m9 0h1m23 0h1m2 0h1m17 0h1m1 0h1m8 0h1m8 0h1m-94 1h1m3 0h1m12 0h1m9 0h1m4 0h1m2 0h1m10 0h1m21 0h1m19 0h1m-86 1h1m3 0h2m5 0h1m17 0h1m37 0h1m19 0h1m3 0h1m5 0h1m-99 1h1m10 0h1m6 0h3m54 0h1m30 0h1m1 0h1m-112 1h1m5 0h2m24 0h1m4 0h1m35 0h1m7 0h1m1 0h1m4 0h1m4 0h1m-94 1h2m5 0h1m18 0h1m6 0h1m28 0h1m3 0h1m5 0h1m16 0h1m4 0h1m1 0h1m-100 1h1m11 0h1m39 0h1m16 0h3m1 0h1m6 0h1m20 0h1m9 0h1m-105 1h1m4 0h1m27 0h1m10 0h1m11 0h2m3 0h1m6 0h2m6 0h1m3 0h1m7 0h1m-91 1h1m10 0h1m5 0h1m3 0h2m4 0h1m5 0h1m13 0h1m10 0h1m17 0h2m24 0h1m-105 1h1m16 0h1m15 0h2m5 0h1m22 0h1m36 0h1m-112 1h1m23 0h1m2 0h1m14 0h1m20 0h1m5 0h1m38 0h1m4 0h1m-86 1h1m35 0h1m23 0h1m3 0h1m3 0h1m10 0h2m2 0h1m-95 1h1m3 0h1m4 0h1m4 0h2m3 0h1m1 0h1m2 0h1m28 0h1m2 0h1m1 0h1m8 0h2m21 0h1m-109 1h1m11 0h1m14 0h1m4 0h1m7 0h1m3 0h1m4 0h1m2 0h1m5 0h1m6 0h1m6 0h1m-72 1h1m37 0h1m5 0h1m5 0h1m3 0h1m6 0h1m9 0h1m2 0h1m3 0h1m22 0h1m3 0h1m-76 1h2m13 0h1m8 0h1m8 0h1m11 0h2m20 0h1m3 0h1m-5 1h1m-73 1h1m6 0h1m19 0h1m-28 1h1m7 0h1m13 0h1m1 1h1m3 0h1m4 0h1m1 0h1m-46 1h1m1 0h1m6 0h1m5 0h3m13 0h1m2 0h1m3 0h1m-32 1h1m23 0h1m-27 1h1m13 0h1m-23 1h1m8 0h1m3 0h1m6 0h1m-20 1h1m6 0h1m19 0h1m-27 1h1m5 0h1m4 0h2m7 0h1m-25 1h1m1 0h1m11 0h1m1 0h1m-8 1h2m-5 2h1m3 0h1"/>
<path stroke="#32658e" d="M171 3.5h1m-14 1h1m-3 2h1m15 0h1m-29 3h1m16 1h1m4 0h1m7 0h1m10 0h1m-15 1h1m-14 1h1m2 0h1m-5 1h1m18 0h1m-25 1h1m15 0h2m-31 1h2m17 0h1m-21 1h1m7 0h1m21 0h1m1 0h1m9 0h1m-15 1h1m10 0h1m-24 1h1m24 0h1m-36 1h1m3 0h1m24 0h1m7 0h1m3 1h2m-46 1h1m10 1h1m28 0h1m-26 1h1m0 1h1m-1 1h1m25 0h1m-34 1h1m6 0h1m15 0h3m-46 1h1m20 0h2m14 0h1m8 0h1m-29 1h1m1 0h1m17 0h1m-43 1h1m27 0h1m21 1h1m-48 1h1m43 0h1m-8 1h1m-29 1h2m8 0h1m-4 1h1m5 0h1m-34 1h1m35 0h1m13 0h1m12 0h1m-54 1h1m13 0h1m11 0h1m10 0h1m21 0h1m-54 1h1m7 0h1m-7 1h2m2 0h1m1 0h1m4 1h1m-18 1h1m12 0h1m1 0h1m5 0h1m4 0h1m34 0h1m-62 1h1m9 0h1m8 0h2m-18 1h1m7 0h1m4 0h2m42 0h1m-59 1h1m17 0h1m-12 1h1m6 0h1m-16 1h1m10 0h1m3 0h1m1 0h1m1 0h1m-21 1h1m5 0h1m2 0h1m2 0h1m-88 1h1m81 0h1m5 0h1m-12 1h1m1 0h1m1 0h1m21 0h1m9 0h2m-112 1h1m47 0h1m9 0h2m16 0h1m-24 1h1m1 0h1m28 0h1m1 0h1m25 0h1m-63 1h1m2 0h2m19 0h1m11 0h1m-43 1h1m6 0h1m35 0h1m4 0h1m2 0h1m17 0h1m-69 1h1m26 0h1m3 0h1m10 0h1m9 0h1m-78 1h1m75 0h2m6 0h1m4 0h1m-40 1h1m2 0h2m7 0h1m11 0h1m11 0h1m-39 1h1m3 0h1m1 0h1m24 0h1m-36 1h1m7 0h2m-81 1h1m46 0h1m42 0h1m21 0h1m4 0h1m32 0h1m-105 1h1m4 0h1m49 0h1m12 0h1m-74 1h1m49 0h1m21 0h1m37 0h1m-61 1h1m2 0h2m1 0h1m10 0h4m-100 1h1m56 0h1m26 0h1m2 0h2m3 0h1m-55 1h1m3 0h1m8 0h1m5 0h1m16 0h1m7 0h1m8 0h1m2 0h1m-57 1h1m6 0h1m3 0h1m24 0h1m19 0h1m6 0h1m-109 1h1m47 0h1m3 0h1m9 0h1m6 0h1m10 0h1m9 0h2m14 0h1m31 0h1m-146 1h1m1 0h1m49 0h1m30 0h1m2 0h1m6 0h1m5 0h1m22 0h1m1 0h1m5 0h1m-122 1h1m62 0h1m1 0h1m5 0h1m5 0h1m6 0h2m24 0h1m6 0h1m-119 1h1m49 0h1m35 0h1m3 0h1m5 0h1m14 0h1m-37 1h1m1 0h2m28 0h1m5 0h1m-112 1h1m80 0h1m4 0h1m5 0h1m13 0h1m6 0h1m24 0h1m-140 1h1m2 0h2m2 0h1m36 0h1m6 0h1m12 0h1m9 0h1m2 0h1m10 0h1m1 0h1m1 0h1m1 0h1m13 0h1m4 0h1m23 0h1m-149 1h1m60 0h1m2 0h1m13 0h1m4 0h1m10 0h1m2 0h1m6 0h2m5 0h1m5 0h1m3 0h1m28 0h1m-77 1h1m22 0h2m2 0h3m7 0h1m1 0h2m10 0h1m3 0h1m-67 1h1m19 0h1m6 0h1m4 0h1m21 0h1m3 0h1m27 0h1m-143 1h1m45 0h1m8 0h1m17 0h1m11 0h1m4 0h1m2 0h1m4 0h1m8 0h1m3 0h1m1 0h1m28 0h1m-145 1h1m4 0h1m1 0h1m73 0h1m10 0h1m5 0h1m8 0h2m-105 1h1m51 0h1m15 0h2m14 0h1m2 0h2m6 0h1m10 0h1m10 0h1m19 0h1m-145 1h1m44 0h1m18 0h1m6 0h1m2 0h1m2 0h1m8 0h1m4 0h2m4 0h2m2 0h1m11 0h1m-65 1h1m24 0h1m1 0h1m12 0h1m9 0h1m12 0h1m8 0h1m14 0h2m-145 1h1m57 0h1m35 0h1m1 0h1m1 0h1m22 0h1m9 0h1m-131 1h2m4 0h1m50 0h1m1 0h1m2 0h1m38 0h2m10 0h1m12 0h2m3 0h1m2 0h1m1 0h1m-167 1h1m31 0h1m2 0h1m43 0h1m33 0h1m1 0h1m40 0h1m1 0h1m10 0h1m8 0h1m-179 1h1m4 0h1m12 0h1m11 0h1m2 0h1m58 0h1m23 0h1m4 0h1m27 0h1m12 0h1m9 0h1m-173 1h1m4 0h1m4 0h1m4 0h1m18 0h2m15 0h1m24 0h2m38 0h3m43 0h1m6 0h1m-169 1h1m25 0h1m10 0h1m20 0h1m21 0h1m10 0h1m4 0h1m21 0h2m-121 1h1m10 0h1m2 0h2m16 0h1m19 0h1m34 0h1m66 0h1m-152 1h2m8 0h1m2 0h1m16 0h1m9 0h1m9 0h1m22 0h1m15 0h1m56 0h1m4 0h1m-144 1h1m43 0h1m3 0h1m27 0h1m6 0h1m5 0h1m10 0h1m43 0h1m12 0h1m1 0h1m-167 1h1m3 0h1m4 0h1m12 0h1m7 0h1m7 0h3m2 0h2m1 0h1m4 0h1m4 0h2m7 0h1m27 0h1m13 0h1m2 0h1m2 0h1m3 0h1m27 0h1m-145 1h1m21 0h1m1 0h1m16 0h1m1 0h1m13 0h1m10 0h1m13 0h1m1 0h1m3 0h1m1 0h1m21 0h1m4 0h1m26 0h1m11 0h1m-138 1h1m3 0h1m5 0h1m18 0h1m1 0h1m3 0h1m36 0h1m3 0h1m9 0h1m7 0h1m31 0h1m-146 1h1m15 0h1m11 0h1m20 0h2m2 0h1m35 0h1m1 0h1m55 0h1m-148 1h1m51 0h1m6 0h1m3 0h1m14 0h1m10 0h1m14 0h1m45 0h1m5 0h1m1 0h1m2 0h1m-160 1h1m37 0h1m2 0h1m2 0h1m1 0h1m8 0h1m6 0h2m24 0h1m18 0h2m1 0h1m2 0h1m-101 1h2m26 0h1m50 0h2m10 0h1m1 0h1m-109 1h1m11 0h1m38 0h1m5 0h1m17 0h2m-28 1h1m14 0h1m10 0h1m1 0h1m4 0h1m2 0h1m7 0h1m1 0h1m1 0h1m-63 1h1m2 0h1m33 0h1m2 0h1m1 0h1m21 0h1m14 0h1m1 0h1m14 0h1m2 0h1m-55 1h1m1 0h1m17 0h1m2 0h2m3 0h1m21 0h1m2 0h1m2 0h1m-45 1h1m8 0h2m6 0h1m23 0h3m-121 1h1m31 0h1m23 0h1m4 0h1m32 0h1m25 0h1m-34 1h1m8 0h1m19 0h1m1 0h1m-93 1h1m30 0h2m14 0h1m17 0h1m1 0h1m4 0h1m21 0h1m3 0h1m1 0h1m6 0h1m-130 1h1m4 0h1m5 0h1m11 0h1m12 0h1m52 0h1m3 0h1m14 0h1m26 0h1m-112 1h1m23 0h1m37 0h1m4 0h1m26 0h1m16 0h1m-116 1h1m13 0h1m46 0h1m7 0h1m26 0h1m-118 1h1m32 0h1m10 0h1m19 0h1m3 0h3m24 0h1m-102 1h2m8 0h1m2 0h1m63 0h1m15 0h1m7 0h1m15 0h2m6 0h1m-121 1h1m26 0h1m7 0h2m32 0h1m1 0h1m11 0h1m7 0h1m3 0h1m4 0h1m14 0h1m-101 1h1m20 0h1m18 0h1m14 0h1m10 0h1m3 0h1m10 0h1m22 0h1m-126 1h1m1 0h1m30 0h1m1 0h1m8 0h2m30 0h1m2 0h1m17 0h1m30 0h2m-134 1h1m10 0h1m52 0h1m21 0h1m12 0h1m-88 1h1m14 0h1m4 0h1m24 0h1m2 0h1m6 0h1m3 0h1m1 0h1m10 0h1m11 0h1m1 0h2m6 0h1m-106 1h1m3 0h1m8 0h1m37 0h1m11 0h1m16 0h1m4 0h2m29 0h1m1 0h1m8 0h1m-43 1h1m4 0h2m2 0h1m13 0h2m13 0h1m-101 1h1m6 0h2m29 0h1m1 0h1m2 0h1m13 0h1m14 0h1m37 0h1m-113 1h1m3 0h1m21 0h2m10 0h1m8 0h2m5 0h1m1 0h1m1 0h1m7 0h1m33 0h1m11 0h1m-123 1h1m5 0h1m2 0h2m31 0h1m9 0h1m6 0h1m10 0h1m17 0h1m10 0h1m-100 1h1m23 0h1m10 0h1m10 0h1m6 0h1m4 0h1m6 0h1m2 0h1m1 0h1m13 0h1m2 0h1m-91 1h1m7 0h1m34 0h1m12 0h1m17 0h1m17 0h1m3 0h1m-97 1h1m4 0h1m45 0h2m8 0h1m13 0h1m4 0h1m-53 1h1m12 0h1m9 0h1m41 0h1m2 0h1m1 0h1m-102 1h1m6 0h1m3 0h1m10 0h1m1 0h1m2 0h1m1 0h1m4 0h1m21 0h1m3 0h1m3 0h1m19 0h1m1 0h1m-58 1h1m2 0h1m10 0h1m14 0h1m3 0h1m25 0h1m29 0h2m-112 1h1m1 0h1m3 0h1m11 0h1m13 0h1m15 0h1m33 0h1m11 0h1m-91 1h1m5 0h1m40 0h1m10 0h1m45 0h1m-106 1h1m13 0h1m1 0h1m8 0h1m22 0h1m4 0h1m13 0h1m2 0h2m7 0h1m3 0h1m19 0h1m1 0h1m-101 1h1m5 0h1m10 0h1m1 0h1m10 0h2m11 0h1m28 0h1m4 0h1m-81 1h1m1 0h1m9 0h1m6 0h1m4 0h1m10 0h1m25 0h1m11 0h1m-78 1h1m7 0h1m17 0h1m13 0h1m17 0h1m22 0h1m2 0h1m12 0h2m1 0h1m-100 1h1m11 0h1m6 0h1m2 0h1m13 0h1m8 0h1m51 0h1m1 0h1m-85 1h2m4 0h1m2 0h1m7 0h1m3 0h1m4 0h1m10 0h1m23 0h1m2 0h1m2 0h1m14 0h1m-114 1h1m45 0h1m2 0h1m2 0h1m17 0h1m9 0h1m3 0h1m1 0h2m9 0h1m11 0h1m-106 1h1m6 0h1m54 0h1m32 0h1m1 0h1m6 0h1m-96 1h1m3 0h1m14 0h1m19 0h1m2 0h1m6 0h3m19 0h1m14 0h1m3 0h1m-100 1h1m16 0h2m23 0h1m11 0h2m6 0h1m6 0h1m5 0h1m3 0h1m22 0h1m3 0h1m-92 1h1m9 0h1m1 0h1m17 0h1m2 0h1m21 0h1m-71 1h1m28 0h1m14 0h1m7 0h1m22 0h1m15 0h1m-69 1h1m4 0h1m37 0h1m11 0h1m-67 1h1m28 0h1m27 0h1m-51 1h1m8 0h1m4 0h1m5 0h1m9 0h2m3 0h1m16 0h1m-52 1h1m15 0h1m16 0h1m-39 1h1m7 0h1m11 0h1m6 0h1m10 0h1m-28 1h1m14 0h1m1 0h1m-36 1h1m4 0h1m18 0h1m9 0h1m-33 1h1m10 0h1m5 0h2m-9 1h1m1 0h1m-11 1h1m4 0h2m3 0h1m3 0h1m-8 2h1m-5 2h3"/>
<path stroke="#2a768e" d="M158 2.5h1m-3 1h1m16 0h1m-4 1h1m12 2h1m-31 1h1m0 4h1m14 1h1m4 0h1m-34 1h2m7 0h1m26 2h1m-20 1h1m20 0h1m-26 1h1m10 0h1m15 0h2m-49 1h1m-3 1h1m36 1h1m8 1h1m7 0h1m-49 1h1m11 0h1m36 0h1m-30 1h1m8 0h1m3 1h1m-3 1h1m14 0h1m-33 1h1m3 0h1m21 4h1m-28 1h1m26 0h1m-12 1h1m12 0h1m-32 3h1m-10 1h1m4 0h1m5 0h1m-13 1h1m6 0h1m4 0h1m1 0h1m1 0h1m1 0h1m-41 1h1m13 0h1m15 0h1m39 0h1m-52 1h2m3 0h2m-8 1h1m25 0h1m-31 1h1m6 0h1m-23 1h1m26 0h1m5 0h2m7 0h1m29 0h1m-55 1h1m4 0h2m12 0h1m10 0h1m-50 1h1m14 1h1m1 0h1m3 0h2m5 0h1m3 0h1m5 0h1m10 0h1m1 0h1m21 0h1m-54 1h1m5 0h1m4 0h1m-15 1h1m18 0h1m16 0h1m-41 1h1m1 0h1m7 0h1m31 0h1m-42 1h1m9 0h2m1 0h1m1 0h1m1 0h1m21 0h1m-57 1h1m26 0h1m-35 1h2m35 0h2m10 0h1m-54 1h1m42 0h1m9 0h1m-20 1h1m18 0h1m4 0h1m2 0h1m2 0h2m-62 1h1m52 0h1m-32 1h1m2 0h1m7 0h1m16 0h1m-107 1h1m79 0h1m5 0h2m19 0h1m-106 1h2m45 0h1m2 0h1m25 0h1m34 0h2m-65 1h1m5 0h1m16 0h1m17 0h1m2 0h1m16 0h2m-55 1h1m7 0h1m21 0h1m2 0h1m8 0h1m5 0h1m2 0h1m1 0h1m34 0h1m-144 1h1m49 0h1m17 0h1m11 0h1m6 0h1m1 0h1m8 0h2m2 0h2m1 0h1m3 0h1m-58 1h1m28 0h1m15 0h2m7 0h1m6 0h2m33 0h1m1 0h1m-150 1h1m2 0h1m39 0h1m59 0h1m8 0h1m35 0h1m-110 1h1m37 0h1m9 0h2m4 0h1m16 0h1m32 0h1m-102 1h1m39 0h1m5 0h1m3 0h1m16 0h1m-109 1h1m42 0h1m11 0h1m4 0h3m5 0h1m8 0h1m2 0h2m4 0h2m1 0h1m9 0h1m6 0h1m-62 1h1m2 0h1m1 0h1m28 0h1m2 0h1m4 0h1m1 0h1m10 0h1m10 0h2m10 0h2m-60 1h1m14 0h1m10 0h1m1 0h1m14 0h1m11 0h1m-110 1h1m57 0h1m8 0h1m1 0h1m1 0h1m24 0h1m4 0h2m20 0h1m2 0h1m-145 1h1m53 0h1m19 0h1m21 0h1m21 0h2m2 0h1m2 0h1m-109 1h1m46 0h1m4 0h1m31 0h1m22 0h1m1 0h1m-125 1h1m61 0h1m1 0h1m2 0h1m12 0h1m1 0h1m1 0h1m2 0h1m1 0h1m4 0h1m25 0h1m-122 1h1m9 0h1m48 0h1m7 0h1m16 0h1m16 0h2m14 0h1m1 0h1m1 0h1m-63 1h1m14 0h2m1 0h1m4 0h1m7 0h1m1 0h2m12 0h2m8 0h1m5 0h1m-111 1h1m44 0h1m20 0h1m11 0h1m10 0h1m13 0h1m5 0h2m1 0h1m2 0h1m-110 1h1m73 0h1m4 0h1m10 0h1m7 0h1m8 0h1m-121 1h1m1 0h1m33 0h1m22 0h1m12 0h1m13 0h1m8 0h1m2 0h1m2 0h1m3 0h1m3 0h3m4 0h1m14 0h1m-130 1h1m65 0h1m28 0h1m4 0h4m1 0h1m-117 1h1m2 0h1m9 0h1m1 0h1m3 0h1m47 0h1m12 0h2m1 0h2m8 0h1m5 0h1m14 0h2m5 0h1m-118 1h1m78 0h1m15 0h1m1 0h1m12 0h1m4 0h1m18 0h1m11 0h1m-147 1h1m1 0h1m72 0h1m10 0h1m6 0h1m3 0h2m13 0h1m1 0h1m2 0h1m-150 1h1m92 0h1m27 0h1m-124 1h1m28 0h2m2 0h1m2 0h1m46 0h2m24 0h1m20 0h1m15 0h1m4 0h1m6 0h2m-133 1h2m5 0h1m45 0h1m9 0h1m1 0h1m20 0h1m9 0h1m22 0h1m3 0h2m5 0h1m1 0h1m10 0h1m-166 1h1m78 0h1m3 0h1m6 0h2m24 0h1m-121 1h1m3 0h1m1 0h1m2 0h2m38 0h1m41 0h1m12 0h1m9 0h1m46 0h1m-155 1h1m6 0h1m34 0h1m20 0h1m15 0h1m1 0h1m7 0h1m13 0h1m4 0h3m1 0h1m39 0h1m-148 1h1m39 0h1m56 0h2m9 0h1m42 0h1m-160 1h4m20 0h1m1 0h2m10 0h1m7 0h1m7 0h1m12 0h1m2 0h1m3 0h1m7 0h1m6 0h1m23 0h1m4 0h1m-94 1h1m3 0h1m15 0h1m24 0h1m43 0h1m-68 1h1m6 0h2m13 0h1m15 0h2m22 0h2m4 0h1m-96 1h1m2 0h1m18 0h1m5 0h1m2 0h1m17 0h1m4 0h1m10 0h1m11 0h2m3 0h1m-56 1h1m23 0h2m29 0h1m9 0h1m1 0h1m42 0h1m-111 1h1m11 0h1m13 0h1m11 0h1m61 0h1m-136 1h1m27 0h1m5 0h1m2 0h1m5 0h1m30 0h1m18 0h1m49 0h2m-159 1h2m12 0h1m43 0h2m3 0h1m29 0h1m-77 1h1m29 0h1m5 0h1m7 0h1m17 0h1m4 0h1m9 0h1m9 0h2m3 0h2m40 0h1m6 0h1m-131 1h1m19 0h2m7 0h1m22 0h1m3 0h1m8 0h1m16 0h1m2 0h1m-70 1h1m3 0h1m12 0h1m12 0h1m7 0h1m28 0h2m20 0h1m-84 1h1m20 0h1m25 0h1m1 0h2m32 0h1m-89 1h1m49 0h1m5 0h1m-62 1h3m4 0h1m3 0h1m3 0h1m27 0h1m12 0h1m18 0h2m18 0h1m-93 1h1m67 0h1m3 0h1m1 0h1m32 0h1m-126 1h1m9 0h1m35 0h1m4 0h1m17 0h1m13 0h1m23 0h1m12 0h1m4 0h1m-122 1h1m8 0h3m13 0h1m2 0h1m17 0h1m12 0h1m11 0h1m4 0h1m31 0h1m-96 1h2m5 0h1m10 0h1m2 0h2m19 0h1m1 0h1m15 0h3m11 0h1m-101 1h1m3 0h1m3 0h1m11 0h1m5 0h1m24 0h2m17 0h1m11 0h1m1 0h1m10 0h1m5 0h1m-103 1h2m75 0h1m32 0h1m-110 1h1m11 0h1m23 0h1m33 0h2m3 0h1m8 0h1m3 0h1m6 0h1m4 0h1m-107 1h2m11 0h1m1 0h1m5 0h1m14 0h1m43 0h1m-81 1h2m12 0h1m64 0h1m1 0h1m5 0h1m2 0h1m9 0h1m2 0h1m3 0h1m8 0h1m-118 1h3m7 0h1m1 0h1m40 0h1m17 0h2m15 0h1m-87 1h1m5 0h1m22 0h1m1 0h1m11 0h1m3 0h1m7 0h1m11 0h1m20 0h1m19 0h1m21 0h1m-134 1h1m2 0h1m3 0h1m47 0h1m10 0h1m18 0h1m5 0h1m19 0h1m14 0h1m1 0h1m-112 1h1m9 0h1m26 0h1m1 0h1m11 0h1m29 0h1m3 0h3m-93 1h1m30 0h1m54 0h1m7 0h1m21 0h1m-127 1h1m19 0h1m4 0h1m37 0h1m4 0h1m30 0h1m9 0h1m-104 1h2m11 0h1m39 0h1m3 0h1m2 0h1m2 0h1m28 0h1m29 0h1m-111 1h1m10 0h1m12 0h1m1 0h1m5 0h1m6 0h1m17 0h1m12 0h1m6 0h1m5 0h1m18 0h1m-115 1h1m1 0h1m4 0h1m10 0h1m5 0h1m2 0h1m16 0h1m9 0h1m30 0h1m-65 1h1m11 0h2m3 0h1m4 0h1m18 0h1m7 0h1m7 0h1m8 0h1m11 0h1m-87 1h2m7 0h1m22 0h1m28 0h1m11 0h2m-85 1h1m2 0h1m21 0h1m5 0h1m1 0h1m1 0h1m21 0h1m16 0h1m23 0h1m-76 1h1m2 0h1m71 0h1m-85 1h1m6 0h1m7 0h1m4 0h1m19 0h1m17 0h1m23 0h1m-77 1h1m17 0h1m8 0h1m21 0h1m3 0h1m5 0h1m-84 1h1m8 0h1m6 0h1m1 0h1m6 0h1m4 0h1m6 0h2m13 0h1m9 0h1m36 0h1m9 0h1m6 0h1m-96 1h1m5 0h1m29 0h1m9 0h1m20 0h1m-52 1h1m14 0h3m13 0h1m12 0h1m29 0h1m-105 1h1m43 0h1m5 0h1m16 0h1m3 0h1m13 0h1m-101 1h1m19 0h1m4 0h1m7 0h1m6 0h1m13 0h1m3 0h1m2 0h1m34 0h1m1 0h1m19 0h1m1 0h1m-90 1h1m11 0h1m12 0h2m1 0h1m4 0h1m53 0h1m-118 1h1m24 0h1m7 0h1m2 0h1m2 0h1m15 0h1m9 0h1m4 0h1m2 0h1m25 0h1m15 0h1m-112 1h1m1 0h1m20 0h1m6 0h1m4 0h1m1 0h1m3 0h1m13 0h1m8 0h1m7 0h1m6 0h1m-83 1h1m20 0h1m9 0h2m4 0h1m8 0h1m1 0h1m15 0h1m18 0h3m2 0h1m-60 1h1m7 0h1m11 0h1m19 0h1m8 0h1m21 0h1m-69 1h1m4 0h1m13 0h1m56 0h1m-80 1h1m10 0h1m8 0h1m12 0h1m19 0h1m-42 1h1m6 0h1m32 0h1m-66 1h1m11 0h1m18 0h1m-22 1h1m2 0h1m2 0h1m-7 1h1m19 0h1m2 0h1m6 0h1m-26 1h1m28 0h1m-42 1h1m3 0h1m12 0h1m-18 1h1m22 1h1m1 0h1m1 0h1m-6 1h1m-7 1h1m-12 1h1m0 1h1m-9 1h1m6 0h1m-8 1h1m3 0h1"/>
<path stroke="#24878e" d="M157 2.5h1m1 0h1m2 0h1m16 2h1m3 1h1m-9 2h1m-31 1h1m24 1h1m-2 2h2m-11 1h1m-1 1h1m17 0h1m-38 1h1m26 1h1m7 0h1m-1 2h1m2 0h1m-13 1h1m14 0h1m1 0h1m-18 1h1m4 0h1m-34 3h1m45 0h1m-55 1h1m5 0h1m46 0h1m-31 1h1m3 0h1m7 1h1m19 0h1m-36 1h1m31 0h1m-55 1h1m36 0h1m-22 1h1m1 0h1m12 0h1m0 1h1m7 0h1m-44 1h1m35 0h1m-9 1h1m-34 1h1m57 0h1m-39 1h1m3 0h1m20 0h2m-29 1h2m5 0h1m-5 1h3m2 0h1m11 0h1m11 0h1m-19 1h1m-19 1h1m1 0h1m6 0h2m16 0h1m-25 1h1m20 0h1m4 0h1m-34 1h3m19 0h1m-15 1h2m6 0h1m10 1h1m-15 1h1m11 0h1m4 0h3m-22 1h1m2 0h1m1 0h1m7 0h3m1 0h1m-27 1h1m2 0h1m3 0h1m4 0h1m8 0h1m2 0h2m-31 1h1m12 0h1m9 0h1m13 0h1m-34 1h1m1 0h1m12 0h1m11 0h1m3 0h1m1 0h2m22 0h1m-43 1h1m19 0h1m-64 1h1m13 0h1m12 0h1m3 0h1m1 0h1m4 0h1m3 0h1m-2 1h1m5 0h1m7 0h1m9 0h2m-31 1h1m4 0h2m13 0h1m-30 1h1m2 0h1m2 0h2m7 0h1m4 0h1m3 0h1m2 0h1m-21 1h1m8 0h1m3 0h2m5 0h1m1 0h1m5 0h1m-28 1h1m4 0h1m7 0h1m-46 1h1m27 0h1m1 0h1m1 0h1m19 0h1m1 0h1m4 0h1m-33 1h1m1 0h1m16 0h2m5 0h1m2 0h1m4 0h1m-66 1h1m37 0h1m11 0h2m3 0h1m3 0h1m3 0h1m-59 1h1m49 0h1m2 0h1m4 0h1m-60 1h1m22 0h1m11 0h1m5 0h1m1 0h1m15 0h1m-64 1h2m15 0h1m2 0h2m9 0h1m6 0h1m8 0h1m3 0h1m6 0h1m1 0h1m38 0h1m-99 1h1m29 0h1m1 0h2m14 0h1m3 0h1m2 0h2m-110 1h1m46 0h1m41 0h1m12 0h1m3 0h1m-107 1h1m51 0h1m13 0h1m1 0h1m24 0h1m3 0h1m8 0h3m1 0h1m36 0h1m-103 1h1m6 0h1m34 0h2m8 0h2m10 0h1m4 0h1m-69 1h1m21 0h1m3 0h1m8 0h1m5 0h1m3 0h1m3 0h1m6 0h1m7 0h1m-64 1h1m30 0h2m6 0h1m18 0h2m6 0h2m18 0h1m-82 1h1m17 0h1m46 0h1m-45 1h2m6 0h1m36 0h1m6 0h1m-116 1h1m67 0h1m3 0h1m8 0h1m5 0h1m43 0h1m-145 1h1m12 0h2m45 0h1m6 0h1m9 0h1m1 0h1m9 0h1m4 0h1m-85 1h1m47 0h3m9 0h1m7 0h1m1 0h1m7 0h1m6 0h2m22 0h2m7 0h1m19 0h1m-137 1h1m44 0h1m6 0h1m11 0h1m16 0h1m2 0h2m5 0h1m5 0h2m38 0h1m-142 1h1m3 0h1m43 0h1m5 0h1m2 0h1m8 0h1m5 0h1m9 0h3m4 0h1m14 0h1m10 0h1m-111 1h1m64 0h1m7 0h1m4 0h1m2 0h1m16 0h1m8 0h2m25 0h1m1 0h1m-149 1h1m56 0h1m15 0h1m13 0h1m8 0h1m7 0h1m2 0h1m1 0h1m6 0h2m7 0h1m-125 1h1m1 0h1m8 0h1m61 0h1m6 0h1m3 0h2m2 0h1m23 0h1m3 0h1m2 0h1m20 0h1m-140 1h1m9 0h1m60 0h1m1 0h1m9 0h1m11 0h1m9 0h1m13 0h1m-61 1h1m1 0h1m26 0h1m26 0h1m17 0h1m-139 1h1m95 0h1m10 0h2m2 0h1m23 0h1m12 0h1m-148 1h1m61 0h1m10 0h1m5 0h1m19 0h1m10 0h1m23 0h1m-139 1h1m55 0h1m32 0h1m9 0h1m1 0h1m16 0h1m4 0h1m14 0h1m-167 1h1m82 0h1m21 0h2m2 0h1m1 0h1m6 0h1m2 0h1m2 0h1m19 0h2m5 0h1m4 0h1m-156 1h1m140 0h1m8 0h2m2 0h1m-154 1h1m85 0h1m11 0h1m8 0h1m36 0h1m1 0h1m18 0h1m-166 1h1m9 0h1m23 0h1m70 0h1m13 0h1m23 0h1m1 0h1m1 0h1m-148 1h1m10 0h1m67 0h1m6 0h1m57 0h1m19 0h2m-164 1h1m74 0h1m14 0h1m9 0h1m8 0h1m36 0h1m3 0h1m3 0h1m-153 1h1m3 0h1m19 0h1m18 0h1m36 0h2m12 0h1m10 0h1m4 0h2m5 0h1m26 0h1m5 0h1m-106 1h1m12 0h1m5 0h1m4 0h1m21 0h1m13 0h1m2 0h1m3 0h1m33 0h1m-96 1h1m27 0h1m10 0h1m14 0h1m8 0h1m-80 1h1m5 0h1m1 0h1m2 0h1m33 0h1m1 0h1m12 0h1m-81 1h1m12 0h1m19 0h1m24 0h1m6 0h1m12 0h1m-40 1h1m19 0h2m3 0h1m5 0h1m6 0h1m9 0h1m47 0h1m2 0h1m-122 1h1m13 0h1m2 1h1m10 0h1m22 0h1m9 0h1m16 0h1m-100 1h1m4 0h1m27 0h1m15 0h2m11 0h1m4 0h1m29 0h1m3 0h1m32 0h1m-135 1h1m47 0h1m52 0h2m-74 1h1m11 0h1m2 0h1m42 0h1m-58 1h1m4 0h1m21 0h1m7 0h1m2 0h1m12 0h2m1 0h1m1 0h1m-86 1h1m28 0h1m6 0h1m41 0h1m7 0h1m3 0h1m8 0h1m-66 1h1m8 0h1m40 0h1m4 0h1m12 0h2m-77 1h1m9 0h1m3 0h1m16 0h1m12 0h1m3 0h1m-7 1h1m60 0h1m-116 1h1m5 0h1m5 0h1m12 0h1m38 0h1m7 0h1m13 0h1m35 0h1m-120 1h1m1 0h1m7 0h1m6 0h1m13 0h2m14 0h1m68 0h1m-114 1h1m13 0h1m17 0h1m21 0h1m-67 1h1m57 0h1m9 0h1m2 0h1m-73 1h1m19 0h1m6 0h1m14 0h1m23 0h1m8 0h1m12 0h1m38 0h1m-133 1h1m4 0h1m2 0h1m22 0h1m9 0h1m48 0h1m8 0h1m21 0h1m-125 1h1m7 0h1m4 0h1m13 0h1m5 0h1m14 0h1m2 0h1m6 0h1m32 0h1m19 0h2m-111 1h1m13 0h1m22 0h1m6 0h1m27 0h1m36 0h1m-94 1h1m44 0h1m6 0h2m5 0h1m10 0h1m2 0h1m2 0h1m5 0h1m4 0h1m-81 1h1m26 0h1m13 0h1m7 0h1m26 0h1m22 0h1m-85 1h1m21 0h1m8 0h1m3 0h1m2 0h1m6 0h3m42 0h1m-127 1h1m13 0h1m31 0h1m3 0h1m4 0h1m2 0h1m14 0h1m7 0h1m13 0h1m-94 1h1m46 0h1m7 0h1m18 0h1m13 0h1m-98 1h1m10 0h1m11 0h1m25 0h1m6 0h1m6 0h1m2 0h2m21 0h1m-81 1h1m2 0h1m11 0h1m22 0h1m22 0h1m36 0h1m-110 1h1m5 0h1m20 0h1m17 0h1m4 0h1m13 0h1m1 0h1m11 0h1m17 0h1m-86 1h1m1 0h1m1 0h1m40 0h1m1 0h1m9 0h1m7 0h1m1 0h1m15 0h1m24 0h1m-96 1h1m31 0h1m3 0h1m21 0h1m25 0h1m-83 1h1m5 0h1m8 0h1m5 0h1m-25 1h1m12 0h1m37 0h1m15 0h1m10 0h1m-98 1h1m14 0h1m3 0h1m4 0h1m6 0h1m19 0h1m18 0h1m-65 1h1m1 0h1m14 0h1m53 0h1m2 0h2m-60 1h1m9 0h1m1 0h2m20 0h1m10 0h1m3 0h1m7 0h1m-65 1h1m7 0h1m18 0h1m3 0h1m9 0h1m16 0h2m8 0h1m2 0h1m30 0h1m-119 1h1m16 0h1m2 0h1m21 0h1m2 0h1m26 0h1m12 0h2m1 0h1m-85 1h1m7 0h1m12 0h1m4 0h1m56 0h1m1 0h1m1 0h1m17 0h1m-103 1h1m6 0h1m26 0h1m2 0h1m10 0h1m3 0h1m23 0h2m24 0h1m-71 1h1m13 0h1m8 0h1m45 0h1m-104 1h1m1 0h1m1 0h1m8 0h1m14 0h1m1 0h1m1 0h1m9 0h1m12 0h1m12 0h1m19 0h1m-51 1h2m10 0h1m5 0h1m7 0h1m-73 1h1m3 0h1m18 0h1m9 0h1m16 0h1m36 0h1m9 0h1m14 0h1m-95 1h1m4 0h2m3 0h1m8 0h1m1 0h1m3 0h1m15 0h1m5 0h1m14 0h1m6 0h1m-64 1h1m9 0h1m6 0h1m2 0h1m9 0h1m10 0h1m31 0h1m-94 1h1m4 0h1m18 0h1m10 0h1m2 0h1m16 0h1m4 0h1m-36 1h1m31 0h1m36 0h1m-74 1h1m47 0h1m-72 1h1m13 0h1m6 0h1m10 0h1m9 0h1m1 0h1m3 0h1m-33 1h1m22 0h1m-27 1h1m20 0h1m34 0h1m-63 1h1m15 0h1m-16 1h2m14 0h1m5 0h1m8 0h1m3 0h1m3 0h1m1 0h1m-42 1h1m5 0h1m23 0h1m-14 1h1m1 0h1m7 1h1m-27 1h1m28 0h1m-24 4h2"/>
<path stroke="#1f998a" d="M160 2.5h2m-7 1h1m16 0h1m9 0h1m-1 1h1m-29 1h1m-9 2h1m20 2h1m-24 1h1m33 2h1m7 1h1m-33 2h1m-20 1h1m30 0h1m-9 1h1m11 0h1m12 0h1m-14 2h1m-20 3h1m17 0h1m-32 1h2m21 0h1m6 0h1m12 0h1m8 0h1m-25 1h1m17 0h1m1 0h1m-53 1h1m21 0h1m1 0h1m-31 3h1m20 0h1m12 1h1m0 4h1m-23 1h1m5 0h1m-3 1h1m21 0h1m-4 1h1m0 1h1m-34 1h1m1 1h1m4 0h2m15 0h1m7 0h1m-24 1h1m-1 1h2m20 0h1m-24 1h1m42 0h1m-43 1h1m7 0h1m1 0h2m5 0h1m1 0h1m4 0h1m-34 1h1m15 0h1m4 0h1m5 0h1m-8 1h1m-22 1h1m12 0h1m12 0h1m33 0h1m-61 1h1m16 0h1m8 0h1m6 0h1m-22 1h1m1 0h1m-9 1h1m5 0h1m6 0h1m9 0h1m-10 1h1m17 0h1m-23 1h1m8 0h1m11 0h1m1 0h2m-75 1h1m36 0h1m5 0h4m23 0h1m-7 1h1m5 0h1m-27 1h1m15 0h1m2 0h1m2 0h3m-60 1h1m9 0h1m20 0h1m8 0h1m14 0h2m-55 1h1m24 0h1m27 0h1m2 0h1m-117 1h1m55 0h1m18 0h1m5 0h1m34 0h1m-65 1h1m48 0h1m4 0h1m2 0h1m7 0h1m-45 1h1m11 0h1m2 0h1m1 0h1m3 0h1m8 0h1m1 0h1m-101 1h1m46 0h1m21 0h1m10 0h1m6 0h1m3 0h1m-43 1h1m17 0h1m35 0h1m7 0h1m36 0h1m-153 1h1m47 0h1m40 0h2m59 0h1m-149 1h2m1 0h1m39 0h1m7 0h1m30 0h1m16 0h1m1 0h1m46 0h2m-149 1h1m61 0h1m6 0h1m2 0h1m4 0h1m10 0h1m58 0h2m-150 1h2m73 0h1m6 0h1m-26 1h1m4 0h1m10 0h1m14 0h2m6 0h1m26 0h1m-123 1h1m51 0h1m15 0h1m27 0h1m28 0h1m-73 1h1m-57 1h1m7 0h2m60 0h1m2 0h1m8 0h1m15 0h1m-99 1h1m69 0h1m5 0h1m4 0h2m2 0h1m11 0h1m22 0h2m7 0h1m-120 1h1m55 0h1m12 0h1m10 0h1m33 0h1m-47 1h1m6 0h1m7 0h1m23 0h1m3 0h1m-116 1h1m58 0h1m20 0h2m-87 1h1m92 0h1m8 0h1m4 0h1m-111 1h1m5 0h1m5 0h1m3 0h1m85 0h1m7 0h1m5 0h1m-115 1h1m76 0h1m9 0h2m11 0h1m2 0h1m-94 1h1m63 0h1m17 0h1m3 0h1m1 0h1m1 0h1m-14 1h1m7 0h2m-103 1h1m98 0h1m7 0h1m3 0h1m1 0h1m22 0h1m13 0h1m-148 1h2m56 0h3m4 0h1m9 0h1m4 0h1m1 0h1m2 0h1m26 0h1m18 0h1m10 0h1m-142 1h1m75 0h1m1 0h1m5 0h2m2 0h1m-121 1h1m33 0h1m53 0h2m9 0h1m2 0h1m1 0h1m9 0h2m1 0h1m45 0h1m-164 1h2m30 0h1m62 0h1m15 0h1m1 0h1m30 0h1m7 0h1m-153 1h2m8 0h1m78 0h3m1 0h1m19 0h1m5 0h1m-106 1h1m68 0h1m2 0h1m7 0h1m3 0h1m3 0h1m2 0h1m3 0h2m9 0h2m1 0h1m24 0h2m5 0h1m9 0h1m-160 1h1m95 0h1m5 0h1m5 0h1m7 0h1m-120 1h1m3 0h1m40 0h1m1 0h1m20 0h1m47 0h1m38 0h1m-127 1h1m21 0h1m27 0h1m6 0h1m1 0h1m13 0h1m14 0h1m-96 1h1m4 0h1m4 0h1m2 0h2m16 0h1m29 0h2m2 0h1m6 0h1m6 0h1m62 0h1m-144 1h1m6 0h1m2 0h1m1 0h1m3 0h1m1 0h1m57 0h1m8 0h1m-87 1h1m4 0h1m10 0h1m16 0h1m11 0h1m12 0h1m23 0h1m5 0h1m41 0h1m6 0h1m-140 1h1m1 0h1m31 0h1m11 0h1m6 0h1m3 0h1m7 0h1m8 0h1m15 0h1m39 0h1m-134 1h1m24 0h1m23 0h2m16 0h1m20 0h1m1 0h1m-91 1h1m51 0h1m13 0h2m10 0h1m8 0h2m57 0h1m-137 1h1m16 0h1m46 0h1m9 0h1m-4 1h1m1 0h1m3 0h1m-85 1h1m7 0h1m10 0h1m6 0h1m26 0h1m4 0h1m22 0h1m6 0h1m6 0h2m-88 1h1m29 0h1m3 0h1m2 0h1m9 0h1m1 0h1m24 0h1m4 0h1m6 0h1m4 0h1m-103 1h1m25 0h2m2 0h1m13 0h1m7 0h1m6 0h2m17 0h1m-80 1h1m17 0h1m25 0h1m13 0h1m5 0h1m13 0h1m2 0h1m9 0h1m3 0h1m4 0h2m15 0h1m-95 1h1m16 0h1m2 0h1m41 0h2m14 0h1m1 0h2m-104 1h1m8 0h1m11 0h1m11 0h1m13 0h1m23 0h1m3 0h1m-75 1h1m4 0h1m12 0h1m13 0h1m6 0h1m3 0h1m13 0h1m6 0h2m17 0h1m16 0h1m10 0h1m-109 1h1m6 0h1m6 0h1m22 0h1m2 0h1m45 0h2m-88 1h1m16 0h1m44 0h1m5 0h1m6 0h1m33 0h1m-108 1h1m29 0h1m3 0h1m7 0h1m15 0h1m2 0h1m6 0h1m2 0h2m18 0h1m-93 1h1m37 0h1m7 0h1m15 0h1m15 0h1m52 0h1m-121 1h1m5 0h1m3 0h1m53 0h1m28 0h1m-115 1h1m20 0h1m50 0h1m11 0h1m35 0h1m-112 1h1m8 0h2m8 0h1m3 0h1m29 0h1m9 0h1m11 0h1m9 0h1m-67 1h1m51 0h1m13 0h1m10 0h1m20 0h1m-117 1h1m12 0h1m3 0h1m7 0h1m8 0h1m6 0h1m5 0h1m16 0h1m14 0h1m7 0h1m4 0h1m31 0h1m-135 1h1m19 0h1m19 0h1m20 0h1m3 0h1m8 0h1m9 0h1m-40 1h1m1 0h1m22 0h1m21 0h1m11 0h2m1 0h1m12 0h1m-103 1h1m25 0h1m2 0h1m2 0h1m10 0h1m10 0h1m1 0h1m2 0h1m12 0h1m1 0h1m21 0h1m-112 1h1m5 0h1m3 0h1m37 0h1m26 0h2m11 0h1m24 0h1m-115 1h1m6 0h1m10 0h1m16 0h3m7 0h1m3 0h1m3 0h1m7 0h1m6 0h1m-68 1h1m11 0h1m21 0h1m14 0h1m3 0h1m7 0h1m6 0h1m7 0h1m4 0h1m12 0h1m-96 1h1m23 0h2m11 0h2m22 0h1m36 0h1m-98 1h1m2 0h1m25 0h1m1 0h1m1 0h1m12 0h1m-23 1h1m1 0h1m5 0h2m11 0h1m11 0h1m9 0h1m-58 1h2m16 0h1m23 0h1m9 0h1m8 0h1m5 0h1m1 0h1m27 0h1m-94 1h1m1 0h1m5 0h1m29 0h1m5 0h1m6 0h1m11 0h1m6 0h1m2 0h1m34 0h1m-114 1h1m27 0h1m6 0h1m10 0h1m27 0h2m18 0h1m3 0h1m-105 1h1m16 0h1m2 0h1m17 0h1m1 0h2m12 0h1m8 0h1m8 0h1m5 0h1m5 0h1m11 0h1m-81 1h1m14 0h3m30 0h1m7 0h2m2 0h1m28 0h1m-105 1h1m20 0h1m3 0h1m13 0h1m1 0h2m7 0h1m15 0h1m5 0h1m9 0h1m20 0h1m-101 1h1m4 0h1m10 0h1m7 0h1m11 0h1m5 0h1m9 0h1m25 0h1m-82 1h2m3 0h1m20 0h1m11 0h1m10 0h1m8 0h1m7 0h1m17 0h1m-86 1h1m2 0h1m3 0h1m3 0h1m25 0h1m8 0h1m1 0h1m8 0h1m18 0h1m-81 1h1m13 0h1m15 0h1m14 0h1m13 0h1m6 0h1m3 0h1m8 0h1m-82 1h1m41 0h1m35 0h1m31 0h1m-101 1h2m3 0h1m2 0h1m1 0h1m7 0h2m14 0h1m9 0h1m14 0h1m7 0h1m6 0h1m-84 1h1m2 0h1m3 0h1m23 0h2m12 0h1m12 0h1m-60 1h1m11 0h1m5 0h1m1 0h2m2 0h1m32 0h1m-52 1h1m2 0h1m1 0h1m2 0h1m21 0h1m13 0h1m15 0h1m29 0h2m-89 1h1m4 0h1m3 0h1m16 0h1m59 0h1m-82 1h1m4 0h1m7 0h2m2 0h1m2 0h1m4 0h2m-27 1h1m22 0h2m-25 1h1m7 0h1m19 0h1m27 0h1m-65 1h1m6 0h1m11 0h1m6 0h1m18 0h1m-15 1h2m3 0h1m-35 1h1m27 0h4m-30 1h1m9 0h1m14 0h1m-29 1h1m6 0h1m19 0h2m2 0h1m-11 2h1m1 0h2m-8 1h1m-12 1h1m6 0h1m-4 1h1"/>
<path stroke="#24aa83" d="M156 2.5h1m-8 4h1m32 0h1m2 5h1m-9 1h1m-9 1h1m-31 1h2m19 0h1m5 1h1m12 0h1m-13 1h1m-3 2h1m17 0h1m-9 2h1m6 2h1m1 0h1m-2 1h1m-2 1h1m7 0h1m-40 6h1m9 0h1m-7 1h1m11 0h1m-22 1h2m0 2h1m5 0h1m13 0h1m-23 1h1m-29 1h1m19 0h1m5 0h1m21 0h1m-18 1h1m41 0h1m-63 2h1m52 0h1m-50 1h1m3 0h1m20 0h1m-23 1h1m6 2h1m4 0h1m-14 1h1m7 0h2m7 0h1m-19 1h1m14 0h1m11 0h1m-29 1h1m3 0h1m13 0h3m1 0h1m-23 1h1m19 0h1m1 0h2m1 0h1m6 0h1m-37 1h1m19 0h1m3 0h1m2 0h1m10 0h1m-21 1h1m9 0h2m7 0h2m-21 1h1m2 0h1m1 0h1m1 0h1m1 0h1m9 0h1m-18 1h1m2 0h1m4 0h1m1 0h1m9 0h1m-76 1h1m51 0h1m9 0h2m1 0h1m5 0h1m-30 1h1m19 0h3m1 0h1m-57 1h1m28 0h1m9 0h2m2 0h1m4 0h1m-18 1h1m20 0h1m2 0h1m5 0h1m1 0h1m-61 1h1m30 0h1m20 0h2m2 0h1m-114 1h1m49 0h1m24 0h1m9 0h1m1 0h1m12 0h1m4 0h1m4 0h1m4 0h1m-43 1h1m3 0h1m34 0h1m-7 1h1m2 0h1m-63 1h1m5 0h1m17 0h1m27 0h1m-43 1h2m10 0h1m10 0h1m1 0h1m18 0h1m-98 1h1m88 0h1m8 0h2m-101 1h1m45 0h1m19 0h1m2 0h2m3 0h1m3 0h1m29 0h1m23 0h1m15 0h1m-151 1h1m1 0h1m56 0h1m15 0h2m2 0h1m28 0h2m-29 1h1m11 0h1m-92 1h1m57 0h1m15 0h1m6 0h1m3 0h1m-26 1h1m-65 1h1m6 0h1m44 0h1m9 0h1m8 0h1m19 0h1m28 0h1m-57 1h1m53 0h1m-121 1h1m56 0h1m7 0h1m9 0h1m6 0h1m12 0h1m-29 1h1m22 0h1m9 0h1m19 0h2m6 0h1m-127 1h1m3 0h1m7 0h1m111 0h1m24 0h1m-70 1h1m1 0h1m11 0h1m21 0h1m12 0h1m-132 1h1m4 0h1m5 0h1m6 0h1m45 0h1m2 0h1m8 0h2m4 0h1m3 0h1m21 0h1m6 0h1m-114 1h1m8 0h1m67 0h1m2 0h1m20 0h1m3 0h2m2 0h1m-50 1h1m17 0h2m9 0h1m6 0h1m11 0h1m-30 1h1m1 0h1m4 0h1m10 0h1m6 0h1m-20 1h1m13 0h1m6 0h2m-113 1h1m79 0h1m4 0h1m3 0h1m3 0h1m3 0h1m13 0h1m3 0h1m-115 1h1m52 0h1m38 0h1m17 0h1m3 0h1m4 0h1m26 0h1m-86 1h1m20 0h1m-38 1h2m29 0h2m4 0h1m8 0h1m22 0h1m-146 1h1m55 0h1m5 0h1m32 0h1m1 0h2m8 0h2m66 0h1m-160 1h1m70 0h1m18 0h2m4 0h1m10 0h2m22 0h1m1 0h1m10 0h1m-159 1h1m76 0h1m1 0h1m16 0h1m8 0h1m12 0h1m-115 1h1m77 0h1m3 0h1m12 0h1m22 0h1m48 0h1m-98 1h1m2 0h1m4 0h1m8 0h1m2 0h1m9 0h1m8 0h1m-66 1h1m33 0h1m11 0h2m4 0h1m6 0h1m-59 1h3m1 0h1m10 0h1m10 0h1m1 0h1m3 0h1m8 0h1m15 0h2m-53 1h2m11 0h1m10 0h3m25 0h1m-68 1h1m30 0h1m2 0h1m11 0h1m-60 1h1m13 0h1m72 0h1m-94 1h1m5 0h1m3 0h1m6 0h1m14 0h1m9 0h1m13 0h1m1 0h1m1 0h1m10 0h1m1 0h1m8 0h1m6 0h2m1 0h2m-97 1h2m19 0h1m4 0h1m15 0h1m14 0h1m5 0h1m8 0h1m12 0h1m-75 1h1m2 0h1m2 0h1m7 0h1m17 0h1m5 0h1m14 0h1m15 0h1m3 0h1m3 0h1m-71 1h1m19 0h1m50 0h1m1 0h1m9 0h1m-103 1h1m13 0h1m8 0h1m22 0h2m17 0h1m3 0h1m22 0h1m8 0h1m-80 1h1m40 0h1m1 0h1m3 0h1m7 0h1m14 0h1m-84 1h1m25 0h1m6 0h1m1 0h1m18 0h1m7 0h1m22 0h1m2 0h1m3 0h2m41 0h1m-134 1h2m17 0h2m4 0h2m4 0h1m2 0h1m9 0h1m16 0h1m7 0h1m-80 1h1m6 0h1m19 0h1m20 0h1m2 0h1m1 0h1m4 0h1m5 0h1m4 0h1m8 0h1m12 0h1m2 0h2m34 0h1m-106 1h1m2 0h1m12 0h1m2 0h1m31 0h1m14 0h2m4 0h1m1 0h1m-98 1h1m1 0h1m12 0h1m10 0h1m1 0h1m5 0h1m18 0h1m14 0h1m25 0h1m2 0h1m35 0h1m-127 1h1m19 0h1m1 0h1m1 0h1m19 0h1m20 0h1m2 0h1m15 0h1m16 0h1m-106 1h1m6 0h1m15 0h1m6 0h1m6 0h1m2 0h1m3 0h1m14 0h1m11 0h1m18 0h1m1 0h1m-66 1h1m2 0h1m20 0h1m16 0h1m1 0h1m4 0h1m4 0h1m1 0h1m46 0h1m-124 1h2m17 0h1m6 0h1m10 0h1m28 0h2m7 0h1m-84 1h2m18 0h1m6 0h1m13 0h1m22 0h1m7 0h1m9 0h2m8 0h1m28 0h1m-121 1h1m6 0h1m9 0h2m1 0h1m15 0h1m94 0h1m-134 1h2m5 0h1m10 0h1m-8 1h1m11 0h1m10 0h1m6 0h2m1 0h2m4 0h1m14 0h1m26 0h1m-74 1h1m7 0h1m4 0h2m4 0h1m12 0h1m22 0h1m1 0h1m1 0h1m17 0h1m-75 1h1m11 0h1m4 0h1m1 0h1m21 0h1m6 0h1m28 0h1m-109 1h2m14 0h1m13 0h1m14 0h1m2 0h1m22 0h1m5 0h1m9 0h1m1 0h1m-77 1h2m14 0h1m9 0h1m16 0h2m7 0h1m9 0h1m-48 1h1m8 0h1m1 0h2m8 0h1m5 0h1m1 0h1m19 0h1m20 0h1m-83 1h1m1 0h1m2 0h1m22 0h1m3 0h1m40 0h1m4 0h1m4 0h1m-86 1h1m53 0h1m2 0h1m-57 1h1m11 0h1m7 0h1m10 0h1m4 0h1m2 0h2m5 0h1m12 0h1m12 0h1m11 0h1m-83 1h1m6 0h1m3 0h1m30 0h1m5 0h1m4 0h1m16 0h2m1 0h3m1 0h1m15 0h1m-107 1h1m1 0h1m2 0h1m6 0h1m4 0h1m32 0h1m9 0h2m3 0h1m6 0h1m1 0h1m9 0h1m12 0h1m-97 1h1m7 0h1m3 0h1m9 0h1m32 0h1m18 0h1m5 0h1m-77 1h1m4 0h1m19 0h1m32 0h1m1 0h1m-44 1h1m10 0h1m2 0h1m5 0h1m8 0h2m8 0h1m1 0h1m2 0h1m5 0h1m-68 1h1m9 0h1m21 0h1m39 0h1m-81 1h1m30 0h1m25 0h1m1 0h1m3 0h1m11 0h1m10 0h1m-61 1h2m4 0h1m22 0h1m-38 1h1m13 0h1m38 0h1m-73 1h1m36 0h1m6 0h1m1 0h1m18 0h2m15 0h1m11 0h1m-86 1h1m6 0h1m29 0h1m1 0h1m14 0h1m6 0h1m3 0h2m43 0h1m-112 1h1m1 0h1m4 0h1m15 0h1m25 0h1m7 0h1m19 0h1m9 0h2m-55 1h1m9 0h1m16 0h1m4 0h1m1 0h2m5 0h1m2 0h1m-87 1h1m13 0h1m40 0h1m-45 1h1m1 0h1m12 0h1m31 0h1m14 0h1m-75 1h1m13 0h1m2 0h1m17 0h1m16 0h1m27 0h1m-57 1h1m11 0h1m5 0h1m11 0h1m-50 1h1m14 0h1m14 0h1m-12 1h1m1 0h1m1 0h2m3 0h1m12 0h1m5 0h1m-31 1h1m7 0h1m2 0h1m62 0h1m-85 1h1m5 0h1m2 0h1m9 0h1m9 0h2m10 0h1m-43 1h1m3 0h1m2 0h1m22 0h1m-33 1h1m3 0h1m10 0h1m19 0h1m1 0h1m-14 1h1m-24 1h1m26 0h1m-9 2h1m6 0h1m-26 1h1m12 0h1m6 1h1m-14 2h1m4 0h1"/>
<path stroke="#3aba76" d="M163 1.5h2m1 1h1m2 1h1m5 0h1m4 0h2m-32 3h1m29 0h1m3 1h1m-1 1h1m-16 1h1m-27 2h1m-1 1h1m5 0h1m18 0h1m17 0h1m-34 2h1m25 0h1m-46 3h1m51 0h1m-3 2h1m-1 1h1m-18 1h1m19 2h2m-6 1h1m-17 4h1m2 1h1m-45 2h1m40 3h1m-38 2h1m15 0h2m8 0h2m-6 2h1m-36 1h1m24 3h1m-10 1h1m27 0h1m-28 1h1m14 0h1m6 0h1m5 0h2m1 0h1m-22 1h1m13 0h2m-12 1h1m7 0h1m1 0h1m2 0h1m-34 1h1m23 0h1m6 0h1m2 0h1m3 0h1m-20 1h2m1 0h1m1 0h1m1 0h1m4 0h1m-12 1h2m3 0h2m1 0h1m4 0h1m2 0h1m-12 1h1m4 0h2m1 0h2m4 0h1m-29 1h1m10 0h1m2 0h1m10 0h3m-28 1h1m21 0h2m-16 1h1m2 0h1m2 0h1m9 0h2m-29 1h1m3 0h1m1 0h1m3 0h1m1 0h1m2 0h1m4 0h1m-28 1h1m15 0h1m11 0h2m-22 1h1m12 0h1m1 0h1m-51 1h1m23 0h1m6 0h1m2 0h1m1 0h1m6 0h1m8 0h1m-31 1h1m30 0h1m-103 1h1m81 0h1m-13 1h1m14 0h1m-90 1h1m4 0h1m67 0h2m15 0h1m-90 1h1m41 0h1m25 0h1m12 0h2m7 0h1m-44 1h2m5 0h1m13 0h1m6 0h1m2 0h1m13 0h1m15 0h1m3 0h1m-50 1h1m11 0h1m59 0h1m-83 1h1m19 0h1m3 0h1m11 0h1m-26 1h1m11 0h1m1 0h1m-72 1h1m43 0h1m10 0h1m24 0h1m61 0h1m-152 1h1m5 0h1m47 0h2m21 0h1m11 0h2m2 0h1m-38 1h1m1 0h1m16 0h1m2 0h1m1 0h1m1 0h1m7 0h1m60 0h1m-152 1h1m65 0h1m6 0h1m5 0h1m4 0h1m4 0h2m2 0h1m5 0h1m18 0h1m32 0h1m-143 1h1m1 1h1m57 0h1m8 0h1m-21 1h1m25 0h1m-78 1h2m58 0h1m15 0h1m12 0h1m5 0h1m22 0h1m24 0h1m-71 1h1m2 0h1m4 0h2m59 0h1m-144 1h1m9 0h1m48 0h1m6 0h1m26 0h1m-96 1h1m81 0h1m13 0h1m10 0h1m10 0h1m-38 1h1m-89 1h1m66 0h2m18 0h1m-89 1h1m62 0h1m12 0h1m4 0h1m1 0h1m2 0h1m2 0h1m23 0h1m21 0h1m-134 1h1m75 0h1m5 0h2m28 0h1m-50 1h2m2 0h1m1 0h1m42 0h1m25 0h1m-78 1h1m9 0h1m5 0h1m11 0h1m54 0h2m-89 1h1m21 0h1m-19 1h1m3 0h1m3 0h2m45 0h1m-145 1h1m78 0h1m12 0h1m3 0h1m11 0h1m-107 1h1m85 0h1m11 0h2m8 0h1m7 0h1m49 0h1m-143 1h1m18 0h1m3 0h1m24 0h1m6 0h1m3 0h1m10 0h1m7 0h1m5 0h1m5 0h1m-32 1h1m13 0h1m7 0h1m40 0h1m-123 1h1m2 0h1m10 0h1m6 0h1m4 0h1m16 0h1m1 0h1m28 0h1m3 0h1m2 0h1m1 0h1m-83 1h1m2 0h1m1 0h1m1 0h1m2 0h1m8 0h1m30 0h1m3 0h1m7 0h1m7 0h1m8 0h2m3 0h1m-89 1h1m2 0h1m10 0h1m4 0h1m27 0h1m5 0h1m3 0h1m3 0h1m2 0h1m9 0h1m11 0h3m2 0h1m42 0h1m-121 1h3m57 0h2m14 0h1m1 0h1m-89 1h1m5 0h1m38 0h1m3 0h1m21 0h1m-76 1h1m12 0h1m3 0h1m25 0h1m2 0h1m1 0h1m5 0h1m10 0h1m18 0h1m-81 1h1m37 0h1m1 0h1m22 0h1m6 0h1m1 0h1m13 0h1m-97 1h1m1 0h1m5 0h1m28 0h1m2 0h1m23 0h1m4 0h1m64 0h1m-137 1h2m19 0h1m9 0h1m18 0h1m21 0h1m21 0h1m-81 1h1m7 0h1m23 0h1m12 0h1m35 0h1m7 0h1m-79 1h1m1 0h2m11 0h1m29 0h1m26 0h1m17 0h1m-107 1h1m3 0h1m16 0h1m7 0h1m7 0h2m16 0h1m8 0h1m8 0h1m10 0h1m-81 1h1m3 0h1m6 0h1m12 0h2m18 0h1m2 0h1m5 0h1m21 0h1m31 0h1m11 0h1m-120 1h1m2 0h1m19 0h1m6 0h1m7 0h1m16 0h2m2 0h1m3 0h2m16 0h1m-78 1h1m8 0h1m9 0h1m2 0h1m7 0h1m3 0h1m14 0h1m6 0h1m50 0h1m-69 1h1m2 0h1m14 0h1m1 0h1m1 0h1m-67 1h1m1 0h1m6 0h1m13 0h1m6 0h1m3 0h1m22 0h1m-48 1h1m14 0h1m3 0h2m3 0h1m6 0h1m1 0h1m21 0h1m2 0h1m1 0h1m19 0h1m11 0h1m-113 1h1m25 0h1m1 0h1m6 0h2m10 0h2m22 0h1m6 0h1m-80 1h1m29 0h2m43 0h1m19 0h1m18 0h1m-107 1h1m19 0h2m9 0h1m4 0h1m21 0h1m1 0h2m22 0h1m-88 1h3m18 0h1m4 0h1m45 0h1m13 0h1m-86 1h1m13 0h1m5 0h1m16 0h1m4 0h1m5 0h1m24 0h1m9 0h1m43 0h1m-141 1h1m10 0h1m3 0h1m13 0h1m21 0h1m7 0h1m-27 1h1m3 0h1m5 0h2m45 0h1m45 0h1m-134 1h1m12 0h1m8 0h1m14 0h1m6 0h2m6 0h1m15 0h1m15 0h2m-73 1h1m6 0h1m19 0h1m4 0h1m25 0h1m20 0h1m-91 1h1m39 0h1m5 0h2m3 0h1m7 0h1m10 0h1m19 0h1m1 0h1m-86 1h1m12 0h1m30 0h1m2 0h1m27 0h1m-86 1h1m6 0h1m7 0h1m21 0h1m45 0h1m2 0h2m10 0h1m5 0h1m24 0h1m-126 1h1m2 0h1m3 0h1m7 0h1m10 0h1m25 0h1m15 0h1m-74 1h1m1 0h1m1 0h1m8 0h1m15 0h1m1 0h1m2 0h2m38 0h1m1 0h1m7 0h1m20 0h1m-103 1h1m1 0h1m16 0h1m12 0h1m12 0h1m4 0h2m6 0h1m6 0h1m2 0h1m14 0h1m2 0h1m32 0h1m-112 1h1m9 0h1m2 0h1m11 0h1m47 0h1m-82 1h1m3 0h1m1 0h1m1 0h1m11 0h1m28 0h1m10 0h1m12 0h2m5 0h1m-82 1h1m17 0h1m14 0h1m8 0h1m19 0h2m20 0h1m-86 1h1m12 0h1m30 0h1m-39 1h1m1 0h1m6 0h1m2 0h1m14 0h1m1 0h1m27 0h1m7 0h1m9 0h1m-83 1h1m9 0h1m19 0h1m33 0h1m2 0h1m5 0h2m7 0h3m-55 1h1m18 0h1m6 0h1m13 0h1m4 0h1m3 0h1m-81 1h1m31 0h3m5 0h1m21 0h1m10 0h1m3 0h1m2 0h4m-67 1h1m3 0h1m10 0h1m9 0h1m38 0h1m-76 1h1m2 0h1m6 0h1m1 0h1m3 0h1m17 0h2m33 0h1m2 0h1m-64 1h1m2 0h1m23 0h1m6 0h1m20 0h1m9 0h1m-77 1h1m12 0h1m31 0h1m6 0h1m21 0h2m-77 1h1m5 0h1m7 0h1m6 0h1m6 0h1m5 0h2m7 0h1m20 0h1m2 0h1m2 0h1m9 0h1m-67 1h1m28 0h1m7 0h1m21 0h1m-51 1h1m9 0h1m8 0h1m63 0h1m-100 1h1m11 0h1m72 0h1m-74 1h1m19 0h1m1 0h1m-16 1h1m43 0h1m-54 1h1m21 0h1m1 0h1m-10 1h1m1 0h1m3 0h1m21 0h1m-61 1h1m20 0h1m6 0h1m13 0h1m-39 1h1m24 0h1m7 0h1m-34 2h1m2 0h1m-3 1h1m19 0h2m8 0h1m-17 1h1m0 1h1"/>
<path stroke="#5ec962" d="M162 1.5h1m15 2h1m-24 1h1m13 3h1m-24 1h1m38 1h1m-18 1h1m1 0h1m-25 2h1m20 1h1m18 1h1m-38 2h1m36 0h1m-7 4h1m2 1h1m4 0h1m-22 1h1m21 0h1m-8 1h1m3 0h1m2 0h1m-17 2h1m-31 3h1m27 2h1m-11 4h1m-3 2h1m-32 1h1m7 0h1m7 1h1m-29 2h1m19 0h1m-5 1h1m10 0h1m18 2h2m-9 1h1m5 0h1m-27 1h1m20 0h2m5 0h1m-24 1h1m4 0h1m4 0h1m3 0h1m7 0h1m-14 1h2m3 0h1m6 0h1m1 0h1m-23 1h1m18 0h1m5 0h1m-15 1h1m2 0h1m6 0h1m2 0h1m-18 1h1m8 0h1m7 0h1m-26 1h1m19 0h1m6 0h1m-33 1h1m27 0h1m-24 1h1m8 0h1m1 0h1m-7 1h1m-3 1h1m4 0h1m17 0h1m-33 1h1m9 0h1m6 0h1m-103 1h1m55 0h1m41 0h1m1 0h1m1 0h1m4 0h1m2 0h1m-57 1h1m4 0h1m16 0h2m8 0h1m11 0h1m4 0h1m3 0h1m2 0h1m-60 1h1m24 0h1m3 0h1m2 0h1m11 0h1m-15 1h1m43 0h1m-127 1h1m54 0h1m27 0h1m-32 1h1m24 0h1m-78 1h1m6 0h1m68 0h1m-71 1h1m41 0h1m6 0h1m14 0h1m9 0h1m34 0h1m-115 1h1m63 0h1m3 0h1m3 0h1m78 0h1m-154 1h1m2 0h1m1 0h1m77 0h1m6 0h1m42 0h1m-128 1h1m72 0h1m4 0h1m4 0h1m2 0h2m-91 1h1m53 0h1m1 0h1m19 0h2m-25 1h1m20 0h1m8 0h1m7 0h1m26 0h1m-107 1h1m54 0h1m5 0h1m-73 1h2m3 0h1m77 0h1m63 0h1m-145 1h1m66 0h1m7 0h1m13 0h1m-96 1h1m8 0h1m4 0h1m41 0h1m10 0h1m11 0h2m-78 1h1m1 0h1m5 0h1m67 0h1m6 0h2m-88 1h1m64 0h1m32 0h1m-89 1h1m52 0h1m11 0h1m5 0h1m3 1h1m63 0h1m-67 1h1m-86 1h1m64 0h1m6 0h1m12 0h1m2 0h1m61 0h1m-88 1h1m14 0h1m31 0h1m-51 2h1m4 0h2m11 0h1m9 0h1m-102 1h1m60 1h1m19 0h1m8 0h2m2 0h1m60 0h1m-101 1h1m3 0h1m29 0h2m13 0h1m-26 1h1m5 0h1m1 0h1m1 0h1m4 0h1m-109 1h1m68 0h1m7 0h1m17 0h1m6 0h1m1 0h1m9 0h1m-40 1h1m10 0h1m-11 1h1m18 0h2m57 0h1m10 0h1m-140 1h1m4 0h1m41 0h1m1 0h1m25 0h1m-77 1h1m6 0h1m32 0h1m43 0h1m-92 1h1m2 0h1m4 0h1m1 0h1m35 0h1m2 0h1m10 0h1m13 0h1m12 0h1m-90 1h1m8 0h2m39 0h1m4 0h1m8 0h1m9 0h1m10 0h1m3 0h1m7 0h1m-76 1h1m26 0h1m3 0h1m33 0h2m2 0h1m2 0h1m2 0h1m-86 1h1m25 0h1m17 0h2m41 0h1m-97 1h1m4 0h1m2 0h1m9 0h1m14 0h1m16 0h1m1 0h1m16 0h1m11 0h1m8 0h2m-88 1h1m8 0h1m11 0h1m20 0h1m1 0h1m25 0h1m15 0h1m6 0h1m-95 1h1m6 0h1m1 0h1m22 0h1m10 0h1m50 0h1m41 0h1m-143 1h2m11 0h2m15 0h1m29 0h1m1 0h1m5 0h1m9 0h1m19 0h1m-93 1h1m1 0h1m8 0h1m2 0h1m15 0h2m16 0h1m4 0h1m13 0h1m7 0h1m12 0h1m1 0h1m-78 1h1m23 0h1m-44 1h1m5 0h1m3 0h1m15 0h1m4 0h1m1 0h1m13 0h1m13 0h1m19 0h1m7 0h1m-75 1h1m5 0h1m1 0h1m4 0h1m11 0h1m4 0h1m1 0h1m11 0h1m26 0h1m-83 1h1m9 0h1m16 0h1m12 0h1m9 0h1m1 0h1m5 0h1m3 0h1m5 0h1m10 0h1m2 0h1m-70 1h2m20 0h1m20 0h1m6 0h1m9 0h1m-67 1h1m18 0h1m1 0h1m9 0h1m3 0h1m4 0h2m18 0h1m13 0h1m9 0h1m-88 1h1m3 0h1m10 0h1m17 0h1m7 0h1m17 0h1m11 0h1m56 0h1m-138 1h1m12 0h1m3 0h1m7 0h1m13 0h1m25 0h1m-57 1h2m12 0h1m3 0h1m11 0h1m6 0h1m2 0h1m5 0h1m9 0h2m2 0h1m4 0h1m2 0h1m-73 1h2m12 0h1m10 0h1m9 0h1m12 0h1m7 0h1m2 0h1m25 0h2m3 0h1m38 0h1m-108 1h1m4 0h1m5 0h1m14 0h1m2 0h1m2 0h1m1 0h1m3 0h1m13 0h1m29 0h1m-103 1h1m23 0h1m10 0h1m15 0h1m1 0h1m3 0h1m2 0h2m12 0h1m3 0h1m1 0h1m-81 1h1m13 0h1m6 0h1m11 0h1m4 0h1m54 0h1m-97 1h1m1 0h2m19 0h1m16 0h1m5 0h1m1 0h1m9 0h1m5 0h2m11 0h1m-68 1h2m15 0h1m27 0h1m13 0h1m10 0h1m-79 1h1m3 0h1m38 0h1m1 0h1m8 0h1m28 0h2m9 0h1m-83 1h1m4 0h1m11 0h1m34 0h1m18 0h1m-84 1h1m1 0h1m58 0h1m14 0h1m2 0h1m-88 1h1m16 0h1m9 0h1m5 0h1m13 0h1m5 0h1m11 0h1m-51 1h1m1 0h1m6 0h1m1 0h1m-15 1h1m16 0h1m20 0h1m5 0h1m8 0h1m3 0h1m11 0h1m4 0h1m37 0h1m-130 1h1m1 0h1m11 0h1m7 0h1m30 0h1m7 0h1m11 0h1m4 0h1m1 0h2m7 0h1m-82 1h1m1 0h1m54 0h2m5 0h1m1 0h1m4 0h1m-73 1h1m1 0h1m5 0h1m13 0h1m9 0h1m19 0h1m1 0h1m6 0h1m21 0h1m-87 1h1m5 0h1m2 0h1m29 0h1m6 0h1m13 0h1m3 0h1m8 0h1m7 0h1m3 0h1m35 0h1m-123 1h1m4 0h2m1 0h1m1 0h1m23 0h1m17 0h1m15 0h1m3 0h1m6 0h2m2 0h1m5 0h1m31 0h1m-124 1h1m34 0h1m5 0h1m4 0h1m23 0h1m5 0h1m2 0h1m-78 1h1m14 0h1m25 0h1m1 0h1m15 0h1m18 0h1m6 0h1m5 0h1m26 0h1m-102 1h1m11 0h1m1 0h1m8 0h1m7 0h1m3 0h1m5 0h1m-56 1h1m3 0h1m56 0h1m10 0h1m-81 1h1m72 0h1m6 0h1m-66 1h1m7 0h1m29 0h1m10 0h1m16 0h1m5 0h1m-87 1h1m7 0h1m1 0h1m11 0h1m1 0h1m12 0h1m11 0h1m26 0h2m37 0h1m-115 1h2m3 0h1m1 0h2m6 0h2m4 0h1m19 0h1m10 0h1m2 0h1m21 0h1m2 0h1m17 0h1m14 0h1m-110 1h1m2 0h1m10 0h2m37 0h1m54 0h1m-104 1h1m4 0h1m9 0h3m3 0h1m3 0h1m2 0h1m-37 1h1m5 0h1m13 0h1m3 0h1m9 0h1m2 0h1m2 0h1m36 0h1m-74 1h1m9 0h1m8 0h1m-11 1h1m13 0h1m2 0h1m4 0h2m5 0h1m28 0h1m-46 1h1m7 0h1m9 0h1m54 0h1m-94 1h1m1 0h1m1 0h1m6 0h2m3 0h2m1 0h1m1 0h1m3 0h2m5 0h1m58 0h2m-93 1h1m6 0h1m12 0h1m1 0h1m6 0h1m-30 1h1m22 0h1m5 0h1m-35 1h1m11 0h1m1 0h1m16 0h2m7 1h1m-11 1h2m5 1h1m2 0h1m-9 1h1"/>
<path stroke="#89d548" d="M165 1.5h1m2 1h1m15 4h1m-43 6h1m43 3h1m0 3h1m-8 1h1m1 0h1m-1 1h1m-10 1h1m8 0h1m-30 1h2m12 2h1m-26 10h1m48 2h1m-47 2h1m-4 2h1m-9 1h1m3 1h1m21 2h1m3 0h1m-5 1h1m-12 1h1m10 0h1m-31 1h1m20 1h1m11 0h1m-15 2h1m5 0h1m7 0h2m-24 1h1m6 0h1m13 0h2m-16 1h2m-9 1h2m5 0h1m1 1h1m-9 1h1m1 0h1m-39 1h1m21 0h1m14 0h1m4 0h2m-16 1h1m9 0h1m3 0h1m3 0h1m-20 1h2m10 0h1m7 0h1m-23 1h1m-7 1h1m1 0h1m1 0h1m45 0h1m-126 1h1m46 0h1m3 0h1m19 0h1m6 0h2m8 0h1m-41 1h1m28 0h1m14 0h1m57 0h1m-153 2h1m82 0h1m7 0h1m-90 1h1m68 0h1m8 0h1m9 0h1m-27 1h1m6 0h1m76 0h1m-149 1h1m54 0h1m10 0h1m12 0h2m9 0h1m-92 1h1m80 0h1m-79 1h1m9 0h1m78 0h2m30 0h1m-122 1h2m2 0h1m1 0h2m52 0h1m22 0h1m-84 1h1m2 0h2m48 0h1m13 0h1m2 0h1m6 0h1m-73 1h1m1 0h1m60 0h3m-72 1h1m8 0h1m1 0h1m55 0h1m3 0h1m50 0h1m26 0h1m-145 1h1m2 0h1m55 0h1m5 0h1m12 0h1m21 0h1m42 0h1m-142 1h1m68 0h1m6 0h2m17 0h1m41 0h1m-138 1h1m3 0h1m54 0h2m13 0h1m1 0h1m-22 1h1m6 0h1m8 0h1m8 0h1m58 0h2m-152 1h1m23 0h1m27 0h1m12 0h1m6 0h1m14 0h1m-18 1h2m5 0h1m7 0h1m64 0h1m-140 1h1m53 0h1m18 0h1m-35 1h1m3 0h1m7 0h2m10 0h1m10 0h1m-15 1h1m1 0h1m12 0h1m3 0h1m56 0h1m-95 1h1m14 0h1m-90 1h1m86 0h1m-21 1h1m26 0h1m46 0h1m-80 1h1m8 0h1m10 0h2m13 0h1m0 1h1m43 0h1m-58 1h1m9 0h1m1 0h1m63 0h1m-98 1h1m1 0h1m1 0h1m3 0h1m1 0h1m5 0h1m11 0h1m66 0h1m-131 1h1m44 0h1m18 0h1m3 0h1m4 0h1m-70 1h2m44 0h1m1 0h1m12 0h1m8 0h1m-89 1h1m12 0h1m32 0h1m1 0h1m15 0h1m13 0h1m1 0h1m61 0h1m-148 1h1m1 0h1m3 0h1m1 0h1m5 0h2m1 0h2m36 0h1m35 0h1m2 0h1m51 0h1m-145 1h1m15 0h1m45 0h1m18 0h1m62 0h1m-146 1h1m10 0h1m8 0h1m34 0h1m2 0h1m2 0h1m18 0h2m2 0h1m8 0h1m2 0h2m-97 1h2m12 0h1m36 0h1m21 0h1m14 0h1m53 0h1m-145 1h1m17 0h1m4 0h3m4 0h1m5 0h2m9 0h1m8 0h1m15 0h1m1 0h1m14 0h1m2 0h1m50 0h1m-136 1h1m14 0h1m5 0h1m7 0h1m8 0h1m23 0h1m6 0h1m-66 1h1m3 0h1m5 0h2m5 0h1m7 0h2m9 0h1m4 0h1m21 0h1m-68 1h1m13 0h1m11 0h1m13 0h1m4 0h1m-39 1h1m2 0h1m2 0h1m10 0h1m10 0h1m27 0h1m18 0h1m6 0h1m-80 1h1m1 0h1m9 0h1m7 0h2m2 0h1m2 0h1m11 0h1m5 0h1m8 0h3m8 0h1m4 0h1m-84 1h1m3 0h2m2 0h1m9 0h1m3 0h1m9 0h1m23 0h2m1 0h1m8 0h1m66 0h1m-128 1h1m6 0h1m26 0h1m4 0h1m8 0h1m4 0h1m1 0h1m1 0h1m5 0h1m12 0h1m5 0h1m43 0h1m-134 1h1m22 0h1m1 0h1m7 0h1m1 0h1m8 0h1m3 0h1m4 0h1m10 0h2m8 0h1m1 0h1m1 0h1m11 0h1m-75 1h1m6 0h2m7 0h2m9 0h1m11 0h1m1 0h1m6 0h1m67 0h1m-136 1h2m15 0h1m4 0h1m5 0h2m5 0h1m8 0h1m5 0h1m7 0h1m3 0h1m8 0h1m-56 1h2m19 0h1m12 0h1m23 0h2m-77 1h2m13 0h1m20 0h1m4 0h1m4 0h1m12 0h1m1 0h1m12 0h1m17 0h1m-71 1h1m26 0h1m2 0h1m3 0h1m19 0h1m-65 1h2m2 0h1m3 0h1m10 0h2m7 0h1m5 0h1m1 0h2m6 0h1m9 0h1m9 0h1m-71 1h1m1 0h2m7 0h1m25 0h1m16 0h2m49 0h1m-109 1h2m4 0h1m2 0h1m4 0h1m10 0h1m11 0h1m11 0h1m8 0h1m4 0h1m2 0h1m11 0h1m-72 1h1m2 0h2m3 0h1m3 0h2m13 0h1m11 0h1m2 0h1m-44 1h2m4 0h1m2 0h1m2 0h2m2 0h2m1 0h1m5 0h1m14 0h1m2 0h1m11 0h1m28 0h1m33 0h1m-113 1h1m13 0h1m7 0h1m25 0h1m18 0h1m-89 1h1m13 0h1m14 0h1m5 0h1m32 0h1m7 0h1m11 0h2m-89 1h1m18 0h1m3 0h1m2 0h1m62 0h2m-94 1h1m19 0h1m3 0h2m4 0h1m-16 1h1m9 0h1m6 0h1m3 0h1m15 0h1m1 0h2m3 0h1m8 0h1m1 0h2m2 0h1m9 0h1m-73 1h1m1 0h1m9 0h2m12 0h1m17 0h1m31 0h1m-83 1h1m17 0h2m5 0h1m17 0h1m5 0h1m14 0h1m56 0h1m-77 1h1m2 0h1m5 0h1m9 0h1m4 0h1m3 0h1m5 0h2m-85 1h1m1 0h1m16 0h1m25 0h1m2 0h2m21 0h2m11 0h1m-46 1h1m20 0h1m11 0h1m7 0h1m7 0h1m-63 1h1m1 0h1m18 0h1m3 0h1m7 0h1m3 0h1m1 0h1m8 0h1m-76 1h1m3 0h1m4 0h1m29 0h1m1 0h2m8 0h1m10 0h1m4 0h2m16 0h1m34 0h1m-117 1h1m25 0h1m10 0h1m8 0h2m1 0h1m10 0h1m3 0h1m6 0h1m9 0h1m18 0h1m-103 1h1m28 0h1m4 0h1m3 0h1m52 0h1m-93 1h1m3 0h1m36 0h1m14 0h1m16 0h1m2 0h1m-77 1h1m2 0h2m8 0h1m2 0h2m46 0h1m-68 1h1m4 0h1m1 0h1m12 0h1m11 0h1m16 0h1m22 0h1m9 0h1m33 0h1m-114 1h1m7 0h1m41 0h1m23 0h1m5 0h1m-70 1h1m8 0h1m19 0h1m7 0h1m1 0h2m7 0h1m-55 1h1m12 0h1m25 0h1m32 0h2m29 0h1m-109 1h1m2 0h2m4 0h1m2 0h1m2 0h1m-17 1h1m2 0h2m1 0h3m3 0h2m2 0h1m5 0h1m8 0h1m8 0h1m49 0h1m-89 1h1m4 0h1m9 0h1m14 0h2m1 0h1m1 0h1m65 0h2m-101 1h2m1 0h1m10 0h1m17 0h1m65 0h1m-87 1h1m14 0h1m2 0h1m2 0h1m59 0h1m2 0h1m-100 1h1m25 0h1m6 0h1m-33 1h1m1 0h1m8 0h1m3 0h2m21 0h1m-37 1h1m9 0h1m3 0h1m7 0h2m-22 1h1m1 0h1m4 0h1m7 0h1m14 0h2m-33 1h1m24 0h1m2 0h1m2 0h2m-1 1h1m2 0h2m-37 1h1m28 0h2m-2 1h1m-13 2h1"/>
<path stroke="#b8de29" d="M167 2.5h1m0 1h1m5 0h1m2 0h1m1 0h1m-20 1h1m10 2h1m7 13h1m8 0h1m-5 2h2m-3 1h1m-4 2h1m-61 16h1m12 1h1m25 1h1m-6 3h2m6 0h1m1 1h1m-8 2h1m3 0h2m1 0h2m-5 3h1m2 1h1m-22 1h1m5 1h1m-3 1h1m1 0h3m-48 1h1m22 0h1m14 0h1m2 0h3m-45 1h1m2 0h2m20 0h1m10 0h2m5 0h1m-95 1h1m75 0h2m6 0h1m1 0h1m-87 1h1m45 0h1m27 0h1m3 0h1m12 0h1m3 0h2m-98 1h1m46 0h1m29 0h1m14 0h1m-92 1h1m46 0h2m23 0h1m1 0h2m-80 1h1m52 0h1m6 0h1m13 0h3m3 0h2m4 0h1m42 0h1m-129 1h2m49 0h1m6 0h1m18 0h1m2 0h1m-23 1h1m-61 1h1m5 0h1m66 0h1m-66 1h1m143 0h1m-153 1h1m2 0h1m3 0h2m-5 1h1m60 0h1m1 0h1m4 0h1m19 0h1m30 0h1m5 0h1m22 0h1m-149 1h1m1 0h2m1 0h1m50 0h1m2 0h2m6 0h1m1 0h1m77 0h1m-97 1h1m6 0h1m3 0h1m6 0h1m-74 1h1m60 0h1m10 0h1m79 0h1m-150 1h1m55 0h1m7 0h1m1 0h1m-70 1h1m3 0h1m1 0h2m1 0h1m44 0h1m15 0h1m1 0h1m-59 1h2m38 0h1m15 0h2m1 0h2m-71 1h1m3 0h1m1 0h1m2 0h1m41 0h1m7 0h1m1 0h1m1 0h2m1 0h2m1 0h1m-73 1h1m14 0h1m1 0h3m42 0h1m3 0h1m3 0h1m12 0h1m40 0h1m24 0h1m-149 1h2m10 0h1m36 0h1m14 0h1m1 0h1m1 0h1m1 0h2m8 0h1m1 0h2m4 0h1m-86 1h1m7 0h1m51 0h1m1 0h2m3 0h1m9 0h2m65 0h1m-144 1h1m5 0h1m36 0h1m17 0h1m2 0h1m1 0h1m1 0h1m6 0h1m63 0h1m-136 1h1m38 0h1m17 0h2m1 0h1m1 0h1m2 0h1m70 0h1m-139 1h2m53 0h1m2 0h1m1 0h1m2 0h1m74 0h1m-122 1h2m19 0h2m25 0h1m-48 1h1m10 0h1m31 0h1m3 0h1m-48 1h1m17 0h1m4 0h2m17 0h2m72 0h1m-76 1h1m72 0h2m-101 1h2m15 0h1m-31 1h1m1 0h1m16 0h2m20 0h1m10 0h1m57 0h1m-108 1h1m9 0h1m2 0h1m10 0h1m24 0h1m3 0h1m52 0h1m-106 1h1m14 0h1m23 0h1m1 0h1m-42 1h1m5 0h1m13 0h1m14 0h1m67 0h1m-137 1h1m6 0h1m31 0h2m19 0h1m12 0h1m62 0h1m-141 1h1m5 0h1m2 0h1m29 0h1m2 0h1m14 0h1m16 0h1m1 0h1m1 0h1m4 0h1m-87 1h1m1 0h1m4 0h1m3 0h1m8 0h1m27 0h1m-49 1h5m3 0h3m4 0h1m1 0h1m20 0h1m8 0h1m8 0h1m19 0h1m-80 1h1m1 0h1m3 0h1m14 0h1m27 0h1m2 0h1m14 0h1m5 0h1m10 0h1m9 0h1m48 0h1m-145 1h1m3 0h2m1 0h1m1 0h1m6 0h1m1 0h3m1 0h4m20 0h2m3 0h1m2 0h1m89 0h1m-134 1h1m1 0h1m1 0h1m2 0h1m6 0h1m22 0h1m1 0h1m2 0h1m16 0h1m3 0h1m8 0h1m59 0h1m-142 1h2m5 0h1m1 0h2m4 0h1m5 0h3m13 0h1m10 0h2m1 0h1m17 0h1m1 0h1m-68 1h1m11 0h2m4 0h1m10 0h1m2 0h1m6 0h1m3 0h2m20 0h2m-74 1h2m10 0h1m2 0h1m7 0h1m16 0h1m5 0h1m4 0h2m6 0h1m1 0h2m7 0h1m1 0h2m1 0h1m15 0h1m50 0h1m-134 1h3m1 0h1m36 0h1m1 0h1m1 0h1m6 0h2m10 0h1m1 0h1m1 0h1m4 0h2m2 0h1m9 0h1m-95 1h5m1 0h1m5 0h1m9 0h1m4 0h1m1 0h1m11 0h1m2 0h1m2 0h1m1 0h2m7 0h2m18 0h2m3 0h1m3 0h1m51 0h1m-139 1h1m3 0h1m30 0h1m6 0h1m1 0h1m1 0h1m3 0h1m15 0h1m4 0h1m8 0h1m4 0h1m-83 1h1m21 0h1m7 0h1m5 0h2m7 0h1m2 0h1m5 0h1m8 0h1m-59 1h1m1 0h1m3 0h1m4 0h1m7 0h1m2 0h1m3 0h2m5 0h1m12 0h1m2 0h1m1 0h2m75 0h1m-123 1h1m3 0h1m24 0h1m7 0h2m1 0h1m7 0h1m5 0h1m23 0h1m-80 1h4m9 0h1m9 0h1m17 0h1m1 0h2m1 0h1m1 0h1m4 0h1m-65 1h1m12 0h1m2 0h1m2 0h1m16 0h1m14 0h1m1 0h1m1 0h3m25 0h1m-70 1h2m20 0h1m2 0h1m6 0h2m1 0h1m3 0h1m1 0h1m1 0h1m1 0h1m13 0h1m12 0h1m-82 1h2m6 0h1m6 0h2m4 0h1m2 0h1m6 0h3m2 0h1m1 0h2m2 0h1m2 0h1m3 0h1m2 0h2m1 0h1m-58 1h1m2 0h1m4 0h1m3 0h2m32 0h1m2 0h1m2 0h1m5 0h1m66 0h1m-125 1h1m2 0h4m1 0h1m9 0h1m22 0h1m6 0h1m1 0h1m72 0h1m-124 1h1m6 0h1m3 0h1m4 0h3m3 0h1m1 0h2m14 0h1m17 0h1m63 0h1m-137 1h1m15 0h1m2 0h1m6 0h1m12 0h1m44 0h1m50 0h1m-136 1h1m20 0h1m2 0h1m1 0h1m7 0h1m5 0h1m1 0h1m6 0h1m54 0h1m28 0h1m-134 1h1m15 0h1m12 0h1m3 0h2m4 0h1m2 0h1m5 0h2m21 0h1m4 0h1m8 0h2m45 0h1m-133 1h1m6 0h1m3 0h1m22 0h2m49 0h2m4 0h1m39 0h1m-132 1h1m28 0h3m4 0h1m31 0h1m1 0h1m18 0h1m40 0h1m-97 1h2m15 0h1m18 0h1m-73 1h1m1 0h1m1 0h1m18 0h1m11 0h1m18 0h1m75 0h1m-113 1h1m33 0h2m17 0h1m12 0h1m5 0h1m11 0h1m-100 1h1m47 0h1m18 0h1m3 0h1m-73 1h2m3 0h1m41 0h2m2 0h2m22 0h2m4 0h2m-84 1h1m29 0h1m22 0h1m14 0h1m2 0h1m53 0h1m-125 1h1m2 0h3m24 0h1m5 0h1m12 0h1m2 0h1m14 0h2m3 0h1m49 0h1m-121 1h1m29 0h1m3 0h1m9 0h1m3 0h2m2 0h1m8 0h1m4 0h1m2 0h1m15 0h1m33 0h1m-121 1h1m1 0h1m1 0h1m44 0h1m1 0h2m1 0h1m8 0h2m55 0h1m-122 1h1m1 0h2m41 0h1m1 0h1m6 0h1m3 0h1m6 0h1m1 0h1m6 0h1m45 0h1m-126 1h1m3 0h1m3 0h1m1 0h1m46 0h1m13 0h3m10 0h1m-84 1h2m4 0h2m14 0h1m21 0h1m25 0h1m-72 1h1m1 0h2m1 0h1m2 0h1m42 0h1m17 0h1m1 0h1m4 0h1m2 0h1m2 0h2m1 0h1m33 0h2m-121 1h1m5 0h1m4 0h1m2 0h2m1 0h1m18 0h1m2 0h1m17 0h1m29 0h1m30 0h1m-119 1h1m8 0h1m1 0h1m1 0h1m8 0h1m13 0h1m20 0h1m9 0h1m2 0h1m-56 1h1m59 0h1m-68 1h2m36 0h1m-23 1h2m19 0h1m20 0h1m14 0h1m31 0h1m-108 1h1m8 0h1m10 0h1m19 0h1m64 0h1m-106 1h1m2 0h1m4 0h1m1 0h1m4 0h1m1 0h1m17 0h1m5 0h1m62 0h1m-103 1h1m6 0h1m5 0h2m3 0h1m17 0h1m61 0h1m-102 1h1m3 0h1m1 0h1m1 0h1m4 0h1m5 0h3m13 0h2m19 0h1m-58 1h1m4 0h1m5 0h2m29 0h1m53 0h1m-96 1h2m5 0h1m3 0h1m3 0h1m3 0h1m-18 1h2m2 0h2m5 0h1m48 0h1m1 0h1m17 0h2m3 0h1m-86 1h1m21 0h1m3 0h1m17 0h1m6 0h1m16 0h1m-44 1h1m1 0h1m27 0h2m14 0h1m-68 1h1m2 0h1m19 0h1m5 0h1m-29 1h1m21 0h1m8 0h1m-1 1h1m-15 1h1m10 0h1m-13 1h1m-11 1h1m8 0h1"/>
<path stroke="#e7e419" d="M183 19.5h1m-1 1h1m-36 15h1m-14 6h1m-1 1h1m24 5h1m-63 1h1m64 1h1m-26 1h1m2 0h1m-92 6h1m54 0h1m36 1h2m13 0h1m-110 1h3m81 0h1m4 0h1m1 0h1m4 0h1m1 0h1m-99 1h4m47 0h1m5 0h1m21 0h2m16 0h2m-99 1h3m48 0h1m24 0h1m1 0h1m4 0h1m3 0h1m9 0h4m-96 1h1m71 0h1m-74 1h1m46 0h1m9 0h1m16 0h1m3 0h1m22 1h1m-105 1h2m71 0h1m-75 1h1m110 0h1m-55 1h1m9 0h4m6 0h1m74 0h1m-150 1h1m50 0h1m2 0h1m4 0h1m4 0h4m-67 1h2m1 0h1m57 0h1m1 0h4m-67 1h1m2 0h1m56 0h1m3 0h2m-66 1h2m1 0h1m47 0h1m-49 1h1m7 0h1m42 0h2m10 0h1m-109 1h4m37 0h2m50 0h1m1 0h1m27 0h1m-124 1h1m3 0h2m34 0h1m1 0h1m50 0h1m14 0h1m-109 1h1m4 0h2m31 0h1m51 0h1m1 0h1m13 0h1m8 0h1m-117 1h1m6 0h1m84 0h1m3 0h1m10 0h1m2 0h1m1 0h1m-112 1h1m5 0h1m30 0h1m2 0h1m17 0h1m29 0h3m16 0h1m1 0h1m-114 1h5m5 0h1m26 0h6m13 0h2m4 0h1m30 0h1m14 0h1m1 0h1m9 0h1m37 0h1m-160 1h2m9 0h2m24 0h2m7 0h1m9 0h1m36 0h1m17 0h1m1 0h1m-114 1h1m11 0h1m23 0h1m12 0h1m5 0h1m8 0h1m27 0h1m38 0h1m7 0h1m-139 1h1m10 0h4m19 0h1m13 0h2m2 0h2m10 0h1m24 0h1m16 0h2m2 0h1m1 0h1m75 0h1m-188 1h1m12 0h5m14 0h1m17 0h2m12 0h2m30 0h1m7 0h2m1 0h1m1 0h2m25 0h1m-137 1h1m17 0h12m1 0h2m61 0h1m5 0h2m-101 1h1m27 0h3m54 0h1m1 0h1m12 0h1m5 0h1m3 0h1m-110 1h1m64 0h1m17 0h1m6 0h2m12 0h1m3 0h3m-111 1h1m64 0h2m14 0h1m-81 1h1m64 0h1m11 0h1m2 0h1m2 0h1m14 0h1m4 0h1m72 0h1m-177 1h1m74 0h1m1 0h1m9 0h1m-87 1h1m65 0h1m17 0h2m18 0h1m2 0h1m46 0h1m-155 1h1m66 0h1m4 0h2m36 0h1m-110 1h1m67 0h1m1 0h2m35 0h1m-108 1h1m67 0h3m6 0h1m10 0h1m-89 1h1m36 0h2m2 0h1m4 0h1m53 0h1m-101 1h1m25 0h1m47 0h1m1 0h1m9 0h1m3 0h1m14 0h2m-106 1h1m23 0h2m5 0h1m5 0h1m36 0h1m1 0h1m2 0h2m2 0h1m6 0h1m5 0h2m7 0h1m-106 1h1m25 0h2m3 0h1m4 0h2m2 0h1m2 0h1m47 0h2m-93 1h1m19 0h1m7 0h1m6 0h2m34 0h1m19 0h3m5 0h1m5 0h1m11 0h1m-117 1h1m23 0h4m7 0h1m4 0h1m32 0h1m19 0h1m-94 1h1m20 0h2m2 0h2m2 0h1m5 0h1m1 0h1m20 0h1m4 0h1m3 0h1m5 0h1m15 0h1m3 0h1m1 0h1m-95 1h1m21 0h4m2 0h3m5 0h2m5 0h1m15 0h1m6 0h1m1 0h1m5 0h1m15 0h1m2 0h1m-94 1h1m20 0h5m6 0h2m1 0h1m2 0h2m4 0h1m19 0h1m1 0h1m1 0h2m38 0h1m-109 1h2m18 0h6m7 0h1m1 0h2m1 0h1m21 0h1m5 0h1m1 0h1m26 0h1m10 0h3m52 0h1m-161 1h1m5 0h1m24 0h1m1 0h1m1 0h1m1 0h1m30 0h1m2 0h1m23 0h3m4 0h1m-102 1h1m27 0h1m19 0h1m19 0h2m10 0h1m16 0h3m6 0h1m-107 1h2m22 0h1m22 0h1m25 0h1m2 0h1m2 0h1m12 0h1m2 0h1m1 0h3m-99 1h1m23 0h1m5 0h3m36 0h1m2 0h1m8 0h1m15 0h1m-98 1h2m28 0h3m1 0h1m39 0h3m1 0h1m-78 1h1m28 0h1m40 0h2m1 0h1m4 0h1m-78 1h1m25 0h1m29 0h1m3 0h2m4 0h1m1 0h2m1 0h1m1 0h1m3 0h2m11 0h1m59 0h1m-150 1h1m17 0h1m12 0h1m6 0h1m16 0h1m2 0h1m7 0h1m2 0h1m2 0h1m-73 1h2m23 0h1m8 0h2m24 0h1m2 0h1m9 0h1m14 0h3m-90 1h1m20 0h2m1 0h1m6 0h1m9 0h1m19 0h1m5 0h1m-67 1h1m26 0h1m15 0h2m10 0h1m50 0h1m-106 1h1m19 0h1m1 0h2m3 0h1m11 0h1m2 0h1m-42 1h1m18 0h1m2 0h1m14 0h2m1 0h2m-42 1h2m1 0h1m15 0h1m14 0h2m16 0h1m21 0h1m-74 1h1m1 0h1m10 0h1m8 0h1m5 0h1m4 0h3m7 0h1m2 0h1m37 0h1m5 0h1m-90 1h2m12 0h1m16 0h1m1 0h3m54 0h1m-91 1h1m2 0h1m30 0h4m38 0h1m13 0h1m-91 1h1m2 0h1m69 0h1m12 0h1m-86 1h1m1 0h1m69 0h1m12 0h1m-87 1h1m1 0h1m19 0h3m31 0h1m16 0h1m-73 1h1m50 0h1m24 0h1m-78 1h2m4 0h1m44 0h1m21 0h1m-74 1h1m1 0h1m3 0h1m25 0h1m17 0h1m20 0h1m1 0h1m-74 1h2m9 0h1m19 0h1m20 0h2m19 0h1m-74 1h1m5 0h2m2 0h1m25 0h1m32 0h1m-70 1h1m38 0h1m-45 1h3m1 0h2m6 0h1m33 0h1m3 0h1m25 0h1m-77 1h2m1 0h2m2 0h2m2 0h1m1 0h1m110 0h2m-126 1h2m4 0h2m46 0h1m19 0h1m48 0h1m-124 1h2m4 0h1m33 0h1m8 0h1m24 0h1m-75 1h2m7 0h1m5 0h1m4 0h1m1 0h1m49 0h1m-72 1h1m43 0h1m28 0h1m2 0h2m-77 1h2m113 0h1m-115 1h1m-1 1h3m3 0h1m28 0h1m-34 1h1m12 0h1m8 0h1m17 0h1m-41 1h2m5 0h2m3 0h1m1 0h1m2 0h1m25 0h1m-43 1h2m1 0h1m3 0h1m1 0h2m1 0h1m-11 1h3m1 0h1m1 0h1m2 0h2m76 0h7m4 0h1m-100 1h1m1 0h2m16 0h1m15 0h1m50 0h2m5 0h1m-96 1h1m3 0h1m5 0h1m16 0h1m60 0h1m-89 1h2m10 0h2m48 0h1m1 0h1m14 0h4m-84 1h2m1 0h1m1 0h2m22 0h1m1 0h1m14 0h2m1 0h6m1 0h4m1 0h2m3 0h6m7 0h2m4 0h5m-90 1h4m2 0h1m1 0h1m2 0h1m2 0h1m31 0h1m9 0h1m4 0h1m10 0h3m4 0h1m-79 1h2m3 0h1m29 0h1m7 0h3m28 0h5m-79 1h2m3 0h1m36 0h2m-43 1h1m3 0h5m20 0h3m1 0h1m1 0h3m1 0h3m-34 1h4m13 0h5m3 0h2m-24 1h1m12 0h1m-15 1h3m8 0h1m1 0h1m-11 1h2m4 0h3m-8 1h6"/>
</g><use href="#sm"/>
</g>
<text x="110.0" y="1182.8" font-size="36.2" fill="#4d4d4d" text-anchor="end">22°S</text>
<text x="110.0" y="1286.6" font-size="36.2" fill="#4d4d4d" text-anchor="end">24°S</text>
<text x="110.0" y="1390.3" font-size="36.2" fill="#4d4d4d" text-anchor="end">26°S</text>
<text x="110.0" y="1494.0" font-size="36.2" fill="#4d4d4d" text-anchor="end">28°S</text>
<text x="110.0" y="1597.7" font-size="36.2" fill="#4d4d4d" text-anchor="end">30°S</text>
<text x="110.0" y="1701.4" font-size="36.2" fill="#4d4d4d" text-anchor="end">32°S</text>
<text x="110.0" y="1805.2" font-size="36.2" fill="#4d4d4d" text-anchor="end">34°S</text>
<text x="331.8" y="1915.3" font-size="36.2" fill="#4d4d4d" text-anchor="middle">20°E</text>
<text x="559.8" y="1915.3" font-size="36.2" fill="#4d4d4d" text-anchor="middle">25°E</text>
<text x="787.8" y="1915.3" font-size="36.2" fill="#4d4d4d" text-anchor="middle">30°E</text>
<path d="M119.54 1169.75h11.46M119.54 1273.47h11.46M119.54 1377.19h11.46M119.54 1480.91h11.46M119.54 1584.63h11.46M119.54 1688.35h11.46M119.54 1792.07h11.46M331.80 1868.6v11.46M559.80 1868.6v11.46M787.80 1868.6v11.46" stroke="#333" stroke-width="4.45" fill="none"/>
<rect x="981.8" y="1072.2" width="827.9" height="68.8" fill="#d9d9d9"/>
<text x="1395.8" y="1119.2" font-size="36.2" fill="#1a1a1a" text-anchor="middle">ub</text>
<rect x="981.8" y="1141.0" width="827.9" height="727.6" fill="#ebebeb"/>
<path d="M981.8 1169.75h827.9M981.8 1273.47h827.9M981.8 1377.19h827.9M981.8 1480.91h827.9M981.8 1584.63h827.9M981.8 1688.35h827.9M981.8 1792.07h827.9M1182.60 1141.0v727.6M1410.60 1141.0v727.6M1638.60 1141.0v727.6" stroke="#fff" stroke-width="4.45" fill="none"/>
<g transform="translate(1000.20 1169.75) scale(3.8000 4.3217)">
<g fill="none" stroke-width="1" shape-rendering="crispEdges">
<use href="#mk" fill="#470e61"/>
<path stroke="#482677" d="M164 2.5h1m-3 1h1m3 0h1m-8 1h1m12 0h1m10 0h1m-24 1h1m2 0h1m4 0h1m1 0h2m4 0h1m1 0h1m2 0h1m-28 1h1m5 0h1m3 0h1m3 0h1m6 0h1m-28 1h2m1 0h1m8 0h1m3 0h1m15 0h1m1 0h1m-35 1h2m20 0h2m2 0h1m7 0h1m-15 1h1m5 0h1m4 0h1m1 0h1m1 0h1m-31 1h2m10 0h1m1 0h1m1 0h1m3 0h1m1 0h1m3 0h1m-32 1h1m2 0h1m1 0h1m8 0h1m17 0h2m-12 1h2m9 0h1m3 0h1m-40 1h1m2 0h1m8 0h1m3 0h2m2 0h1m1 0h1m6 0h1m1 0h1m1 0h1m1 0h1m-31 1h1m3 0h1m7 0h1m1 0h1m7 0h1m2 0h2m6 0h2m-44 1h1m7 0h1m10 0h1m11 0h1m6 0h1m3 0h1m-48 1h1m4 0h2m4 0h1m15 0h1m4 0h1m2 0h1m2 0h1m5 0h1m-45 1h1m2 0h1m4 0h1m10 0h1m4 0h2m9 0h1m-32 1h1m5 0h1m2 0h4m2 0h1m1 0h1m13 0h1m12 0h1m-41 1h1m3 0h2m2 0h2m2 0h1m2 0h1m15 0h1m10 0h1m-38 1h1m2 0h2m1 0h1m5 0h1m7 0h1m1 0h2m2 0h1m10 0h1m-37 1h2m2 0h1m4 0h1m1 0h1m-31 1h1m14 0h1m8 0h1m2 0h1m6 0h1m3 0h1m4 0h1m3 0h1m-37 1h1m9 0h1m6 0h1m2 0h1m6 0h1m6 0h1m1 0h1m-36 1h1m1 0h1m3 0h1m1 0h1m21 0h1m4 0h1m7 0h1m-49 1h1m4 0h2m13 0h1m1 0h1m2 0h1m10 0h1m13 0h1m-45 1h1m7 0h1m4 0h2m19 0h4m3 0h1m2 0h1m-43 1h1m1 0h1m6 0h1m3 0h1m18 0h1m5 0h1m-46 1h1m11 0h1m2 0h1m1 0h3m1 0h1m23 0h2m-50 1h1m7 0h1m1 0h1m2 0h1m8 0h1m4 0h1m3 0h1m-40 1h3m4 0h1m2 0h1m1 0h1m3 0h1m21 0h1m12 0h1m2 0h2m2 0h1m-58 1h1m5 0h1m4 0h1m2 0h2m1 0h3m11 0h1m1 0h1m7 0h2m9 0h1m4 0h1m-62 1h1m9 0h1m1 0h1m3 0h2m9 0h1m7 0h1m2 0h1m5 0h1m15 0h1m-56 1h1m1 0h1m3 0h1m14 0h1m1 0h1m9 0h2m3 0h1m9 0h1m3 0h1m1 0h1m1 0h1m2 0h1m-63 1h1m2 0h3m18 0h1m6 0h2m9 0h2m8 0h2m4 0h2m1 0h1m-56 1h1m22 0h1m4 0h1m16 0h2m1 0h1m4 0h2m-70 1h2m5 0h1m2 0h1m19 0h1m10 0h1m1 0h2m3 0h1m14 0h1m1 0h1m3 0h1m1 0h1m-69 1h1m1 0h1m1 0h1m23 0h1m7 0h2m4 0h1m14 0h5m2 0h1m1 0h1m3 0h1m-75 1h1m3 0h1m31 0h1m1 0h1m3 0h2m3 0h1m11 0h1m2 0h2m1 0h1m2 0h1m-103 1h7m34 0h1m1 0h1m20 0h1m2 0h1m7 0h1m2 0h1m4 0h2m8 0h1m3 0h1m4 0h1m-104 1h1m1 0h6m33 0h1m1 0h1m21 0h2m12 0h1m5 0h2m12 0h1m1 0h4m-102 1h5m1 0h1m23 0h1m1 0h1m2 0h1m5 0h2m16 0h2m4 0h1m5 0h1m7 0h1m12 0h1m3 0h1m8 0h1m-109 1h7m2 0h2m25 0h1m5 0h1m2 0h1m16 0h1m2 0h1m33 0h1m1 0h1m-102 1h1m1 0h1m1 0h4m3 0h1m1 0h3m19 0h1m1 0h1m1 0h2m2 0h1m4 0h1m4 0h1m33 0h1m5 0h1m13 0h1m-110 1h4m1 0h8m2 0h3m23 0h1m4 0h1m56 0h1m-101 1h10m2 0h1m4 0h2m2 0h1m11 0h2m6 0h2m-41 1h5m1 0h2m3 0h1m4 0h2m1 0h2m2 0h1m1 0h2m3 0h1m8 0h1m43 0h1m-87 1h7m1 0h3m1 0h1m1 0h2m4 0h1m3 0h1m1 0h1m3 0h1m4 0h1m5 0h1m1 0h1m45 0h1m1 0h1m-93 1h1m3 0h6m4 0h1m2 0h3m6 0h1m7 0h1m8 0h1m-45 1h2m1 0h1m1 0h8m5 0h1m14 0h2m10 0h1m46 0h2m-96 1h1m1 0h1m1 0h1m3 0h5m1 0h2m4 0h1m1 0h1m7 0h2m5 0h2m8 0h1m1 0h1m6 0h1m37 0h1m1 0h1m-94 1h2m1 0h1m3 0h4m21 0h1m11 0h1m1 0h1m4 0h1m39 0h2m-90 1h8m5 0h1m11 0h1m18 0h1m42 0h1m2 0h1m-94 1h1m4 0h5m1 0h1m1 0h1m4 0h1m4 0h1m13 0h1m2 0h1m51 0h1m-95 1h1m1 0h10m21 0h3m8 0h2m-43 1h1m2 0h5m2 0h1m2 0h1m1 0h1m11 0h1m2 0h3m3 0h2m1 0h1m48 0h1m-95 1h1m5 0h4m1 0h4m5 0h1m14 0h2m1 0h1m1 0h1m2 0h1m-37 1h9m20 0h1m59 0h2m-91 1h6m3 0h1m15 0h1m8 0h1m54 0h1m20 0h2m-141 1h1m27 0h1m1 0h6m15 0h1m3 0h1m1 0h1m4 0h2m50 0h1m5 0h1m21 0h1m-142 1h1m1 0h1m18 0h1m8 0h5m20 0h3m1 0h2m55 0h1m3 0h1m15 0h1m5 0h1m-141 1h2m23 0h1m2 0h2m3 0h1m19 0h1m2 0h1m1 0h2m56 0h1m1 0h3m1 0h1m-121 1h1m24 0h6m14 0h1m1 0h1m8 0h1m52 0h2m3 0h3m1 0h1m3 0h1m11 0h1m2 0h1m-140 1h4m17 0h2m1 0h3m1 0h4m19 0h1m3 0h1m55 0h1m1 0h2m5 0h1m3 0h2m8 0h1m-135 1h1m14 0h1m10 0h6m1 0h1m86 0h1m3 0h1m3 0h1m3 0h1m1 0h2m-137 1h1m2 0h1m1 0h1m16 0h1m1 0h1m3 0h5m3 0h1m1 0h1m10 0h1m59 0h1m6 0h1m2 0h1m1 0h1m2 0h2m2 0h1m1 0h1m1 0h1m-132 1h1m3 0h2m19 0h1m2 0h4m2 0h2m1 0h1m88 0h1m5 0h2m1 0h1m-130 1h1m21 0h2m1 0h2m1 0h1m5 0h1m10 0h1m42 0h1m29 0h1m3 0h1m1 0h1m1 0h2m1 0h2m-114 1h1m1 0h2m1 0h1m1 0h2m1 0h1m1 0h1m15 0h1m50 0h1m12 0h1m9 0h3m7 0h1m-129 1h1m14 0h1m1 0h3m1 0h7m6 0h1m58 0h1m1 0h1m2 0h1m17 0h2m1 0h1m6 0h6m-116 1h1m1 0h1m1 0h3m1 0h1m1 0h1m1 0h1m1 0h1m2 0h1m2 0h1m58 0h3m16 0h4m8 0h2m-114 1h1m1 0h1m2 0h6m1 0h2m94 0h1m4 0h1m-128 1h2m17 0h2m1 0h6m2 0h3m2 0h1m1 0h1m76 0h2m1 0h2m8 0h1m1 0h1m-183 1h1m61 0h1m7 0h2m1 0h7m3 0h2m1 0h1m1 0h1m10 0h1m67 0h2m1 0h4m1 0h1m1 0h1m1 0h1m1 0h1m-183 1h1m65 0h1m3 0h1m2 0h5m4 0h1m2 0h1m11 0h1m77 0h1m4 0h1m-181 1h2m54 0h1m14 0h1m2 0h1m3 0h2m2 0h1m1 0h1m1 0h1m1 0h1m3 0h2m70 0h1m1 0h3m4 0h1m-173 1h1m68 0h2m2 0h2m4 0h1m5 0h1m4 0h1m2 0h1m69 0h3m2 0h1m5 0h1m3 0h2m-181 1h1m41 0h1m13 0h1m13 0h5m4 0h1m4 0h2m6 0h1m1 0h1m68 0h1m2 0h2m8 0h1m1 0h1m-181 1h1m45 0h2m10 0h1m18 0h2m11 0h2m1 0h1m2 0h1m69 0h1m4 0h1m4 0h4m1 0h2m-185 1h1m2 0h1m44 0h3m7 0h1m1 0h1m14 0h1m2 0h6m1 0h2m5 0h1m83 0h1m3 0h1m1 0h1m-179 1h1m51 0h1m21 0h3m13 0h1m84 0h2m-134 1h1m4 0h1m5 0h1m3 0h1m13 0h6m2 0h1m4 0h1m75 0h1m2 0h2m9 0h2m2 0h1m-170 1h1m36 0h1m11 0h1m7 0h1m5 0h4m1 0h1m6 0h1m42 0h1m21 0h1m15 0h1m5 0h1m1 0h2m2 0h1m-135 1h2m5 0h1m18 0h2m2 0h1m1 0h1m12 0h1m31 0h1m39 0h1m5 0h1m1 0h2m5 0h1m-121 1h2m16 0h1m1 0h1m80 0h1m9 0h3m-114 1h1m9 0h1m2 0h1m2 0h1m87 0h1m-103 1h1m6 0h1m1 0h1m1 0h2m1 0h1m92 0h1m1 0h2m-148 1h1m2 0h1m43 0h2m-51 1h1m2 0h1m2 0h1m135 0h3m1 0h4m-152 1h1m2 0h2m143 0h1m2 0h1m1 0h1m-151 1h1m137 0h2m4 0h1m5 0h1m-105 1h1m84 0h1m9 0h1m4 0h2m-18 1h2m1 0h1m12 0h1m1 0h1m-108 1h1m97 0h1m1 0h2m-151 1h1m48 0h1m90 0h4m6 0h1m-151 1h1m54 0h2m78 0h1m3 0h1m2 0h1m1 0h1m1 0h1m5 0h2m-154 1h1m38 0h1m99 0h1m2 0h1m3 0h2m5 0h1m-155 1h1m97 0h2m36 0h1m-134 1h1m132 0h1m6 0h1m10 0h1m-52 1h1m31 0h2m6 0h1m-142 1h1m1 0h1m3 0h2m100 0h1m27 0h1m3 0h1m-140 1h3m-4 1h1m2 0h1m1 0h1m3 0h1m116 0h1m8 0h1m9 0h1m-140 1h1m1 0h2m21 0h1m95 0h1m2 0h1m1 0h1m6 0h2m-143 1h1m1 0h1m5 0h1m110 0h2m9 0h1m7 0h1m1 0h1m2 0h2m2 0h2m-151 1h1m2 0h3m1 0h1m7 0h1m105 0h1m4 0h1m2 0h3m2 0h1m3 0h1m1 0h1m3 0h2m3 0h1m-148 1h3m53 0h1m60 0h2m3 0h1m3 0h1m8 0h1m5 0h1m-40 1h1m1 0h1m3 0h1m1 0h1m3 0h1m1 0h1m11 0h1m3 0h1m1 0h1m2 0h1m2 0h1m4 0h1m-145 1h1m108 0h1m5 0h1m7 0h1m6 0h1m9 0h1m5 0h1m-53 1h1m15 0h2m29 0h1m-18 1h1m4 0h2m3 0h2m4 0h3m-27 1h1m7 0h1m2 0h1m2 0h1m11 0h1m-134 1h1m0 1h1m47 0h1m30 0h1m33 0h1m8 0h1m-66 1h1m18 0h1m12 0h1m2 0h1m4 0h2m11 0h1m8 0h1m-16 1h1m6 0h1m7 0h1m2 0h1m-68 1h1m43 0h1m5 0h1m-29 1h2m17 0h3m12 0h1m4 0h1m2 0h1m-79 1h1m29 0h1m4 0h1m1 0h1m25 0h1m1 0h1m4 0h1m4 0h1m1 0h2m3 0h1m-14 1h1m6 0h2m-83 1h1m3 0h1m57 0h1m8 0h2m3 0h1m6 0h1m-79 1h1m47 0h1m13 0h1m1 0h1m2 0h1m3 0h5m1 0h2m-83 1h1m52 0h1m4 0h1m11 0h2m2 0h1m4 0h1m-28 1h3m6 0h1m9 0h2m5 0h1m1 0h1m-26 1h1m17 0h1m1 0h2m4 0h1m-26 1h1m14 0h2m2 0h1m1 0h1m-25 1h1m4 0h1m5 0h1m-83 1h1m53 0h1m17 0h1m11 0h1m1 0h1m3 0h1m1 0h1m1 0h1m-22 1h3m7 0h1m6 0h1m3 0h1m-96 1h2m72 0h1m2 0h1m7 0h1m2 0h1m1 0h2m-93 1h1m75 0h1m6 0h1m1 0h2m4 0h1m-77 1h1m67 0h1m3 0h1m-19 1h1m6 0h1m7 0h2m-83 1h1m31 0h1m33 0h1m7 0h2m4 0h1m-42 1h1m25 0h1m1 0h1m15 0h1m-35 1h1m15 0h1m11 0h3m3 0h1m-27 1h2m3 0h1m6 0h1m5 0h1m-53 1h1m7 0h1m8 0h1m3 0h2m19 0h1m1 0h1m6 0h1m4 0h1m1 0h1m-59 1h1m10 0h1m3 0h1m3 0h2m11 0h2m2 0h1m3 0h1m7 0h1m1 0h3m-48 1h1m1 0h1m5 0h3m14 0h1m3 0h1m9 0h1m2 0h1m2 0h2m-52 1h1m3 0h1m10 0h1m3 0h2m11 0h2m1 0h1m-27 1h1m4 0h1m6 0h1m6 0h1m3 0h1m1 0h3m-24 1h1m6 0h2m12 0h1m-24 1h2m12 0h1m11 0h1m1 0h1m-65 2h1m53 0h1m-66 1h1m1 0h2m3 0h1m-8 1h2m2 0h1m-2 2h1"/>
<path stroke="#433d84" d="M157 3.5h1m17 1h1m5 0h1m-9 1h1m5 0h2m-28 1h1m7 0h1m1 0h1m13 0h1m1 0h1m1 0h1m-11 1h2m-26 1h1m12 0h1m7 0h1m3 0h1m2 0h1m4 0h1m-33 1h1m27 0h2m2 0h1m-1 1h1m-28 2h1m22 0h1m-13 1h1m9 0h1m-29 1h1m1 0h2m24 0h1m3 0h1m-36 1h1m5 0h1m3 0h1m20 0h1m6 0h1m-38 1h1m5 0h1m-12 1h1m2 0h1m3 0h1m2 0h1m18 0h1m6 0h1m4 0h1m-43 1h1m38 0h2m-38 1h1m26 0h1m2 0h1m-23 1h1m1 0h1m5 0h1m2 0h1m3 0h1m14 0h1m-40 1h1m8 0h1m4 0h1m16 0h2m1 0h1m-20 1h1m17 0h1m3 0h1m2 0h1m-29 1h1m4 0h1m16 0h1m-38 1h1m5 0h1m3 0h2m2 0h1m33 0h1m2 0h1m-47 1h1m4 0h1m3 0h1m1 0h1m34 0h1m-47 2h2m15 0h1m15 0h1m6 0h1m-45 1h1m5 0h1m8 0h1m22 0h1m3 0h1m-30 1h1m8 0h1m20 0h2m1 0h2m1 0h1m-48 1h1m1 0h2m6 0h1m3 0h1m9 0h1m21 0h1m-64 1h1m4 0h1m2 0h1m14 0h1m23 0h1m13 0h1m-54 1h1m2 0h1m4 0h2m4 0h1m3 0h1m12 0h1m-36 1h3m4 0h1m5 0h1m8 0h1m3 0h1m27 0h1m-53 1h2m4 0h1m13 0h1m3 0h1m2 0h1m6 0h2m7 0h1m10 0h1m-65 1h1m3 0h1m7 0h1m1 0h1m2 0h2m14 0h1m2 0h1m5 0h1m12 0h1m8 0h2m4 0h3m-55 1h1m10 0h1m3 0h1m8 0h1m6 0h1m10 0h1m3 0h1m1 0h2m-68 1h1m21 0h1m5 0h1m18 0h1m23 0h1m-71 1h1m2 0h2m10 0h1m3 0h1m15 0h1m10 0h1m15 0h1m2 0h1m2 0h1m3 0h1m-72 1h2m31 0h1m2 0h1m2 0h1m4 0h2m21 0h1m2 0h1m-108 1h1m6 0h1m26 0h1m3 0h1m4 0h1m22 0h1m6 0h1m1 0h1m5 0h2m25 0h1m-111 1h4m7 0h1m29 0h1m20 0h1m3 0h1m10 0h1m9 0h1m19 0h1m-108 1h1m37 0h2m32 0h1m31 0h1m2 0h1m-109 1h2m1 0h1m1 0h1m50 0h1m31 0h1m22 0h1m-108 1h1m33 0h1m47 0h2m20 0h1m-110 1h2m1 0h1m16 0h1m3 0h1m15 0h1m1 0h1m15 0h1m28 0h2m-89 1h6m8 0h1m22 0h1m1 0h1m6 0h1m2 0h1m42 0h1m14 0h1m-108 1h1m1 0h1m11 0h1m6 0h1m6 0h1m1 0h1m9 0h1m2 0h1m1 0h1m1 0h1m42 0h2m18 0h1m-111 1h2m1 0h3m11 0h1m9 0h1m1 0h1m1 0h2m8 0h2m4 0h1m43 0h1m1 0h1m-97 1h1m1 0h2m2 0h1m1 0h1m11 0h1m6 0h1m22 0h1m3 0h1m-55 1h2m1 0h1m1 0h1m1 0h3m10 0h2m5 0h2m26 0h1m39 0h1m-97 1h1m1 0h1m2 0h1m2 0h1m1 0h2m19 0h1m2 0h1m4 0h1m11 0h1m-54 1h7m1 0h3m29 0h1m4 0h1m7 0h2m-56 1h1m3 0h5m1 0h4m10 0h1m4 0h1m68 0h1m1 0h1m-98 1h1m2 0h1m1 0h1m14 0h2m4 0h1m17 0h1m6 0h1m40 0h1m1 0h2m-100 1h2m5 0h1m1 0h2m1 0h2m39 0h1m44 0h1m-101 1h1m3 0h1m1 0h1m1 0h5m4 0h1m5 0h1m16 0h1m5 0h1m55 0h1m-104 1h1m5 0h1m2 0h6m9 0h1m15 0h1m6 0h1m1 0h1m1 0h1m49 0h1m-116 1h2m14 0h1m3 0h2m2 0h5m6 0h1m5 0h1m17 0h2m3 0h2m49 0h3m19 0h1m7 0h1m-141 1h1m6 0h1m2 0h1m4 0h2m2 0h2m1 0h1m1 0h1m23 0h1m5 0h1m55 0h1m1 0h2m20 0h1m-140 1h1m1 0h1m13 0h1m1 0h2m1 0h1m1 0h8m8 0h1m11 0h1m10 0h1m53 0h1m5 0h1m15 0h1m2 0h1m2 0h1m-140 1h1m7 0h1m4 0h5m1 0h4m1 0h2m3 0h1m3 0h1m16 0h1m33 0h1m24 0h2m2 0h1m1 0h1m17 0h1m2 0h3m-138 1h1m2 0h1m1 0h2m1 0h2m2 0h2m3 0h1m1 0h5m19 0h1m9 0h2m52 0h1m4 0h1m7 0h1m10 0h1m3 0h1m-135 1h1m6 0h1m2 0h1m3 0h1m1 0h1m2 0h1m3 0h1m5 0h1m24 0h1m53 0h1m6 0h1m-116 1h2m2 0h1m3 0h1m5 0h8m36 0h1m50 0h2m2 0h1m1 0h1m5 0h1m7 0h1m4 0h1m1 0h1m-136 1h1m3 0h1m2 0h1m5 0h3m1 0h1m1 0h3m11 0h1m2 0h1m1 0h1m50 0h1m16 0h1m2 0h1m1 0h1m4 0h1m13 0h1m3 0h1m-142 1h1m2 0h2m3 0h3m1 0h1m3 0h1m1 0h1m1 0h2m1 0h4m1 0h2m5 0h1m5 0h1m22 0h1m31 0h1m16 0h1m5 0h1m18 0h1m-133 1h1m2 0h1m2 0h1m3 0h1m1 0h2m4 0h6m2 0h1m2 0h1m7 0h1m7 0h2m40 0h1m13 0h2m6 0h3m6 0h2m2 0h2m-120 1h2m4 0h2m1 0h2m2 0h2m1 0h1m4 0h1m4 0h1m31 0h1m25 0h1m3 0h1m3 0h2m4 0h1m14 0h1m1 0h1m13 0h1m-133 1h1m8 0h1m5 0h2m1 0h1m3 0h1m7 0h1m3 0h1m2 0h1m60 0h1m11 0h1m1 0h1m1 0h1m8 0h1m3 0h1m-126 1h2m3 0h3m5 0h3m1 0h1m1 0h1m14 0h1m57 0h3m17 0h1m9 0h1m6 0h1m-131 1h1m4 0h1m5 0h1m2 0h1m3 0h2m10 0h1m1 0h1m29 0h1m28 0h1m5 0h1m17 0h2m1 0h1m-112 1h1m4 0h8m2 0h1m44 0h1m15 0h1m13 0h1m14 0h1m1 0h1m-168 1h1m1 0h1m53 0h2m4 0h1m1 0h7m2 0h1m14 0h1m51 0h1m21 0h2m2 0h1m14 0h1m-180 1h1m52 0h2m5 0h1m1 0h1m2 0h3m1 0h2m19 0h1m74 0h1m11 0h1m-119 1h1m4 0h1m1 0h3m1 0h2m2 0h1m4 0h1m3 0h1m25 0h1m37 0h1m10 0h1m4 0h1m-164 1h1m60 0h1m1 0h1m1 0h2m3 0h2m3 0h1m6 0h1m10 0h1m1 0h1m33 0h1m30 0h2m3 0h1m8 0h1m4 0h2m-182 1h1m53 0h1m3 0h1m3 0h7m5 0h3m2 0h1m1 0h1m6 0h2m2 0h1m1 0h1m65 0h1m2 0h2m9 0h1m4 0h2m-186 1h1m45 0h1m8 0h1m5 0h1m2 0h1m2 0h3m1 0h8m3 0h1m3 0h1m72 0h1m12 0h1m-172 1h2m1 0h1m39 0h1m9 0h1m1 0h1m4 0h1m1 0h1m1 0h3m1 0h5m2 0h2m15 0h1m73 0h1m1 0h1m1 0h1m11 0h2m-139 1h1m15 0h1m1 0h1m5 0h8m3 0h1m2 0h4m2 0h1m4 0h1m79 0h1m-175 1h3m8 0h1m33 0h1m6 0h1m6 0h1m5 0h5m2 0h1m1 0h1m7 0h1m2 0h1m46 0h1m44 0h1m2 0h1m-180 1h2m42 0h2m1 0h2m1 0h1m6 0h1m1 0h1m2 0h1m4 0h2m1 0h5m54 0h1m1 0h2m1 0h1m32 0h1m10 0h2m1 0h1m-152 1h1m13 0h1m9 0h1m2 0h4m4 0h1m2 0h4m60 0h1m34 0h1m2 0h1m3 0h1m2 0h1m1 0h1m-120 1h1m1 0h1m3 0h1m1 0h2m1 0h2m4 0h1m45 0h1m37 0h1m1 0h1m11 0h3m-128 1h1m9 0h2m2 0h1m2 0h1m1 0h2m92 0h1m10 0h1m-149 1h1m32 0h1m8 0h1m93 0h1m13 0h1m-155 1h1m4 0h1m39 0h1m1 0h1m12 0h1m76 0h2m2 0h1m1 0h1m4 0h1m1 0h2m1 0h1m-156 1h1m1 0h2m4 0h1m43 0h1m82 0h1m6 0h1m8 0h1m1 0h1m-154 1h2m3 0h1m46 0h1m47 0h1m33 0h2m2 0h1m4 0h1m1 0h1m3 0h1m1 0h1m-168 1h2m15 0h1m2 0h1m77 0h2m18 0h1m29 0h1m2 0h1m8 0h1m3 0h1m-149 1h1m131 0h1m3 0h1m1 0h1m-155 1h1m108 0h1m40 0h1m4 0h1m11 0h1m-119 1h1m1 0h1m8 0h1m84 0h2m3 0h3m5 0h1m3 0h1m-109 1h1m5 0h1m28 0h1m58 0h2m4 0h1m1 0h1m2 0h1m-149 1h2m40 0h1m41 0h1m55 0h1m3 0h1m3 0h1m-151 1h1m51 0h1m1 0h1m20 0h1m59 0h1m-134 1h1m44 0h1m86 0h1m2 0h1m-137 1h2m1 0h1m93 0h2m35 0h1m-139 1h1m5 0h1m1 0h1m1 0h1m2 0h1m68 0h1m53 0h1m10 0h1m-139 1h2m36 0h1m54 0h1m35 0h2m6 0h1m-148 1h1m9 0h2m119 0h2m3 0h1m4 0h1m5 0h1m-149 1h1m2 0h1m4 0h1m6 0h1m103 0h2m26 0h1m8 0h1m-156 1h1m3 0h1m6 0h1m1 0h1m105 0h2m9 0h1m6 0h1m2 0h1m-138 1h1m3 0h1m2 0h2m108 0h3m12 0h1m9 0h1m-136 1h1m7 0h2m89 0h1m9 0h2m13 0h1m3 0h1m-137 1h2m3 0h1m1 0h1m8 0h1m6 0h1m83 0h1m8 0h1m5 0h1m11 0h3m8 0h1m-144 1h4m52 0h1m58 0h1m11 0h1m13 0h1m-46 1h1m17 0h2m-33 1h1m14 0h1m1 0h1m23 0h1m7 0h1m3 0h1m-89 1h1m66 0h1m8 0h1m1 0h1m-78 1h1m45 0h2m10 0h1m18 0h1m3 0h1m-118 1h1m34 0h1m1 0h1m33 0h1m28 0h1m10 0h1m2 0h1m2 0h1m1 0h2m-56 1h1m24 0h1m3 0h1m8 0h1m10 0h1m6 0h2m-123 1h1m71 0h1m40 0h1m-39 1h1m1 0h1m15 0h1m1 0h1m1 0h1m14 0h1m-113 1h1m101 0h1m-10 1h1m5 0h1m15 0h1m-17 1h2m2 0h1m7 0h1m1 0h1m-75 1h3m12 0h1m30 0h1m4 0h1m15 0h1m4 0h1m-101 1h1m77 0h1m8 0h1m15 0h2m-79 1h1m50 0h4m12 0h1m2 0h1m-78 1h2m5 0h1m1 0h1m15 0h1m35 0h1m4 0h1m4 0h1m-71 1h1m2 0h1m56 0h1m2 0h1m2 0h1m3 0h1m2 0h1m11 0h3m-83 1h1m50 0h1m3 0h4m1 0h1m1 0h1m2 0h2m14 0h1m-29 1h1m13 0h1m-15 1h2m20 0h1m-60 1h1m34 0h1m3 0h1m7 0h1m2 0h1m10 0h1m-112 1h1m90 0h1m2 0h1m-82 1h1m2 0h1m47 0h1m24 0h2m5 0h1m1 0h1m1 0h1m-93 1h1m5 0h1m35 0h1m25 0h1m2 0h1m8 0h1m5 0h1m2 0h1m-81 1h1m58 0h1m2 0h1m1 0h1m6 0h2m4 0h2m3 0h1m-84 1h1m61 0h2m10 0h1m-11 1h1m8 0h1m5 0h1m-78 1h1m17 0h1m43 0h1m1 0h1m14 0h1m2 0h2m-49 1h1m22 0h2m4 0h4m-7 1h2m1 0h2m-35 1h1m8 0h1m15 0h1m2 0h1m8 0h1m4 0h1m1 0h1m2 0h1m-57 1h1m4 0h2m1 0h1m4 0h1m12 0h1m14 0h1m12 0h1m-71 1h1m24 0h1m9 0h1m8 0h1m3 0h1m18 0h1m-42 1h1m13 0h1m3 0h1m4 0h1m-38 2h1m6 0h1m19 0h1m4 0h1m5 0h2m-60 1h1m24 0h1m18 0h4m13 0h1m-68 1h1m52 0h3m-64 1h1m5 0h1m5 1h1m-6 1h1m-4 1h2m1 1h1m-6 1h1"/>
<path stroke="#3b528b" d="M171 4.5h1m6 0h1m1 0h1m-9 1h1m-8 1h1m4 0h1m-17 1h1m15 0h1m-2 1h1m11 0h1m-24 2h1m7 0h1m-10 2h1m8 0h1m12 0h1m-37 1h1m14 1h1m-18 1h1m5 0h1m17 0h1m3 0h1m5 0h1m2 0h1m3 0h1m-47 1h1m2 0h2m20 0h1m-21 1h1m32 0h1m3 0h1m-46 1h1m21 0h1m13 0h1m4 0h1m11 0h1m-12 1h1m-21 1h1m-3 1h1m27 0h1m-47 1h1m13 0h1m26 0h1m-41 1h1m11 0h1m5 0h1m4 0h1m11 0h1m8 0h1m-28 1h1m5 0h1m12 0h1m8 0h1m-34 1h2m2 0h1m1 0h1m32 0h1m2 0h1m-37 1h2m-10 1h1m7 1h1m1 0h1m-9 1h1m3 0h2m23 0h1m5 0h1m-40 1h1m7 0h1m10 0h1m-25 1h1m3 0h1m8 0h1m15 0h1m-41 1h1m7 1h1m6 0h2m11 0h1m-20 1h1m31 0h1m14 0h1m-50 1h1m2 0h1m2 0h1m11 0h1m15 0h1m-36 1h1m6 0h1m13 0h1m13 0h1m-122 1h1m74 0h1m1 0h1m6 0h1m5 0h1m1 0h1m15 0h1m32 0h1m-69 1h1m21 0h1m46 0h2m-141 1h1m68 0h1m23 0h1m1 0h1m5 0h1m5 0h1m28 0h1m1 0h2m-138 1h1m65 0h1m1 0h1m1 0h1m5 0h1m16 0h1m7 0h1m5 0h1m2 0h1m15 0h1m9 0h2m-67 1h1m1 0h1m27 0h1m1 0h1m17 0h1m11 0h2m-107 1h1m36 0h1m4 0h1m6 0h1m5 0h1m27 0h4m1 0h1m-41 1h1m16 0h1m21 0h1m16 0h3m3 0h1m-135 1h1m80 0h1m3 0h1m26 0h1m15 0h1m-104 1h1m12 0h1m23 0h1m67 0h1m-61 1h1m40 0h1m21 0h1m-110 1h1m17 0h1m6 0h1m8 0h2m5 0h1m11 0h2m33 0h1m21 0h1m-87 1h1m4 0h1m9 0h1m-73 1h1m29 0h1m15 0h1m7 0h2m1 0h1m4 0h1m1 0h1m15 0h1m4 0h1m1 0h2m35 0h1m-97 1h1m25 0h1m16 0h2m8 0h1m41 0h1m-95 1h1m1 0h2m17 0h1m31 0h1m41 0h1m-92 1h1m17 0h1m12 0h1m20 0h1m3 0h1m-89 1h1m26 0h1m22 0h1m9 0h1m18 0h1m4 0h1m3 0h1m32 0h1m-99 1h4m1 0h1m20 0h1m9 0h2m21 0h2m1 0h1m3 0h1m-88 1h1m19 0h1m2 0h3m1 0h1m1 0h1m45 0h1m42 0h1m2 0h1m-104 1h1m1 0h3m1 0h1m24 0h1m13 0h1m7 0h1m1 0h1m6 0h1m36 0h2m1 0h1m-104 1h1m1 0h3m1 0h1m1 0h2m34 0h1m1 0h1m6 0h1m45 0h3m1 0h1m21 0h1m-140 1h1m2 0h3m3 0h3m1 0h3m2 0h3m2 0h2m34 0h1m17 0h1m35 0h1m1 0h1m23 0h1m2 0h4m-146 1h1m1 0h1m1 0h1m3 0h2m1 0h2m1 0h2m1 0h2m1 0h1m2 0h2m13 0h4m20 0h1m49 0h3m2 0h1m21 0h1m4 0h1m-139 1h4m1 0h4m1 0h1m1 0h1m2 0h1m17 0h1m1 0h1m9 0h1m3 0h1m53 0h1m3 0h2m4 0h1m20 0h1m2 0h1m3 0h1m-147 1h1m1 0h1m3 0h7m1 0h2m1 0h1m5 0h1m26 0h1m73 0h1m12 0h1m1 0h1m-140 1h1m9 0h1m2 0h1m2 0h2m2 0h3m35 0h1m6 0h1m15 0h2m25 0h1m7 0h2m-109 1h5m2 0h1m1 0h3m1 0h1m32 0h1m4 0h1m19 0h1m23 0h1m8 0h1m5 0h1m18 0h3m1 0h1m-141 1h1m6 0h2m1 0h3m1 0h2m2 0h1m23 0h1m4 0h1m12 0h1m25 0h1m6 0h1m5 0h1m1 0h1m7 0h1m3 0h1m2 0h1m2 0h1m20 0h1m-134 1h1m3 0h2m1 0h5m18 0h1m12 0h1m2 0h1m38 0h2m16 0h1m2 0h2m3 0h1m1 0h1m-111 1h1m1 0h3m1 0h1m1 0h1m2 0h1m19 0h1m11 0h1m39 0h1m5 0h1m7 0h1m2 0h1m2 0h1m14 0h1m9 0h1m1 0h1m-132 1h1m2 0h3m1 0h1m2 0h3m18 0h1m48 0h1m4 0h1m1 0h1m2 0h1m8 0h1m4 0h1m12 0h1m12 0h1m-135 1h1m1 0h1m5 0h2m2 0h1m2 0h2m6 0h1m49 0h1m8 0h3m2 0h1m1 0h1m3 0h3m5 0h1m1 0h1m8 0h2m13 0h1m4 0h1m1 0h1m-133 1h1m1 0h2m1 0h3m1 0h5m31 0h1m41 0h1m1 0h1m2 0h2m1 0h1m18 0h1m8 0h2m-122 1h3m3 0h1m3 0h1m46 0h1m10 0h1m13 0h1m4 0h1m8 0h1m10 0h1m18 0h1m-128 1h3m1 0h5m2 0h1m17 0h1m60 0h1m6 0h1m6 0h1m6 0h1m18 0h1m-133 1h1m2 0h1m1 0h2m1 0h4m25 0h1m33 0h1m19 0h2m15 0h1m20 0h1m-129 1h1m3 0h4m29 0h1m2 0h1m69 0h1m18 0h1m-181 1h1m54 0h4m1 0h1m1 0h1m20 0h1m6 0h1m43 0h1m10 0h1m34 0h1m-181 1h1m53 0h4m1 0h1m1 0h2m1 0h1m7 0h1m20 0h2m15 0h1m18 0h1m30 0h1m-106 1h1m1 0h3m1 0h1m1 0h1m2 0h1m-12 1h1m1 0h3m20 0h1m7 0h1m6 0h1m61 0h1m13 0h1m8 0h1m-183 1h2m1 0h1m54 0h1m1 0h2m14 0h1m7 0h1m7 0h1m1 0h1m63 0h1m21 0h2m-181 1h1m50 0h1m10 0h1m5 0h1m12 0h1m6 0h1m1 0h1m61 0h1m1 0h2m6 0h1m12 0h1m-181 1h3m1 0h1m38 0h1m8 0h1m3 0h1m1 0h1m6 0h4m13 0h1m61 0h2m13 0h1m24 0h1m-182 1h1m6 0h1m33 0h1m8 0h1m16 0h2m1 0h1m7 0h1m4 0h1m6 0h1m36 0h1m2 0h1m11 0h1m11 0h1m16 0h1m9 0h1m-132 1h2m2 0h1m1 0h1m6 0h2m19 0h1m4 0h1m61 0h1m11 0h2m5 0h1m-172 1h1m10 0h1m35 0h1m1 0h2m4 0h1m5 0h1m3 0h1m7 0h1m2 0h1m1 0h3m49 0h1m17 0h1m-149 1h1m26 0h1m32 0h1m5 0h1m2 0h1m89 0h1m1 0h1m9 0h1m1 0h1m-174 1h1m24 0h2m19 0h1m11 0h1m12 0h1m7 0h1m37 0h1m39 0h2m4 0h1m5 0h1m4 0h1m-174 1h1m21 0h1m4 0h1m13 0h1m3 0h1m2 0h1m13 0h1m5 0h1m84 0h1m5 0h1m4 0h1m7 0h2m-152 1h1m3 0h1m46 0h1m52 0h1m25 0h1m-152 1h1m1 0h1m20 0h1m18 0h1m4 0h1m16 0h1m53 0h1m31 0h2m5 0h1m5 0h1m-164 1h1m20 0h1m4 0h1m38 0h1m83 0h1m3 0h1m2 0h3m-142 1h1m13 0h1m10 0h1m22 0h1m87 0h3m11 0h1m-166 1h1m6 0h1m2 0h1m3 0h1m101 0h1m38 0h1m3 0h2m-147 1h2m1 0h1m76 0h1m51 0h1m-148 1h1m9 0h1m37 0h1m12 0h1m31 0h1m54 0h1m7 0h1m8 0h1m-155 1h1m1 0h1m133 0h1m7 0h1m2 0h1m4 0h1m-155 1h1m6 0h1m34 0h1m5 0h1m3 0h1m52 0h1m31 0h1m-145 1h1m8 0h1m66 0h1m8 0h1m2 0h1m54 0h2m-139 1h1m70 0h1m40 0h1m32 0h1m-151 1h1m3 0h2m6 0h1m124 0h2m1 0h1m-141 1h1m1 0h1m2 0h1m2 0h1m1 0h1m4 0h1m-16 1h1m1 0h1m6 0h1m1 0h1m4 0h1m66 0h1m-83 1h1m13 0h1m61 0h1m54 0h1m-130 1h1m3 0h1m2 0h1m1 0h1m1 0h1m96 0h1m26 0h1m5 0h1m13 0h1m-151 1h1m1 0h3m99 0h1m3 0h1m-107 1h2m6 0h1m100 0h2m10 0h2m15 0h1m-146 1h1m14 0h1m87 0h1m2 0h2m5 0h1m1 0h1m-109 1h1m7 0h1m88 0h2m8 0h1m1 0h1m-116 1h2m105 0h1m5 0h1m-113 1h1m108 0h1m-82 1h1m18 0h1m46 0h1m3 0h1m1 0h1m10 0h1m14 0h1m7 0h1m-105 1h1m69 0h2m12 0h2m18 0h2m-125 1h1m123 0h1m-57 1h1m19 0h1m6 0h1m23 0h1m4 0h1m-123 1h1m36 0h1m54 0h1m3 0h1m12 0h1m3 0h1m2 0h1m1 0h1m-121 1h1m20 0h1m66 0h1m14 0h1m1 0h1m9 0h1m-112 1h1m109 0h1m-110 1h1m53 0h1m17 0h1m1 0h1m15 0h1m2 0h1m2 0h1m14 0h1m-11 1h1m6 0h1m-113 1h1m38 0h1m2 0h1m54 0h1m-60 1h1m47 0h1m8 0h1m5 0h1m1 0h1m11 0h1m-110 1h1m28 0h1m36 0h2m18 0h1m1 0h1m1 0h1m16 0h1m-109 1h1m82 0h1m5 0h1m4 0h1m22 0h1m-119 1h2m47 0h1m33 0h1m-1 1h1m6 0h1m2 0h1m4 0h1m-15 1h1m2 0h1m-82 1h1m3 0h1m36 0h1m1 0h1m33 0h1m6 0h1m4 0h1m1 0h1m1 0h2m-9 1h2m2 0h1m1 0h1m1 0h2m-98 1h1m8 0h1m-2 1h1m73 0h1m6 0h1m13 0h1m-103 1h1m11 0h1m12 0h1m48 0h1m1 0h1m4 0h1m10 0h1m8 0h3m-93 1h1m2 0h1m55 0h1m1 0h1m8 0h1m8 0h1m-76 1h1m12 0h1m14 0h1m31 0h1m3 0h1m13 0h1m5 0h1m-55 1h1m26 0h1m22 0h1m-51 1h1m1 0h1m24 0h1m6 0h1m9 0h1m5 0h2m-53 1h1m11 1h1m12 0h2m2 0h1m17 0h3m1 0h1m-79 1h1m14 0h1m18 0h2m6 0h1m7 0h1m4 0h1m3 0h1m2 0h1m8 0h1m-48 1h1m12 0h1m4 0h1m7 0h1m12 0h1m8 0h1m-53 1h1m4 0h1m1 0h1m7 0h1m3 0h2m10 0h1m10 0h1m1 0h1m5 0h2m-52 1h1m8 0h1m5 0h1m2 0h1m6 0h1m3 0h1m12 0h1m-49 1h2m6 0h2m19 0h1m-2 1h2m-24 1h1m21 0h1m-56 1h1m36 0h1m2 0h1m2 0h1m14 0h1m-59 1h1m24 0h1m15 0h1m16 0h1m-61 1h1m1 0h1m5 0h1m-15 2h1m13 0h1m-14 1h1m7 4h1"/>
<path stroke="#32658e" d="M171 3.5h1m-17 2h1m13 1h1m1 3h1m-11 1h1m9 0h1m-11 1h1m9 0h1m2 0h1m0 1h1m-15 1h1m-20 1h1m23 0h2m13 0h1m-19 1h1m19 0h1m-21 1h1m10 0h1m1 0h1m6 0h2m-21 1h1m-17 1h1m21 0h1m5 0h1m4 0h1m-5 1h1m-1 1h1m10 0h1m-13 1h1m2 0h1m7 0h1m-48 1h1m16 0h1m30 0h1m-49 1h1m34 0h1m-43 1h2m20 0h2m15 1h1m-16 1h1m8 0h1m17 0h2m-36 1h1m2 0h1m4 0h1m-8 1h1m6 1h1m18 1h1m-25 1h1m-24 1h1m10 0h1m2 0h1m3 0h1m2 0h1m2 0h1m5 0h1m17 0h1m2 0h2m-41 1h1m4 0h1m-100 1h2m86 0h1m6 0h1m38 0h1m-134 1h3m74 0h1m1 0h3m1 0h1m6 0h2m9 0h1m7 0h1m27 0h1m-137 1h1m84 0h2m-7 1h1m21 0h1m1 0h1m6 0h1m1 0h1m23 0h1m-140 1h2m75 0h3m6 0h1m13 0h1m2 0h1m32 0h1m-66 1h1m3 0h1m11 0h1m2 0h1m4 0h1m1 0h1m38 0h1m7 0h1m-49 1h1m8 0h1m1 0h1m-106 1h1m2 0h1m68 0h1m24 0h1m5 0h1m6 0h1m5 0h1m1 0h1m-23 1h2m3 0h3m1 0h1m1 0h1m10 0h1m8 0h1m-125 1h1m81 0h1m30 0h1m21 0h1m-61 1h2m7 0h1m3 0h1m5 0h1m2 0h1m15 0h1m11 0h1m7 0h2m-140 1h1m78 0h1m5 0h1m-84 1h1m56 0h1m30 0h1m28 0h1m-64 1h1m12 0h1m-5 1h1m5 0h1m-68 1h1m45 0h1m2 0h1m5 0h1m11 0h1m12 0h1m38 0h1m-121 1h1m51 0h1m30 0h1m-87 1h2m52 0h1m26 0h1m-82 1h1m1 0h1m52 0h2m12 0h1m12 0h1m1 0h1m37 0h1m-121 1h2m1 0h1m52 0h1m1 0h1m2 0h2m1 0h1m17 0h1m12 0h1m22 0h2m-122 1h1m1 0h1m1 0h1m1 0h1m64 0h1m9 0h2m38 0h1m-121 1h1m2 0h4m21 0h1m19 0h1m4 0h1m36 0h1m-87 1h2m44 0h1m1 0h1m9 0h1m13 0h1m13 0h1m15 0h1m9 0h1m-112 1h1m3 0h1m5 0h2m7 0h1m20 0h1m37 0h1m-80 1h1m8 0h1m3 0h1m3 0h1m20 0h2m17 0h1m1 0h1m27 0h1m-82 1h1m1 0h1m2 0h1m8 0h1m17 0h1m9 0h1m17 0h1m19 0h1m56 0h1m3 0h1m-142 1h1m4 0h1m31 0h1m21 0h1m51 0h1m-115 1h1m14 0h1m37 0h1m5 0h1m18 0h2m9 0h1m1 0h1m19 0h1m27 0h1m-134 1h1m16 0h1m14 0h1m46 0h1m5 0h1m6 0h1m12 0h1m25 0h1m1 0h1m-133 1h1m6 0h1m22 0h1m50 0h1m21 0h1m9 0h1m-122 1h1m18 0h1m18 0h1m21 0h1m20 0h1m10 0h1m4 0h1m41 0h1m-140 1h1m9 0h2m25 0h1m12 0h1m48 0h1m8 0h1m4 0h1m26 0h2m1 0h1m-77 1h1m8 0h1m14 0h1m2 0h1m3 0h1m1 0h1m3 0h2m11 0h1m3 0h1m6 0h1m-124 1h1m6 0h1m11 0h1m42 0h1m27 0h1m4 0h1m11 0h1m10 0h2m15 0h1m1 0h2m-141 1h1m4 0h1m5 0h1m82 0h1m9 0h1m8 0h2m4 0h1m2 0h1m16 0h1m-130 1h1m33 0h1m43 0h1m2 0h1m4 0h2m24 0h1m-107 1h3m62 0h1m10 0h1m2 0h1m1 0h2m7 0h1m-89 1h1m3 0h1m40 0h1m3 0h1m27 0h2m4 0h2m1 0h1m1 0h1m7 0h1m3 0h1m16 0h1m-126 1h1m54 0h2m21 0h1m6 0h1m5 0h1m3 0h1m10 0h1m20 0h1m-133 1h1m73 0h1m8 0h1m6 0h1m13 0h1m28 0h1m-129 1h1m71 0h1m5 0h1m46 0h1m-130 1h1m9 0h1m73 0h1m4 0h1m13 0h1m27 0h1m-126 1h1m16 0h1m2 0h1m2 0h1m46 0h1m2 0h1m9 0h1m13 0h2m26 0h1m-181 1h1m49 0h1m72 0h1m22 0h2m4 0h2m4 0h1m-163 1h1m2 0h1m39 0h1m48 0h1m4 0h2m11 0h1m17 0h1m9 0h1m1 0h1m9 0h1m1 0h2m2 0h1m5 0h2m1 0h1m-165 1h1m45 0h1m3 0h1m8 0h1m23 0h1m9 0h1m33 0h2m8 0h1m12 0h1m6 0h1m2 0h1m-121 1h1m9 0h1m2 0h1m1 0h1m4 0h1m96 0h1m2 0h1m1 0h1m14 0h1m-150 1h1m22 0h1m2 0h1m1 0h1m1 0h1m85 0h1m4 0h2m1 0h1m2 0h2m4 0h1m4 0h1m10 0h1m1 0h1m-181 1h1m6 0h3m19 0h1m19 0h1m2 0h2m4 0h1m93 0h2m-131 1h2m18 0h1m41 0h1m33 0h1m5 0h1m1 0h1m29 0h1m1 0h1m-137 1h1m3 0h1m16 0h2m2 0h1m2 0h1m3 0h1m120 0h1m-151 1h1m1 0h1m6 0h1m8 0h1m1 0h1m26 0h2m1 0h1m14 0h1m36 0h1m35 0h1m1 0h1m8 0h1m-153 1h1m1 0h1m2 0h1m2 0h1m8 0h1m15 0h1m2 0h1m3 0h1m41 0h1m51 0h1m3 0h1m9 0h1m-145 1h1m1 0h1m1 0h1m6 0h2m8 0h1m9 0h1m4 0h1m8 0h1m33 0h1m46 0h1m10 0h1m-142 1h1m7 0h1m93 0h1m46 0h1m-170 1h1m21 0h2m5 0h1m32 0h1m9 0h1m22 0h1m21 0h1m39 0h1m-157 1h1m6 0h1m4 0h1m4 0h1m1 0h1m55 0h1m19 0h1m21 0h1m30 0h1m7 0h1m-154 1h1m1 0h1m1 0h1m2 0h1m6 0h2m44 0h1m13 0h1m18 0h1m48 0h1m3 0h1m1 0h1m-153 1h3m10 0h1m28 0h1m5 0h1m16 0h2m88 0h1m-156 1h1m7 0h1m2 0h1m2 0h1m34 0h1m7 0h1m88 0h1m1 0h1m4 0h1m-143 1h1m2 0h1m34 0h1m7 0h1m7 0h2m78 0h1m10 0h1m-150 1h1m4 0h1m133 0h1m2 0h1m-143 1h1m7 0h1m37 0h1m9 0h1m14 0h1m67 0h1m-143 1h2m6 0h1m5 0h1m96 0h1m27 0h1m-143 1h1m1 0h1m4 0h1m89 0h1m20 0h1m17 0h1m3 0h1m-139 1h1m4 0h2m4 0h1m37 0h1m9 0h1m72 0h1m2 0h2m-137 1h1m1 0h1m1 0h1m80 0h1m46 0h1m-126 1h1m7 0h1m66 0h1m14 0h1m20 0h1m15 0h1m-134 1h1m37 0h1m32 0h1m40 0h1m21 0h1m-130 1h1m1 0h1m110 0h1m2 0h1m12 0h1m8 0h1m-131 1h2m2 0h1m84 0h1m12 0h2m11 0h1m2 0h2m4 0h1m2 0h1m-129 1h1m2 0h1m102 0h1m-109 1h2m5 0h1m8 0h1m13 0h1m66 0h1m11 0h1m32 0h1m-145 1h1m98 0h1m43 0h1m-148 1h1m26 0h1m102 0h1m-129 1h1m98 0h1m12 0h1m19 0h2m-134 1h1m113 0h1m6 0h1m3 0h1m-117 1h1m82 0h1m5 0h1m8 0h2m4 0h1m11 0h1m4 0h1m-126 1h1m7 0h1m79 0h1m7 0h1m11 0h1m5 0h1m6 0h1m-116 1h1m97 0h1m-101 1h2m45 0h1m43 0h1m20 0h1m4 0h1m-118 1h1m47 0h1m13 0h1m12 0h2m14 0h3m9 0h1m14 0h1m-118 1h1m1 0h1m75 0h2m36 0h1m-96 1h1m90 0h1m-111 1h1m118 0h1m-118 1h1m52 0h1m2 0h1m14 0h1m21 0h1m17 0h1m-78 1h1m1 0h1m14 0h1m1 0h1m31 0h1m10 0h2m11 0h1m7 0h1m-25 1h1m2 0h2m-80 1h1m16 0h1m50 0h1m-57 1h1m2 0h1m1 0h2m46 0h1m16 0h1m5 0h1m-101 1h1m1 0h1m5 0h1m32 0h1m20 0h1m11 0h1m11 0h1m17 0h1m-27 1h1m12 0h1m4 0h1m-97 1h1m7 0h1m1 0h1m5 0h1m56 0h1m9 0h1m-43 1h1m29 0h1m11 0h2m3 0h2m7 0h1m-100 1h1m5 0h1m2 0h2m1 0h1m2 0h1m74 0h1m4 0h1m1 0h1m7 0h1m-82 1h1m13 0h1m10 0h1m19 0h1m1 0h1m18 0h1m-79 1h1m-3 1h1m34 0h1m27 0h1m3 0h2m-95 1h1m28 0h1m52 0h1m9 0h1m2 0h2m-69 1h1m17 0h1m17 0h1m27 0h1m17 0h1m-60 1h1m38 0h1m5 0h2m3 0h1m-91 1h1m43 0h1m14 0h1m6 0h1m-49 1h1m19 0h1m9 0h1m2 0h1m7 0h1m3 0h1m22 0h1m8 0h1m3 0h1m-56 1h1m20 0h1m3 0h1m9 0h1m12 0h1m-28 1h1m2 0h1m-31 1h1m1 0h1m4 0h1m2 0h1m12 0h1m2 0h2m-44 1h1m18 0h1m5 0h1m1 0h1m1 0h1m-16 1h1m10 0h1m13 0h1m-24 1h4m4 0h1m3 0h1m25 0h1m-66 1h1m21 0h1m4 0h2m4 0h1m21 0h1m-35 1h1m-20 1h1m53 0h1m-44 1h1m-17 1h1m1 0h1m8 1h1m-16 1h1m10 0h1m-8 1h1m3 1h1"/>
<path stroke="#2a768e" d="M157 5.5h1m-7 1h1m20 0h1m-13 5h1m-10 2h1m5 0h1m1 1h1m-12 1h1m-11 1h1m26 0h1m7 0h1m3 0h2m3 0h1m-15 2h1m6 0h1m4 0h1m-3 1h1m2 0h1m3 0h1m-55 1h1m31 0h1m10 0h1m3 0h1m2 0h1m-41 1h1m26 0h1m6 0h1m10 1h1m-32 1h1m20 0h1m-47 2h1m50 0h2m-8 1h1m-19 1h1m-32 2h1m9 0h1m31 1h1m-40 1h1m10 0h1m36 0h1m-49 1h1m22 0h1m-105 1h2m89 0h1m10 0h1m6 0h1m24 0h1m-45 1h1m5 0h1m5 0h1m7 0h1m-111 1h1m71 0h1m28 0h1m1 0h1m8 0h1m4 0h1m-118 1h1m2 0h1m80 0h2m9 0h1m45 0h1m-141 1h4m78 0h1m14 0h1m1 0h1m2 0h1m-101 1h1m89 0h1m4 0h1m27 0h1m-127 1h3m-2 1h1m78 0h1m1 0h1m1 0h1m19 0h1m3 0h1m4 0h1m2 0h1m-117 1h1m5 0h1m64 0h1m20 0h1m21 0h1m1 0h1m23 0h1m3 0h1m-145 1h2m4 0h1m1 0h1m65 0h1m8 0h2m8 0h1m16 0h1m1 0h1m27 0h1m1 0h3m-144 1h3m3 0h1m59 0h1m14 0h1m23 0h1m34 0h1m-142 1h1m7 0h1m73 0h2m14 0h1m4 0h1m36 0h1m1 0h2m-143 1h1m1 0h2m1 0h1m74 0h1m7 0h1m2 0h1m47 0h2m1 0h1m-144 1h2m78 0h1m-78 1h1m2 0h1m81 0h1m2 0h2m1 0h1m3 0h1m-99 1h1m2 0h1m43 0h1m43 0h1m18 0h1m9 0h1m3 0h1m-123 1h2m69 0h1m16 0h1m11 0h1m-102 1h2m1 0h1m5 0h1m49 0h1m5 0h1m12 0h1m2 0h1m2 0h1m2 0h1m6 0h1m-94 1h2m4 0h1m40 0h1m5 0h1m5 0h1m7 0h1m18 0h1m8 0h1m-97 1h1m1 0h3m51 0h1m5 0h1m19 0h1m4 0h1m13 0h1m18 0h1m1 0h1m-124 1h1m52 0h1m8 0h1m2 0h1m17 0h1m23 0h1m-107 1h1m1 0h1m1 0h1m45 0h1m3 0h1m8 0h1m49 0h1m9 0h1m-123 1h1m58 0h1m22 0h1m8 0h1m22 0h1m-110 1h1m101 0h1m12 0h1m-116 1h1m40 0h2m-37 1h1m54 0h1m34 0h1m8 0h1m2 0h1m-62 1h1m6 0h1m45 0h1m6 0h1m1 0h1m34 0h1m-131 1h1m21 0h1m27 0h1m38 0h1m5 0h1m4 0h1m-64 1h1m11 0h1m18 0h1m25 0h1m4 0h1m-63 1h1m3 0h1m24 0h1m10 0h1m2 0h2m5 0h1m5 0h1m1 0h1m-109 1h1m60 0h1m3 0h1m10 0h1m3 0h1m6 0h1m3 0h1m7 0h2m10 0h1m7 0h1m22 0h1m-51 1h1m5 0h2m1 0h1m16 0h1m-116 1h1m85 0h1m2 0h1m9 0h1m40 0h1m-139 1h1m34 0h1m26 0h1m5 0h1m18 0h1m2 0h1m5 0h2m2 0h1m1 0h1m34 0h1m-143 1h1m43 0h1m10 0h1m21 0h1m10 0h1m3 0h1m5 0h1m2 0h2m1 0h2m4 0h1m-99 1h1m31 0h1m9 0h1m20 0h1m15 0h1m30 0h1m19 0h1m-55 1h2m6 0h1m9 0h1m11 0h1m10 0h1m-126 1h1m54 0h1m59 0h1m19 0h1m-95 1h1m20 0h2m25 0h1m2 0h1m41 0h2m-84 1h1m39 0h1m1 0h1m2 0h1m17 0h1m1 0h1m18 0h1m-138 1h1m6 0h1m41 0h2m23 0h1m6 0h1m6 0h1m9 0h1m8 0h1m-155 1h1m115 0h1m12 0h1m19 0h1m5 0h1m3 0h1m4 0h1m18 0h1m-181 1h1m78 0h1m16 0h1m29 0h1m5 0h1m11 0h1m8 0h1m1 0h1m1 0h1m21 0h1m-180 1h1m46 0h1m44 0h1m42 0h1m8 0h2m5 0h1m4 0h1m22 0h1m-135 1h1m3 0h1m78 0h2m7 0h1m1 0h1m8 0h1m1 0h1m-102 1h1m42 0h1m30 0h1m13 0h1m1 0h1m5 0h1m7 0h1m26 0h1m-190 1h1m35 0h1m6 0h1m2 0h1m38 0h1m12 0h1m33 0h1m13 0h2m30 0h1m1 0h1m-174 1h1m2 0h1m51 0h1m20 0h1m45 0h1m7 0h1m27 0h1m18 0h1m-179 1h1m49 0h1m1 0h1m37 0h1m31 0h1m7 0h1m26 0h1m9 0h1m-168 1h1m9 0h1m28 0h1m85 0h1m44 0h1m-174 1h1m1 0h2m39 0h1m5 0h1m5 0h1m7 0h1m19 0h1m4 0h1m1 0h1m25 0h1m7 0h1m5 0h1m26 0h1m-156 1h1m17 0h1m5 0h2m20 0h1m2 0h1m11 0h1m10 0h1m4 0h1m18 0h1m22 0h1m2 0h1m42 0h1m-139 1h1m3 0h1m5 0h1m1 0h1m7 0h1m12 0h1m27 0h1m28 0h1m1 0h1m35 0h1m2 0h1m8 0h1m6 0h1m-154 1h1m14 0h1m5 0h2m49 0h1m27 0h2m32 0h1m-133 1h1m16 0h1m1 0h2m5 0h1m9 0h1m32 0h1m9 0h1m69 0h1m-171 1h1m39 0h1m7 0h2m12 0h1m6 0h3m81 0h1m1 0h1m1 0h1m-158 1h1m1 0h1m19 0h1m39 0h1m9 0h1m13 0h1m8 0h1m4 0h1m13 0h2m-105 1h1m3 0h1m8 0h1m38 0h1m4 0h1m9 0h1m1 0h1m15 0h1m3 0h1m16 0h1m41 0h1m-160 1h1m2 0h1m2 0h1m3 0h1m6 0h2m8 0h1m34 0h2m21 0h1m9 0h1m13 0h1m40 0h1m12 0h1m-156 1h3m2 0h1m34 0h1m52 0h1m52 0h1m2 0h1m1 0h1m-152 1h1m2 0h1m1 0h2m2 0h1m1 0h1m32 0h1m10 0h1m3 0h1m3 0h1m9 0h1m6 0h1m1 0h1m7 0h1m62 0h1m-160 1h2m5 0h1m55 0h1m-65 1h1m5 0h1m7 0h1m34 0h1m7 0h1m14 0h1m-67 1h1m4 0h2m1 0h1m44 0h1m5 0h1m52 0h1m-118 1h1m9 0h1m1 0h1m1 0h1m38 0h1m9 0h1m76 0h1m14 0h1m-144 1h1m1 0h1m71 0h1m21 0h1m25 0h1m-120 1h1m68 0h1m10 0h1m-46 1h1m24 0h1m35 0h1m27 0h1m-136 1h1m153 0h1m-71 1h2m33 0h1m8 0h1m3 0h1m-2 1h1m8 0h2m10 0h1m-128 1h1m86 0h2m4 0h1m18 0h1m-128 1h1m27 0h1m59 0h1m17 0h1m17 0h1m1 0h1m11 0h1m-138 1h1m29 0h1m1 0h1m13 0h1m55 0h1m36 0h1m-135 1h1m6 0h1m14 0h1m60 0h1m4 0h1m10 0h1m13 0h1m4 0h1m-130 1h1m23 0h1m19 0h1m58 0h1m-81 1h1m66 0h1m1 0h1m14 0h1m5 0h1m5 0h1m7 0h1m1 0h1m-123 1h1m2 0h1m69 0h1m10 0h2m15 0h1m-98 1h1m-6 1h1m50 0h1m46 0h1m1 0h1m2 0h1m4 0h1m-46 1h1m21 0h1m5 0h3m7 0h2m4 0h1m10 0h1m4 0h2m-64 1h1m5 0h1m2 0h1m43 0h1m9 0h1m-123 1h1m54 0h1m1 0h1m7 0h1m37 0h1m9 0h1m3 0h1m-69 1h1m46 0h2m5 0h1m10 0h1m2 0h1m4 0h1m4 0h2m-126 1h1m1 0h1m43 0h2m6 0h1m19 0h1m23 0h1m13 0h1m6 0h1m4 0h1m-112 1h2m18 0h1m7 0h1m33 0h1m12 0h1m3 0h3m2 0h1m-88 1h1m24 0h1m37 0h1m1 0h2m5 0h1m5 0h1m6 0h1m4 0h1m-91 1h1m29 0h1m17 0h1m34 0h1m-44 1h1m4 0h1m15 0h1m-59 1h1m70 0h1m9 0h1m2 0h2m-91 1h1m6 0h1m19 0h1m14 0h1m32 0h1m14 0h1m-89 1h1m15 0h1m58 0h1m2 0h1m10 0h1m5 0h1m8 0h1m-106 1h1m4 0h2m2 0h1m74 0h1m10 0h1m6 0h1m1 0h2m-64 1h1m25 0h1m7 0h2m10 0h1m-90 1h1m1 0h1m55 0h1m-62 1h1m26 0h1m48 0h1m-77 1h1m14 0h1m1 0h1m-19 1h1m15 0h1m23 0h1m37 0h2m2 0h1m15 0h1m2 0h1m2 0h1m-55 1h1m12 0h1m11 0h1m-63 1h1m1 0h1m11 0h1m5 0h1m10 0h1m39 0h1m1 0h1m10 0h1m-82 1h1m9 0h1m2 0h1m47 0h1m3 0h1m2 0h2m-30 1h3m4 0h1m32 0h1m-108 1h1m9 0h1m17 0h1m3 0h1m7 0h1m10 0h1m3 0h1m17 0h1m-48 1h1m23 0h1m5 0h1m14 0h1m12 0h1m18 0h1m-61 1h1m8 0h1m4 0h1m21 0h1m9 0h1m-43 1h1m13 0h1m7 0h1m8 0h1m18 0h1m-26 1h1m28 0h1m-47 1h1m3 1h1m-29 1h1m1 0h1m22 0h1m29 0h1m-54 1h1m-11 1h1m-12 1h1m6 0h2m54 0h1m-55 1h1m3 0h2m-13 1h1m-1 1h1"/>
<path stroke="#24878e" d="M170 3.5h1m5 0h1m-19 2h1m-4 1h1m20 0h1m-3 4h1m10 0h1m-37 1h1m9 0h1m-5 1h2m4 0h1m-10 2h1m4 0h1m22 0h1m-41 1h1m26 0h1m9 0h1m-32 1h1m21 0h1m11 0h1m-15 1h2m13 0h2m1 0h1m-21 1h1m14 0h1m-32 1h1m20 0h1m3 0h1m12 0h1m-53 1h1m15 1h1m26 0h2m-7 1h1m8 0h1m5 0h1m-15 2h1m-19 1h1m1 0h1m11 0h1m15 0h1m-39 1h1m2 0h1m5 0h1m16 0h1m-26 1h1m-22 2h1m26 0h1m0 1h1m-32 1h2m47 0h1m-8 1h1m-47 1h1m9 0h1m7 0h1m7 0h1m1 0h1m2 0h1m-25 2h1m28 0h1m2 0h1m21 0h1m-133 1h1m2 0h1m74 0h1m3 0h1m13 0h1m19 0h1m-48 1h1m10 0h1m3 0h1m8 0h2m11 0h1m1 0h1m-108 1h1m1 0h1m75 0h4m1 0h1m2 0h2m2 0h1m6 0h1m5 0h1m-101 1h2m75 0h1m54 0h1m-138 1h1m1 0h2m3 0h1m75 0h1m2 0h2m7 0h1m1 0h1m5 0h1m-97 1h1m73 0h1m19 0h1m11 0h1m-112 1h1m4 0h1m83 0h1m47 0h1m-140 1h1m5 0h1m1 0h1m71 0h1m9 0h2m4 0h1m22 0h1m-119 1h2m1 0h2m1 0h1m83 0h1m52 0h1m-140 1h1m1 0h1m75 0h1m7 0h1m1 0h2m2 0h1m4 0h1m39 0h1m-139 1h1m1 0h2m83 0h1m2 0h2m-96 1h2m2 0h2m4 0h1m37 0h1m40 0h1m3 0h1m2 0h2m-96 1h1m1 0h1m78 0h1m1 0h1m21 0h1m13 0h1m-121 1h1m61 0h1m1 0h1m16 0h1m3 0h1m4 0h1m1 0h1m4 0h1m23 0h1m-123 1h1m4 0h1m3 0h1m48 0h1m5 0h1m24 0h1m4 0h1m1 0h1m23 0h1m-117 1h4m1 0h1m41 0h1m4 0h1m30 0h1m-81 1h2m49 0h1m6 0h1m41 0h1m12 0h1m-117 1h1m21 0h2m28 0h1m2 0h1m54 0h1m3 0h1m-41 1h1m1 0h1m6 0h1m-32 1h1m3 0h1m12 0h1m30 0h1m2 0h1m-108 1h1m2 0h2m49 0h1m6 0h1m19 0h1m36 0h2m-109 1h1m55 0h1m1 0h1m6 0h1m6 0h1m9 0h1m-91 1h1m8 0h1m40 0h1m4 0h1m10 0h1m23 0h1m16 0h1m5 0h1m3 0h1m-112 1h1m23 0h1m14 0h1m18 0h1m6 0h1m26 0h1m2 0h1m4 0h2m6 0h1m36 0h1m-149 1h1m52 0h1m34 0h1m19 0h1m3 0h1m33 0h1m-109 1h1m1 0h1m46 0h3m2 0h1m5 0h1m2 0h1m6 0h1m2 0h1m33 0h1m-107 1h1m1 0h1m6 0h1m8 0h1m9 0h1m11 0h1m10 0h1m15 0h1m5 0h1m34 0h1m-107 1h1m10 0h1m27 0h1m10 0h1m5 0h1m5 0h1m6 0h1m8 0h1m22 0h1m-95 1h1m30 0h2m2 0h1m6 0h1m4 0h1m1 0h1m15 0h3m25 0h1m-85 1h1m10 0h1m18 0h1m9 0h1m9 0h1m-105 1h1m42 0h1m8 0h1m31 0h3m18 0h1m2 0h1m7 0h1m3 0h1m1 0h1m-131 1h1m9 0h1m61 0h1m1 0h1m6 0h1m4 0h1m5 0h1m1 0h1m15 0h1m-100 1h1m38 0h1m22 0h1m20 0h1m9 0h1m7 0h1m-103 1h1m45 0h1m29 0h2m13 0h1m13 0h1m14 0h1m17 0h1m-58 1h1m4 0h1m5 0h2m12 0h1m6 0h1m24 0h2m-151 1h1m12 0h1m70 0h1m3 0h1m3 0h1m1 0h1m3 0h1m18 0h1m-119 1h1m14 0h1m46 0h1m26 0h1m4 0h1m6 0h2m12 0h1m2 0h1m1 0h1m-104 1h1m32 0h1m12 0h1m1 0h1m11 0h1m19 0h1m3 0h3m1 0h1m7 0h3m9 0h1m-110 1h2m42 0h1m29 0h1m4 0h1m4 0h1m3 0h1m16 0h1m27 0h1m-91 1h1m38 0h1m6 0h1m12 0h1m-31 1h1m12 0h1m14 0h1m1 0h1m30 0h1m-184 1h1m37 0h1m37 0h1m32 0h1m17 0h1m10 0h1m17 0h1m23 0h1m-144 1h1m26 0h1m17 0h1m5 0h1m20 0h2m16 0h1m17 0h1m10 0h1m1 0h1m-157 1h1m90 0h3m1 0h1m14 0h1m21 0h2m11 0h2m2 0h1m1 0h1m3 0h1m14 0h1m-179 1h1m6 0h1m26 0h1m66 0h1m30 0h1m7 0h1m6 0h1m8 0h1m4 0h1m1 0h1m-157 1h1m26 0h1m112 0h1m2 0h1m1 0h1m3 0h1m10 0h1m-167 1h1m14 0h1m118 0h1m48 0h1m-170 1h2m5 0h1m2 0h1m12 0h1m15 0h1m57 0h1m11 0h1m41 0h1m1 0h1m9 0h1m-153 1h1m5 0h1m14 0h1m6 0h1m3 0h1m16 0h1m29 0h1m52 0h3m7 0h1m1 0h1m4 0h1m-172 1h2m7 0h1m5 0h1m5 0h1m8 0h1m7 0h1m3 0h2m5 0h2m4 0h1m33 0h1m3 0h1m3 0h1m17 0h1m2 0h1m46 0h1m-165 1h1m3 0h1m20 0h1m11 0h2m6 0h1m2 0h3m3 0h1m5 0h1m26 0h1m36 0h1m2 0h1m22 0h1m18 0h1m-171 1h1m3 0h1m28 0h1m59 0h2m3 0h1m-95 1h2m31 0h1m9 0h1m1 0h1m-19 1h1m3 0h1m2 0h1m1 0h1m55 0h1m25 0h1m28 0h1m12 0h1m-160 1h1m6 0h1m11 0h1m2 0h1m13 0h1m7 0h1m46 0h1m26 0h1m27 0h1m-148 1h1m11 0h1m37 0h1m13 0h1m30 0h1m20 0h1m-112 1h1m3 0h1m29 0h1m4 0h1m3 0h1m8 0h1m4 0h2m25 0h1m26 0h1m33 0h1m7 0h1m-159 1h2m51 0h1m6 0h1m36 0h2m8 0h1m43 0h1m9 0h1m-150 1h1m18 0h1m66 0h1m14 0h1m-102 1h1m41 0h1m30 0h1m1 0h1m8 0h1m9 0h1m1 0h1m-77 1h1m13 0h1m3 0h1m2 0h1m41 0h1m2 0h1m13 0h1m40 0h1m-141 1h1m48 0h1m18 0h1m17 0h1m-97 1h2m11 0h1m36 0h1m7 0h1m16 0h1m21 0h1m-96 1h1m70 0h1m10 0h1m12 0h1m8 0h1m4 0h1m18 0h1m1 0h2m-129 1h1m76 0h1m14 0h1m-94 1h2m65 0h2m3 0h1m6 0h1m25 0h1m-107 1h1m76 0h1m2 0h1m-81 1h1m91 0h1m15 0h1m1 0h1m15 0h1m9 0h1m8 0h1m-54 1h1m14 0h1m-98 1h2m11 0h1m37 0h1m-26 1h1m58 0h1m5 0h1m3 0h1m-67 1h1m1 0h1m56 0h1m1 0h1m6 0h1m28 0h1m-133 1h2m2 0h1m13 0h1m21 0h2m17 0h1m36 0h1m3 0h1m21 0h2m-126 1h1m78 0h1m-80 1h1m8 0h1m85 0h2m7 0h1m3 0h1m1 0h1m9 0h1m-82 1h1m11 0h1m31 0h1m13 0h1m9 0h1m4 0h1m21 0h2m-132 1h1m3 0h1m30 0h1m41 0h1m3 0h2m12 0h1m25 0h1m9 0h1m-70 1h1m17 0h1m19 0h2m-73 1h1m10 0h1m9 0h1m4 0h1m11 0h1m6 0h1m3 0h1m23 0h1m21 0h1m-117 1h1m2 0h1m52 0h1m30 0h1m11 0h1m-61 1h1m27 0h1m33 0h1m-42 1h1m9 0h1m1 0h1m4 0h1m-62 1h1m18 0h1m11 0h1m5 0h1m1 0h1m21 0h1m20 0h1m2 0h1m-91 1h2m2 0h1m16 0h1m27 0h1m25 0h1m2 0h1m22 0h1m-114 1h1m3 0h1m2 0h1m52 0h1m9 0h1m43 0h1m-112 1h1m1 0h1m27 0h1m19 0h1m6 0h1m15 0h1m-65 1h1m10 0h1m33 0h1m21 0h1m1 0h1m-59 1h1m9 0h1m7 0h1m13 0h1m25 0h1m1 0h1m10 0h1m-82 1h1m6 0h1m7 0h1m21 0h1m65 0h1m-45 1h1m14 0h1m-90 1h1m24 0h1m64 0h1m24 0h1m-109 1h1m9 0h1m81 0h1m3 0h1m9 0h1m-84 1h1m2 0h1m22 0h1m17 0h1m12 0h1m25 0h1m-97 1h1m62 0h1m-50 1h1m1 0h1m11 0h1m2 0h1m10 0h1m23 0h1m-43 1h1m8 0h1m28 0h1m26 0h2m-89 1h1m33 0h1m2 0h1m52 0h1m-113 1h1m13 0h1m12 0h1m22 0h1m6 0h1m25 0h1m9 0h1m16 0h1m-104 1h1m8 0h1m8 0h1m11 0h1m27 0h1m6 0h1m1 0h1m10 0h1m-44 1h1m4 0h1m3 0h1m4 0h1m3 0h1m9 0h1m5 0h1m17 0h1m3 0h1m-99 1h1m53 0h1m2 0h1m10 0h1m4 0h1m3 0h1m22 0h1m-74 1h1m21 0h2m7 0h1m3 0h1m16 0h1m-80 1h1m28 0h1m21 0h1m7 0h1m11 0h1m10 0h1m-59 1h1m30 0h1m13 1h1m-41 1h1m3 0h1m13 0h2m8 0h1m-42 1h1m12 0h1m-19 2h1m21 0h1m40 0h1m-50 1h1m-19 1h1m7 0h1m8 1h2m-15 1h1m7 0h1m3 0h1m-8 1h1m-4 1h1m4 0h2"/>
<path stroke="#1f998a" d="M156 3.5h1m1 0h1m-1 1h1m11 0h1m-15 2h1m13 3h1m-3 2h1m1 0h1m-13 1h1m15 0h1m-34 1h2m7 0h1m25 0h1m-9 1h2m-4 2h1m9 1h1m-23 1h1m-23 1h1m11 0h1m27 0h1m13 1h1m-7 1h1m-43 1h1m2 0h1m-11 1h1m5 0h2m17 0h1m10 0h1m16 0h1m-31 1h1m2 0h1m13 0h1m11 1h2m-36 1h1m24 0h1m-9 1h2m-8 1h1m7 0h1m3 2h1m6 2h2m-131 2h1m100 0h1m-31 1h1m20 0h1m11 0h1m13 0h1m-41 1h1m21 0h1m3 0h1m32 0h1m-61 1h1m9 0h1m7 0h1m-94 2h1m83 0h2m3 0h2m4 0h1m-96 1h1m85 0h3m6 0h1m43 0h1m-143 1h1m1 0h1m78 0h1m6 0h1m4 0h1m47 0h1m-140 1h1m1 0h1m80 0h1m2 0h1m11 0h1m6 0h1m4 0h1m-28 1h1m15 0h1m-97 1h1m128 0h1m-134 1h1m81 0h1m10 0h1m9 0h1m-101 1h1m3 0h1m74 0h1m58 0h1m-142 1h1m87 0h1m29 0h1m-120 1h1m4 0h2m2 0h1m73 0h1m3 0h1m3 0h1m1 0h1m-90 1h1m64 0h1m10 0h1m-75 1h2m50 0h1m14 0h1m8 0h1m13 0h1m24 0h1m-58 1h1m30 0h1m26 0h1m-65 1h1m45 0h1m-99 1h1m79 0h1m2 0h1m7 0h1m7 0h1m-100 1h1m97 0h3m3 0h1m7 0h1m-65 1h1m3 0h1m22 0h1m2 0h1m3 0h1m25 0h1m-34 1h1m9 0h1m13 0h1m-102 1h1m45 0h1m53 0h1m8 0h1m-42 1h1m79 0h2m-106 1h1m42 0h1m12 0h2m6 0h1m1 0h1m37 0h1m-101 1h1m6 0h1m30 0h1m13 0h1m1 0h2m8 0h1m36 0h1m-67 1h1m11 0h3m3 0h1m4 0h3m4 0h1m33 0h1m1 0h1m-140 1h1m27 0h1m4 0h1m51 0h1m2 0h1m3 0h1m3 0h1m1 0h1m-54 1h1m2 0h1m8 0h1m16 0h1m2 0h2m4 0h1m1 0h1m11 0h1m-105 1h1m41 0h1m2 0h1m9 0h1m4 0h1m44 0h1m-106 1h1m43 0h1m1 0h1m13 0h1m7 0h1m9 0h1m1 0h1m3 0h1m1 0h2m2 0h2m5 0h1m30 0h1m9 0h1m-147 1h1m53 0h1m4 0h1m28 0h1m7 0h1m9 0h1m23 0h1m-73 1h1m27 0h1m10 0h1m1 0h1m20 0h1m5 0h1m-116 1h1m47 0h2m12 0h1m10 0h1m15 0h1m19 0h1m19 0h1m2 0h1m-71 1h1m7 0h1m4 0h1m13 0h1m16 0h1m6 0h1m3 0h1m-116 1h1m1 0h1m41 0h1m5 0h1m14 0h1m3 0h1m17 0h1m19 0h1m4 0h1m22 0h1m-135 1h1m47 0h1m18 0h1m1 0h1m6 0h1m9 0h1m1 0h1m6 0h2m7 0h1m7 0h1m-112 1h1m44 0h1m6 0h1m9 0h1m4 0h1m6 0h1m13 0h1m8 0h1m3 0h1m-52 1h1m40 0h3m1 0h2m3 0h2m5 0h1m5 0h1m-79 1h1m10 0h1m2 0h1m13 0h1m9 0h1m2 0h1m16 0h1m3 0h1m2 0h2m-152 1h1m48 0h1m2 0h1m34 0h1m8 0h1m17 0h1m2 0h1m8 0h1m4 0h1m24 0h1m3 0h1m-160 1h1m77 0h1m1 0h1m26 0h1m3 0h1m7 0h1m7 0h1m4 0h1m4 0h1m2 0h2m2 0h1m2 0h2m1 0h1m-151 1h1m39 0h1m2 0h2m48 0h1m16 0h2m16 0h1m17 0h1m5 0h1m-119 1h1m9 0h1m35 0h1m46 0h1m1 0h2m1 0h2m2 0h1m14 0h1m-152 1h1m120 0h1m7 0h1m27 0h1m1 0h1m7 0h1m-82 1h1m2 0h1m32 0h1m1 0h1m1 0h1m1 0h1m3 0h1m13 0h1m4 0h2m6 0h1m1 0h2m6 0h1m-171 1h1m37 0h1m40 0h1m44 0h1m6 0h2m14 0h1m9 0h1m10 0h1m-165 1h1m6 0h1m74 0h1m2 0h1m2 0h1m22 0h1m4 0h1m23 0h1m10 0h1m1 0h2m-81 1h1m9 0h1m3 0h1m23 0h1m4 0h1m2 0h1m24 0h1m11 0h1m-163 1h1m9 0h1m3 0h1m13 0h1m5 0h1m2 0h1m3 0h1m4 0h1m30 0h1m39 0h1m1 0h1m7 0h1m22 0h1m10 0h1m-161 1h1m19 0h2m9 0h2m6 0h1m9 0h2m1 0h1m20 0h1m7 0h1m2 0h1m34 0h2m40 0h1m5 0h1m-167 1h1m15 0h1m9 0h2m2 0h1m1 0h1m1 0h1m6 0h1m28 0h1m6 0h2m7 0h2m9 0h1m12 0h2m2 0h1m1 0h1m4 0h1m27 0h1m1 0h1m1 0h1m6 0h1m-163 1h2m16 0h1m10 0h1m5 0h2m12 0h1m11 0h1m26 0h1m7 0h1m2 0h2m13 0h1m3 0h1m31 0h1m7 0h2m-147 1h1m1 0h1m12 0h2m14 0h1m43 0h1m16 0h1m19 0h1m43 0h1m-166 1h1m3 0h1m4 0h1m15 0h1m16 0h1m11 0h1m59 0h1m1 0h1m-116 1h1m2 0h1m20 0h1m6 0h1m53 0h1m3 0h1m26 0h1m-117 1h1m29 0h1m14 0h2m10 0h1m22 0h1m14 0h1m19 0h1m-114 1h1m5 0h1m4 0h1m33 0h1m9 0h1m1 0h1m15 0h1m-74 1h2m8 0h1m1 0h1m73 0h1m73 0h1m-151 1h1m23 0h1m7 0h2m20 0h1m17 0h1m5 0h1m17 0h1m7 0h1m41 0h1m-161 1h1m3 0h1m32 0h1m14 0h2m3 0h1m26 0h1m1 0h1m11 0h1m-95 1h1m11 0h1m31 0h1m29 0h3m30 0h1m7 0h1m40 0h1m-160 1h1m3 0h1m74 0h1m7 0h1m7 0h1m10 0h1m9 0h1m-103 1h1m38 0h2m46 0h1m8 0h1m3 0h1m1 0h1m1 0h1m-45 1h1m27 0h1m1 0h1m1 0h1m3 0h1m27 0h1m-133 1h1m87 0h1m16 0h1m23 0h3m-134 1h2m111 0h1m19 0h1m-110 1h1m29 0h1m13 0h1m3 0h1m7 0h1m28 0h1m5 0h1m13 0h1m-116 1h1m24 0h1m6 0h1m39 0h1m17 0h1m28 0h1m8 0h1m4 0h1m-148 1h1m12 0h1m2 0h1m11 0h1m9 0h1m60 0h1m2 0h1m22 0h1m21 0h1m-127 1h1m16 0h1m11 0h1m53 0h1m-86 1h1m1 0h1m43 0h1m32 0h1m-92 1h2m15 0h1m4 0h1m17 0h1m1 0h1m10 0h1m23 0h1m1 0h1m35 0h1m17 0h1m-129 1h1m7 0h1m21 0h1m9 0h1m31 0h1m2 0h1m8 0h1m6 0h1m7 0h1m23 0h1m-126 1h2m35 0h1m1 0h1m34 0h1m13 0h1m7 0h2m7 0h1m9 0h1m4 0h1m-82 1h1m50 0h1m7 0h1m5 0h1m19 0h1m-132 1h1m1 0h1m3 0h1m6 0h1m21 0h1m48 0h1m7 0h1m3 0h1m-96 1h1m80 0h1m10 0h1m7 0h1m11 0h1m16 0h1m-123 1h1m4 0h1m43 0h1m1 0h1m1 0h1m29 0h1m21 0h1m-101 1h1m75 0h1m6 0h1m6 0h2m14 0h1m10 0h1m-127 1h1m52 0h1m15 0h1m34 0h1m18 0h1m-120 1h1m1 0h1m18 0h1m3 0h1m35 0h1m10 0h1m2 0h1m-57 1h2m4 0h1m31 0h1m4 0h1m3 0h1m3 0h1m6 0h1m18 0h1m7 0h2m11 0h1m6 0h1m-76 1h1m10 0h1m4 0h1m34 0h1m-98 1h1m37 0h1m10 0h1m9 0h1m4 0h1m56 0h1m-99 1h1m12 0h2m12 0h1m71 0h1m-122 1h1m32 0h1m2 0h1m4 0h1m16 0h1m14 0h1m21 0h1m-63 1h1m2 0h1m3 0h1m51 0h1m2 0h1m-93 1h1m1 0h1m1 0h1m2 0h1m14 0h1m26 0h1m-45 1h1m30 0h1m14 0h1m20 0h1m8 0h1m12 0h1m2 0h1m-97 1h1m2 0h1m19 0h1m19 0h1m11 0h1m36 0h1m1 0h1m16 0h1m-112 1h1m3 0h1m1 0h1m7 0h1m17 0h2m68 0h1m-100 1h1m3 0h1m20 0h1m37 0h1m3 0h1m11 0h1m3 0h1m-90 1h1m4 0h1m11 0h1m36 0h1m14 0h1m1 0h1m10 0h1m-76 1h2m42 0h1m11 0h1m19 0h1m11 0h1m-84 1h1m19 0h1m5 0h1m13 0h1m-39 1h1m2 0h1m1 0h2m3 0h1m2 0h1m8 0h1m15 0h1m51 0h1m-113 1h1m17 0h1m18 0h1m4 0h1m13 0h1m12 0h1m19 0h1m20 0h1m1 0h1m-113 1h1m23 0h1m6 0h1m2 0h1m11 0h1m2 0h1m14 0h1m12 0h1m28 0h2m-87 1h1m22 0h1m39 0h2m1 0h1m8 0h1m1 0h1m6 0h1m-107 1h1m14 0h1m16 0h1m6 0h2m20 0h1m3 0h1m35 0h1m-101 1h1m3 0h1m39 0h1m3 0h1m5 0h1m6 0h1m2 0h1m5 0h1m8 0h2m-65 1h1m13 0h1m18 0h1m10 0h1m1 0h1m1 0h1m10 0h2m20 0h1m-19 1h1m12 0h1m-61 1h1m46 0h1m-67 1h1m32 1h1m3 0h1m2 0h1m18 0h1m-58 1h1m5 0h1m24 0h1m6 0h2m-33 1h1m23 0h1m7 0h1m-35 1h1m3 0h1m17 0h1m1 0h1m-24 1h1m3 0h1m-9 1h2m3 0h1m17 0h1m-18 1h1m10 0h1m-25 1h1m2 0h1m4 0h1m8 0h1m-12 1h1m2 0h2m-6 1h1m0 1h1"/>
<path stroke="#24aa83" d="M158 2.5h1m3 0h1m-10 5h1m-9 1h1m-2 1h1m22 0h1m-14 2h2m4 2h1m-20 1h1m-3 1h1m18 0h1m17 0h1m-19 1h1m11 0h1m-17 1h1m10 0h1m-15 2h1m15 1h1m1 0h1m15 0h1m0 1h1m-35 1h1m32 0h1m-1 1h1m-20 1h1m-15 2h1m-23 1h1m20 0h2m23 0h1m-31 1h1m1 0h1m1 0h1m10 1h1m-36 1h1m49 0h1m1 0h1m-28 1h1m3 0h1m22 0h1m-12 1h1m-2 1h1m-28 1h2m-23 1h1m24 0h1m-4 1h1m1 0h1m-9 1h2m3 0h1m9 0h1m3 0h1m6 0h1m-108 1h1m84 0h1m48 0h1m-60 1h1m2 0h1m-78 1h1m86 0h1m-11 1h1m6 0h1m11 0h1m7 0h1m4 0h1m-112 1h1m63 0h1m16 0h1m9 0h2m5 0h1m32 0h1m-52 1h1m7 0h1m1 0h2m1 0h1m1 0h1m7 0h1m1 0h1m2 0h1m-110 1h1m81 0h1m2 0h1m11 0h1m10 0h1m-103 1h1m72 0h1m5 0h1m9 0h3m2 0h1m12 0h3m-116 1h1m78 0h2m4 0h1m4 0h1m4 0h1m4 0h1m7 0h1m3 0h1m1 0h1m23 0h1m-133 1h1m93 0h1m15 0h1m-115 1h1m3 0h1m60 0h1m9 0h1m1 0h1m3 0h1m3 0h1m5 0h2m24 0h1m-116 1h3m48 0h1m9 0h1m20 0h1m2 0h1m1 0h1m1 0h2m23 0h1m-116 1h1m56 0h1m28 0h1m19 0h1m-50 1h1m19 0h2m4 0h1m4 0h1m8 0h1m2 0h1m3 0h1m9 0h1m-115 1h1m46 0h1m7 0h1m24 0h1m9 0h3m7 0h1m2 0h1m8 0h1m-113 1h1m48 0h1m26 0h1m3 0h1m4 0h1m4 0h1m14 0h1m1 0h1m5 0h1m-62 1h1m4 0h1m29 0h1m24 0h1m-36 1h1m8 0h1m5 0h1m6 0h1m6 0h1m-63 1h1m22 0h1m4 0h1m5 0h1m2 0h1m5 0h1m11 0h1m2 0h1m1 0h1m3 0h1m1 0h1m-67 1h1m11 0h1m11 0h1m4 0h1m2 0h1m30 0h1m-65 1h2m5 0h1m25 0h1m11 0h2m17 0h1m4 0h1m-34 1h1m7 0h1m53 0h1m-104 1h1m39 0h1m3 0h1m4 0h1m8 0h2m5 0h1m2 0h1m-66 1h2m7 0h1m34 0h1m18 0h1m5 0h1m-26 1h1m12 0h1m4 0h1m7 0h1m-65 1h1m3 0h1m8 0h1m23 0h2m9 0h2m3 0h1m8 0h1m1 0h1m-74 1h1m1 0h2m13 0h1m2 0h1m19 0h1m2 0h1m2 0h1m2 0h2m2 0h2m15 0h1m1 0h2m34 0h1m-104 1h1m10 0h1m5 0h1m3 0h1m6 0h1m4 0h1m4 0h1m8 0h1m10 0h1m6 0h1m-62 1h1m30 0h1m2 0h1m3 0h1m5 0h1m1 0h1m18 0h1m4 0h1m-48 1h1m4 0h1m12 0h1m32 0h2m-47 1h1m3 0h1m7 0h1m24 0h1m-54 1h2m6 0h1m2 0h1m1 0h1m9 0h1m28 0h1m2 0h2m-25 1h1m-89 1h2m49 0h1m3 0h1m19 0h1m1 0h1m33 0h1m-57 1h1m30 0h2m4 0h1m7 0h1m9 0h1m28 0h1m-76 1h1m2 0h1m4 0h1m3 0h2m2 0h1m6 0h1m22 0h1m26 0h1m1 0h1m-68 1h1m7 0h1m6 0h1m3 0h1m19 0h1m2 0h1m-35 1h1m3 0h1m6 0h1m11 0h1m4 0h1m23 0h1m5 0h1m-85 1h1m14 0h1m11 0h1m4 0h1m24 0h2m13 0h1m-129 1h1m51 0h1m46 0h1m28 0h1m-122 1h1m49 0h1m6 0h1m3 0h2m2 0h1m6 0h1m6 0h1m10 0h1m8 0h1m9 0h1m8 0h1m-166 1h1m31 0h1m74 0h1m21 0h2m8 0h1m1 0h3m3 0h1m30 0h1m-180 1h1m105 0h1m12 0h1m10 0h1m31 0h1m3 0h1m2 0h1m3 0h1m-141 1h1m48 0h1m2 0h1m3 0h2m3 0h1m22 0h1m44 0h1m-86 1h1m32 0h2m5 0h1m11 0h1m22 0h1m1 0h1m2 0h2m-155 1h2m3 0h2m1 0h1m3 0h1m18 0h1m51 0h1m3 0h1m8 0h1m45 0h1m1 0h2m4 0h1m1 0h1m12 0h1m-166 1h1m21 0h2m7 0h1m12 0h1m20 0h1m8 0h1m1 0h1m2 0h1m36 0h1m24 0h1m-139 1h1m4 0h1m2 0h1m41 0h1m33 0h1m10 0h1m63 0h1m-157 1h1m5 0h1m11 0h1m14 0h1m12 0h1m24 0h1m6 0h1m30 0h1m38 0h1m-160 1h1m8 0h2m3 0h2m13 0h1m8 0h1m2 0h1m2 0h1m3 0h1m3 0h1m1 0h1m2 0h1m17 0h1m2 0h1m6 0h1m1 0h1m29 0h2m2 0h1m29 0h1m12 0h1m-156 1h1m2 0h1m12 0h1m9 0h1m1 0h2m2 0h1m15 0h1m7 0h1m7 0h1m25 0h1m10 0h2m7 0h1m-116 1h1m8 0h1m24 0h1m2 0h1m4 0h1m21 0h1m4 0h1m1 0h1m34 0h1m10 0h1m46 0h1m-164 1h1m1 0h1m4 0h1m9 0h1m26 0h1m5 0h1m18 0h1m15 0h1m3 0h1m20 0h1m5 0h1m32 0h1m5 0h1m-149 1h1m7 0h2m37 0h1m30 0h1m8 0h1m3 0h1m5 0h1m46 0h2m-155 1h1m14 0h2m1 0h1m29 0h1m7 0h1m22 0h1m10 0h1m13 0h1m52 0h1m-158 1h1m42 0h1m5 0h1m14 0h1m9 0h1m4 0h1m17 0h1m53 0h1m-155 1h1m2 0h1m1 0h1m10 0h1m1 0h1m31 0h1m17 0h1m29 0h1m11 0h1m5 0h2m42 0h1m-159 1h1m13 0h1m81 0h1m11 0h1m1 0h1m6 0h1m32 0h1m-153 1h1m1 0h1m10 0h1m6 0h1m31 0h1m2 0h1m28 0h2m2 0h1m8 0h1m9 0h2m-93 1h1m36 0h1m5 0h1m8 0h1m8 0h1m1 0h1m3 0h1m3 0h1m13 0h1m14 0h2m-100 1h1m33 0h1m28 0h1m26 0h1m8 0h1m20 0h1m-34 1h1m11 0h1m-112 1h1m70 0h2m5 0h1m2 0h1m-69 1h1m24 0h1m3 0h1m28 0h1m10 0h1m10 0h1m-45 1h1m50 0h1m7 0h1m38 0h1m-149 1h1m91 0h2m6 0h1m5 0h1m9 0h1m-99 1h1m4 0h1m13 0h1m17 0h1m51 0h1m3 0h1m23 0h1m17 0h1m-114 1h1m1 0h1m51 0h1m5 0h3m46 0h1m-138 1h2m5 0h1m22 0h1m9 0h1m12 0h1m26 0h1m9 0h1m12 0h1m18 0h1m-123 1h1m8 0h1m15 0h1m43 0h1m4 0h1m16 0h1m6 0h1m1 0h1m-105 1h1m14 0h1m36 0h1m5 0h1m14 0h1m27 0h1m4 0h1m1 0h1m7 0h1m13 0h1m-136 1h1m9 0h1m2 0h1m6 0h1m19 0h1m7 0h1m59 0h1m13 0h1m4 0h1m-120 1h1m2 0h1m32 0h2m49 0h1m-94 1h1m5 0h2m32 0h1m4 0h1m5 0h1m21 0h2m25 0h1m1 0h2m-102 1h1m6 0h1m2 0h1m1 0h1m51 0h1m8 0h1m57 0h1m-132 1h1m3 0h1m6 0h1m19 0h1m14 0h1m19 0h1m3 0h1m1 0h1m10 0h1m6 0h1m-78 1h1m29 0h1m36 0h1m1 0h1m2 0h1m16 0h1m-98 1h1m10 0h1m29 0h1m31 0h2m5 0h1m5 0h1m2 0h1m32 0h1m-108 1h1m10 0h1m31 0h1m27 0h1m3 0h1m34 0h1m-114 1h1m3 0h1m5 0h1m16 0h1m2 0h2m11 0h2m8 0h1m16 0h1m11 0h1m11 0h1m-103 1h1m1 0h2m7 0h2m5 0h1m13 0h1m19 0h1m1 0h1m12 0h1m19 0h1m2 0h1m21 0h1m2 0h1m-116 1h1m1 0h1m3 0h1m61 0h1m1 0h1m12 0h1m13 0h1m-91 1h1m34 0h1m1 0h1m10 0h1m16 0h2m1 0h2m4 0h1m5 0h1m3 0h1m3 0h1m5 0h1m-103 1h1m11 0h2m22 0h1m24 0h1m13 0h1m-75 1h1m9 0h1m9 0h1m29 0h1m6 0h1m17 0h1m23 0h1m-104 1h1m12 0h1m13 0h1m13 0h1m13 0h1m4 0h1m16 0h1m25 0h1m-87 1h1m1 0h1m14 0h1m27 0h1m13 0h1m-57 1h1m4 0h1m3 0h1m3 0h1m20 0h1m19 0h1m-65 1h1m4 0h1m2 0h1m19 0h1m6 0h1m71 0h2m-110 1h1m15 0h1m1 0h1m6 0h1m6 0h2m14 0h1m22 0h1m6 0h1m-76 1h1m3 0h1m16 0h1m12 0h1m7 0h1m38 0h1m18 0h1m-96 1h1m27 0h1m23 0h1m3 0h1m9 0h1m2 0h1m-77 1h1m2 0h1m4 0h1m2 0h1m9 0h1m29 0h1m6 0h1m20 0h1m1 0h1m1 0h1m13 0h2m2 0h1m1 0h1m-106 1h1m1 0h1m7 0h1m18 0h1m5 0h1m4 0h1m1 0h1m4 0h1m12 0h1m42 0h1m-86 1h1m4 0h1m1 0h1m6 0h1m1 0h1m3 0h1m4 0h1m8 0h1m3 0h1m24 0h1m3 0h1m-94 1h1m19 0h1m18 0h2m12 0h1m23 0h2m1 0h1m-53 1h2m2 0h1m27 0h1m-53 1h1m1 0h1m12 0h1m17 0h1m2 0h1m48 0h1m-79 1h1m19 0h1m4 0h1m19 0h1m32 0h1m8 0h1m1 0h1m-82 1h2m3 0h1m13 0h2m7 0h1m16 0h1m-57 1h1m57 0h1m2 0h1m-63 1h2m26 1h1m-36 1h1m36 0h1m10 0h1m4 0h1m-37 1h1m12 0h1m-28 1h1m13 0h1m11 0h1m6 0h1m7 0h2m15 0h1m-43 1h2m-14 1h1m17 0h2m9 0h1m-33 1h1m1 0h1m6 0h1m7 0h2m7 0h1m-27 1h1m8 0h1m12 0h1m-11 1h1m2 0h1m-12 3h1m3 0h2m-3 1h1"/>
<path stroke="#3aba76" d="M163 1.5h1m-8 1h2m1 0h1m13 1h1m8 1h1m-29 1h1m-6 1h1m33 0h1m-38 1h1m28 0h1m9 2h1m-42 1h1m-2 1h1m25 0h1m15 0h1m-26 1h1m7 0h2m8 0h1m-1 1h1m-40 1h1m28 1h1m-34 1h1m41 1h1m1 0h1m3 0h1m-50 1h1m47 0h1m1 0h1m-46 4h1m42 0h1m-44 1h1m18 0h1m22 0h1m8 0h1m-33 1h1m23 0h1m3 0h1m-53 1h1m21 0h1m1 0h1m27 0h1m-4 1h1m-39 2h1m23 1h1m-16 2h1m-8 1h1m-3 1h1m-1 1h1m1 1h1m19 0h1m3 0h1m-34 1h1m12 0h1m1 0h1m10 0h1m0 1h1m25 0h1m-33 1h1m-28 1h1m6 0h2m12 0h1m2 0h1m-105 2h1m88 0h1m-2 1h1m21 0h1m-111 1h1m88 0h1m9 0h3m4 0h2m4 0h2m-51 1h1m19 0h1m7 0h1m8 0h2m3 0h1m-102 1h1m87 0h1m13 0h1m-103 1h1m76 0h3m1 0h1m6 0h1m21 0h1m-112 1h2m72 0h1m1 0h1m1 0h1m9 0h1m8 0h1m2 0h2m-101 1h1m72 0h1m5 0h1m1 0h1m29 0h1m-114 1h1m3 0h1m58 0h1m41 0h2m6 0h2m-56 1h1m32 0h1m5 0h1m16 0h1m-65 1h1m2 0h1m3 0h1m21 0h1m11 0h1m9 0h2m12 0h1m-63 1h1m29 0h1m12 0h2m5 0h2m-8 1h1m12 0h1m-61 1h1m1 0h1m31 0h1m17 0h2m4 0h1m1 0h1m-118 1h1m56 0h1m21 0h2m7 0h1m1 0h1m29 0h1m-120 1h1m111 0h1m-58 1h1m24 0h1m6 0h2m20 0h1m4 0h1m1 0h2m-65 1h1m2 0h1m16 0h1m25 0h1m1 0h1m14 0h1m-59 1h1m26 0h1m2 0h1m4 0h1m7 0h1m-49 1h3m32 0h1m14 0h1m1 0h1m6 0h1m-29 1h1m17 0h1m1 0h1m3 0h1m-102 1h1m60 0h1m20 0h1m6 0h1m7 0h1m4 0h1m40 0h1m-147 1h1m69 0h1m6 0h1m21 0h1m-53 1h1m7 0h1m14 0h1m2 0h1m2 0h1m23 0h1m5 0h1m-51 1h1m2 0h1m16 0h1m3 0h1m23 0h1m2 0h1m3 0h1m-116 1h1m1 0h1m2 0h1m44 0h1m33 0h1m40 0h1m-117 1h1m60 0h1m5 0h1m6 0h1m29 0h1m6 0h1m-113 1h1m7 0h1m57 0h1m5 0h1m36 0h1m25 0h1m-136 1h1m43 0h1m30 0h1m-75 1h2m4 0h1m41 0h1m1 0h1m7 0h1m8 0h1m2 0h1m5 0h1m1 0h1m6 0h1m32 0h1m1 0h1m-114 1h1m38 0h1m6 0h2m2 0h1m8 0h1m5 0h1m6 0h1m3 0h1m1 0h3m5 0h1m19 0h1m1 0h1m1 0h1m21 0h1m-140 1h1m1 0h1m43 0h1m2 0h1m20 0h1m3 0h1m5 0h1m1 0h1m25 0h1m2 0h1m-63 1h1m13 0h1m1 0h1m5 0h1m11 0h1m1 0h1m25 0h1m-60 1h1m11 0h1m20 0h2m7 0h1m12 0h2m3 0h1m3 0h2m-115 1h1m4 0h1m59 0h1m7 0h1m5 0h1m15 0h1m5 0h3m-113 1h2m3 0h1m1 0h1m29 0h1m32 0h1m3 0h1m9 0h1m15 0h1m3 0h2m-48 1h1m1 0h1m8 0h1m17 0h1m1 0h1m4 0h1m3 0h1m2 0h1m2 0h1m1 0h1m-33 1h2m9 0h1m7 0h1m13 0h1m34 0h1m-145 1h1m47 0h1m21 0h1m29 0h1m5 0h1m25 0h1m-141 1h1m80 0h1m17 0h1m19 0h2m-148 1h1m1 0h1m24 0h1m2 0h1m3 0h1m48 0h1m21 0h1m4 0h2m9 0h1m29 0h1m4 0h1m-131 1h2m47 0h1m6 0h1m25 0h1m3 0h1m2 0h1m28 0h2m4 0h2m11 0h1m-161 1h1m7 0h1m3 0h1m12 0h2m1 0h1m2 0h1m1 0h1m58 0h1m10 0h2m3 0h1m1 0h1m31 0h1m4 0h1m16 0h1m-163 1h2m6 0h1m2 0h2m10 0h3m6 0h1m37 0h1m11 0h1m6 0h2m15 0h1m1 0h1m5 0h1m1 0h1m24 0h1m12 0h1m-157 1h1m12 0h1m11 0h1m3 0h1m3 0h1m12 0h1m40 0h1m4 0h1m8 0h2m15 0h1m24 0h1m2 0h1m17 0h1m-170 1h1m1 0h1m1 0h1m8 0h1m18 0h1m18 0h1m20 0h1m8 0h1m14 0h1m5 0h1m7 0h1m7 0h1m-115 1h1m8 0h2m11 0h1m6 0h1m9 0h2m14 0h1m45 0h1m5 0h2m8 0h1m1 0h1m1 0h1m28 0h1m-151 1h1m3 0h1m6 0h1m21 0h1m19 0h1m1 0h1m1 0h1m14 0h1m17 0h2m2 0h1m14 0h1m5 0h1m2 0h1m31 0h1m-151 1h1m1 0h1m2 0h1m1 0h1m14 0h2m3 0h1m2 0h1m8 0h1m2 0h1m2 0h1m1 0h1m9 0h1m35 0h1m23 0h1m-110 1h1m14 0h1m1 0h1m12 0h1m3 0h1m8 0h1m6 0h1m24 0h2m26 0h1m-93 1h2m3 0h1m7 0h1m10 0h1m27 0h1m2 0h1m9 0h1m7 0h1m11 0h1m7 0h1m38 0h1m-135 1h1m11 0h1m21 0h2m5 0h1m14 0h1m9 0h1m5 0h1m2 0h1m13 0h1m9 0h1m37 0h1m4 0h1m-159 1h1m48 0h1m2 0h1m6 0h1m14 0h1m11 0h1m2 0h1m2 0h1m10 0h1m1 0h1m-106 1h1m1 0h2m36 0h2m6 0h1m1 0h1m5 0h1m29 0h1m3 0h1m2 0h1m15 0h1m-110 1h1m12 0h1m1 0h2m26 0h1m3 0h1m14 0h3m14 0h1m12 0h1m18 0h1m-100 1h1m39 0h1m4 0h1m2 0h1m22 0h1m31 0h1m-117 1h1m37 0h1m5 0h1m4 0h1m7 0h1m1 0h1m23 0h1m12 0h1m5 0h1m7 0h1m6 0h1m-82 1h1m2 0h1m4 0h1m5 0h1m10 0h1m11 0h2m5 0h1m1 0h2m18 0h1m8 0h1m7 0h1m13 0h1m-87 1h1m10 0h1m10 0h1m11 0h1m1 0h1m13 0h1m2 0h1m3 0h1m10 0h1m1 0h2m-25 1h1m5 0h2m1 0h1m12 0h3m-77 1h1m7 0h2m31 0h1m31 0h1m3 0h2m14 0h1m-93 1h1m38 0h1m9 0h1m15 0h1m8 0h1m28 0h1m-144 1h1m33 0h1m13 0h1m5 0h1m2 0h1m10 0h1m1 0h2m26 0h1m7 0h1m3 0h1m3 0h1m11 0h1m2 0h1m19 0h2m-116 1h1m4 0h1m10 0h1m1 0h1m8 0h1m15 0h1m6 0h1m11 0h1m6 0h2m-83 1h1m24 0h1m11 0h1m4 0h1m14 0h1m7 0h1m19 0h1m4 0h1m13 0h1m-111 1h1m21 0h1m38 0h1m11 0h1m1 0h2m1 0h1m1 0h1m13 0h1m-103 1h2m1 0h1m1 0h1m1 0h1m24 0h1m47 0h1m6 0h2m52 0h1m-140 1h1m18 0h1m5 0h1m3 0h1m16 0h1m24 0h1m2 0h1m2 0h1m6 0h1m1 0h1m8 0h1m2 0h1m-105 1h2m6 0h1m12 0h1m13 0h1m2 0h1m7 0h1m12 0h1m21 0h1m17 0h1m-100 1h1m3 0h1m20 0h1m20 0h1m36 0h1m14 0h1m20 0h1m-111 1h1m3 0h1m34 0h1m5 0h1m23 0h3m2 0h1m5 0h1m6 0h1m1 0h1m9 0h1m21 0h1m-131 1h1m8 0h1m24 0h1m13 0h1m15 0h1m17 0h1m3 0h1m6 0h1m-91 1h1m23 0h1m32 0h1m1 0h1m22 0h2m6 0h2m4 0h1m26 0h1m11 0h1m-138 1h1m3 0h2m5 0h1m43 0h1m10 0h2m16 0h1m7 0h1m4 0h1m-87 1h1m30 0h1m7 0h1m17 0h1m21 0h1m4 0h1m1 0h1m3 0h1m15 0h1m-114 1h1m7 0h1m2 0h1m5 0h1m1 0h1m36 0h2m2 0h1m5 0h1m1 0h1m27 0h1m18 0h1m-112 1h1m4 0h1m14 0h1m30 0h1m4 0h1m3 0h1m8 0h1m-48 1h1m9 0h1m6 0h1m7 0h1m2 0h1m20 0h3m7 0h1m8 0h1m1 0h1m-94 1h1m6 0h1m10 0h1m25 0h1m6 0h1m1 0h2m2 0h1m11 0h1m1 0h1m1 0h2m-71 1h1m16 0h1m11 0h2m20 0h1m6 0h1m7 0h1m14 0h1m1 0h1m11 0h1m-78 1h1m13 0h1m16 0h1m32 0h1m-84 1h1m2 0h1m3 0h1m3 0h1m10 0h1m2 0h1m2 0h1m2 0h1m25 0h1m1 0h1m6 0h1m6 0h1m-64 1h1m6 0h1m29 0h1m11 0h1m-58 1h1m18 0h1m5 0h1m8 0h1m14 0h1m20 0h1m4 0h1m2 0h1m-72 1h1m11 0h1m3 0h1m4 0h1m7 0h1m8 0h1m23 0h1m9 0h1m-71 1h2m1 0h1m11 0h1m7 0h1m19 0h1m27 0h1m12 0h1m8 0h1m-110 1h1m16 0h1m4 0h1m36 0h1m4 0h1m16 0h1m4 0h1m1 0h2m26 0h1m-70 1h1m12 0h1m17 0h1m3 0h1m6 0h1m1 0h1m17 0h1m-102 1h1m5 0h1m17 0h1m4 0h1m4 0h1m9 0h1m21 0h1m4 0h1m13 0h1m15 0h1m-117 1h1m15 0h1m17 0h1m7 0h1m11 0h1m3 0h1m1 0h1m8 0h1m4 0h1m-63 1h1m1 0h1m38 0h1m5 0h1m13 0h1m12 0h1m-61 1h1m7 0h1m2 0h1m12 0h1m5 0h1m5 0h1m6 0h1m4 0h1m2 0h1m-70 1h1m16 0h1m16 0h1m11 0h1m14 0h1m1 0h1m19 0h1m9 0h1m14 0h1m-95 1h1m6 0h1m8 0h1m1 0h2m3 0h1m4 0h1m9 0h1m2 0h1m2 0h1m7 0h1m10 0h1m1 0h1m-65 1h1m9 0h1m11 0h1m17 0h1m21 0h1m15 0h2m-90 1h1m25 0h1m3 0h1m7 1h1m50 0h1m-54 1h1m7 0h1m-52 1h1m13 0h1m7 0h1m4 0h1m1 0h1m7 0h1m4 0h2m6 0h1m14 0h1m-45 1h3m4 0h1m2 0h1m13 0h1m-34 1h1m1 0h1m3 0h1m26 0h1m3 0h1m-43 1h1m13 0h1m-15 1h1m1 0h1m4 0h2m3 0h1m12 0h1m14 0h1m-40 1h1m5 0h2m18 0h1m-28 1h1m30 0h1m3 0h1m-6 1h1m-19 1h1m-3 1h1m2 0h1m0 1h1m-6 2h1m-2 1h1"/>
<path stroke="#5ec962" d="M160 2.5h2m4 0h1m-12 1h1m16 0h1m9 0h1m-28 1h1m23 0h1m3 1h1m-41 7h1m33 0h1m8 1h1m-27 1h1m18 0h1m-26 1h1m24 0h1m-13 1h1m11 0h1m-46 1h1m23 0h1m11 0h1m15 0h1m-20 2h1m2 0h1m4 1h1m-26 2h2m17 0h1m-9 1h1m6 0h1m14 0h1m4 0h1m-23 2h1m-16 1h1m-23 1h1m17 1h1m1 0h1m17 0h1m-6 1h1m-12 1h1m10 0h1m-37 1h1m40 0h1m-47 1h1m45 1h1m-27 1h1m4 0h3m18 0h2m-25 1h3m-3 1h1m1 0h1m19 0h1m-23 1h1m17 0h1m-46 1h1m24 0h1m21 0h1m-32 1h2m29 0h1m17 0h1m-46 1h1m20 0h1m-17 2h1m5 1h2m6 0h1m-25 1h1m1 0h1m5 0h1m3 0h2m-18 1h1m20 0h1m2 0h1m4 0h1m3 0h1m-15 1h1m5 0h1m1 0h3m-26 1h1m14 0h1m9 0h3m5 0h1m-62 1h1m38 0h1m2 0h1m1 0h1m4 0h1m2 0h1m2 0h1m-9 1h1m5 0h2m2 0h1m2 0h1m-26 1h1m7 0h1m2 0h2m4 0h1m9 0h1m-61 1h1m31 0h1m4 0h1m3 0h1m4 0h1m2 0h1m3 0h1m9 0h1m-73 1h1m43 0h3m3 0h1m8 0h1m3 0h1m1 0h1m2 0h1m1 0h1m-32 1h1m19 0h1m1 0h1m-81 1h1m54 0h1m3 0h1m5 0h2m2 0h1m4 0h1m8 0h1m2 0h1m-59 1h1m22 0h1m4 0h1m19 0h1m1 0h1m2 0h1m1 0h2m2 0h3m-35 1h1m2 0h1m1 0h1m20 0h2m2 0h1m-113 1h1m49 0h1m21 0h1m1 0h1m9 0h1m2 0h1m11 0h1m3 0h2m-57 1h1m23 0h1m25 0h1m4 0h1m7 0h1m-60 1h2m15 0h1m2 0h1m12 0h1m1 0h1m12 0h1m8 0h1m-109 1h2m66 0h1m12 0h2m3 0h1m1 0h1m3 0h1m14 0h1m-40 1h1m11 0h1m7 0h1m-88 1h1m65 0h1m20 0h1m2 0h1m54 0h1m-148 1h1m40 0h1m1 0h1m1 0h1m25 0h1m2 0h1m1 0h1m5 0h1m8 0h1m18 0h2m36 0h3m-150 1h1m57 0h1m3 0h1m4 0h1m1 0h1m2 0h1m15 0h1m44 0h1m13 0h1m-146 1h1m43 0h1m5 0h1m10 0h1m10 0h1m4 0h1m5 0h1m18 0h1m8 0h1m-58 1h1m2 0h1m1 0h1m7 0h1m2 0h1m2 0h1m2 0h1m3 0h1m3 0h1m1 0h1m27 0h1m-57 1h2m6 0h1m56 0h1m-117 1h1m43 0h1m5 0h1m8 0h1m12 0h1m2 0h1m32 0h1m-123 1h1m1 0h1m8 0h1m2 0h1m46 0h1m10 0h1m8 0h1m2 0h1m6 0h1m3 0h2m3 0h1m19 0h1m-61 1h1m11 0h1m9 0h1m1 0h1m9 0h2m1 0h1m22 0h1m1 0h3m-123 1h1m10 0h1m41 0h1m25 0h1m10 0h1m27 0h1m-120 1h1m61 0h2m9 0h1m4 0h1m7 0h1m4 0h1m30 0h1m2 0h1m-43 1h1m4 0h1m2 0h1m2 0h1m35 0h1m-74 1h2m16 0h1m29 0h1m4 0h1m14 0h1m-122 1h1m1 0h1m68 0h1m11 0h1m1 0h1m8 0h1m3 0h1m3 0h2m1 0h2m-108 1h1m9 0h1m62 0h1m9 0h1m2 0h2m10 0h1m-91 1h1m63 0h1m4 0h1m1 0h1m2 0h2m10 0h1m1 0h1m9 0h1m-114 1h1m2 0h1m9 0h1m1 0h1m51 0h1m24 0h1m18 0h1m-32 1h1m2 0h1m1 0h1m2 0h2m8 0h1m11 0h1m24 0h1m13 0h1m-151 1h1m4 0h2m48 0h1m5 0h1m23 0h1m3 0h2m10 0h1m13 0h2m4 0h1m14 0h1m11 0h1m-149 1h2m5 0h1m70 0h1m1 0h2m2 0h2m2 0h1m1 0h1m1 0h1m3 0h1m-97 1h1m2 0h1m5 0h1m45 0h1m20 0h1m2 0h1m6 0h1m6 0h1m-124 1h1m14 0h1m11 0h3m51 0h1m9 0h1m19 0h1m2 0h1m7 0h1m23 0h1m-147 1h1m4 0h1m4 0h1m1 0h1m21 0h2m15 0h1m39 0h2m14 0h1m16 0h2m24 0h2m-151 1h1m6 0h1m1 0h3m14 0h1m54 0h2m10 0h1m5 0h1m10 0h1m10 0h1m27 0h1m-141 1h1m3 0h1m37 0h1m51 0h1m1 0h1m9 0h1m7 0h1m31 0h1m-154 1h1m28 0h1m21 0h1m47 0h1m13 0h1m43 0h1m-156 1h1m1 0h1m1 0h1m1 0h1m13 0h1m4 0h1m24 0h1m17 0h1m3 0h1m2 0h1m3 0h1m3 0h1m1 0h2m7 0h1m7 0h1m1 0h2m5 0h1m-109 1h1m1 0h1m2 0h1m21 0h1m12 0h1m1 0h1m4 0h1m4 0h1m23 0h1m2 0h1m10 0h2m10 0h1m2 0h1m-109 1h1m20 0h1m16 0h1m5 0h1m3 0h1m7 0h1m11 0h1m10 0h1m5 0h1m1 0h1m10 0h1m7 0h1m-86 1h1m2 0h1m11 0h1m4 0h1m1 0h1m4 0h3m14 0h1m9 0h2m19 0h1m1 0h1m7 0h1m50 0h1m-158 1h1m19 0h1m27 0h1m4 0h1m17 0h1m1 0h1m3 0h1m14 0h1m2 0h1m16 0h1m35 0h1m-113 1h1m23 0h1m48 0h1m5 0h1m-103 1h1m33 0h1m3 0h1m5 0h2m4 0h1m17 0h1m5 0h1m8 0h1m1 0h1m2 0h1m59 0h1m-163 1h1m14 0h1m4 0h1m37 0h2m-60 1h2m13 0h1m31 0h1m31 0h1m23 0h1m2 0h1m4 0h1m6 0h1m-105 1h1m13 0h1m16 0h1m26 0h1m4 0h1m15 0h1m14 0h1m43 0h1m-125 1h1m16 0h1m2 0h1m9 0h1m13 0h1m23 0h2m1 0h1m1 0h1m5 0h1m4 0h1m-96 1h1m27 0h1m4 0h1m9 0h1m10 0h1m27 0h1m6 0h1m-80 1h1m6 0h1m24 0h1m35 0h1m1 0h1m4 0h1m2 0h1m1 0h1m3 0h1m7 0h1m13 0h1m-91 1h1m3 0h1m4 0h1m2 0h1m35 0h1m9 0h2m8 0h1m5 0h1m-101 1h1m20 0h1m46 0h1m23 0h1m5 0h1m20 0h1m-116 1h1m3 0h1m9 0h1m7 0h1m6 0h1m5 0h1m10 0h1m8 0h1m5 0h1m27 0h1m-90 1h1m7 0h1m4 0h1m5 0h1m3 0h1m6 0h1m6 0h1m7 0h1m8 0h1m18 0h1m15 0h1m16 0h1m-107 1h1m21 0h1m8 0h1m7 0h1m3 0h1m4 0h1m14 0h1m1 0h1m2 0h1m16 0h1m-91 1h1m8 0h1m57 0h1m2 0h1m4 0h1m5 0h1m13 0h1m-88 1h1m41 0h1m1 0h1m15 0h1m5 0h1m4 0h1m7 0h1m26 0h1m20 0h1m-139 1h1m5 0h2m3 0h1m2 0h2m21 0h1m1 0h1m8 0h1m22 0h1m1 0h1m-64 1h2m39 0h1m19 0h1m5 0h1m21 0h1m-104 1h3m19 0h1m23 0h1m6 0h1m10 0h1m9 0h1m4 0h3m6 0h1m15 0h1m-105 1h1m1 0h1m8 0h1m13 0h1m44 0h1m12 0h2m17 0h1m5 0h1m3 0h1m-111 1h1m23 0h1m5 0h1m5 0h1m6 0h1m3 0h1m4 0h1m2 0h1m1 0h2m8 0h1m18 0h1m11 0h1m4 0h2m1 0h1m28 0h1m-135 1h1m2 0h1m16 0h1m8 0h1m16 0h1m15 0h1m3 0h1m8 0h1m1 0h1m1 0h1m4 0h1m6 0h1m-79 1h1m9 0h1m19 0h1m6 0h1m3 0h1m5 0h1m8 0h2m32 0h1m3 0h1m12 0h1m-111 1h1m39 0h1m3 0h1m22 0h1m6 0h1m5 0h1m-93 1h1m4 0h1m20 0h1m39 0h1m1 0h1m1 0h1m9 0h1m-75 1h1m4 0h1m38 0h1m6 0h1m7 0h1m-59 1h1m8 0h1m1 0h1m9 0h1m15 0h1m13 0h1m6 0h1m1 0h1m5 0h1m7 0h1m4 0h1m-83 1h1m10 0h1m12 0h3m2 0h2m6 0h1m9 0h1m17 0h1m4 0h1m27 0h1m-78 1h1m8 0h1m1 0h1m12 0h1m40 0h1m19 0h1m-106 1h1m3 0h1m17 0h1m9 0h2m9 0h1m31 0h1m6 0h2m4 0h1m7 0h1m-87 1h1m8 0h1m2 0h1m5 0h1m1 0h1m6 0h1m36 0h1m32 0h1m-108 1h1m8 0h1m9 0h1m2 0h3m2 0h1m2 0h2m1 0h1m24 0h1m11 0h1m6 0h1m9 0h1m-79 1h1m13 0h1m4 0h1m3 0h1m5 0h1m5 0h1m13 0h1m18 0h1m5 0h1m23 0h1m-88 1h1m14 0h1m3 0h1m15 0h3m13 0h1m5 0h1m1 0h1m3 0h1m-74 1h1m31 0h1m3 0h1m5 0h1m2 0h1m3 0h1m2 0h1m6 0h1m4 0h1m1 0h1m6 0h1m-80 1h1m14 0h1m3 0h1m20 0h1m12 0h1m13 0h1m12 0h1m22 0h1m-105 1h1m8 0h1m11 0h1m6 0h1m2 0h1m2 0h1m14 0h1m1 0h1m13 0h1m9 0h1m6 0h1m-82 1h2m8 0h1m17 0h1m10 0h1m9 0h1m3 0h2m3 0h1m8 0h1m2 0h1m8 0h1m5 0h1m-87 1h1m10 0h1m10 0h1m14 0h1m10 0h1m1 0h1m4 0h1m11 0h1m-72 1h1m5 0h1m2 0h1m1 0h1m2 0h1m15 0h1m5 0h1m12 0h1m23 0h1m19 0h1m-100 1h1m3 0h1m26 0h1m33 0h1m1 0h1m11 0h1m8 0h1m25 0h1m-113 1h1m6 0h1m5 0h3m14 0h1m6 0h1m8 0h1m27 0h1m4 0h1m6 0h1m-88 1h1m2 0h2m2 0h1m3 0h1m2 0h1m6 0h1m4 0h1m3 0h3m29 0h1m19 0h1m1 0h1m-85 1h1m2 0h1m19 0h2m2 0h1m1 0h1m6 0h3m12 0h1m4 0h1m10 0h1m1 0h1m8 0h1m1 0h1m-72 1h1m2 0h1m4 0h1m3 0h1m10 0h1m11 0h1m6 0h1m26 0h1m21 0h1m7 0h1m-97 1h1m4 0h1m1 0h1m11 0h1m6 0h1m1 0h1m22 0h1m-38 1h2m2 0h1m6 0h1m3 0h1m6 0h1m47 0h1m-69 1h1m7 0h1m3 0h1m7 0h1m47 0h1m-80 1h2m24 0h1m1 0h1m-35 1h1m5 0h1m8 0h1m1 0h1m2 0h1m10 0h1m11 0h1m1 0h1m16 0h1m-47 1h1m6 0h1m10 0h1m14 0h1m-27 1h1m4 0h2m1 0h2m3 0h1m-25 1h1m-7 1h1m23 0h1m2 0h1m-34 2h1m12 0h1m17 0h1m-19 3h1m-6 1h1m-2 1h1"/>
<path stroke="#89d548" d="M164 1.5h1m4 2h1m5 0h1m4 0h1m-1 3h1m1 0h1m1 2h1m-16 1h1m-2 1h1m-20 2h1m36 0h1m-20 1h1m1 0h1m-30 1h1m25 1h1m19 0h1m-22 3h1m1 0h1m15 0h1m0 1h1m-5 1h1m-28 2h1m30 0h1m4 0h1m-4 1h1m2 0h1m-7 1h2m5 0h1m-63 4h1m41 1h1m-10 1h1m9 0h1m-26 2h1m-6 1h1m21 0h1m-22 1h1m11 0h1m-37 2h1m28 0h1m8 0h2m-26 2h1m11 0h1m7 0h1m-36 1h1m11 0h1m3 1h1m-2 1h1m3 0h1m6 0h1m19 1h1m-31 1h1m29 0h1m-10 1h3m1 0h1m2 0h3m1 0h1m-32 1h1m24 0h1m-20 1h1m7 0h1m3 0h1m5 0h1m3 0h1m-35 1h1m19 0h1m13 0h1m1 0h1m1 0h1m-20 1h1m1 0h2m3 0h1m8 0h1m2 0h1m-24 1h1m3 0h3m3 0h1m1 0h2m5 0h1m3 0h1m-18 1h1m3 0h3m2 0h2m1 0h2m-24 1h1m10 0h1m2 0h1m6 0h1m1 0h1m1 0h1m2 0h1m-74 1h1m7 0h1m32 0h1m3 0h2m22 0h1m-17 1h1m2 0h1m2 0h1m3 0h1m2 0h1m2 0h2m-29 1h1m3 0h1m5 0h1m4 0h1m4 0h1m3 0h1m-45 1h1m18 0h1m7 0h1m1 0h1m11 0h2m-56 1h1m4 0h1m28 0h1m12 0h3m-103 1h1m1 0h1m47 0h1m7 0h1m17 0h1m6 0h1m11 0h1m1 0h1m12 0h1m3 0h1m-65 1h1m6 0h1m16 0h1m1 0h2m7 0h1m21 0h1m-37 1h1m2 0h1m7 0h1m2 0h1m20 0h1m2 0h1m-60 1h1m20 0h1m27 0h1m-101 1h1m1 0h1m46 0h1m3 0h1m5 0h1m21 0h1m25 0h1m44 0h1m-153 1h1m1 0h1m2 0h1m42 0h1m5 0h1m14 0h1m13 0h1m67 0h1m-149 1h1m44 0h3m2 0h2m15 0h1m11 0h1m26 0h1m-108 1h1m45 0h1m27 0h1m1 0h1m2 0h1m8 0h1m20 0h1m2 0h1m-113 1h2m50 0h1m9 0h1m9 0h1m8 0h1m6 0h1m-93 1h1m2 0h1m52 0h2m21 0h1m53 0h1m15 0h1m-96 1h1m2 0h1m31 0h1m3 0h1m-87 1h1m1 0h1m44 0h1m25 0h1m9 0h2m1 0h2m-94 1h1m13 0h1m41 0h1m21 0h1m3 0h1m2 0h1m34 0h1m-120 1h1m54 0h1m7 0h1m1 0h1m3 0h1m3 0h1m4 0h1m9 0h2m8 0h1m18 0h1m-62 1h1m8 0h1m1 0h1m17 0h1m12 0h1m20 0h1m-113 1h1m4 0h1m60 0h1m4 0h1m14 0h2m27 0h1m-117 1h1m5 0h1m52 0h1m11 0h1m5 0h1m32 0h1m-117 1h2m9 0h1m4 0h1m45 0h1m12 0h1m4 0h1m3 0h3m14 0h1m6 0h1m4 0h1m-114 1h2m2 0h1m5 0h1m3 0h1m49 0h1m14 0h2m1 0h1m-83 1h1m5 0h1m53 0h1m13 0h1m4 0h3m14 0h1m1 0h1m-93 1h1m79 0h1m13 0h1m9 0h1m-114 1h1m2 0h1m83 0h2m13 0h1m7 0h2m-115 1h1m1 0h1m1 0h1m61 0h1m3 0h1m12 0h1m10 0h1m3 0h1m-96 1h1m3 0h1m48 0h1m5 0h3m3 0h1m8 0h1m3 0h1m1 0h1m4 0h1m5 0h1m17 0h1m-140 1h1m89 0h1m15 0h1m6 0h1m28 0h1m-146 1h2m1 0h1m27 0h2m1 0h2m1 0h1m40 0h1m11 0h2m9 0h1m2 0h1m3 0h1m2 0h1m9 0h1m23 0h1m25 0h1m-169 1h2m29 0h1m22 0h1m5 0h1m26 0h1m5 0h1m1 0h2m54 0h1m-154 1h1m2 0h1m9 0h1m23 0h1m49 0h1m4 0h1m1 0h1m12 0h3m1 0h1m1 0h1m-113 1h1m1 0h1m1 0h1m8 0h2m63 0h1m4 0h1m2 0h1m1 0h1m5 0h1m1 0h2m2 0h1m9 0h1m8 0h1m2 0h2m23 0h1m7 0h1m-149 1h1m1 0h1m3 0h2m33 0h1m34 0h1m3 0h1m11 0h1m23 0h1m-121 1h1m2 0h1m3 0h1m37 0h1m1 0h1m20 0h1m6 0h1m4 0h1m3 0h1m3 0h2m2 0h1m8 0h1m1 0h1m-77 1h3m9 0h1m7 0h2m2 0h1m3 0h1m11 0h1m12 0h2m6 0h1m3 0h1m3 0h1m1 0h1m11 0h1m5 0h1m-90 1h1m7 0h2m2 0h1m43 0h1m1 0h1m1 0h1m11 0h1m1 0h1m2 0h1m2 0h1m-80 1h1m2 0h1m7 0h1m3 0h1m2 0h1m8 0h1m10 0h1m4 0h1m5 0h2m18 0h1m2 0h1m2 0h1m1 0h1m1 0h1m1 0h1m-90 1h1m4 0h1m4 0h1m20 0h2m1 0h1m17 0h1m5 0h1m23 0h1m4 0h2m-91 1h1m20 0h1m2 0h1m6 0h1m20 0h1m12 0h1m3 0h1m9 0h1m11 0h3m2 0h1m42 0h1m-143 1h1m3 0h1m15 0h1m3 0h1m21 0h1m2 0h2m9 0h1m3 0h1m2 0h1m15 0h1m2 0h1m4 0h1m1 0h1m2 0h3m-99 1h1m1 0h1m24 0h1m9 0h1m14 0h1m5 0h1m5 0h1m2 0h1m19 0h2m4 0h1m2 0h1m2 0h1m-79 1h1m3 0h2m23 0h1m3 0h1m6 0h1m12 0h1m6 0h1m2 0h2m3 0h1m-71 1h1m19 0h1m7 0h1m26 0h1m6 0h1m1 0h1m8 0h1m3 0h1m1 0h1m-88 1h1m2 0h1m17 0h1m13 0h2m17 0h1m13 0h1m4 0h1m6 0h1m3 0h1m-75 1h1m24 0h1m2 0h1m11 0h1m1 0h1m13 0h1m14 0h1m1 0h1m7 0h1m-103 1h1m8 0h1m17 0h2m16 0h1m14 0h2m1 0h1m7 0h1m6 0h3m13 0h2m1 0h1m5 0h1m-92 1h1m14 0h4m3 0h1m2 0h1m2 0h1m1 0h1m1 0h2m15 0h1m2 0h1m5 0h1m25 0h3m16 0h1m-108 1h1m14 0h2m7 0h1m4 0h1m2 0h2m4 0h1m2 0h1m2 0h1m1 0h1m9 0h2m4 0h2m7 0h1m2 0h1m9 0h2m2 0h1m34 0h1m-122 1h1m13 0h1m1 0h1m2 0h1m15 0h1m3 0h1m10 0h1m11 0h1m10 0h1m4 0h1m9 0h1m1 0h1m31 0h1m-131 1h2m3 0h1m7 0h1m2 0h1m1 0h1m10 0h1m4 0h2m5 0h1m12 0h1m2 0h1m7 0h1m1 0h1m1 0h1m5 0h1m9 0h2m-79 1h1m1 0h1m7 0h1m9 0h1m2 0h2m1 0h1m8 0h1m5 0h1m2 0h1m13 0h1m6 0h1m48 0h1m-119 1h1m6 0h1m8 0h1m6 0h1m13 0h1m35 0h1m16 0h2m41 0h1m-133 1h1m4 0h1m7 0h1m12 0h1m7 0h1m7 0h1m18 0h1m7 0h1m9 0h1m10 0h1m37 0h1m-136 1h1m11 0h1m18 0h1m3 0h1m1 0h2m3 0h1m1 0h1m4 0h1m31 0h2m19 0h1m-108 1h1m4 0h1m13 0h1m23 0h1m34 0h1m2 0h1m3 0h2m4 0h2m37 0h1m-132 1h3m15 0h1m2 0h1m1 0h1m5 0h1m1 0h1m7 0h1m7 0h1m5 0h1m28 0h1m3 0h1m34 0h1m-114 1h4m2 0h3m3 0h1m1 0h1m7 0h1m3 0h1m11 0h1m13 0h1m15 0h1m9 0h1m11 0h2m2 0h1m-103 1h1m13 0h1m15 0h1m12 0h1m7 0h1m1 0h1m6 0h1m55 0h1m-105 1h1m16 0h2m2 0h1m7 0h1m5 0h1m13 0h1m14 0h1m6 0h1m8 0h1m1 0h1m1 0h1m-99 1h1m29 0h2m12 0h1m3 0h1m3 0h1m12 0h1m3 0h1m4 0h1m3 0h1m31 0h1m-108 1h1m14 0h1m7 0h1m5 0h1m16 0h3m10 0h1m7 0h1m7 0h2m9 0h1m6 0h1m11 0h2m-105 1h1m9 0h1m2 0h1m3 0h1m19 0h1m5 0h1m8 0h1m3 0h1m3 0h1m1 0h1m8 0h3m3 0h1m7 0h1m-73 1h1m6 0h1m4 0h1m8 0h1m1 0h2m8 0h1m2 0h2m1 0h1m21 0h1m3 0h1m10 0h2m4 0h1m8 0h1m-104 1h2m9 0h1m2 0h2m2 0h1m16 0h3m6 0h2m22 0h2m15 0h1m4 0h1m1 0h2m-97 1h1m3 0h1m36 0h1m7 0h3m13 0h1m-62 1h1m6 0h1m3 0h1m18 0h1m6 0h1m3 0h1m18 0h1m21 0h1m7 0h1m3 0h2m5 0h1m-99 1h1m4 0h1m7 0h1m2 0h1m3 0h1m2 0h1m6 0h1m12 0h1m7 0h1m10 0h1m16 0h1m4 0h1m1 0h1m-89 1h1m7 0h1m1 0h1m4 0h1m7 0h1m1 0h1m1 0h2m1 0h1m13 0h2m2 0h2m6 0h1m7 0h1m5 0h3m27 0h1m-102 1h2m6 0h1m3 0h1m5 0h1m12 0h1m20 0h1m2 0h1m6 0h1m8 0h1m7 0h2m1 0h1m3 0h1m31 0h1m-104 1h2m12 0h1m22 0h1m12 0h1m18 0h1m-86 1h1m8 0h1m12 0h1m13 0h1m1 0h1m3 0h1m8 0h2m4 0h1m2 0h1m11 0h2m6 0h2m-78 1h1m5 0h1m4 0h1m7 0h2m12 0h1m4 0h1m1 0h1m17 0h1m4 0h2m8 0h1m4 0h1m5 0h1m-84 1h1m1 0h1m12 0h1m3 0h1m12 0h1m4 0h1m11 0h1m2 0h1m10 0h1m3 0h1m1 0h1m1 0h1m3 0h1m2 0h1m-80 1h1m1 0h1m6 0h1m9 0h1m2 0h1m1 0h1m1 0h1m13 0h1m1 0h2m7 0h1m12 0h1m7 0h2m1 0h1m2 0h1m-68 1h1m8 0h1m2 0h1m1 0h2m9 0h1m3 0h1m19 0h1m3 0h1m8 0h1m2 0h2m-86 1h1m10 0h1m2 0h1m14 0h1m5 0h1m9 0h1m6 0h1m6 0h1m5 0h2m8 0h1m17 0h1m-85 1h1m1 0h1m3 0h2m17 0h1m2 0h1m2 0h1m2 0h1m10 0h1m18 0h2m2 0h1m6 0h1m-68 1h1m13 0h1m5 0h1m1 0h1m9 0h1m1 0h1m5 0h1m5 0h3m5 0h1m2 0h1m6 0h1m3 0h1m9 0h2m-91 1h1m2 0h1m8 0h1m21 0h1m28 0h1m3 0h1m2 0h1m2 0h2m2 0h1m-86 1h1m13 0h1m4 0h1m2 0h1m10 0h1m2 0h1m7 0h1m13 0h1m14 0h1m-61 1h1m4 0h2m6 0h1m9 0h1m5 0h1m3 0h1m3 0h2m8 0h1m7 0h1m6 0h1m-67 1h1m1 0h1m3 0h1m2 0h1m8 0h1m5 0h1m6 0h1m12 0h1m7 0h1m7 0h1m5 0h1m-57 1h1m5 0h1m2 0h1m2 0h1m5 0h1m2 0h1m2 0h1m10 0h3m5 0h1m7 0h1m29 0h1m-95 1h1m14 0h2m57 0h1m18 0h1m-88 1h1m10 0h3m3 0h2m1 0h1m2 0h1m7 0h1m3 0h1m5 0h1m-28 1h1m4 0h1m12 0h1m8 0h1m-34 1h3m7 0h3m10 0h1m31 0h1m-60 1h1m5 0h1m13 0h1m2 0h1m2 0h1m1 0h1m-35 1h1m21 0h1m6 0h1m2 0h1m2 0h1m1 0h1m-39 1h1m19 0h1m4 0h1m7 0h1m-34 1h1m4 0h1m10 0h1m10 0h1m1 0h1m-28 1h1m18 0h1m1 0h1m5 0h2m-31 1h1m20 0h1m6 0h1m-8 1h1m1 0h1m2 0h1m-8 1h1m-12 1h1m6 0h2m-5 1h1m2 0h1"/>
<path stroke="#b8de29" d="M162 1.5h1m5 1h1m-1 1h1m8 0h2m2 0h1m-22 1h1m-11 2h1m33 0h1m-16 1h1m14 0h1m-39 1h1m23 2h1m-29 2h1m3 0h1m6 2h1m32 0h1m-38 2h1m36 0h1m0 2h1m-8 1h1m1 0h1m-1 1h1m1 0h1m-18 1h1m14 0h2m4 0h1m-35 1h1m12 0h1m14 1h1m4 0h1m-21 1h1m12 0h1m-8 1h1m-31 3h1m17 6h1m-32 2h1m28 0h1m31 0h1m-64 1h1m7 0h1m-21 3h1m19 0h1m5 0h1m-10 1h1m4 1h1m22 1h2m-14 1h1m10 0h1m3 0h1m-30 1h1m20 0h1m3 0h1m2 0h1m-19 1h1m3 0h2m3 0h1m5 0h2m-32 1h1m18 0h2m2 0h2m6 0h1m1 0h1m-23 1h1m9 0h2m7 0h1m-9 1h1m1 0h1m10 0h1m-18 1h1m8 0h1m5 0h3m1 0h1m-28 1h2m6 0h2m11 0h1m1 0h1m1 0h2m-6 1h1m-22 1h3m5 0h2m1 0h1m-48 1h1m37 0h1m2 0h1m2 0h1m1 0h1m-9 1h1m1 0h1m3 0h1m-42 1h1m20 0h1m5 0h1m8 0h2m3 0h2m-102 1h2m52 0h1m2 0h1m28 0h1m9 0h1m3 0h2m1 0h2m3 0h1m2 0h1m-57 1h1m21 0h1m19 0h1m1 0h1m4 0h2m1 0h2m2 0h1m-107 1h1m46 0h1m24 0h2m2 0h1m14 0h1m-48 1h1m24 0h2m1 0h1m3 0h2m12 0h1m30 0h1m-127 1h1m5 0h1m46 0h1m5 0h1m11 0h1m1 0h3m2 0h1m1 0h1m2 0h1m6 0h1m-89 1h1m49 0h1m21 0h1m2 0h1m5 0h1m10 0h1m-89 1h2m48 0h1m13 0h1m5 0h1m3 0h1m56 0h1m-138 1h1m4 0h2m41 0h1m6 0h1m9 0h1m4 0h1m9 0h1m2 0h1m-83 1h2m66 0h1m3 0h1m5 0h2m71 0h1m-149 1h2m60 0h1m13 0h1m-81 1h1m3 0h2m3 0h1m56 0h1m11 0h1m4 0h1m5 0h3m-93 1h4m51 0h2m2 0h1m18 0h2m12 0h1m-37 1h1m2 0h1m6 0h1m9 0h2m14 0h3m29 0h1m-125 1h2m2 0h1m10 0h1m54 0h1m3 0h1m1 0h1m8 0h2m-83 1h3m2 0h2m69 0h1m-79 1h1m3 0h1m5 0h1m54 0h1m3 0h1m1 0h1m8 0h1m-73 1h2m1 0h1m1 0h1m43 0h1m8 0h2m3 0h1m6 0h2m-82 1h1m4 0h2m2 0h4m53 0h3m4 0h1m6 0h1m3 0h2m21 0h2m-109 1h2m9 0h1m73 0h1m3 0h1m14 0h1m41 0h1m-140 1h1m3 0h1m1 0h1m50 0h1m1 0h1m1 0h1m4 0h1m11 0h1m-81 1h1m58 0h1m15 0h1m1 0h1m2 0h1m3 0h1m11 0h1m21 0h1m24 0h1m-86 1h1m6 0h1m13 0h2m-89 1h1m1 0h1m65 0h1m2 0h1m2 0h1m2 0h2m7 0h2m2 0h1m-90 1h1m1 0h1m61 0h1m15 0h1m1 0h1m2 0h1m25 0h2m-112 1h2m60 0h1m10 0h1m10 0h1m-116 1h1m33 0h1m59 0h5m1 0h1m4 0h1m10 0h1m3 0h1m-122 1h2m32 0h1m58 0h1m9 0h1m5 0h1m-109 1h2m13 0h1m72 0h1m20 0h1m-109 1h1m71 0h1m3 0h1m23 0h1m1 0h1m2 0h3m41 0h1m-148 1h2m1 0h1m75 0h1m8 0h2m2 0h1m1 0h1m5 0h1m1 0h3m3 0h2m-109 1h2m1 0h1m41 0h1m25 0h1m5 0h1m17 0h1m1 0h1m3 0h1m2 0h1m4 0h1m4 0h1m32 0h1m-148 1h1m24 0h1m18 0h1m3 0h1m24 0h1m12 0h1m3 0h1m11 0h1m5 0h1m3 0h1m-82 1h1m16 0h1m1 0h1m1 0h2m7 0h1m12 0h1m1 0h1m6 0h1m1 0h1m11 0h1m49 0h1m6 0h1m-130 1h1m2 0h1m2 0h2m13 0h1m1 0h1m2 0h3m14 0h1m4 0h1m1 0h1m22 0h1m2 0h1m1 0h1m-78 1h1m4 0h3m3 0h2m6 0h1m6 0h1m12 0h1m2 0h1m7 0h1m3 0h1m2 0h2m1 0h1m1 0h1m7 0h1m2 0h1m8 0h2m-89 1h2m1 0h3m1 0h1m7 0h1m14 0h1m11 0h2m3 0h1m5 0h2m2 0h2m3 0h1m8 0h1m4 0h2m1 0h1m4 0h1m1 0h1m-92 1h1m7 0h1m1 0h1m1 0h1m3 0h2m2 0h2m1 0h1m10 0h1m20 0h1m4 0h1m3 0h1m8 0h2m5 0h1m4 0h1m4 0h1m6 0h1m-99 1h1m10 0h1m5 0h2m2 0h1m1 0h1m26 0h1m3 0h1m1 0h1m3 0h1m11 0h1m10 0h1m4 0h2m-89 1h1m5 0h1m1 0h1m1 0h4m2 0h1m8 0h1m12 0h1m3 0h1m6 0h1m4 0h4m2 0h2m1 0h1m7 0h1m8 0h2m8 0h1m2 0h1m2 0h2m1 0h1m-97 1h1m6 0h2m9 0h1m14 0h1m11 0h1m1 0h1m23 0h1m5 0h1m1 0h1m6 0h1m-92 1h1m1 0h3m4 0h2m7 0h1m4 0h1m6 0h2m7 0h1m2 0h1m8 0h1m1 0h1m1 0h1m10 0h1m2 0h1m1 0h1m18 0h1m2 0h1m-93 1h1m6 0h1m6 0h1m1 0h1m4 0h1m8 0h1m6 0h1m1 0h1m9 0h2m7 0h1m5 0h1m3 0h1m1 0h2m-59 1h1m7 0h1m9 0h1m2 0h2m1 0h1m7 0h1m7 0h1m4 0h1m2 0h1m1 0h1m5 0h1m5 0h1m23 0h1m-101 1h1m7 0h1m1 0h1m8 0h1m2 0h1m2 0h1m5 0h1m3 0h2m1 0h1m16 0h2m15 0h1m7 0h1m-80 1h1m7 0h1m3 0h1m14 0h1m1 0h1m2 0h1m4 0h1m4 0h2m2 0h1m25 0h1m24 0h1m-97 1h1m9 0h2m3 0h1m10 0h1m5 0h2m1 0h2m3 0h1m5 0h1m8 0h1m5 0h2m12 0h1m11 0h1m1 0h1m-81 1h1m1 0h1m2 0h2m5 0h1m1 0h1m2 0h3m7 0h1m3 0h1m2 0h1m1 0h1m1 0h1m11 0h2m5 0h1m3 0h1m1 0h1m1 0h1m23 0h1m-95 1h1m10 0h1m1 0h1m6 0h1m5 0h1m6 0h1m7 0h1m14 0h1m1 0h1m1 0h2m5 0h2m21 0h1m-90 1h1m11 0h3m10 0h2m12 0h1m3 0h1m5 0h1m2 0h1m5 0h1m5 0h2m1 0h1m1 0h3m2 0h1m16 0h1m-86 1h2m6 0h1m1 0h1m8 0h1m1 0h1m1 0h2m2 0h1m1 0h1m1 0h1m1 0h1m1 0h1m1 0h1m2 0h2m2 0h1m11 0h1m1 0h1m1 0h2m12 0h1m8 0h1m-92 1h2m3 0h1m2 0h1m7 0h2m2 0h2m14 0h1m1 0h1m2 0h1m4 0h1m1 0h1m1 0h1m10 0h1m2 0h1m5 0h1m1 0h2m1 0h1m-80 1h2m2 0h1m12 0h1m2 0h1m2 0h1m1 0h1m1 0h1m1 0h2m5 0h1m11 0h2m15 0h1m12 0h1m-75 1h1m4 0h2m10 0h1m1 0h1m3 0h1m2 0h2m6 0h2m3 0h1m13 0h1m8 0h1m2 0h1m4 0h1m1 0h2m-73 1h2m12 0h2m7 0h2m10 0h1m3 0h1m12 0h1m3 0h1m2 0h1m2 0h2m21 0h1m-86 1h2m6 0h1m8 0h1m2 0h3m3 0h3m4 0h1m4 0h1m3 0h1m4 0h1m3 0h1m1 0h2m7 0h2m8 0h1m1 0h1m11 0h1m-86 1h2m2 0h1m8 0h3m9 0h1m3 0h1m7 0h1m1 0h1m7 0h1m6 0h1m3 0h1m2 0h1m10 0h2m1 0h1m31 0h1m-121 1h1m10 0h1m2 0h2m27 0h1m3 0h1m3 0h1m7 0h1m18 0h1m11 0h1m16 0h1m-108 1h1m10 0h1m1 0h2m17 0h3m2 0h1m5 0h2m1 0h1m11 0h1m2 0h1m7 0h1m18 0h3m-77 1h1m6 0h2m1 0h2m1 0h1m1 0h1m4 0h2m2 0h2m7 0h2m8 0h1m8 0h1m4 0h1m15 0h1m3 0h1m-79 1h1m1 0h1m1 0h1m6 0h1m18 0h1m4 0h1m7 0h2m14 0h1m1 0h1m20 0h3m-77 1h1m8 0h1m11 0h1m1 0h2m5 0h3m10 0h1m10 0h1m1 0h1m1 0h1m11 0h2m2 0h1m3 0h1m-88 1h4m1 0h1m5 0h1m1 0h1m30 0h1m11 0h1m2 0h1m2 0h1m12 0h1m1 0h1m2 0h3m-93 1h1m6 0h1m7 0h1m4 0h1m4 0h1m4 0h1m5 0h2m12 0h1m1 0h2m5 0h1m8 0h1m14 0h1m2 0h2m-85 1h2m2 0h1m7 0h1m8 0h1m2 0h1m2 0h1m20 0h1m1 0h1m2 0h1m1 0h1m4 0h1m3 0h1m1 0h1m2 0h1m10 0h1m2 0h1m-86 1h2m8 0h1m1 0h1m1 0h1m7 0h1m4 0h1m1 0h1m2 0h1m3 0h1m13 0h1m3 0h1m6 0h2m3 0h1m2 0h1m1 0h2m8 0h3m4 0h1m10 0h1m-99 1h1m17 0h1m26 0h1m3 0h3m6 0h1m6 0h1m2 0h2m4 0h1m1 0h2m7 0h2m-83 1h3m1 0h1m9 0h1m2 0h1m11 0h1m14 0h1m12 0h3m1 0h1m1 0h2m3 0h1m2 0h2m4 0h3m-81 1h4m1 0h1m2 0h1m8 0h1m4 0h1m9 0h1m8 0h1m2 0h1m1 0h1m5 0h1m5 0h1m1 0h2m1 0h1m7 0h1m11 0h1m-87 1h1m4 0h2m2 0h1m7 0h1m14 0h1m6 0h1m1 0h1m3 0h2m13 0h2m2 0h1m8 0h1m5 0h1m1 0h1m1 0h1m1 0h1m1 0h1m-91 1h3m4 0h1m4 0h1m17 0h2m4 0h1m1 0h2m14 0h1m6 0h1m3 0h1m1 0h1m2 0h1m3 0h1m1 0h1m4 0h2m2 0h1m5 0h1m-91 1h1m8 0h1m8 0h1m12 0h1m1 0h2m16 0h1m2 0h1m8 0h1m1 0h1m2 0h1m2 0h1m1 0h1m1 0h1m9 0h1m-87 1h1m1 0h1m7 0h2m5 0h1m24 0h1m10 0h1m10 0h1m4 0h1m3 0h2m11 0h2m5 0h1m-88 1h1m12 0h1m10 0h2m1 0h1m3 0h1m3 0h2m3 0h1m2 0h2m3 0h1m1 0h1m3 0h1m9 0h1m8 0h1m1 0h1m12 0h1m-96 1h1m5 0h2m2 0h1m21 0h2m12 0h1m1 0h1m13 0h1m7 0h1m5 0h1m1 0h1m1 0h4m-86 1h1m7 0h3m7 0h1m4 0h1m10 0h1m9 0h1m35 0h1m-76 1h1m1 0h1m1 0h1m5 0h1m2 0h1m4 0h2m9 0h1m8 0h2m5 0h1m3 0h1m22 0h1m6 0h1m2 0h1m-87 1h1m9 0h1m1 0h1m6 0h2m1 0h1m1 0h1m12 0h1m11 0h2m3 0h1m1 0h1m14 0h1m4 0h1m1 0h1m2 0h1m2 0h1m-84 1h2m2 0h2m1 0h1m6 0h2m5 0h1m1 0h1m17 0h1m1 0h1m12 0h1m20 0h3m18 0h1m-96 1h3m2 0h1m8 0h2m5 0h1m9 0h1m11 0h2m9 0h1m12 0h1m9 0h2m1 0h1m-81 1h1m2 0h1m2 0h1m2 0h4m2 0h1m5 0h2m4 0h1m6 0h1m8 0h1m29 0h1m-76 1h2m3 0h1m1 0h3m3 0h2m5 0h1m3 0h2m6 0h4m6 0h1m1 0h1m46 0h1m-89 1h2m3 0h1m1 0h1m12 0h1m7 0h1m6 0h1m2 0h1m-36 1h1m1 0h1m4 0h1m6 0h2m5 0h1m2 0h1m4 0h2m6 0h1m-35 1h2m23 0h2m1 0h3m4 0h1m6 0h1m19 0h1m-70 1h1m3 0h1m1 0h1m1 0h1m6 0h2m3 0h2m1 0h1m2 0h1m9 0h1m4 0h1m-41 1h1m2 0h1m4 0h1m1 0h2m4 0h1m2 0h1m3 0h1m7 0h2m2 0h1m1 0h2m20 0h1m-61 1h1m2 0h1m1 0h1m7 0h1m7 0h1m3 0h1m1 0h2m4 0h1m8 0h1m-44 1h1m6 0h2m3 0h1m1 0h1m15 0h2m5 0h3m0 1h1m-33 1h1m22 0h1m-27 1h3m21 0h2m5 0h2m2 0h1m-21 1h1m7 0h1m-14 2h1m6 0h1"/>
<path stroke="#e7e419" d="M165 1.5h1m1 1h1m6 1h1m4 0h1m-9 3h1m7 13h1m3 0h1m4 0h1m-6 1h1m-11 1h1m10 0h2m-3 1h1m-36 13h1m-4 3h1m-26 2h1m13 1h2m-1 1h1m23 0h1m-6 3h2m6 0h1m1 1h1m-5 1h1m-63 1h1m58 0h1m3 0h2m1 0h2m-3 1h1m-26 1h1m2 0h1m6 2h2m14 0h1m-22 1h1m5 1h1m-3 1h1m1 0h3m-102 1h1m53 0h3m20 0h1m14 0h1m2 0h3m-45 1h1m2 0h2m20 0h1m10 0h2m1 0h2m2 0h1m10 0h1m-110 1h3m1 0h1m55 0h1m19 0h2m2 0h3m1 0h4m4 0h1m1 0h1m-99 1h5m45 0h2m5 0h1m21 0h2m1 0h2m11 0h1m1 0h4m-101 1h4m46 0h2m24 0h1m1 0h3m2 0h1m3 0h1m9 0h4m26 0h1m-126 1h1m1 0h2m43 0h1m1 0h2m2 0h1m20 0h2m1 0h1m1 0h1m-82 1h1m3 0h1m39 0h1m5 0h2m1 0h1m6 0h2m13 0h2m1 0h5m3 0h1m42 0h1m-130 1h3m49 0h1m6 0h1m18 0h1m2 0h1m23 0h1m-105 1h2m56 0h1m14 0h1m-76 1h2m4 0h1m65 0h2m17 0h1m20 0h1m-105 1h1m49 0h1m6 0h1m2 0h5m5 0h1m11 0h1m61 0h2m-154 1h1m2 0h2m2 0h2m46 0h2m1 0h1m4 0h1m4 0h4m8 0h2m70 0h1m-149 1h3m1 0h1m48 0h1m7 0h8m8 0h1m41 0h1m5 0h1m22 0h1m-150 1h7m3 0h1m46 0h1m2 0h3m3 0h3m1 0h1m77 0h2m-150 1h1m1 0h6m44 0h2m5 0h2m2 0h1m6 0h1m78 0h1m-153 1h1m2 0h1m3 0h2m7 0h1m39 0h1m2 0h3m8 0h4m77 0h2m-190 1h4m36 0h3m1 0h2m1 0h1m45 0h1m1 0h2m9 0h2m1 0h1m13 0h1m64 0h1m-189 1h1m3 0h2m31 0h8m1 0h1m44 0h1m1 0h2m12 0h3m51 0h1m26 0h1m-189 1h1m4 0h2m31 0h1m2 0h1m2 0h2m5 0h2m37 0h3m13 0h4m1 0h1m3 0h1m71 0h2m-190 1h1m6 0h1m34 0h1m3 0h3m2 0h1m40 0h2m2 0h1m4 0h1m1 0h1m1 0h8m3 0h1m7 0h1m63 0h1m-188 1h1m5 0h1m30 0h2m1 0h1m5 0h1m6 0h6m29 0h3m9 0h1m3 0h1m1 0h4m11 0h1m40 0h1m24 0h1m-192 1h5m5 0h1m26 0h8m10 0h3m4 0h1m29 0h2m13 0h8m5 0h1m4 0h1m5 0h1m26 0h1m31 0h2m-193 1h2m9 0h2m24 0h2m1 0h1m5 0h2m7 0h2m7 0h1m27 0h2m13 0h1m1 0h3m1 0h2m9 0h2m65 0h1m-192 1h1m11 0h1m23 0h1m11 0h2m4 0h2m8 0h1m26 0h2m13 0h1m2 0h1m1 0h2m1 0h1m8 0h1m7 0h1m7 0h1m47 0h1m2 0h2m-191 1h1m10 0h4m19 0h1m3 0h1m9 0h6m10 0h1m24 0h2m13 0h1m1 0h8m2 0h1m6 0h1m63 0h2m-188 1h1m12 0h5m14 0h1m15 0h4m12 0h2m22 0h1m3 0h1m3 0h1m3 0h1m2 0h9m24 0h1m49 0h1m-187 1h1m17 0h12m1 0h2m32 0h2m19 0h2m6 0h1m4 0h3m7 0h1m1 0h1m73 0h1m-185 1h1m24 0h1m2 0h3m34 0h1m10 0h1m8 0h1m1 0h1m2 0h1m9 0h1m4 0h2m1 0h1m1 0h1m1 0h1m68 0h3m-183 1h1m14 0h1m48 0h2m16 0h2m1 0h1m1 0h2m1 0h2m10 0h1m1 0h7m68 0h2m-181 1h1m64 0h2m14 0h2m22 0h1m72 0h2m-179 1h1m9 0h1m54 0h1m10 0h5m2 0h1m1 0h1m9 0h1m2 0h1m4 0h1m72 0h2m-178 1h1m64 0h1m1 0h1m7 0h1m1 0h2m5 0h2m1 0h1m24 0h1m4 0h1m57 0h2m-176 1h1m52 0h1m12 0h2m9 0h1m2 0h1m2 0h3m5 0h1m12 0h1m2 0h2m45 0h1m18 0h2m-175 1h1m53 0h2m11 0h2m3 0h2m3 0h1m1 0h3m1 0h1m1 0h1m1 0h1m7 0h1m7 0h2m2 0h1m1 0h2m61 0h2m-173 1h1m32 0h1m7 0h1m4 0h1m20 0h2m1 0h2m1 0h1m12 0h2m14 0h1m4 0h1m6 0h1m55 0h1m-171 1h1m31 0h1m1 0h1m6 0h1m1 0h1m2 0h1m21 0h3m2 0h2m2 0h1m10 0h1m5 0h1m12 0h1m62 0h1m-171 1h1m24 0h1m1 0h1m2 0h1m5 0h6m4 0h1m22 0h1m2 0h3m12 0h1m3 0h1m8 0h1m5 0h1m1 0h1m4 0h1m55 0h1m-170 1h1m21 0h1m1 0h1m1 0h5m1 0h1m1 0h1m1 0h3m8 0h1m25 0h5m8 0h1m3 0h1m14 0h2m9 0h1m51 0h1m-168 1h1m22 0h9m2 0h4m3 0h1m1 0h1m20 0h1m8 0h2m1 0h1m2 0h2m1 0h2m1 0h1m4 0h1m5 0h2m4 0h1m2 0h1m61 0h1m-168 1h1m22 0h1m1 0h3m1 0h1m1 0h1m4 0h2m2 0h1m1 0h3m27 0h1m2 0h1m4 0h1m9 0h3m3 0h1m9 0h2m9 0h1m48 0h1m-167 1h1m19 0h1m1 0h3m1 0h6m3 0h4m1 0h3m1 0h4m20 0h2m1 0h1m1 0h5m13 0h3m1 0h1m3 0h1m5 0h2m10 0h1m47 0h2m-166 1h1m19 0h1m3 0h4m4 0h1m1 0h3m1 0h3m2 0h4m9 0h2m9 0h1m1 0h1m1 0h1m1 0h1m2 0h1m14 0h5m8 0h1m16 0h1m41 0h2m-165 1h1m18 0h1m1 0h6m1 0h3m1 0h2m1 0h1m1 0h2m4 0h4m2 0h1m8 0h1m1 0h1m2 0h1m2 0h2m3 0h4m14 0h1m2 0h4m1 0h1m65 0h1m-163 1h1m19 0h7m1 0h4m1 0h7m1 0h4m3 0h1m6 0h1m1 0h3m5 0h6m3 0h1m15 0h4m68 0h1m-163 1h1m18 0h7m1 0h1m3 0h5m2 0h2m1 0h2m1 0h1m12 0h1m1 0h1m4 0h9m5 0h1m1 0h2m7 0h1m1 0h4m6 0h1m6 0h1m1 0h1m50 0h1m-162 1h2m18 0h6m2 0h3m1 0h9m19 0h1m2 0h1m2 0h1m1 0h2m1 0h1m1 0h1m3 0h1m2 0h2m8 0h1m1 0h1m1 0h3m4 0h2m2 0h5m5 0h1m45 0h1m-161 1h1m5 0h1m13 0h7m4 0h3m1 0h4m3 0h1m4 0h4m5 0h2m2 0h2m1 0h2m2 0h5m3 0h1m2 0h2m10 0h3m2 0h5m1 0h3m3 0h1m51 0h1m-159 1h1m19 0h1m1 0h1m1 0h1m1 0h1m1 0h1m1 0h1m9 0h1m7 0h1m6 0h1m6 0h1m1 0h1m1 0h1m1 0h3m8 0h3m4 0h1m4 0h1m5 0h4m4 0h2m50 0h1m-158 1h2m21 0h2m5 0h1m1 0h1m4 0h1m7 0h1m1 0h1m5 0h1m5 0h2m1 0h1m1 0h1m3 0h2m1 0h4m1 0h2m1 0h1m5 0h3m4 0h2m1 0h1m1 0h3m1 0h1m2 0h1m1 0h1m49 0h1m-156 1h1m23 0h1m2 0h1m1 0h5m4 0h1m6 0h2m2 0h1m3 0h5m2 0h1m5 0h1m2 0h2m1 0h2m1 0h5m1 0h1m2 0h1m12 0h2m1 0h1m54 0h1m-156 1h2m28 0h5m2 0h1m7 0h2m3 0h1m3 0h1m7 0h1m7 0h2m1 0h7m1 0h1m5 0h1m66 0h1m-154 1h1m17 0h1m9 0h2m1 0h4m9 0h1m1 0h2m5 0h2m7 0h1m5 0h1m1 0h10m4 0h1m67 0h1m-152 1h1m18 0h1m6 0h1m5 0h2m1 0h1m2 0h1m14 0h4m3 0h2m4 0h13m11 0h2m10 0h1m47 0h1m-150 1h1m12 0h1m1 0h2m1 0h1m11 0h4m4 0h1m15 0h2m1 0h2m2 0h2m1 0h6m1 0h8m12 0h1m12 0h1m2 0h1m40 0h1m-149 1h2m21 0h3m5 0h1m2 0h2m1 0h3m3 0h2m2 0h1m6 0h3m2 0h7m1 0h2m2 0h3m1 0h2m1 0h1m9 0h4m55 0h1m-147 1h1m19 0h5m1 0h3m1 0h4m7 0h1m4 0h1m7 0h1m5 0h4m2 0h2m1 0h1m2 0h2m3 0h2m11 0h1m54 0h1m-145 1h1m18 0h2m1 0h7m9 0h1m1 0h1m2 0h2m8 0h1m1 0h1m3 0h1m1 0h1m6 0h3m2 0h2m4 0h1m26 0h1m36 0h2m-144 1h1m14 0h2m2 0h6m1 0h2m1 0h2m4 0h10m7 0h1m2 0h1m3 0h1m4 0h1m8 0h1m3 0h2m62 0h1m-141 1h1m3 0h1m14 0h7m3 0h2m2 0h1m3 0h2m1 0h2m1 0h1m9 0h1m5 0h1m1 0h1m15 0h1m10 0h1m49 0h2m-140 1h2m1 0h2m14 0h3m3 0h1m2 0h1m1 0h1m1 0h4m2 0h2m4 0h3m5 0h2m6 0h1m2 0h1m10 0h2m28 0h1m3 0h1m28 0h2m-138 1h1m1 0h2m9 0h1m5 0h1m2 0h1m5 0h1m3 0h6m1 0h1m2 0h2m1 0h3m3 0h2m6 0h1m8 0h1m5 0h1m4 0h1m4 0h1m3 0h3m1 0h1m42 0h1m-135 1h4m5 0h1m3 0h2m2 0h1m7 0h1m5 0h8m17 0h1m14 0h1m15 0h2m1 0h1m2 0h1m39 0h1m-134 1h1m1 0h3m22 0h1m2 0h9m20 0h1m10 0h1m1 0h1m3 0h1m13 0h2m40 0h1m-133 1h2m1 0h1m17 0h1m3 0h2m4 0h1m4 0h2m15 0h1m4 0h1m13 0h2m12 0h1m44 0h1m-132 1h5m11 0h1m3 0h1m1 0h2m9 0h1m1 0h1m1 0h1m16 0h1m1 0h1m15 0h2m1 0h1m10 0h1m43 0h1m-131 1h3m15 0h1m3 0h3m1 0h1m25 0h1m3 0h1m4 0h1m9 0h1m1 0h1m15 0h2m38 0h1m-130 1h4m3 0h1m6 0h1m10 0h2m5 0h1m17 0h3m3 0h1m4 0h1m8 0h2m2 0h1m2 0h1m50 0h1m-129 1h4m2 0h2m41 0h3m1 0h3m5 0h1m11 0h2m2 0h2m4 0h2m42 0h1m-128 1h4m1 0h2m15 0h1m8 0h2m17 0h1m1 0h1m1 0h1m14 0h1m1 0h5m11 0h1m38 0h1m-127 1h4m1 0h3m3 0h1m19 0h2m5 0h1m3 0h1m8 0h4m8 0h1m5 0h2m2 0h3m48 0h2m-126 1h1m3 0h1m1 0h2m2 0h1m18 0h1m4 0h1m1 0h1m1 0h1m9 0h1m1 0h1m1 0h3m1 0h1m8 0h1m3 0h2m2 0h1m15 0h1m33 0h2m-125 1h2m1 0h1m1 0h3m29 0h1m1 0h1m1 0h4m2 0h1m4 0h1m1 0h2m1 0h1m6 0h1m1 0h1m2 0h1m1 0h1m50 0h2m-129 1h3m1 0h2m1 0h1m1 0h4m24 0h1m8 0h1m3 0h3m1 0h1m2 0h2m1 0h2m3 0h1m1 0h1m3 0h2m1 0h1m1 0h1m4 0h2m28 0h1m14 0h2m-128 1h5m1 0h6m1 0h1m24 0h1m10 0h1m9 0h1m13 0h3m10 0h1m37 0h2m-126 1h2m1 0h2m1 0h5m14 0h1m21 0h1m1 0h1m4 0h1m9 0h1m7 0h3m9 0h1m38 0h2m-125 1h3m1 0h5m1 0h1m13 0h2m14 0h1m8 0h1m3 0h1m17 0h4m3 0h1m2 0h1m2 0h2m1 0h1m33 0h2m-123 1h3m2 0h1m3 0h1m3 0h1m1 0h3m1 0h2m1 0h1m2 0h1m12 0h1m2 0h1m12 0h1m1 0h1m2 0h1m7 0h1m4 0h1m4 0h1m5 0h1m5 0h1m30 0h2m-121 1h2m5 0h1m2 0h1m1 0h1m1 0h1m22 0h1m6 0h1m13 0h1m9 0h1m2 0h1m1 0h1m2 0h2m2 0h1m37 0h1m-118 1h2m9 0h1m3 0h1m38 0h5m6 0h1m9 0h1m7 0h1m31 0h2m-116 1h1m7 0h1m12 0h1m1 0h1m21 0h1m67 0h2m-115 1h3m3 0h1m2 0h1m13 0h2m10 0h2m7 0h1m20 0h1m14 0h1m31 0h1m-111 1h1m2 0h1m1 0h1m1 0h1m4 0h2m8 0h3m13 0h1m1 0h3m65 0h2m-110 1h2m1 0h1m2 0h3m3 0h4m1 0h4m13 0h2m1 0h2m4 0h2m60 0h3m-107 1h2m1 0h3m1 0h1m1 0h4m4 0h3m2 0h1m14 0h1m2 0h1m1 0h1m28 0h1m30 0h2m-103 1h8m2 0h2m1 0h1m5 0h3m3 0h1m5 0h1m3 0h1m20 0h1m31 0h7m2 0h4m-102 1h2m1 0h3m5 0h2m8 0h1m5 0h1m3 0h2m2 0h1m1 0h1m4 0h1m45 0h2m5 0h4m-99 1h3m1 0h2m2 0h1m1 0h1m1 0h1m3 0h1m1 0h1m1 0h1m6 0h2m59 0h1m-89 1h2m1 0h2m3 0h1m3 0h3m4 0h1m8 0h1m33 0h4m13 0h6m3 0h1m-90 1h2m1 0h4m1 0h1m6 0h1m10 0h1m2 0h3m6 0h1m7 0h14m1 0h2m3 0h7m6 0h2m4 0h5m-90 1h4m2 0h3m2 0h1m2 0h1m14 0h1m1 0h2m2 0h1m2 0h2m6 0h1m9 0h1m2 0h3m10 0h4m3 0h1m-79 1h2m3 0h1m1 0h1m2 0h1m19 0h2m3 0h2m1 0h1m2 0h5m28 0h5m-79 1h2m3 0h1m22 0h1m6 0h2m2 0h1m2 0h2m-43 1h1m3 0h5m20 0h13m-34 1h4m12 0h6m3 0h3m-25 1h1m11 0h2m-15 1h4m7 0h3m-11 1h2m4 0h3m-8 1h6"/>
</g><use href="#sm"/>
</g>
<text x="1182.6" y="1915.3" font-size="36.2" fill="#4d4d4d" text-anchor="middle">20°E</text>
<text x="1410.6" y="1915.3" font-size="36.2" fill="#4d4d4d" text-anchor="middle">25°E</text>
<text x="1638.6" y="1915.3" font-size="36.2" fill="#4d4d4d" text-anchor="middle">30°E</text>
<path d="M1182.60 1868.6v11.46M1410.60 1868.6v11.46M1638.60 1868.6v11.46" stroke="#333" stroke-width="4.45" fill="none"/>
<defs><linearGradient id="vg" x1="0" y1="1" x2="0" y2="0">
<stop offset="0.0000" stop-color="#440154"/>
<stop offset="0.0909" stop-color="#482173"/>
<stop offset="0.1818" stop-color="#433e85"/>
<stop offset="0.2727" stop-color="#38598c"/>
<stop offset="0.3636" stop-color="#2d708e"/>
<stop offset="0.4545" stop-color="#25858e"/>
<stop offset="0.5455" stop-color="#1e9b8a"/>
<stop offset="0.6364" stop-color="#2ab07f"/>
<stop offset="0.7273" stop-color="#51c56a"/>
<stop offset="0.8182" stop-color="#86d549"/>
<stop offset="0.9091" stop-color="#c2df23"/>
<stop offset="1.0000" stop-color="#fde725"/>
</linearGradient></defs>
<text x="1878.2" y="919.7" font-size="45.2" fill="#000">psi</text>
<rect x="1877.9" y="947.5" width="72" height="360" fill="url(#vg)"/>
<text x="1973.0" y="960.8" font-size="36.2" fill="#000">1.00</text>
<text x="1973.0" y="1050.8" font-size="36.2" fill="#000">0.75</text>
<text x="1973.0" y="1140.8" font-size="36.2" fill="#000">0.50</text>
<text x="1973.0" y="1230.8" font-size="36.2" fill="#000">0.25</text>
<text x="1973.0" y="1320.8" font-size="36.2" fill="#000">0.00</text>
<path d="M1877.9 947.5h14.4M1935.5 947.5h14.4M1877.9 1037.5h14.4M1935.5 1037.5h14.4M1877.9 1127.5h14.4M1935.5 1127.5h14.4M1877.9 1217.5h14.4M1935.5 1217.5h14.4M1877.9 1307.5h14.4M1935.5 1307.5h14.4" stroke="#fff" stroke-width="1.6" fill="none"/>
</svg>
</body></html>
